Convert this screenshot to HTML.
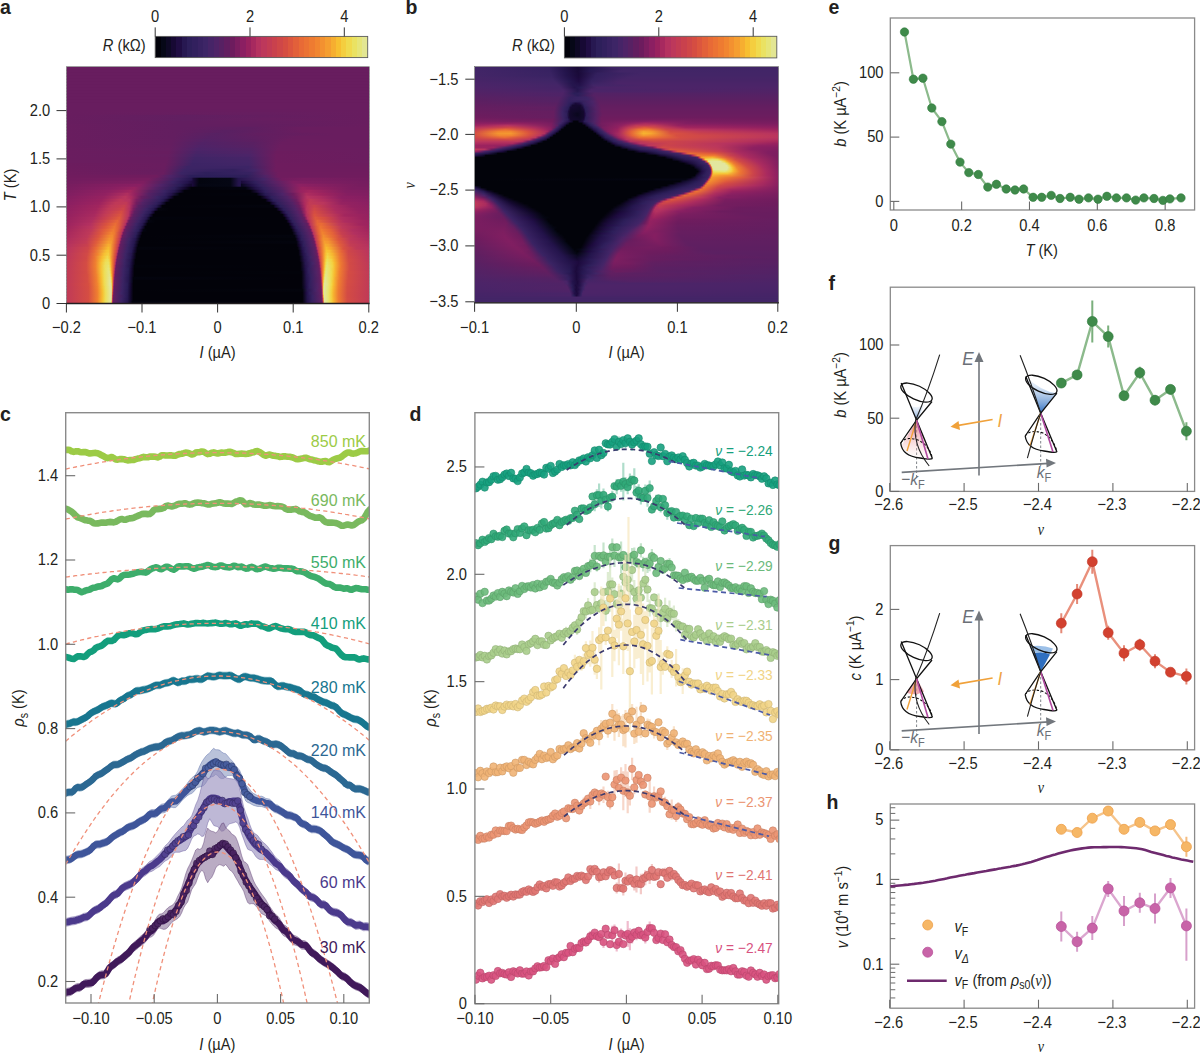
<!DOCTYPE html>
<html><head><meta charset="utf-8"><title>figure</title>
<style>html,body{margin:0;padding:0;background:#fff;}body{width:1200px;height:1054px;overflow:hidden;font-family:"Liberation Sans", sans-serif;}svg{display:block;}</style>
</head><body>
<svg width="1200" height="1054" viewBox="0 0 1200 1054" font-family='"Liberation Sans", sans-serif' font-size="15" fill="#231f20"><defs><linearGradient id="cbar"><stop offset="0.0000" stop-color="#02020a"/><stop offset="0.0250" stop-color="#02020a"/><stop offset="0.0250" stop-color="#060817"/><stop offset="0.0500" stop-color="#060817"/><stop offset="0.0500" stop-color="#0e0925"/><stop offset="0.0750" stop-color="#0e0925"/><stop offset="0.0750" stop-color="#170934"/><stop offset="0.1000" stop-color="#170934"/><stop offset="0.1000" stop-color="#200d43"/><stop offset="0.1250" stop-color="#200d43"/><stop offset="0.1250" stop-color="#271851"/><stop offset="0.1500" stop-color="#271851"/><stop offset="0.1500" stop-color="#2d1f5a"/><stop offset="0.1750" stop-color="#2d1f5a"/><stop offset="0.1750" stop-color="#32205e"/><stop offset="0.2000" stop-color="#32205e"/><stop offset="0.2000" stop-color="#382262"/><stop offset="0.2250" stop-color="#382262"/><stop offset="0.2250" stop-color="#3d2566"/><stop offset="0.2500" stop-color="#3d2566"/><stop offset="0.2500" stop-color="#462467"/><stop offset="0.2750" stop-color="#462467"/><stop offset="0.2750" stop-color="#4f2367"/><stop offset="0.3000" stop-color="#4f2367"/><stop offset="0.3000" stop-color="#572163"/><stop offset="0.3250" stop-color="#572163"/><stop offset="0.3250" stop-color="#621e60"/><stop offset="0.3500" stop-color="#621e60"/><stop offset="0.3500" stop-color="#6d1c5e"/><stop offset="0.3750" stop-color="#6d1c5e"/><stop offset="0.3750" stop-color="#7c1e60"/><stop offset="0.4000" stop-color="#7c1e60"/><stop offset="0.4000" stop-color="#8b1f62"/><stop offset="0.4250" stop-color="#8b1f62"/><stop offset="0.4250" stop-color="#99225f"/><stop offset="0.4500" stop-color="#99225f"/><stop offset="0.4500" stop-color="#a7295f"/><stop offset="0.4750" stop-color="#a7295f"/><stop offset="0.4750" stop-color="#b53260"/><stop offset="0.5000" stop-color="#b53260"/><stop offset="0.5000" stop-color="#bd385b"/><stop offset="0.5250" stop-color="#bd385b"/><stop offset="0.5250" stop-color="#c33c54"/><stop offset="0.5500" stop-color="#c33c54"/><stop offset="0.5500" stop-color="#c9414d"/><stop offset="0.5750" stop-color="#c9414d"/><stop offset="0.5750" stop-color="#cf4748"/><stop offset="0.6000" stop-color="#cf4748"/><stop offset="0.6000" stop-color="#d54d42"/><stop offset="0.6250" stop-color="#d54d42"/><stop offset="0.6250" stop-color="#dc563e"/><stop offset="0.6500" stop-color="#dc563e"/><stop offset="0.6500" stop-color="#e2603a"/><stop offset="0.6750" stop-color="#e2603a"/><stop offset="0.6750" stop-color="#e86a36"/><stop offset="0.7000" stop-color="#e86a36"/><stop offset="0.7000" stop-color="#eb7234"/><stop offset="0.7250" stop-color="#eb7234"/><stop offset="0.7250" stop-color="#ee7b31"/><stop offset="0.7500" stop-color="#ee7b31"/><stop offset="0.7500" stop-color="#f18530"/><stop offset="0.7750" stop-color="#f18530"/><stop offset="0.7750" stop-color="#f39130"/><stop offset="0.8000" stop-color="#f39130"/><stop offset="0.8000" stop-color="#f59e30"/><stop offset="0.8250" stop-color="#f59e30"/><stop offset="0.8250" stop-color="#f6ae30"/><stop offset="0.8500" stop-color="#f6ae30"/><stop offset="0.8500" stop-color="#f7bf31"/><stop offset="0.8750" stop-color="#f7bf31"/><stop offset="0.8750" stop-color="#f4ce3f"/><stop offset="0.9000" stop-color="#f4ce3f"/><stop offset="0.9000" stop-color="#f0da4e"/><stop offset="0.9250" stop-color="#f0da4e"/><stop offset="0.9250" stop-color="#eae262"/><stop offset="0.9500" stop-color="#eae262"/><stop offset="0.9500" stop-color="#e6e579"/><stop offset="0.9750" stop-color="#e6e579"/><stop offset="0.9750" stop-color="#e3e693"/><stop offset="1.0000" stop-color="#e3e693"/></linearGradient>
<linearGradient id="ga13"><stop offset="0" stop-color="#681d5f"/><stop offset="0.6898" stop-color="#681d5f"/><stop offset="1" stop-color="#681d5f"/></linearGradient>
<linearGradient id="ga14"><stop offset="0" stop-color="#681d5f"/><stop offset="0.6601" stop-color="#671d5f"/><stop offset="1" stop-color="#681d5f"/></linearGradient>
<linearGradient id="ga15"><stop offset="0" stop-color="#681d5f"/><stop offset="0.6469" stop-color="#661e60"/><stop offset="1" stop-color="#681d5f"/></linearGradient>
<linearGradient id="ga16"><stop offset="0" stop-color="#681d5f"/><stop offset="0.4026" stop-color="#611f61"/><stop offset="1" stop-color="#681d5f"/></linearGradient>
<linearGradient id="ga17"><stop offset="0" stop-color="#681d5f"/><stop offset="0.3894" stop-color="#611f61"/><stop offset="0.6535" stop-color="#661e60"/><stop offset="1" stop-color="#681d5f"/></linearGradient>
<linearGradient id="ga18"><stop offset="0" stop-color="#681d5f"/><stop offset="0.3795" stop-color="#621e60"/><stop offset="0.6403" stop-color="#641e60"/><stop offset="1" stop-color="#681d5f"/></linearGradient>
<linearGradient id="ga19"><stop offset="0" stop-color="#691d5f"/><stop offset="0.3729" stop-color="#621e60"/><stop offset="0.6271" stop-color="#621e60"/><stop offset="1" stop-color="#691d5f"/></linearGradient>
<linearGradient id="ga20"><stop offset="0" stop-color="#691d5f"/><stop offset="0.3663" stop-color="#621e60"/><stop offset="0.5974" stop-color="#5d1f61"/><stop offset="0.7657" stop-color="#691d5f"/><stop offset="1" stop-color="#691d5f"/></linearGradient>
<linearGradient id="ga21"><stop offset="0" stop-color="#691d5f"/><stop offset="0.3597" stop-color="#631e60"/><stop offset="0.5281" stop-color="#592062"/><stop offset="0.7789" stop-color="#691d5f"/><stop offset="1" stop-color="#691d5f"/></linearGradient>
<linearGradient id="ga22"><stop offset="0" stop-color="#691d5f"/><stop offset="0.3564" stop-color="#631e60"/><stop offset="0.495" stop-color="#572163"/><stop offset="0.637" stop-color="#621e60"/><stop offset="0.8878" stop-color="#691d5f"/><stop offset="1" stop-color="#691d5f"/></linearGradient>
<linearGradient id="ga23"><stop offset="0" stop-color="#691d5f"/><stop offset="0.3531" stop-color="#631e60"/><stop offset="0.4719" stop-color="#562164"/><stop offset="0.6271" stop-color="#5f1f61"/><stop offset="0.7558" stop-color="#691d5f"/><stop offset="1" stop-color="#691d5f"/></linearGradient>
<linearGradient id="ga24"><stop offset="0" stop-color="#691d5f"/><stop offset="0.3498" stop-color="#641e60"/><stop offset="0.4587" stop-color="#542265"/><stop offset="0.6238" stop-color="#5d1f61"/><stop offset="0.7327" stop-color="#6a1d5f"/><stop offset="1" stop-color="#691d5f"/></linearGradient>
<linearGradient id="ga25"><stop offset="0" stop-color="#691d5f"/><stop offset="0.3465" stop-color="#641e60"/><stop offset="0.4488" stop-color="#512266"/><stop offset="0.6172" stop-color="#592062"/><stop offset="0.7129" stop-color="#6a1d5f"/><stop offset="1" stop-color="#691d5f"/></linearGradient>
<linearGradient id="ga26"><stop offset="0" stop-color="#691d5f"/><stop offset="0.3432" stop-color="#651e60"/><stop offset="0.4422" stop-color="#4f2367"/><stop offset="0.6139" stop-color="#572163"/><stop offset="0.7063" stop-color="#6b1d5f"/><stop offset="1" stop-color="#691d5f"/></linearGradient>
<linearGradient id="ga27"><stop offset="0" stop-color="#6a1d5f"/><stop offset="0.3399" stop-color="#661e60"/><stop offset="0.4356" stop-color="#4c2468"/><stop offset="0.6106" stop-color="#532265"/><stop offset="0.6997" stop-color="#6b1d5f"/><stop offset="1" stop-color="#6a1d5f"/></linearGradient>
<linearGradient id="ga28"><stop offset="0" stop-color="#6a1d5f"/><stop offset="0.3366" stop-color="#671d5f"/><stop offset="0.4323" stop-color="#482467"/><stop offset="0.6073" stop-color="#502366"/><stop offset="0.6964" stop-color="#6c1c5e"/><stop offset="1" stop-color="#6a1d5f"/></linearGradient>
<linearGradient id="ga29"><stop offset="0" stop-color="#6a1d5f"/><stop offset="0.3366" stop-color="#661e60"/><stop offset="0.429" stop-color="#442567"/><stop offset="0.604" stop-color="#4c2468"/><stop offset="0.6931" stop-color="#6d1c5e"/><stop offset="1" stop-color="#6a1d5f"/></linearGradient>
<linearGradient id="ga30"><stop offset="0" stop-color="#6a1d5f"/><stop offset="0.3333" stop-color="#671d5f"/><stop offset="0.4257" stop-color="#402566"/><stop offset="0.6007" stop-color="#462467"/><stop offset="0.6931" stop-color="#6d1c5e"/><stop offset="1" stop-color="#6a1d5f"/></linearGradient>
<linearGradient id="ga31"><stop offset="0" stop-color="#6b1d5f"/><stop offset="0.33" stop-color="#681d5f"/><stop offset="0.4191" stop-color="#3e2566"/><stop offset="0.604" stop-color="#442567"/><stop offset="0.6898" stop-color="#6d1c5e"/><stop offset="1" stop-color="#6b1d5f"/></linearGradient>
<linearGradient id="ga32"><stop offset="0" stop-color="#6c1c5e"/><stop offset="0.3267" stop-color="#691d5f"/><stop offset="0.4158" stop-color="#3c2465"/><stop offset="0.604" stop-color="#422567"/><stop offset="0.6931" stop-color="#6e1c5e"/><stop offset="1" stop-color="#6c1c5e"/></linearGradient>
<linearGradient id="ga33"><stop offset="0" stop-color="#6d1c5e"/><stop offset="0.3234" stop-color="#691d5f"/><stop offset="0.3993" stop-color="#3c2464"/><stop offset="0.6007" stop-color="#3c2465"/><stop offset="0.6931" stop-color="#6e1c5e"/><stop offset="1" stop-color="#6d1c5e"/></linearGradient>
<linearGradient id="ga34"><stop offset="0" stop-color="#6e1c5e"/><stop offset="0.3234" stop-color="#681d5f"/><stop offset="0.3894" stop-color="#3b2464"/><stop offset="0.5512" stop-color="#33205e"/><stop offset="0.6205" stop-color="#422567"/><stop offset="0.6898" stop-color="#6e1c5e"/><stop offset="1" stop-color="#6e1c5e"/></linearGradient>
<linearGradient id="ga35"><stop offset="0" stop-color="#6f1c5e"/><stop offset="0.3201" stop-color="#691d5f"/><stop offset="0.3795" stop-color="#3b2464"/><stop offset="0.462" stop-color="#2e1f5b"/><stop offset="0.6073" stop-color="#372261"/><stop offset="0.6568" stop-color="#582163"/><stop offset="0.6997" stop-color="#6f1c5e"/><stop offset="1" stop-color="#6f1c5e"/></linearGradient>
<linearGradient id="ga36"><stop offset="0" stop-color="#701c5e"/><stop offset="0.297" stop-color="#701c5e"/><stop offset="0.3432" stop-color="#4f2367"/><stop offset="0.4125" stop-color="#2b1e59"/><stop offset="0.5941" stop-color="#2e1f5a"/><stop offset="0.6568" stop-color="#502366"/><stop offset="0.6997" stop-color="#6f1c5e"/><stop offset="1" stop-color="#701c5e"/></linearGradient>
<linearGradient id="ga37"><stop offset="0" stop-color="#721c5f"/><stop offset="0.2706" stop-color="#771d5f"/><stop offset="0.3201" stop-color="#5a2062"/><stop offset="0.3663" stop-color="#392362"/><stop offset="0.4125" stop-color="#25164f"/><stop offset="0.4191" stop-color="#170934"/><stop offset="0.4389" stop-color="#03050f"/><stop offset="0.5413" stop-color="#050714"/><stop offset="0.5677" stop-color="#24144b"/><stop offset="0.6502" stop-color="#432567"/><stop offset="0.7129" stop-color="#721c5f"/><stop offset="0.7855" stop-color="#7a1d60"/><stop offset="1" stop-color="#721c5f"/></linearGradient>
<linearGradient id="ga38"><stop offset="0" stop-color="#741d5f"/><stop offset="0.2541" stop-color="#7e1e60"/><stop offset="0.3531" stop-color="#3a2363"/><stop offset="0.3993" stop-color="#24144d"/><stop offset="0.4191" stop-color="#170934"/><stop offset="0.4389" stop-color="#03050f"/><stop offset="0.5413" stop-color="#050714"/><stop offset="0.5677" stop-color="#24144b"/><stop offset="0.5743" stop-color="#25164f"/><stop offset="0.5776" stop-color="#1a0a3a"/><stop offset="0.6238" stop-color="#301f5c"/><stop offset="0.6799" stop-color="#532265"/><stop offset="0.7492" stop-color="#801e61"/><stop offset="1" stop-color="#741d5f"/></linearGradient>
<linearGradient id="ga39"><stop offset="0" stop-color="#771d5f"/><stop offset="0.1716" stop-color="#851e61"/><stop offset="0.2409" stop-color="#891f62"/><stop offset="0.3135" stop-color="#4f2367"/><stop offset="0.3762" stop-color="#291d56"/><stop offset="0.4059" stop-color="#170934"/><stop offset="0.4125" stop-color="#11092a"/><stop offset="0.4158" stop-color="#1b0a3c"/><stop offset="0.4356" stop-color="#040612"/><stop offset="0.5413" stop-color="#050714"/><stop offset="0.5677" stop-color="#24144b"/><stop offset="0.5743" stop-color="#25164f"/><stop offset="0.5776" stop-color="#0a081f"/><stop offset="0.6106" stop-color="#221149"/><stop offset="0.637" stop-color="#31205d"/><stop offset="0.6931" stop-color="#552164"/><stop offset="0.769" stop-color="#8d2062"/><stop offset="0.967" stop-color="#771d5f"/><stop offset="1" stop-color="#771d5f"/></linearGradient>
<linearGradient id="ga40"><stop offset="0" stop-color="#7a1d60"/><stop offset="0.1485" stop-color="#881f62"/><stop offset="0.2244" stop-color="#962260"/><stop offset="0.297" stop-color="#532265"/><stop offset="0.3564" stop-color="#2e1f5a"/><stop offset="0.3894" stop-color="#160932"/><stop offset="0.4125" stop-color="#020209"/><stop offset="0.5908" stop-color="#03040f"/><stop offset="0.6238" stop-color="#221148"/><stop offset="0.6502" stop-color="#32205d"/><stop offset="0.7063" stop-color="#552164"/><stop offset="0.7789" stop-color="#98225f"/><stop offset="0.9439" stop-color="#7b1d60"/><stop offset="1" stop-color="#7a1d60"/></linearGradient>
<linearGradient id="ga41"><stop offset="0" stop-color="#7d1e60"/><stop offset="0.1386" stop-color="#8e2061"/><stop offset="0.2112" stop-color="#a3265e"/><stop offset="0.2739" stop-color="#5b2062"/><stop offset="0.3234" stop-color="#3a2363"/><stop offset="0.3564" stop-color="#26174f"/><stop offset="0.3762" stop-color="#13092e"/><stop offset="0.3894" stop-color="#020209"/><stop offset="0.6073" stop-color="#020209"/><stop offset="0.637" stop-color="#221048"/><stop offset="0.6568" stop-color="#301f5c"/><stop offset="0.7129" stop-color="#522265"/><stop offset="0.7723" stop-color="#982260"/><stop offset="0.802" stop-color="#a4265e"/><stop offset="0.9208" stop-color="#811e61"/><stop offset="1" stop-color="#7d1e60"/></linearGradient>
<linearGradient id="ga42"><stop offset="0" stop-color="#801e61"/><stop offset="0.1287" stop-color="#912161"/><stop offset="0.2013" stop-color="#b02f5f"/><stop offset="0.2277" stop-color="#912161"/><stop offset="0.2706" stop-color="#562164"/><stop offset="0.3234" stop-color="#34205f"/><stop offset="0.3465" stop-color="#24134b"/><stop offset="0.3696" stop-color="#050715"/><stop offset="0.3729" stop-color="#020209"/><stop offset="0.6271" stop-color="#02030b"/><stop offset="0.637" stop-color="#13092e"/><stop offset="0.6568" stop-color="#281a54"/><stop offset="0.7129" stop-color="#4c2468"/><stop offset="0.7492" stop-color="#6e1c5e"/><stop offset="0.7921" stop-color="#ae2d5f"/><stop offset="0.8416" stop-color="#a0245e"/><stop offset="0.9274" stop-color="#841e61"/><stop offset="1" stop-color="#801e61"/></linearGradient>
<linearGradient id="ga43"><stop offset="0" stop-color="#841e61"/><stop offset="0.1221" stop-color="#962260"/><stop offset="0.1947" stop-color="#ba365d"/><stop offset="0.2145" stop-color="#a92a5f"/><stop offset="0.2475" stop-color="#681d5f"/><stop offset="0.3003" stop-color="#3b2464"/><stop offset="0.33" stop-color="#281a54"/><stop offset="0.3432" stop-color="#190a38"/><stop offset="0.3564" stop-color="#020209"/><stop offset="0.6403" stop-color="#020209"/><stop offset="0.6601" stop-color="#200d43"/><stop offset="0.6766" stop-color="#2e1f5b"/><stop offset="0.7294" stop-color="#512366"/><stop offset="0.7591" stop-color="#761d5f"/><stop offset="0.7954" stop-color="#b83460"/><stop offset="0.835" stop-color="#af2e5f"/><stop offset="0.9076" stop-color="#8c1f62"/><stop offset="1" stop-color="#841e61"/></linearGradient>
<linearGradient id="ga44"><stop offset="0" stop-color="#871f62"/><stop offset="0.1155" stop-color="#99225f"/><stop offset="0.1782" stop-color="#be3859"/><stop offset="0.2079" stop-color="#b63360"/><stop offset="0.231" stop-color="#7d1e60"/><stop offset="0.2574" stop-color="#542265"/><stop offset="0.3069" stop-color="#31205d"/><stop offset="0.3201" stop-color="#261851"/><stop offset="0.3333" stop-color="#14092f"/><stop offset="0.3432" stop-color="#020209"/><stop offset="0.6568" stop-color="#020209"/><stop offset="0.6667" stop-color="#170935"/><stop offset="0.6832" stop-color="#2b1e59"/><stop offset="0.736" stop-color="#502366"/><stop offset="0.7591" stop-color="#6b1d5f"/><stop offset="0.7855" stop-color="#ac2c5f"/><stop offset="0.8053" stop-color="#bf3a58"/><stop offset="0.8515" stop-color="#af2e5f"/><stop offset="0.9142" stop-color="#8f2061"/><stop offset="1" stop-color="#871f62"/></linearGradient>
<linearGradient id="ga45"><stop offset="0" stop-color="#8a1f62"/><stop offset="0.1089" stop-color="#9c235f"/><stop offset="0.1617" stop-color="#bf3958"/><stop offset="0.198" stop-color="#c13a56"/><stop offset="0.2112" stop-color="#af2e5f"/><stop offset="0.231" stop-color="#731c5f"/><stop offset="0.2508" stop-color="#532265"/><stop offset="0.297" stop-color="#311f5c"/><stop offset="0.3102" stop-color="#25164e"/><stop offset="0.3234" stop-color="#0e0926"/><stop offset="0.33" stop-color="#020209"/><stop offset="0.67" stop-color="#020209"/><stop offset="0.6799" stop-color="#190a38"/><stop offset="0.6964" stop-color="#2d1f5a"/><stop offset="0.7459" stop-color="#522265"/><stop offset="0.7657" stop-color="#6e1c5e"/><stop offset="0.7855" stop-color="#aa2a5f"/><stop offset="0.802" stop-color="#c23b55"/><stop offset="0.8482" stop-color="#ba365d"/><stop offset="0.9076" stop-color="#952260"/><stop offset="1" stop-color="#8a1f62"/></linearGradient>
<linearGradient id="ga46"><stop offset="0" stop-color="#8d2061"/><stop offset="0.1056" stop-color="#a1255e"/><stop offset="0.1485" stop-color="#bf3958"/><stop offset="0.1914" stop-color="#c8404e"/><stop offset="0.2079" stop-color="#b73360"/><stop offset="0.2211" stop-color="#861f61"/><stop offset="0.2376" stop-color="#592062"/><stop offset="0.2772" stop-color="#372261"/><stop offset="0.297" stop-color="#281a53"/><stop offset="0.3102" stop-color="#12092c"/><stop offset="0.3168" stop-color="#020209"/><stop offset="0.6832" stop-color="#03040d"/><stop offset="0.6898" stop-color="#160933"/><stop offset="0.7063" stop-color="#2c1f5a"/><stop offset="0.7525" stop-color="#522265"/><stop offset="0.769" stop-color="#6a1d5f"/><stop offset="0.7855" stop-color="#a5275e"/><stop offset="0.7954" stop-color="#bd385a"/><stop offset="0.8185" stop-color="#ca424c"/><stop offset="0.8779" stop-color="#ac2c5f"/><stop offset="0.9406" stop-color="#932160"/><stop offset="1" stop-color="#8d2061"/></linearGradient>
<linearGradient id="ga47"><stop offset="0" stop-color="#902061"/><stop offset="0.09901" stop-color="#a3265e"/><stop offset="0.1386" stop-color="#bf3958"/><stop offset="0.1881" stop-color="#cd4549"/><stop offset="0.2079" stop-color="#b43160"/><stop offset="0.2211" stop-color="#7a1d60"/><stop offset="0.231" stop-color="#5c2062"/><stop offset="0.264" stop-color="#3b2464"/><stop offset="0.2871" stop-color="#271952"/><stop offset="0.297" stop-color="#170934"/><stop offset="0.3036" stop-color="#04050f"/><stop offset="0.3399" stop-color="#020209"/><stop offset="0.6931" stop-color="#020209"/><stop offset="0.703" stop-color="#1b0a3a"/><stop offset="0.7162" stop-color="#2c1e59"/><stop offset="0.7558" stop-color="#502366"/><stop offset="0.7723" stop-color="#671d5f"/><stop offset="0.7855" stop-color="#9e235e"/><stop offset="0.7921" stop-color="#b9345f"/><stop offset="0.8185" stop-color="#d04847"/><stop offset="0.8878" stop-color="#ab2b5f"/><stop offset="0.9571" stop-color="#942160"/><stop offset="1" stop-color="#902061"/></linearGradient>
<linearGradient id="ga48"><stop offset="0" stop-color="#922161"/><stop offset="0.09571" stop-color="#a6285f"/><stop offset="0.132" stop-color="#c03a57"/><stop offset="0.1815" stop-color="#d54d43"/><stop offset="0.2046" stop-color="#ba355e"/><stop offset="0.2145" stop-color="#8b1f62"/><stop offset="0.2244" stop-color="#5f1f61"/><stop offset="0.2574" stop-color="#3a2363"/><stop offset="0.2772" stop-color="#281a54"/><stop offset="0.2871" stop-color="#170934"/><stop offset="0.2937" stop-color="#020209"/><stop offset="0.703" stop-color="#020209"/><stop offset="0.7162" stop-color="#210e45"/><stop offset="0.7261" stop-color="#2d1f5a"/><stop offset="0.7624" stop-color="#522266"/><stop offset="0.7756" stop-color="#641e60"/><stop offset="0.7888" stop-color="#a5285e"/><stop offset="0.7954" stop-color="#bc375c"/><stop offset="0.8185" stop-color="#d54d42"/><stop offset="0.8944" stop-color="#ac2c5f"/><stop offset="0.967" stop-color="#952260"/><stop offset="1" stop-color="#922161"/></linearGradient>
<linearGradient id="ga49"><stop offset="0" stop-color="#942160"/><stop offset="0.09241" stop-color="#a92a5f"/><stop offset="0.1254" stop-color="#c13b56"/><stop offset="0.1782" stop-color="#da543f"/><stop offset="0.2046" stop-color="#b83460"/><stop offset="0.2145" stop-color="#791d60"/><stop offset="0.2211" stop-color="#5e1f61"/><stop offset="0.2508" stop-color="#3b2464"/><stop offset="0.2706" stop-color="#261850"/><stop offset="0.2805" stop-color="#11092a"/><stop offset="0.2871" stop-color="#020209"/><stop offset="0.7129" stop-color="#020209"/><stop offset="0.7228" stop-color="#1e0a40"/><stop offset="0.7327" stop-color="#2d1f5a"/><stop offset="0.7657" stop-color="#502366"/><stop offset="0.7789" stop-color="#611f61"/><stop offset="0.7855" stop-color="#841e61"/><stop offset="0.7921" stop-color="#b02f5f"/><stop offset="0.8185" stop-color="#da523f"/><stop offset="0.8746" stop-color="#c03a57"/><stop offset="0.9175" stop-color="#a3265e"/><stop offset="1" stop-color="#942160"/></linearGradient>
<linearGradient id="ga50"><stop offset="0" stop-color="#972260"/><stop offset="0.08911" stop-color="#ad2d5f"/><stop offset="0.1254" stop-color="#c63e50"/><stop offset="0.1749" stop-color="#df5c3b"/><stop offset="0.2013" stop-color="#b9355f"/><stop offset="0.2079" stop-color="#8b1f62"/><stop offset="0.2112" stop-color="#6f1c5e"/><stop offset="0.2178" stop-color="#5c2062"/><stop offset="0.2442" stop-color="#3c2464"/><stop offset="0.264" stop-color="#261750"/><stop offset="0.2739" stop-color="#0f0927"/><stop offset="0.2772" stop-color="#02030c"/><stop offset="0.7195" stop-color="#020209"/><stop offset="0.7294" stop-color="#1d0a3f"/><stop offset="0.7393" stop-color="#2d1f5a"/><stop offset="0.7723" stop-color="#522266"/><stop offset="0.7855" stop-color="#661e60"/><stop offset="0.7921" stop-color="#99225f"/><stop offset="0.7954" stop-color="#b33160"/><stop offset="0.8218" stop-color="#de5a3c"/><stop offset="0.8515" stop-color="#d54d42"/><stop offset="0.9043" stop-color="#b12f5f"/><stop offset="0.9769" stop-color="#99225f"/><stop offset="1" stop-color="#972260"/></linearGradient>
<linearGradient id="ga51"><stop offset="0" stop-color="#99235f"/><stop offset="0.08251" stop-color="#af2e5f"/><stop offset="0.1254" stop-color="#cd454a"/><stop offset="0.1683" stop-color="#e66638"/><stop offset="0.1914" stop-color="#c43d53"/><stop offset="0.198" stop-color="#b83460"/><stop offset="0.2046" stop-color="#771d5f"/><stop offset="0.2079" stop-color="#621e60"/><stop offset="0.2376" stop-color="#3c2464"/><stop offset="0.2574" stop-color="#261750"/><stop offset="0.2673" stop-color="#0f0927"/><stop offset="0.2706" stop-color="#040510"/><stop offset="0.2937" stop-color="#020209"/><stop offset="0.7261" stop-color="#020209"/><stop offset="0.736" stop-color="#1d0a3f"/><stop offset="0.7459" stop-color="#2d1f5a"/><stop offset="0.7756" stop-color="#4f2367"/><stop offset="0.7921" stop-color="#691d5f"/><stop offset="0.7987" stop-color="#ac2c5f"/><stop offset="0.8053" stop-color="#c13a56"/><stop offset="0.8284" stop-color="#e56538"/><stop offset="0.8812" stop-color="#c63f50"/><stop offset="0.9175" stop-color="#ae2d5f"/><stop offset="1" stop-color="#99225f"/></linearGradient>
<linearGradient id="ga52"><stop offset="0" stop-color="#9c235f"/><stop offset="0.07921" stop-color="#b43160"/><stop offset="0.132" stop-color="#d9523f"/><stop offset="0.1617" stop-color="#ea6e35"/><stop offset="0.1749" stop-color="#de5a3c"/><stop offset="0.1947" stop-color="#b43260"/><stop offset="0.198" stop-color="#8c1f62"/><stop offset="0.2013" stop-color="#671d5f"/><stop offset="0.231" stop-color="#3c2465"/><stop offset="0.2508" stop-color="#271851"/><stop offset="0.2607" stop-color="#11092a"/><stop offset="0.2673" stop-color="#020209"/><stop offset="0.7327" stop-color="#020209"/><stop offset="0.7426" stop-color="#1e0a40"/><stop offset="0.7525" stop-color="#2d1f5a"/><stop offset="0.7822" stop-color="#502366"/><stop offset="0.7954" stop-color="#621e60"/><stop offset="0.7987" stop-color="#761d5f"/><stop offset="0.802" stop-color="#a1255e"/><stop offset="0.8053" stop-color="#bb365d"/><stop offset="0.8284" stop-color="#e66737"/><stop offset="0.8416" stop-color="#e96c35"/><stop offset="0.901" stop-color="#be3959"/><stop offset="0.967" stop-color="#a1255e"/><stop offset="1" stop-color="#9c235f"/></linearGradient>
<linearGradient id="ga53"><stop offset="0" stop-color="#9f245e"/><stop offset="0.08251" stop-color="#bb365d"/><stop offset="0.1254" stop-color="#db543e"/><stop offset="0.1584" stop-color="#ec7633"/><stop offset="0.1716" stop-color="#e15f3a"/><stop offset="0.1881" stop-color="#be3859"/><stop offset="0.1914" stop-color="#ab2c5f"/><stop offset="0.1947" stop-color="#7c1e60"/><stop offset="0.198" stop-color="#631e60"/><stop offset="0.2277" stop-color="#3a2363"/><stop offset="0.2442" stop-color="#281b54"/><stop offset="0.2541" stop-color="#14092f"/><stop offset="0.2607" stop-color="#020209"/><stop offset="0.736" stop-color="#020209"/><stop offset="0.7393" stop-color="#040511"/><stop offset="0.7492" stop-color="#200d43"/><stop offset="0.7591" stop-color="#2e1f5b"/><stop offset="0.7888" stop-color="#522265"/><stop offset="0.802" stop-color="#691d5f"/><stop offset="0.8053" stop-color="#942160"/><stop offset="0.8086" stop-color="#ba365d"/><stop offset="0.8251" stop-color="#dd593d"/><stop offset="0.8383" stop-color="#ec7533"/><stop offset="0.868" stop-color="#df5c3c"/><stop offset="0.9109" stop-color="#bd385a"/><stop offset="0.9934" stop-color="#a0245e"/><stop offset="1" stop-color="#9f245e"/></linearGradient>
<linearGradient id="ga54"><stop offset="0" stop-color="#a2265e"/><stop offset="0.08251" stop-color="#be3959"/><stop offset="0.1221" stop-color="#df5b3c"/><stop offset="0.1551" stop-color="#ef7d31"/><stop offset="0.1683" stop-color="#e46438"/><stop offset="0.1815" stop-color="#c53e51"/><stop offset="0.1848" stop-color="#bf3959"/><stop offset="0.1881" stop-color="#a3265e"/><stop offset="0.1914" stop-color="#711c5e"/><stop offset="0.198" stop-color="#5c2062"/><stop offset="0.2244" stop-color="#392362"/><stop offset="0.2376" stop-color="#2a1e58"/><stop offset="0.2475" stop-color="#170935"/><stop offset="0.2541" stop-color="#040510"/><stop offset="0.2673" stop-color="#020209"/><stop offset="0.7426" stop-color="#020209"/><stop offset="0.7558" stop-color="#221148"/><stop offset="0.7657" stop-color="#301f5c"/><stop offset="0.7921" stop-color="#502366"/><stop offset="0.8053" stop-color="#641e60"/><stop offset="0.8086" stop-color="#8b1f62"/><stop offset="0.8119" stop-color="#b9355f"/><stop offset="0.8284" stop-color="#e05e3b"/><stop offset="0.8416" stop-color="#ef7d31"/><stop offset="0.8713" stop-color="#e46339"/><stop offset="0.9043" stop-color="#c53e51"/><stop offset="0.9439" stop-color="#b02f5f"/><stop offset="1" stop-color="#a2255e"/></linearGradient>
<linearGradient id="ga55"><stop offset="0" stop-color="#a6285e"/><stop offset="0.07591" stop-color="#be3959"/><stop offset="0.1122" stop-color="#db553e"/><stop offset="0.1485" stop-color="#f18430"/><stop offset="0.1584" stop-color="#ee7c31"/><stop offset="0.1749" stop-color="#cf4748"/><stop offset="0.1815" stop-color="#c03a57"/><stop offset="0.1848" stop-color="#9f245e"/><stop offset="0.1881" stop-color="#6d1c5e"/><stop offset="0.2013" stop-color="#512266"/><stop offset="0.231" stop-color="#2c1e59"/><stop offset="0.2442" stop-color="#14092f"/><stop offset="0.2508" stop-color="#020209"/><stop offset="0.7459" stop-color="#020209"/><stop offset="0.7624" stop-color="#25164e"/><stop offset="0.7756" stop-color="#362160"/><stop offset="0.7987" stop-color="#542265"/><stop offset="0.8086" stop-color="#631e60"/><stop offset="0.8119" stop-color="#851f61"/><stop offset="0.8152" stop-color="#b9345f"/><stop offset="0.8317" stop-color="#e46339"/><stop offset="0.8449" stop-color="#f18430"/><stop offset="0.8779" stop-color="#e46339"/><stop offset="0.9076" stop-color="#c73f4f"/><stop offset="0.9505" stop-color="#b23060"/><stop offset="1" stop-color="#a5285e"/></linearGradient>
<linearGradient id="ga56"><stop offset="0" stop-color="#a92a5f"/><stop offset="0.06931" stop-color="#be3959"/><stop offset="0.1056" stop-color="#da543f"/><stop offset="0.1419" stop-color="#f28a30"/><stop offset="0.1518" stop-color="#f28c30"/><stop offset="0.165" stop-color="#e36239"/><stop offset="0.1782" stop-color="#c23b55"/><stop offset="0.1815" stop-color="#a2255e"/><stop offset="0.1848" stop-color="#6d1c5e"/><stop offset="0.198" stop-color="#512366"/><stop offset="0.2277" stop-color="#2b1e59"/><stop offset="0.2409" stop-color="#11092a"/><stop offset="0.2475" stop-color="#020209"/><stop offset="0.7525" stop-color="#03040d"/><stop offset="0.7657" stop-color="#23134b"/><stop offset="0.7789" stop-color="#35215f"/><stop offset="0.802" stop-color="#532265"/><stop offset="0.8119" stop-color="#631e60"/><stop offset="0.8152" stop-color="#871f62"/><stop offset="0.8185" stop-color="#ba365d"/><stop offset="0.8317" stop-color="#df5b3c"/><stop offset="0.8482" stop-color="#f28e30"/><stop offset="0.8845" stop-color="#e36239"/><stop offset="0.9142" stop-color="#c73f4f"/><stop offset="0.9637" stop-color="#b2305f"/><stop offset="1" stop-color="#a92a5f"/></linearGradient>
<linearGradient id="ga57"><stop offset="0" stop-color="#ad2d5f"/><stop offset="0.06601" stop-color="#c03a57"/><stop offset="0.1023" stop-color="#dc573d"/><stop offset="0.1419" stop-color="#f39630"/><stop offset="0.1518" stop-color="#f28f30"/><stop offset="0.165" stop-color="#df5b3c"/><stop offset="0.1749" stop-color="#c53d52"/><stop offset="0.1782" stop-color="#ac2c5f"/><stop offset="0.1815" stop-color="#731c5f"/><stop offset="0.1848" stop-color="#601f61"/><stop offset="0.2079" stop-color="#3d2565"/><stop offset="0.2277" stop-color="#25164f"/><stop offset="0.2442" stop-color="#020209"/><stop offset="0.7558" stop-color="#02030a"/><stop offset="0.7657" stop-color="#1d0a3e"/><stop offset="0.7756" stop-color="#2d1f5a"/><stop offset="0.802" stop-color="#4e2367"/><stop offset="0.8152" stop-color="#641e60"/><stop offset="0.8185" stop-color="#8f2061"/><stop offset="0.8218" stop-color="#bf3959"/><stop offset="0.835" stop-color="#e46339"/><stop offset="0.8482" stop-color="#f39330"/><stop offset="0.8614" stop-color="#f39030"/><stop offset="0.8977" stop-color="#db543e"/><stop offset="0.9373" stop-color="#be385a"/><stop offset="1" stop-color="#ac2c5f"/></linearGradient>
<linearGradient id="ga58"><stop offset="0" stop-color="#b02f5f"/><stop offset="0.06601" stop-color="#c33c54"/><stop offset="0.09901" stop-color="#df5b3c"/><stop offset="0.1386" stop-color="#f59e30"/><stop offset="0.1485" stop-color="#f49a30"/><stop offset="0.1617" stop-color="#e46438"/><stop offset="0.1716" stop-color="#c8404e"/><stop offset="0.1749" stop-color="#ba355e"/><stop offset="0.1782" stop-color="#7f1e60"/><stop offset="0.1815" stop-color="#611f61"/><stop offset="0.2046" stop-color="#3d2565"/><stop offset="0.2244" stop-color="#26174f"/><stop offset="0.2409" stop-color="#020209"/><stop offset="0.7591" stop-color="#03040d"/><stop offset="0.7723" stop-color="#23124a"/><stop offset="0.7855" stop-color="#34215f"/><stop offset="0.8086" stop-color="#542265"/><stop offset="0.8185" stop-color="#681d5f"/><stop offset="0.8218" stop-color="#9d235f"/><stop offset="0.8251" stop-color="#c43d53"/><stop offset="0.835" stop-color="#df5c3c"/><stop offset="0.8515" stop-color="#f59e30"/><stop offset="0.8647" stop-color="#f49830"/><stop offset="0.901" stop-color="#dd583d"/><stop offset="0.9373" stop-color="#c13a56"/><stop offset="1" stop-color="#b02f5f"/></linearGradient>
<linearGradient id="ga59"><stop offset="0" stop-color="#b43260"/><stop offset="0.06931" stop-color="#c8404e"/><stop offset="0.09571" stop-color="#e05e3b"/><stop offset="0.1386" stop-color="#f6ae30"/><stop offset="0.1452" stop-color="#f6a830"/><stop offset="0.1617" stop-color="#e05c3b"/><stop offset="0.1716" stop-color="#c13b56"/><stop offset="0.1749" stop-color="#902061"/><stop offset="0.1782" stop-color="#631e60"/><stop offset="0.2046" stop-color="#3a2363"/><stop offset="0.2211" stop-color="#261851"/><stop offset="0.231" stop-color="#12092c"/><stop offset="0.2376" stop-color="#020209"/><stop offset="0.7591" stop-color="#020209"/><stop offset="0.7723" stop-color="#1e0a40"/><stop offset="0.7822" stop-color="#2d1f5a"/><stop offset="0.8086" stop-color="#502366"/><stop offset="0.8185" stop-color="#601f61"/><stop offset="0.8218" stop-color="#721c5f"/><stop offset="0.8251" stop-color="#af2e5f"/><stop offset="0.8284" stop-color="#c8404e"/><stop offset="0.8383" stop-color="#e56538"/><stop offset="0.8548" stop-color="#f6ac30"/><stop offset="0.8647" stop-color="#f5a630"/><stop offset="0.9043" stop-color="#df5b3c"/><stop offset="0.9373" stop-color="#c43d53"/><stop offset="1" stop-color="#b43160"/></linearGradient>
<linearGradient id="ga60"><stop offset="0" stop-color="#b83460"/><stop offset="0.07261" stop-color="#ce4649"/><stop offset="0.09901" stop-color="#e96d35"/><stop offset="0.1386" stop-color="#f7bd30"/><stop offset="0.1452" stop-color="#f6ab30"/><stop offset="0.1584" stop-color="#e66637"/><stop offset="0.1683" stop-color="#c8404e"/><stop offset="0.1716" stop-color="#a1255e"/><stop offset="0.1749" stop-color="#681d5f"/><stop offset="0.2013" stop-color="#3b2464"/><stop offset="0.2178" stop-color="#281a53"/><stop offset="0.2277" stop-color="#14092f"/><stop offset="0.2343" stop-color="#03040d"/><stop offset="0.7624" stop-color="#020209"/><stop offset="0.7789" stop-color="#25154e"/><stop offset="0.7921" stop-color="#362160"/><stop offset="0.8152" stop-color="#562164"/><stop offset="0.8218" stop-color="#611f61"/><stop offset="0.8251" stop-color="#821e61"/><stop offset="0.8284" stop-color="#bd385b"/><stop offset="0.8383" stop-color="#e05d3b"/><stop offset="0.8515" stop-color="#f5a130"/><stop offset="0.8581" stop-color="#f7bc30"/><stop offset="0.8746" stop-color="#f5a230"/><stop offset="0.9142" stop-color="#d95140"/><stop offset="0.9571" stop-color="#bf3958"/><stop offset="1" stop-color="#b83460"/></linearGradient>
<linearGradient id="ga61"><stop offset="0" stop-color="#ba355e"/><stop offset="0.06931" stop-color="#cf4748"/><stop offset="0.09241" stop-color="#e76837"/><stop offset="0.132" stop-color="#f6c234"/><stop offset="0.1386" stop-color="#f5c738"/><stop offset="0.1452" stop-color="#f6ad30"/><stop offset="0.1584" stop-color="#e2603a"/><stop offset="0.165" stop-color="#cd454a"/><stop offset="0.1683" stop-color="#b83460"/><stop offset="0.1716" stop-color="#751d5f"/><stop offset="0.1749" stop-color="#601f61"/><stop offset="0.198" stop-color="#3c2465"/><stop offset="0.2145" stop-color="#291c56"/><stop offset="0.2244" stop-color="#160933"/><stop offset="0.2343" stop-color="#020209"/><stop offset="0.7657" stop-color="#020209"/><stop offset="0.7789" stop-color="#210f46"/><stop offset="0.7888" stop-color="#2f1f5c"/><stop offset="0.8152" stop-color="#522265"/><stop offset="0.8251" stop-color="#641e60"/><stop offset="0.8284" stop-color="#962260"/><stop offset="0.8317" stop-color="#c63e50"/><stop offset="0.8449" stop-color="#ee7932"/><stop offset="0.8581" stop-color="#f6c435"/><stop offset="0.868" stop-color="#f7c032"/><stop offset="0.9076" stop-color="#e56438"/><stop offset="0.9307" stop-color="#ce4649"/><stop offset="1" stop-color="#ba355e"/></linearGradient>
<linearGradient id="ga62"><stop offset="0" stop-color="#bb375c"/><stop offset="0.06931" stop-color="#d24a46"/><stop offset="0.1023" stop-color="#f08130"/><stop offset="0.1254" stop-color="#f6c234"/><stop offset="0.1386" stop-color="#f4cf40"/><stop offset="0.1452" stop-color="#f6af30"/><stop offset="0.1584" stop-color="#de5a3c"/><stop offset="0.165" stop-color="#c43d52"/><stop offset="0.1683" stop-color="#8e2061"/><stop offset="0.1716" stop-color="#621e60"/><stop offset="0.1947" stop-color="#3d2565"/><stop offset="0.2145" stop-color="#26174f"/><stop offset="0.231" stop-color="#020209"/><stop offset="0.7657" stop-color="#020209"/><stop offset="0.7822" stop-color="#23124a"/><stop offset="0.7954" stop-color="#34215f"/><stop offset="0.8185" stop-color="#542264"/><stop offset="0.8284" stop-color="#6e1c5e"/><stop offset="0.8317" stop-color="#b02f5f"/><stop offset="0.835" stop-color="#ce4649"/><stop offset="0.8449" stop-color="#ec7633"/><stop offset="0.8548" stop-color="#f7bb30"/><stop offset="0.8614" stop-color="#f3d242"/><stop offset="0.8779" stop-color="#f6b630"/><stop offset="0.9043" stop-color="#ea7134"/><stop offset="0.9307" stop-color="#d04847"/><stop offset="1" stop-color="#bb365c"/></linearGradient>
<linearGradient id="ga63"><stop offset="0" stop-color="#bd375b"/><stop offset="0.06601" stop-color="#d14946"/><stop offset="0.09241" stop-color="#eb7234"/><stop offset="0.1188" stop-color="#f7bd30"/><stop offset="0.1353" stop-color="#f0da4d"/><stop offset="0.1419" stop-color="#f5cb3c"/><stop offset="0.1485" stop-color="#f39530"/><stop offset="0.1584" stop-color="#db543e"/><stop offset="0.1617" stop-color="#cf4748"/><stop offset="0.165" stop-color="#ab2b5f"/><stop offset="0.1683" stop-color="#6a1d5f"/><stop offset="0.1947" stop-color="#3b2464"/><stop offset="0.2112" stop-color="#281b54"/><stop offset="0.2211" stop-color="#150931"/><stop offset="0.231" stop-color="#020209"/><stop offset="0.769" stop-color="#020209"/><stop offset="0.7855" stop-color="#25164f"/><stop offset="0.8053" stop-color="#3d2565"/><stop offset="0.8284" stop-color="#621e60"/><stop offset="0.8317" stop-color="#881f62"/><stop offset="0.835" stop-color="#c33c53"/><stop offset="0.8449" stop-color="#eb7334"/><stop offset="0.8548" stop-color="#f7c132"/><stop offset="0.8614" stop-color="#f1da4d"/><stop offset="0.8779" stop-color="#f6c133"/><stop offset="0.9043" stop-color="#ec7533"/><stop offset="0.9307" stop-color="#d24a45"/><stop offset="1" stop-color="#bc375b"/></linearGradient>
<linearGradient id="ga64"><stop offset="0" stop-color="#be385a"/><stop offset="0.06601" stop-color="#d24a45"/><stop offset="0.09571" stop-color="#ee7c31"/><stop offset="0.1155" stop-color="#f7bb30"/><stop offset="0.1287" stop-color="#f0da4e"/><stop offset="0.1353" stop-color="#ecdf5a"/><stop offset="0.1386" stop-color="#eedd56"/><stop offset="0.1419" stop-color="#f3d344"/><stop offset="0.1452" stop-color="#f7b930"/><stop offset="0.1518" stop-color="#ee7b31"/><stop offset="0.1584" stop-color="#d74f40"/><stop offset="0.1617" stop-color="#c43d53"/><stop offset="0.165" stop-color="#861f61"/><stop offset="0.1683" stop-color="#611f61"/><stop offset="0.1914" stop-color="#3d2565"/><stop offset="0.2112" stop-color="#25164f"/><stop offset="0.2277" stop-color="#020209"/><stop offset="0.769" stop-color="#020209"/><stop offset="0.7855" stop-color="#231249"/><stop offset="0.7987" stop-color="#34205f"/><stop offset="0.8218" stop-color="#542265"/><stop offset="0.8317" stop-color="#691d5f"/><stop offset="0.835" stop-color="#aa2b5f"/><stop offset="0.8383" stop-color="#d14946"/><stop offset="0.8482" stop-color="#f18830"/><stop offset="0.8548" stop-color="#f5c739"/><stop offset="0.8581" stop-color="#f0da4e"/><stop offset="0.8614" stop-color="#ecdf5a"/><stop offset="0.8746" stop-color="#f3d343"/><stop offset="0.8845" stop-color="#f6b530"/><stop offset="0.9043" stop-color="#ed7832"/><stop offset="0.9307" stop-color="#d44c44"/><stop offset="0.9967" stop-color="#be385a"/><stop offset="1" stop-color="#bd385a"/></linearGradient>
<linearGradient id="ga65"><stop offset="0" stop-color="#be3959"/><stop offset="0.06601" stop-color="#d44c44"/><stop offset="0.09571" stop-color="#ef7e31"/><stop offset="0.1155" stop-color="#f6c334"/><stop offset="0.1287" stop-color="#eddf5a"/><stop offset="0.1386" stop-color="#e9e364"/><stop offset="0.1419" stop-color="#f0db50"/><stop offset="0.1452" stop-color="#f6c233"/><stop offset="0.1518" stop-color="#ee7b31"/><stop offset="0.1584" stop-color="#d44c43"/><stop offset="0.1617" stop-color="#ae2d5f"/><stop offset="0.165" stop-color="#6a1d5f"/><stop offset="0.1914" stop-color="#3b2464"/><stop offset="0.2079" stop-color="#281b54"/><stop offset="0.2178" stop-color="#150932"/><stop offset="0.2277" stop-color="#020209"/><stop offset="0.7723" stop-color="#020209"/><stop offset="0.7888" stop-color="#26174f"/><stop offset="0.8119" stop-color="#422567"/><stop offset="0.8317" stop-color="#621e60"/><stop offset="0.835" stop-color="#891f62"/><stop offset="0.8383" stop-color="#c63f50"/><stop offset="0.8449" stop-color="#ea6f35"/><stop offset="0.8515" stop-color="#f6ae30"/><stop offset="0.8548" stop-color="#f3d142"/><stop offset="0.8581" stop-color="#ece05c"/><stop offset="0.8614" stop-color="#e8e468"/><stop offset="0.8779" stop-color="#f3d242"/><stop offset="0.8845" stop-color="#f7bd30"/><stop offset="0.9043" stop-color="#ee7b31"/><stop offset="0.934" stop-color="#d24a45"/><stop offset="1" stop-color="#be3959"/></linearGradient>
<linearGradient id="ga66"><stop offset="0" stop-color="#bf3958"/><stop offset="0.06601" stop-color="#d44c44"/><stop offset="0.09571" stop-color="#f07f30"/><stop offset="0.1122" stop-color="#f7b930"/><stop offset="0.1254" stop-color="#edde57"/><stop offset="0.1386" stop-color="#e7e474"/><stop offset="0.1419" stop-color="#ebe05e"/><stop offset="0.1452" stop-color="#f4cb3c"/><stop offset="0.1485" stop-color="#f59e30"/><stop offset="0.1551" stop-color="#e2603a"/><stop offset="0.1584" stop-color="#cb434b"/><stop offset="0.1617" stop-color="#902061"/><stop offset="0.165" stop-color="#621e60"/><stop offset="0.1914" stop-color="#3a2363"/><stop offset="0.2079" stop-color="#261851"/><stop offset="0.2178" stop-color="#12092d"/><stop offset="0.2244" stop-color="#02030b"/><stop offset="0.7723" stop-color="#020209"/><stop offset="0.7888" stop-color="#24134b"/><stop offset="0.8053" stop-color="#382262"/><stop offset="0.8284" stop-color="#592062"/><stop offset="0.835" stop-color="#6d1c5e"/><stop offset="0.8383" stop-color="#b73460"/><stop offset="0.8416" stop-color="#d9523f"/><stop offset="0.8482" stop-color="#f28b30"/><stop offset="0.8515" stop-color="#f6b630"/><stop offset="0.8548" stop-color="#f0da4d"/><stop offset="0.8581" stop-color="#e8e46b"/><stop offset="0.8614" stop-color="#e7e474"/><stop offset="0.8779" stop-color="#f2d646"/><stop offset="0.8878" stop-color="#f6b230"/><stop offset="0.9076" stop-color="#ec7433"/><stop offset="0.934" stop-color="#d34b45"/><stop offset="1" stop-color="#bf3958"/></linearGradient>
<linearGradient id="ga67"><stop offset="0" stop-color="#bf3a58"/><stop offset="0.06601" stop-color="#d44c44"/><stop offset="0.09571" stop-color="#ef7d31"/><stop offset="0.1155" stop-color="#f6c536"/><stop offset="0.1287" stop-color="#eae262"/><stop offset="0.1386" stop-color="#e6e57c"/><stop offset="0.1419" stop-color="#e8e46c"/><stop offset="0.1452" stop-color="#f3d546"/><stop offset="0.1485" stop-color="#f5a530"/><stop offset="0.1551" stop-color="#e05d3b"/><stop offset="0.1584" stop-color="#bf3958"/><stop offset="0.1617" stop-color="#761d5f"/><stop offset="0.165" stop-color="#601f61"/><stop offset="0.1881" stop-color="#3c2465"/><stop offset="0.2046" stop-color="#2a1e58"/><stop offset="0.2145" stop-color="#180a36"/><stop offset="0.2244" stop-color="#020209"/><stop offset="0.7723" stop-color="#020209"/><stop offset="0.7789" stop-color="#0b0821"/><stop offset="0.7888" stop-color="#221148"/><stop offset="0.7987" stop-color="#301f5c"/><stop offset="0.8251" stop-color="#532265"/><stop offset="0.835" stop-color="#631e60"/><stop offset="0.8383" stop-color="#9b235f"/><stop offset="0.8416" stop-color="#d34b44"/><stop offset="0.8449" stop-color="#e96d35"/><stop offset="0.8482" stop-color="#f28f30"/><stop offset="0.8515" stop-color="#f7c032"/><stop offset="0.8548" stop-color="#ecdf5b"/><stop offset="0.8581" stop-color="#e6e579"/><stop offset="0.868" stop-color="#e8e366"/><stop offset="0.8812" stop-color="#f5ca3c"/><stop offset="0.8878" stop-color="#f6b030"/><stop offset="0.9043" stop-color="#ee7a32"/><stop offset="0.934" stop-color="#d34b45"/><stop offset="1" stop-color="#bf3958"/></linearGradient>
<linearGradient id="ga68"><stop offset="0" stop-color="#c03a57"/><stop offset="0.06601" stop-color="#d34b44"/><stop offset="0.09571" stop-color="#ee7c31"/><stop offset="0.1155" stop-color="#f6c335"/><stop offset="0.1254" stop-color="#edde57"/><stop offset="0.1386" stop-color="#e5e580"/><stop offset="0.1419" stop-color="#e6e57e"/><stop offset="0.1452" stop-color="#eedd56"/><stop offset="0.1485" stop-color="#f6b130"/><stop offset="0.1518" stop-color="#ef7d31"/><stop offset="0.1551" stop-color="#de593c"/><stop offset="0.1584" stop-color="#ac2c5f"/><stop offset="0.1617" stop-color="#671d5f"/><stop offset="0.1881" stop-color="#3b2464"/><stop offset="0.2046" stop-color="#291c55"/><stop offset="0.2145" stop-color="#160933"/><stop offset="0.2244" stop-color="#020209"/><stop offset="0.7756" stop-color="#02030a"/><stop offset="0.7888" stop-color="#210f45"/><stop offset="0.7987" stop-color="#2f1f5b"/><stop offset="0.8251" stop-color="#512366"/><stop offset="0.835" stop-color="#611f61"/><stop offset="0.8383" stop-color="#841e61"/><stop offset="0.8416" stop-color="#c9414d"/><stop offset="0.8449" stop-color="#e96d35"/><stop offset="0.8482" stop-color="#f39430"/><stop offset="0.8515" stop-color="#f4cd3e"/><stop offset="0.8548" stop-color="#e8e46c"/><stop offset="0.8581" stop-color="#e5e583"/><stop offset="0.8746" stop-color="#efdb51"/><stop offset="0.8845" stop-color="#f7bd30"/><stop offset="0.901" stop-color="#f07f30"/><stop offset="0.9307" stop-color="#d54d43"/><stop offset="1" stop-color="#c03a58"/></linearGradient>
<linearGradient id="ga69"><stop offset="0" stop-color="#c03a57"/><stop offset="0.06931" stop-color="#d54d42"/><stop offset="0.09901" stop-color="#f08230"/><stop offset="0.1155" stop-color="#f7c132"/><stop offset="0.1254" stop-color="#eedd56"/><stop offset="0.1419" stop-color="#e4e58a"/><stop offset="0.1452" stop-color="#e8e46b"/><stop offset="0.1485" stop-color="#f7c032"/><stop offset="0.1518" stop-color="#f08030"/><stop offset="0.1551" stop-color="#d74f41"/><stop offset="0.1584" stop-color="#962260"/><stop offset="0.1617" stop-color="#621e60"/><stop offset="0.1881" stop-color="#3b2364"/><stop offset="0.2046" stop-color="#271a53"/><stop offset="0.2145" stop-color="#150930"/><stop offset="0.2244" stop-color="#020209"/><stop offset="0.7756" stop-color="#020209"/><stop offset="0.7921" stop-color="#25154e"/><stop offset="0.8053" stop-color="#352160"/><stop offset="0.8284" stop-color="#552264"/><stop offset="0.835" stop-color="#5f1f61"/><stop offset="0.8383" stop-color="#701c5e"/><stop offset="0.8416" stop-color="#be385a"/><stop offset="0.8449" stop-color="#e96d35"/><stop offset="0.8482" stop-color="#f49c30"/><stop offset="0.8515" stop-color="#f0da4e"/><stop offset="0.8548" stop-color="#e5e583"/><stop offset="0.8581" stop-color="#e5e587"/><stop offset="0.8746" stop-color="#f0db4f"/><stop offset="0.8845" stop-color="#f7ba30"/><stop offset="0.901" stop-color="#ef7e31"/><stop offset="0.9307" stop-color="#d44c43"/><stop offset="1" stop-color="#c03a57"/></linearGradient>
<linearGradient id="ga70"><stop offset="0" stop-color="#c03a57"/><stop offset="0.06931" stop-color="#d54d43"/><stop offset="0.09901" stop-color="#f07f30"/><stop offset="0.1155" stop-color="#f7be30"/><stop offset="0.1254" stop-color="#eedd54"/><stop offset="0.1419" stop-color="#e4e58f"/><stop offset="0.1452" stop-color="#e5e586"/><stop offset="0.1485" stop-color="#f3d142"/><stop offset="0.1518" stop-color="#f18630"/><stop offset="0.1551" stop-color="#cd454a"/><stop offset="0.1584" stop-color="#811e61"/><stop offset="0.1617" stop-color="#611f61"/><stop offset="0.1848" stop-color="#3d2565"/><stop offset="0.2046" stop-color="#261851"/><stop offset="0.2145" stop-color="#13092e"/><stop offset="0.2211" stop-color="#03040e"/><stop offset="0.7756" stop-color="#020209"/><stop offset="0.7921" stop-color="#24144c"/><stop offset="0.8086" stop-color="#382262"/><stop offset="0.8317" stop-color="#582063"/><stop offset="0.8383" stop-color="#661e60"/><stop offset="0.8416" stop-color="#ab2b5f"/><stop offset="0.8449" stop-color="#e86b36"/><stop offset="0.8482" stop-color="#f6aa30"/><stop offset="0.8515" stop-color="#e9e365"/><stop offset="0.8548" stop-color="#e4e592"/><stop offset="0.868" stop-color="#e8e468"/><stop offset="0.8779" stop-color="#f3d141"/><stop offset="0.8878" stop-color="#f5a730"/><stop offset="0.9043" stop-color="#ec7533"/><stop offset="0.9307" stop-color="#d44c44"/><stop offset="1" stop-color="#c03a57"/></linearGradient>
<linearGradient id="ga71"><stop offset="0" stop-color="#c03a57"/><stop offset="0.06931" stop-color="#d44c43"/><stop offset="0.09901" stop-color="#ef7d31"/><stop offset="0.1155" stop-color="#f7bb30"/><stop offset="0.1254" stop-color="#efdc53"/><stop offset="0.1419" stop-color="#e3e693"/><stop offset="0.1452" stop-color="#e3e699"/><stop offset="0.1485" stop-color="#edde59"/><stop offset="0.1518" stop-color="#f28d30"/><stop offset="0.1551" stop-color="#c13b55"/><stop offset="0.1584" stop-color="#701c5e"/><stop offset="0.165" stop-color="#5a2062"/><stop offset="0.1881" stop-color="#392362"/><stop offset="0.2046" stop-color="#26174f"/><stop offset="0.2178" stop-color="#09081d"/><stop offset="0.2211" stop-color="#020209"/><stop offset="0.7756" stop-color="#020209"/><stop offset="0.7921" stop-color="#23124a"/><stop offset="0.8053" stop-color="#34205f"/><stop offset="0.8317" stop-color="#572163"/><stop offset="0.8383" stop-color="#621e60"/><stop offset="0.8416" stop-color="#98225f"/><stop offset="0.8449" stop-color="#e26139"/><stop offset="0.8482" stop-color="#f7bc30"/><stop offset="0.8515" stop-color="#e5e585"/><stop offset="0.8548" stop-color="#e3e696"/><stop offset="0.8713" stop-color="#ecdf5a"/><stop offset="0.8812" stop-color="#f6c233"/><stop offset="0.8977" stop-color="#f08130"/><stop offset="0.9274" stop-color="#d64e42"/><stop offset="1" stop-color="#c03a57"/></linearGradient>
<linearGradient id="ga72"><stop offset="0" stop-color="#c13a56"/><stop offset="0.07261" stop-color="#d64e41"/><stop offset="0.1023" stop-color="#f18430"/><stop offset="0.1155" stop-color="#f7b830"/><stop offset="0.1254" stop-color="#efdb51"/><stop offset="0.1419" stop-color="#e3e696"/><stop offset="0.1452" stop-color="#e2e69e"/><stop offset="0.1485" stop-color="#e6e578"/><stop offset="0.1518" stop-color="#f39130"/><stop offset="0.1551" stop-color="#b33160"/><stop offset="0.1584" stop-color="#661e60"/><stop offset="0.1848" stop-color="#3c2464"/><stop offset="0.2013" stop-color="#2a1d57"/><stop offset="0.2112" stop-color="#180a37"/><stop offset="0.2211" stop-color="#020209"/><stop offset="0.7756" stop-color="#020209"/><stop offset="0.7921" stop-color="#221148"/><stop offset="0.802" stop-color="#301f5c"/><stop offset="0.8284" stop-color="#512266"/><stop offset="0.8383" stop-color="#611f61"/><stop offset="0.8416" stop-color="#861f61"/><stop offset="0.8449" stop-color="#d9523f"/><stop offset="0.8482" stop-color="#f4cf40"/><stop offset="0.8515" stop-color="#e2e69e"/><stop offset="0.8614" stop-color="#e5e586"/><stop offset="0.8746" stop-color="#f2d94a"/><stop offset="0.8812" stop-color="#f7c031"/><stop offset="0.8977" stop-color="#f07f30"/><stop offset="0.9274" stop-color="#d54d43"/><stop offset="1" stop-color="#c03a57"/></linearGradient>
<linearGradient id="ga73"><stop offset="0" stop-color="#c03a57"/><stop offset="0.07261" stop-color="#d54d42"/><stop offset="0.1023" stop-color="#f08130"/><stop offset="0.1188" stop-color="#f6c233"/><stop offset="0.1287" stop-color="#ecdf5b"/><stop offset="0.1452" stop-color="#e2e69c"/><stop offset="0.1485" stop-color="#e3e692"/><stop offset="0.1518" stop-color="#f18830"/><stop offset="0.1551" stop-color="#a2255e"/><stop offset="0.1584" stop-color="#631e60"/><stop offset="0.1848" stop-color="#3b2464"/><stop offset="0.2013" stop-color="#291c56"/><stop offset="0.2112" stop-color="#170935"/><stop offset="0.2211" stop-color="#020209"/><stop offset="0.7756" stop-color="#020209"/><stop offset="0.7822" stop-color="#0b0820"/><stop offset="0.7921" stop-color="#210f47"/><stop offset="0.802" stop-color="#2f1f5b"/><stop offset="0.8284" stop-color="#502366"/><stop offset="0.8383" stop-color="#601f61"/><stop offset="0.8416" stop-color="#741d5f"/><stop offset="0.8449" stop-color="#cd454a"/><stop offset="0.8482" stop-color="#efdb51"/><stop offset="0.8515" stop-color="#e2e69f"/><stop offset="0.8647" stop-color="#e7e472"/><stop offset="0.8746" stop-color="#f3d545"/><stop offset="0.8812" stop-color="#f7ba30"/><stop offset="0.8977" stop-color="#ef7d31"/><stop offset="0.9274" stop-color="#d44c43"/><stop offset="1" stop-color="#c03a57"/></linearGradient>
<linearGradient id="ga74"><stop offset="0" stop-color="#c03a57"/><stop offset="0.07261" stop-color="#d54d43"/><stop offset="0.1023" stop-color="#f07f30"/><stop offset="0.1188" stop-color="#f7be30"/><stop offset="0.1287" stop-color="#edde58"/><stop offset="0.1452" stop-color="#e3e69a"/><stop offset="0.1485" stop-color="#e2e69f"/><stop offset="0.1518" stop-color="#ed7832"/><stop offset="0.1551" stop-color="#902061"/><stop offset="0.1584" stop-color="#611f61"/><stop offset="0.1848" stop-color="#3b2364"/><stop offset="0.2013" stop-color="#281b54"/><stop offset="0.2112" stop-color="#160933"/><stop offset="0.2211" stop-color="#020209"/><stop offset="0.7789" stop-color="#03040c"/><stop offset="0.7954" stop-color="#26174f"/><stop offset="0.8218" stop-color="#462467"/><stop offset="0.8416" stop-color="#691d5f"/><stop offset="0.8449" stop-color="#c03a57"/><stop offset="0.8482" stop-color="#ebe05d"/><stop offset="0.8515" stop-color="#e2e69e"/><stop offset="0.8647" stop-color="#e7e46e"/><stop offset="0.8746" stop-color="#f3d242"/><stop offset="0.8812" stop-color="#f7b730"/><stop offset="0.8977" stop-color="#ee7b31"/><stop offset="0.9274" stop-color="#d44c44"/><stop offset="1" stop-color="#c03a57"/></linearGradient>
<linearGradient id="ga75"><stop offset="0" stop-color="#c03a57"/><stop offset="0.07261" stop-color="#d54d43"/><stop offset="0.1023" stop-color="#ef7e31"/><stop offset="0.1188" stop-color="#f7bc30"/><stop offset="0.1287" stop-color="#eedd56"/><stop offset="0.1452" stop-color="#e3e699"/><stop offset="0.1485" stop-color="#e2e6a0"/><stop offset="0.1518" stop-color="#e36239"/><stop offset="0.1551" stop-color="#7e1e60"/><stop offset="0.1584" stop-color="#601f61"/><stop offset="0.1815" stop-color="#3d2566"/><stop offset="0.2013" stop-color="#281a53"/><stop offset="0.2112" stop-color="#150932"/><stop offset="0.2211" stop-color="#020209"/><stop offset="0.7789" stop-color="#020209"/><stop offset="0.7921" stop-color="#200d44"/><stop offset="0.802" stop-color="#2e1f5b"/><stop offset="0.8317" stop-color="#532265"/><stop offset="0.8416" stop-color="#631e60"/><stop offset="0.8449" stop-color="#b53260"/><stop offset="0.8482" stop-color="#f0da4e"/><stop offset="0.8515" stop-color="#e2e69d"/><stop offset="0.8647" stop-color="#e8e46b"/><stop offset="0.8746" stop-color="#f3d041"/><stop offset="0.8812" stop-color="#f6b430"/><stop offset="0.8977" stop-color="#ee7a32"/><stop offset="0.9274" stop-color="#d34b44"/><stop offset="1" stop-color="#c03a57"/></linearGradient>
<linearGradient id="ga76"><stop offset="0" stop-color="#c03a57"/><stop offset="0.07261" stop-color="#d54d43"/><stop offset="0.1023" stop-color="#ef7e31"/><stop offset="0.1188" stop-color="#f7bc30"/><stop offset="0.1287" stop-color="#eedd56"/><stop offset="0.1452" stop-color="#e3e699"/><stop offset="0.1485" stop-color="#e2e69e"/><stop offset="0.1518" stop-color="#d04847"/><stop offset="0.1551" stop-color="#6d1c5e"/><stop offset="0.165" stop-color="#552264"/><stop offset="0.1914" stop-color="#33205e"/><stop offset="0.2013" stop-color="#271952"/><stop offset="0.2112" stop-color="#140930"/><stop offset="0.2211" stop-color="#020209"/><stop offset="0.7789" stop-color="#020209"/><stop offset="0.7954" stop-color="#24154d"/><stop offset="0.8119" stop-color="#382262"/><stop offset="0.8383" stop-color="#5c2062"/><stop offset="0.8416" stop-color="#621e60"/><stop offset="0.8449" stop-color="#a0245e"/><stop offset="0.8482" stop-color="#f7b830"/><stop offset="0.8515" stop-color="#e2e69d"/><stop offset="0.8647" stop-color="#e8e46b"/><stop offset="0.8746" stop-color="#f3d041"/><stop offset="0.8812" stop-color="#f6b430"/><stop offset="0.8977" stop-color="#ee7a32"/><stop offset="0.9274" stop-color="#d34b44"/><stop offset="1" stop-color="#c03a57"/></linearGradient>
<linearGradient id="ga77"><stop offset="0" stop-color="#c03a57"/><stop offset="0.07261" stop-color="#d54d43"/><stop offset="0.1023" stop-color="#f07f30"/><stop offset="0.1188" stop-color="#f7be30"/><stop offset="0.1287" stop-color="#edde58"/><stop offset="0.1452" stop-color="#e3e69a"/><stop offset="0.1485" stop-color="#e5e585"/><stop offset="0.1518" stop-color="#bf3958"/><stop offset="0.1551" stop-color="#651e60"/><stop offset="0.1815" stop-color="#3c2465"/><stop offset="0.2013" stop-color="#261850"/><stop offset="0.2112" stop-color="#14092f"/><stop offset="0.2211" stop-color="#020209"/><stop offset="0.7789" stop-color="#020209"/><stop offset="0.7954" stop-color="#24144b"/><stop offset="0.8119" stop-color="#372261"/><stop offset="0.835" stop-color="#562164"/><stop offset="0.8416" stop-color="#611f61"/><stop offset="0.8449" stop-color="#8b1f62"/><stop offset="0.8482" stop-color="#f08230"/><stop offset="0.8515" stop-color="#e2e69e"/><stop offset="0.8647" stop-color="#e7e46e"/><stop offset="0.8746" stop-color="#f3d242"/><stop offset="0.8812" stop-color="#f7b730"/><stop offset="0.8977" stop-color="#ee7b31"/><stop offset="0.9274" stop-color="#d44c44"/><stop offset="1" stop-color="#c03a57"/></linearGradient>
<linearGradient id="ga78"><stop offset="0" stop-color="#c03a57"/><stop offset="0.07261" stop-color="#d54d42"/><stop offset="0.1023" stop-color="#f08030"/><stop offset="0.1188" stop-color="#f6c133"/><stop offset="0.1287" stop-color="#ecdf5a"/><stop offset="0.1452" stop-color="#e2e69b"/><stop offset="0.1485" stop-color="#efdb51"/><stop offset="0.1518" stop-color="#b02f5f"/><stop offset="0.1551" stop-color="#631e60"/><stop offset="0.1815" stop-color="#3c2464"/><stop offset="0.2013" stop-color="#26174f"/><stop offset="0.2178" stop-color="#03040f"/><stop offset="0.7789" stop-color="#020209"/><stop offset="0.7954" stop-color="#23134a"/><stop offset="0.8086" stop-color="#34205e"/><stop offset="0.835" stop-color="#552164"/><stop offset="0.8416" stop-color="#601f61"/><stop offset="0.8449" stop-color="#771d5f"/><stop offset="0.8482" stop-color="#e05d3b"/><stop offset="0.8515" stop-color="#e2e69f"/><stop offset="0.8647" stop-color="#e7e471"/><stop offset="0.8746" stop-color="#f3d445"/><stop offset="0.8812" stop-color="#f7ba30"/><stop offset="0.8977" stop-color="#ef7d31"/><stop offset="0.9274" stop-color="#d44c43"/><stop offset="1" stop-color="#c03a57"/></linearGradient>
<clipPath id="gaclip"><rect x="66.40" y="66.70" width="302.90" height="236.80"/></clipPath>
<linearGradient id="gb0"><stop offset="0" stop-color="#412566"/><stop offset="0.2434" stop-color="#372261"/><stop offset="0.2928" stop-color="#25154d"/><stop offset="0.3388" stop-color="#180936"/><stop offset="0.3783" stop-color="#25154e"/><stop offset="0.4539" stop-color="#3d2465"/><stop offset="1" stop-color="#412566"/></linearGradient>
<linearGradient id="gb1"><stop offset="0" stop-color="#422567"/><stop offset="0.2467" stop-color="#372261"/><stop offset="0.2961" stop-color="#24144b"/><stop offset="0.3421" stop-color="#190a37"/><stop offset="0.3816" stop-color="#271952"/><stop offset="0.4901" stop-color="#412566"/><stop offset="1" stop-color="#422567"/></linearGradient>
<linearGradient id="gb2"><stop offset="0" stop-color="#422567"/><stop offset="0.2467" stop-color="#382262"/><stop offset="0.2961" stop-color="#25154d"/><stop offset="0.3388" stop-color="#190a38"/><stop offset="0.3783" stop-color="#271851"/><stop offset="0.477" stop-color="#412566"/><stop offset="1" stop-color="#422567"/></linearGradient>
<linearGradient id="gb3"><stop offset="0" stop-color="#432567"/><stop offset="0.25" stop-color="#392362"/><stop offset="0.2993" stop-color="#24154d"/><stop offset="0.3421" stop-color="#1a0a39"/><stop offset="0.4046" stop-color="#33205e"/><stop offset="0.5493" stop-color="#432567"/><stop offset="1" stop-color="#432567"/></linearGradient>
<linearGradient id="gb4"><stop offset="0" stop-color="#432567"/><stop offset="0.2533" stop-color="#392363"/><stop offset="0.3026" stop-color="#24144c"/><stop offset="0.3421" stop-color="#1a0a3a"/><stop offset="0.398" stop-color="#33205e"/><stop offset="0.5263" stop-color="#432567"/><stop offset="1" stop-color="#432567"/></linearGradient>
<linearGradient id="gb5"><stop offset="0" stop-color="#452567"/><stop offset="0.2533" stop-color="#3c2464"/><stop offset="0.3059" stop-color="#25154d"/><stop offset="0.3421" stop-color="#1c0a3c"/><stop offset="0.3947" stop-color="#34205f"/><stop offset="0.5099" stop-color="#452567"/><stop offset="1" stop-color="#452567"/></linearGradient>
<linearGradient id="gb6"><stop offset="0" stop-color="#462467"/><stop offset="0.2566" stop-color="#3e2566"/><stop offset="0.3092" stop-color="#25164f"/><stop offset="0.3421" stop-color="#1e0a40"/><stop offset="0.3882" stop-color="#34215f"/><stop offset="0.4868" stop-color="#462467"/><stop offset="1" stop-color="#462467"/></linearGradient>
<linearGradient id="gb7"><stop offset="0" stop-color="#482467"/><stop offset="0.2632" stop-color="#402566"/><stop offset="0.3125" stop-color="#261850"/><stop offset="0.3421" stop-color="#1f0c42"/><stop offset="0.3849" stop-color="#362160"/><stop offset="0.4737" stop-color="#482467"/><stop offset="1" stop-color="#482467"/></linearGradient>
<linearGradient id="gb8"><stop offset="0" stop-color="#4a2468"/><stop offset="0.2697" stop-color="#422567"/><stop offset="0.3191" stop-color="#25154d"/><stop offset="0.3454" stop-color="#221048"/><stop offset="0.3882" stop-color="#3b2464"/><stop offset="0.477" stop-color="#4a2468"/><stop offset="1" stop-color="#4a2468"/></linearGradient>
<linearGradient id="gb9"><stop offset="0" stop-color="#4b2468"/><stop offset="0.2763" stop-color="#442567"/><stop offset="0.3224" stop-color="#25164e"/><stop offset="0.3454" stop-color="#24134b"/><stop offset="0.3914" stop-color="#422567"/><stop offset="0.5724" stop-color="#4b2468"/><stop offset="1" stop-color="#4b2468"/></linearGradient>
<linearGradient id="gb10"><stop offset="0" stop-color="#4d2468"/><stop offset="0.2829" stop-color="#452467"/><stop offset="0.3289" stop-color="#24134b"/><stop offset="0.3487" stop-color="#281b54"/><stop offset="0.4013" stop-color="#4b2468"/><stop offset="1" stop-color="#4d2468"/></linearGradient>
<linearGradient id="gb11"><stop offset="0" stop-color="#4f2367"/><stop offset="0.2895" stop-color="#472467"/><stop offset="0.3388" stop-color="#24154d"/><stop offset="0.3849" stop-color="#492468"/><stop offset="1" stop-color="#4f2367"/></linearGradient>
<linearGradient id="gb12"><stop offset="0" stop-color="#512366"/><stop offset="0.2928" stop-color="#4a2468"/><stop offset="0.3388" stop-color="#261850"/><stop offset="0.3783" stop-color="#4b2468"/><stop offset="1" stop-color="#512366"/></linearGradient>
<linearGradient id="gb13"><stop offset="0" stop-color="#532265"/><stop offset="0.2895" stop-color="#4e2367"/><stop offset="0.3289" stop-color="#2a1e58"/><stop offset="0.3487" stop-color="#301f5c"/><stop offset="0.3947" stop-color="#532265"/><stop offset="1" stop-color="#532265"/></linearGradient>
<linearGradient id="gb14"><stop offset="0" stop-color="#562164"/><stop offset="0.2862" stop-color="#4e2367"/><stop offset="0.3388" stop-color="#2b1e59"/><stop offset="0.3914" stop-color="#552164"/><stop offset="1" stop-color="#562164"/></linearGradient>
<linearGradient id="gb15"><stop offset="0" stop-color="#582163"/><stop offset="0.2796" stop-color="#532265"/><stop offset="0.3158" stop-color="#352160"/><stop offset="0.3684" stop-color="#3b2464"/><stop offset="0.4013" stop-color="#582163"/><stop offset="1" stop-color="#582163"/></linearGradient>
<linearGradient id="gb16"><stop offset="0" stop-color="#5a2062"/><stop offset="0.2763" stop-color="#542264"/><stop offset="0.3125" stop-color="#352160"/><stop offset="0.375" stop-color="#3d2565"/><stop offset="0.4046" stop-color="#5a2062"/><stop offset="1" stop-color="#5a2062"/></linearGradient>
<linearGradient id="gb17"><stop offset="0" stop-color="#5d1f61"/><stop offset="0.273" stop-color="#562164"/><stop offset="0.3092" stop-color="#352160"/><stop offset="0.3454" stop-color="#2e1f5a"/><stop offset="0.3882" stop-color="#4a2468"/><stop offset="0.4079" stop-color="#5d1f61"/><stop offset="1" stop-color="#5d1f61"/></linearGradient>
<linearGradient id="gb18"><stop offset="0" stop-color="#5f1f61"/><stop offset="0.2697" stop-color="#592062"/><stop offset="0.3059" stop-color="#352160"/><stop offset="0.3191" stop-color="#291c56"/><stop offset="0.3322" stop-color="#190a38"/><stop offset="0.3454" stop-color="#200d44"/><stop offset="0.3586" stop-color="#34215f"/><stop offset="0.3882" stop-color="#482467"/><stop offset="0.4112" stop-color="#5f1f61"/><stop offset="1" stop-color="#5f1f61"/></linearGradient>
<linearGradient id="gb19"><stop offset="0" stop-color="#621e60"/><stop offset="0.2664" stop-color="#5c2062"/><stop offset="0.3026" stop-color="#352160"/><stop offset="0.3125" stop-color="#2a1e58"/><stop offset="0.3224" stop-color="#14092f"/><stop offset="0.3487" stop-color="#150931"/><stop offset="0.3618" stop-color="#32205e"/><stop offset="0.3947" stop-color="#4f2367"/><stop offset="0.4145" stop-color="#621e60"/><stop offset="1" stop-color="#621e60"/></linearGradient>
<linearGradient id="gb20"><stop offset="0" stop-color="#641e60"/><stop offset="0.2632" stop-color="#611f61"/><stop offset="0.2928" stop-color="#392362"/><stop offset="0.3092" stop-color="#2a1e57"/><stop offset="0.3158" stop-color="#170934"/><stop offset="0.3454" stop-color="#11092a"/><stop offset="0.3553" stop-color="#190a37"/><stop offset="0.3618" stop-color="#2b1e59"/><stop offset="0.398" stop-color="#532265"/><stop offset="0.4178" stop-color="#641e60"/><stop offset="1" stop-color="#641e60"/></linearGradient>
<linearGradient id="gb21"><stop offset="0" stop-color="#661e60"/><stop offset="0.2632" stop-color="#601f61"/><stop offset="0.2928" stop-color="#382262"/><stop offset="0.3059" stop-color="#2c1e59"/><stop offset="0.3158" stop-color="#13092d"/><stop offset="0.3487" stop-color="#100929"/><stop offset="0.3586" stop-color="#1a0a39"/><stop offset="0.3651" stop-color="#2d1f5a"/><stop offset="0.4013" stop-color="#562164"/><stop offset="0.4178" stop-color="#661e60"/><stop offset="1" stop-color="#661e60"/></linearGradient>
<linearGradient id="gb22"><stop offset="0" stop-color="#681d5f"/><stop offset="0.2599" stop-color="#651e60"/><stop offset="0.2895" stop-color="#3b2464"/><stop offset="0.3059" stop-color="#281a53"/><stop offset="0.3092" stop-color="#1d0a3e"/><stop offset="0.3158" stop-color="#12092b"/><stop offset="0.3454" stop-color="#0e0925"/><stop offset="0.3586" stop-color="#13092e"/><stop offset="0.3618" stop-color="#1f0c43"/><stop offset="0.3651" stop-color="#2a1e57"/><stop offset="0.398" stop-color="#512366"/><stop offset="0.4178" stop-color="#681d5f"/><stop offset="1" stop-color="#681d5f"/></linearGradient>
<linearGradient id="gb23"><stop offset="0" stop-color="#6a1d5f"/><stop offset="0.2599" stop-color="#651e60"/><stop offset="0.2895" stop-color="#3b2464"/><stop offset="0.3026" stop-color="#2f1f5b"/><stop offset="0.3125" stop-color="#13092d"/><stop offset="0.3388" stop-color="#0a081e"/><stop offset="0.3586" stop-color="#13092e"/><stop offset="0.3618" stop-color="#1c0a3d"/><stop offset="0.3684" stop-color="#311f5c"/><stop offset="0.4013" stop-color="#562164"/><stop offset="0.4211" stop-color="#691d5f"/><stop offset="1" stop-color="#691d5f"/></linearGradient>
<linearGradient id="gb24"><stop offset="0" stop-color="#6c1c5e"/><stop offset="0.2599" stop-color="#661e60"/><stop offset="0.2895" stop-color="#3b2464"/><stop offset="0.3026" stop-color="#2f1f5b"/><stop offset="0.3125" stop-color="#13092d"/><stop offset="0.3388" stop-color="#0a081e"/><stop offset="0.3586" stop-color="#13092e"/><stop offset="0.3618" stop-color="#1c0a3d"/><stop offset="0.3684" stop-color="#311f5c"/><stop offset="0.4013" stop-color="#562164"/><stop offset="0.4211" stop-color="#6b1d5f"/><stop offset="1" stop-color="#6b1d5f"/></linearGradient>
<linearGradient id="gb25"><stop offset="0" stop-color="#6f1c5e"/><stop offset="0.2599" stop-color="#661e60"/><stop offset="0.2928" stop-color="#392362"/><stop offset="0.3059" stop-color="#281a53"/><stop offset="0.3092" stop-color="#1d0a3e"/><stop offset="0.3158" stop-color="#12092b"/><stop offset="0.3454" stop-color="#0e0925"/><stop offset="0.3586" stop-color="#13092e"/><stop offset="0.3618" stop-color="#1f0c43"/><stop offset="0.3651" stop-color="#2a1e57"/><stop offset="0.398" stop-color="#522265"/><stop offset="0.4178" stop-color="#6d1c5e"/><stop offset="1" stop-color="#6d1c5e"/></linearGradient>
<linearGradient id="gb26"><stop offset="0" stop-color="#751d5f"/><stop offset="0.2566" stop-color="#6d1c5e"/><stop offset="0.2928" stop-color="#3a2363"/><stop offset="0.3059" stop-color="#2c1e59"/><stop offset="0.3158" stop-color="#13092d"/><stop offset="0.3487" stop-color="#100929"/><stop offset="0.3586" stop-color="#1a0a39"/><stop offset="0.3651" stop-color="#2d1f5a"/><stop offset="0.398" stop-color="#532265"/><stop offset="0.4178" stop-color="#6f1c5e"/><stop offset="0.625" stop-color="#751d5f"/><stop offset="1" stop-color="#701c5e"/></linearGradient>
<linearGradient id="gb27"><stop offset="0" stop-color="#7e1e60"/><stop offset="0.2171" stop-color="#771d5f"/><stop offset="0.2566" stop-color="#6f1c5e"/><stop offset="0.2895" stop-color="#3e2566"/><stop offset="0.3092" stop-color="#23124a"/><stop offset="0.3224" stop-color="#0c0822"/><stop offset="0.3257" stop-color="#02030a"/><stop offset="0.3388" stop-color="#02030a"/><stop offset="0.3454" stop-color="#11092a"/><stop offset="0.3553" stop-color="#190a37"/><stop offset="0.3618" stop-color="#2a1e58"/><stop offset="0.3947" stop-color="#502366"/><stop offset="0.4178" stop-color="#711c5e"/><stop offset="0.5855" stop-color="#8a1f62"/><stop offset="0.7336" stop-color="#781d5f"/><stop offset="1" stop-color="#751d5f"/></linearGradient>
<linearGradient id="gb28"><stop offset="0" stop-color="#8c1f62"/><stop offset="0.1382" stop-color="#932160"/><stop offset="0.2533" stop-color="#791d60"/><stop offset="0.2829" stop-color="#402566"/><stop offset="0.2993" stop-color="#23124a"/><stop offset="0.3092" stop-color="#0e0925"/><stop offset="0.3125" stop-color="#02030a"/><stop offset="0.352" stop-color="#02030a"/><stop offset="0.3586" stop-color="#160933"/><stop offset="0.375" stop-color="#2d1f5a"/><stop offset="0.3882" stop-color="#402566"/><stop offset="0.4013" stop-color="#5b2062"/><stop offset="0.4178" stop-color="#741d5f"/><stop offset="0.4934" stop-color="#891f62"/><stop offset="0.5625" stop-color="#aa2b5f"/><stop offset="0.6974" stop-color="#821e61"/><stop offset="1" stop-color="#7b1d60"/></linearGradient>
<linearGradient id="gb29"><stop offset="0" stop-color="#9d235f"/><stop offset="0.1086" stop-color="#b83460"/><stop offset="0.2533" stop-color="#7c1e60"/><stop offset="0.273" stop-color="#562164"/><stop offset="0.2796" stop-color="#35215f"/><stop offset="0.2928" stop-color="#211047"/><stop offset="0.2993" stop-color="#100929"/><stop offset="0.3026" stop-color="#02030a"/><stop offset="0.3618" stop-color="#02030a"/><stop offset="0.3684" stop-color="#180935"/><stop offset="0.3816" stop-color="#2b1e59"/><stop offset="0.398" stop-color="#452567"/><stop offset="0.4112" stop-color="#6e1c5e"/><stop offset="0.4836" stop-color="#912161"/><stop offset="0.5329" stop-color="#bf3958"/><stop offset="0.5888" stop-color="#c13b56"/><stop offset="0.6711" stop-color="#942160"/><stop offset="1" stop-color="#841e61"/></linearGradient>
<linearGradient id="gb30"><stop offset="0" stop-color="#b53260"/><stop offset="0.1151" stop-color="#ce4649"/><stop offset="0.1974" stop-color="#ab2c5f"/><stop offset="0.25" stop-color="#871f62"/><stop offset="0.2632" stop-color="#6a1d5f"/><stop offset="0.2697" stop-color="#422567"/><stop offset="0.2829" stop-color="#26174f"/><stop offset="0.2928" stop-color="#0b0821"/><stop offset="0.2961" stop-color="#02030a"/><stop offset="0.3717" stop-color="#02030a"/><stop offset="0.375" stop-color="#11092a"/><stop offset="0.3914" stop-color="#2c1e59"/><stop offset="0.4046" stop-color="#3c2465"/><stop offset="0.4211" stop-color="#781d5f"/><stop offset="0.4704" stop-color="#902061"/><stop offset="0.5066" stop-color="#c03a57"/><stop offset="0.5592" stop-color="#df5b3c"/><stop offset="0.6283" stop-color="#c03a57"/><stop offset="0.6941" stop-color="#a2255e"/><stop offset="1" stop-color="#8f2061"/></linearGradient>
<linearGradient id="gb31"><stop offset="0" stop-color="#c33c54"/><stop offset="0.102" stop-color="#e96b36"/><stop offset="0.1842" stop-color="#c53e51"/><stop offset="0.2237" stop-color="#a92a5f"/><stop offset="0.25" stop-color="#8b1f62"/><stop offset="0.2533" stop-color="#821e61"/><stop offset="0.2632" stop-color="#402566"/><stop offset="0.2763" stop-color="#24154d"/><stop offset="0.2829" stop-color="#14092f"/><stop offset="0.2862" stop-color="#02030a"/><stop offset="0.3783" stop-color="#02030a"/><stop offset="0.3914" stop-color="#221047"/><stop offset="0.4046" stop-color="#301f5c"/><stop offset="0.4145" stop-color="#412566"/><stop offset="0.4276" stop-color="#791d60"/><stop offset="0.4704" stop-color="#99225f"/><stop offset="0.4934" stop-color="#bf3959"/><stop offset="0.5395" stop-color="#ec7533"/><stop offset="0.5724" stop-color="#ef7f30"/><stop offset="0.6316" stop-color="#cd4549"/><stop offset="0.7072" stop-color="#b73460"/><stop offset="1" stop-color="#9c235f"/></linearGradient>
<linearGradient id="gb32"><stop offset="0" stop-color="#ce4649"/><stop offset="0.07895" stop-color="#f18530"/><stop offset="0.1184" stop-color="#f18830"/><stop offset="0.1743" stop-color="#d9513f"/><stop offset="0.2336" stop-color="#ac2c5f"/><stop offset="0.2401" stop-color="#a2265e"/><stop offset="0.25" stop-color="#5f1f61"/><stop offset="0.2566" stop-color="#392362"/><stop offset="0.2697" stop-color="#221149"/><stop offset="0.2763" stop-color="#0f0927"/><stop offset="0.2796" stop-color="#02030a"/><stop offset="0.3882" stop-color="#02030a"/><stop offset="0.3947" stop-color="#170934"/><stop offset="0.4079" stop-color="#2b1e59"/><stop offset="0.4211" stop-color="#3b2464"/><stop offset="0.4375" stop-color="#801e61"/><stop offset="0.4704" stop-color="#9f245e"/><stop offset="0.4901" stop-color="#c13b56"/><stop offset="0.5164" stop-color="#e56538"/><stop offset="0.5559" stop-color="#f5a730"/><stop offset="0.5855" stop-color="#f39430"/><stop offset="0.6447" stop-color="#d24a45"/><stop offset="0.7467" stop-color="#c13b56"/><stop offset="1" stop-color="#aa2b5f"/></linearGradient>
<linearGradient id="gb33"><stop offset="0" stop-color="#d44c44"/><stop offset="0.07895" stop-color="#f39530"/><stop offset="0.1184" stop-color="#f49830"/><stop offset="0.1776" stop-color="#db553e"/><stop offset="0.2303" stop-color="#b2305f"/><stop offset="0.2401" stop-color="#651e60"/><stop offset="0.2467" stop-color="#3b2464"/><stop offset="0.2599" stop-color="#23134b"/><stop offset="0.2664" stop-color="#13092d"/><stop offset="0.2697" stop-color="#02030a"/><stop offset="0.398" stop-color="#02030a"/><stop offset="0.4013" stop-color="#11092b"/><stop offset="0.4145" stop-color="#291d57"/><stop offset="0.4309" stop-color="#402566"/><stop offset="0.4474" stop-color="#841e61"/><stop offset="0.477" stop-color="#ad2d5f"/><stop offset="0.5132" stop-color="#e36239"/><stop offset="0.5559" stop-color="#f6b430"/><stop offset="0.5789" stop-color="#f6a830"/><stop offset="0.6447" stop-color="#da533f"/><stop offset="0.7401" stop-color="#ca424c"/><stop offset="1" stop-color="#b63360"/></linearGradient>
<linearGradient id="gb34"><stop offset="0" stop-color="#d34b44"/><stop offset="0.08224" stop-color="#f18830"/><stop offset="0.1217" stop-color="#f18530"/><stop offset="0.1809" stop-color="#d54d43"/><stop offset="0.2171" stop-color="#b9345f"/><stop offset="0.227" stop-color="#801e61"/><stop offset="0.2368" stop-color="#3c2464"/><stop offset="0.25" stop-color="#24144c"/><stop offset="0.2566" stop-color="#13092e"/><stop offset="0.2599" stop-color="#02030a"/><stop offset="0.4046" stop-color="#02030a"/><stop offset="0.4145" stop-color="#1d0a3f"/><stop offset="0.4276" stop-color="#2e1f5b"/><stop offset="0.4408" stop-color="#412566"/><stop offset="0.4605" stop-color="#8d2062"/><stop offset="0.4901" stop-color="#bf3958"/><stop offset="0.5197" stop-color="#e66737"/><stop offset="0.5559" stop-color="#f49c30"/><stop offset="0.5921" stop-color="#f18830"/><stop offset="0.6645" stop-color="#d64e41"/><stop offset="1" stop-color="#ba355e"/></linearGradient>
<linearGradient id="gb35"><stop offset="0" stop-color="#cd4549"/><stop offset="0.09868" stop-color="#e96e35"/><stop offset="0.1711" stop-color="#d04847"/><stop offset="0.2007" stop-color="#ba365e"/><stop offset="0.2105" stop-color="#7f1e60"/><stop offset="0.2204" stop-color="#472467"/><stop offset="0.2401" stop-color="#24144c"/><stop offset="0.2467" stop-color="#14092f"/><stop offset="0.25" stop-color="#02030a"/><stop offset="0.4145" stop-color="#02030a"/><stop offset="0.4178" stop-color="#100929"/><stop offset="0.4309" stop-color="#291c56"/><stop offset="0.4507" stop-color="#3b2464"/><stop offset="0.4737" stop-color="#98225f"/><stop offset="0.4967" stop-color="#bf3958"/><stop offset="0.5428" stop-color="#eb7134"/><stop offset="0.5822" stop-color="#ec7533"/><stop offset="0.6776" stop-color="#d54d43"/><stop offset="1" stop-color="#b9355f"/></linearGradient>
<linearGradient id="gb36"><stop offset="0" stop-color="#c53e52"/><stop offset="0.1184" stop-color="#d24a45"/><stop offset="0.1809" stop-color="#b83460"/><stop offset="0.1941" stop-color="#771d5f"/><stop offset="0.2072" stop-color="#3a2363"/><stop offset="0.227" stop-color="#24144c"/><stop offset="0.2368" stop-color="#14092f"/><stop offset="0.2401" stop-color="#02030a"/><stop offset="0.4211" stop-color="#02030a"/><stop offset="0.4309" stop-color="#1a0a3a"/><stop offset="0.4474" stop-color="#2c1f5a"/><stop offset="0.4638" stop-color="#3e2566"/><stop offset="0.4836" stop-color="#8d2061"/><stop offset="0.5" stop-color="#b83460"/><stop offset="0.5559" stop-color="#dc573d"/><stop offset="0.9046" stop-color="#ba365d"/><stop offset="1" stop-color="#b23060"/></linearGradient>
<linearGradient id="gb37"><stop offset="0" stop-color="#bb375c"/><stop offset="0.1414" stop-color="#bc375c"/><stop offset="0.1579" stop-color="#ae2d5f"/><stop offset="0.1743" stop-color="#661e60"/><stop offset="0.1875" stop-color="#3b2464"/><stop offset="0.2105" stop-color="#23124a"/><stop offset="0.2237" stop-color="#08081b"/><stop offset="0.227" stop-color="#02030a"/><stop offset="0.4342" stop-color="#02030a"/><stop offset="0.4375" stop-color="#0e0926"/><stop offset="0.4572" stop-color="#2b1e59"/><stop offset="0.4836" stop-color="#442567"/><stop offset="0.5" stop-color="#811e61"/><stop offset="0.5132" stop-color="#b33160"/><stop offset="0.5888" stop-color="#ce4649"/><stop offset="0.8191" stop-color="#c03a57"/><stop offset="1" stop-color="#a6285e"/></linearGradient>
<linearGradient id="gb38"><stop offset="0" stop-color="#ad2c5f"/><stop offset="0.125" stop-color="#aa2a5f"/><stop offset="0.1447" stop-color="#7d1e60"/><stop offset="0.1645" stop-color="#3b2464"/><stop offset="0.1908" stop-color="#24144c"/><stop offset="0.2039" stop-color="#100929"/><stop offset="0.2105" stop-color="#02030a"/><stop offset="0.4441" stop-color="#02030a"/><stop offset="0.4572" stop-color="#1e0a40"/><stop offset="0.4737" stop-color="#2c1e59"/><stop offset="0.5033" stop-color="#402566"/><stop offset="0.5296" stop-color="#972260"/><stop offset="0.5461" stop-color="#b83460"/><stop offset="0.6447" stop-color="#cb434b"/><stop offset="0.8388" stop-color="#b53260"/><stop offset="0.9868" stop-color="#99225f"/><stop offset="1" stop-color="#99225f"/></linearGradient>
<linearGradient id="gb39"><stop offset="0" stop-color="#9e235e"/><stop offset="0.09868" stop-color="#952260"/><stop offset="0.1414" stop-color="#3a2363"/><stop offset="0.1678" stop-color="#24154d"/><stop offset="0.1842" stop-color="#0e0925"/><stop offset="0.1875" stop-color="#02030a"/><stop offset="0.4572" stop-color="#02030a"/><stop offset="0.4638" stop-color="#12092d"/><stop offset="0.4967" stop-color="#2c1e59"/><stop offset="0.5296" stop-color="#422567"/><stop offset="0.5559" stop-color="#8d2061"/><stop offset="0.5724" stop-color="#bb365d"/><stop offset="0.625" stop-color="#cb434b"/><stop offset="0.8026" stop-color="#ba365d"/><stop offset="0.9342" stop-color="#922161"/><stop offset="1" stop-color="#8e2061"/></linearGradient>
<linearGradient id="gb40"><stop offset="0" stop-color="#9e245e"/><stop offset="0.0625" stop-color="#9a235f"/><stop offset="0.09868" stop-color="#4d2467"/><stop offset="0.125" stop-color="#2e1f5b"/><stop offset="0.1513" stop-color="#1e0b41"/><stop offset="0.1678" stop-color="#02030a"/><stop offset="0.477" stop-color="#02030a"/><stop offset="0.4868" stop-color="#14092f"/><stop offset="0.5197" stop-color="#2c1e59"/><stop offset="0.5658" stop-color="#442567"/><stop offset="0.5855" stop-color="#711c5e"/><stop offset="0.5954" stop-color="#a2255e"/><stop offset="0.602" stop-color="#bf3958"/><stop offset="0.6184" stop-color="#d14946"/><stop offset="0.7961" stop-color="#bd385a"/><stop offset="0.9178" stop-color="#8d2061"/><stop offset="1" stop-color="#851e61"/></linearGradient>
<linearGradient id="gb41"><stop offset="0" stop-color="#bf3a58"/><stop offset="0.03289" stop-color="#b63360"/><stop offset="0.05592" stop-color="#6d1c5e"/><stop offset="0.07566" stop-color="#3d2566"/><stop offset="0.1151" stop-color="#231249"/><stop offset="0.1382" stop-color="#08081b"/><stop offset="0.1414" stop-color="#02030a"/><stop offset="0.5" stop-color="#02030a"/><stop offset="0.5066" stop-color="#11092a"/><stop offset="0.5461" stop-color="#2b1e58"/><stop offset="0.5987" stop-color="#3d2565"/><stop offset="0.6118" stop-color="#651e60"/><stop offset="0.6217" stop-color="#a6285e"/><stop offset="0.6283" stop-color="#c23b55"/><stop offset="0.6447" stop-color="#da543f"/><stop offset="0.8059" stop-color="#bf3958"/><stop offset="0.9112" stop-color="#8d2061"/><stop offset="1" stop-color="#801e61"/></linearGradient>
<linearGradient id="gb42"><stop offset="0" stop-color="#9f245e"/><stop offset="0.01316" stop-color="#8a1f62"/><stop offset="0.03289" stop-color="#492468"/><stop offset="0.05921" stop-color="#2e1f5a"/><stop offset="0.09211" stop-color="#1c0a3c"/><stop offset="0.1053" stop-color="#0a081e"/><stop offset="0.1086" stop-color="#02030a"/><stop offset="0.523" stop-color="#02030a"/><stop offset="0.5428" stop-color="#190a37"/><stop offset="0.602" stop-color="#2f1f5b"/><stop offset="0.6349" stop-color="#442567"/><stop offset="0.6447" stop-color="#661e60"/><stop offset="0.6546" stop-color="#ad2d5f"/><stop offset="0.6678" stop-color="#d85140"/><stop offset="0.6809" stop-color="#df5c3b"/><stop offset="0.8059" stop-color="#c73f4f"/><stop offset="0.8618" stop-color="#a92a5f"/><stop offset="0.9638" stop-color="#811e61"/><stop offset="1" stop-color="#7d1e60"/></linearGradient>
<linearGradient id="gb43"><stop offset="0" stop-color="#35215f"/><stop offset="0.04276" stop-color="#24144c"/><stop offset="0.07237" stop-color="#07081a"/><stop offset="0.07566" stop-color="#02030a"/><stop offset="0.5592" stop-color="#02030a"/><stop offset="0.5757" stop-color="#13092d"/><stop offset="0.6118" stop-color="#281a53"/><stop offset="0.6678" stop-color="#412566"/><stop offset="0.6776" stop-color="#611f61"/><stop offset="0.6875" stop-color="#ab2b5f"/><stop offset="0.7007" stop-color="#df5c3b"/><stop offset="0.7105" stop-color="#e96d35"/><stop offset="0.7895" stop-color="#de593c"/><stop offset="0.8717" stop-color="#ac2c5f"/><stop offset="0.9671" stop-color="#811e61"/><stop offset="1" stop-color="#7c1e60"/></linearGradient>
<linearGradient id="gb44"><stop offset="0" stop-color="#221149"/><stop offset="0.02632" stop-color="#13092e"/><stop offset="0.03289" stop-color="#0a081f"/><stop offset="0.03618" stop-color="#02030a"/><stop offset="0.5954" stop-color="#02030a"/><stop offset="0.6118" stop-color="#160932"/><stop offset="0.6612" stop-color="#2e1f5a"/><stop offset="0.7007" stop-color="#402566"/><stop offset="0.7105" stop-color="#691d5f"/><stop offset="0.7171" stop-color="#a6285f"/><stop offset="0.727" stop-color="#dc563e"/><stop offset="0.7336" stop-color="#ef7e31"/><stop offset="0.7895" stop-color="#ee7932"/><stop offset="0.8421" stop-color="#c8404e"/><stop offset="0.8882" stop-color="#ab2b5f"/><stop offset="0.9803" stop-color="#7f1e60"/><stop offset="1" stop-color="#7c1e60"/></linearGradient>
<linearGradient id="gb45"><stop offset="0" stop-color="#02030a"/><stop offset="0.625" stop-color="#02030a"/><stop offset="0.6349" stop-color="#100929"/><stop offset="0.6809" stop-color="#2b1e59"/><stop offset="0.727" stop-color="#3a2363"/><stop offset="0.7303" stop-color="#452567"/><stop offset="0.7336" stop-color="#5d1f61"/><stop offset="0.7368" stop-color="#99225f"/><stop offset="0.7401" stop-color="#cc444a"/><stop offset="0.7434" stop-color="#eb7134"/><stop offset="0.7467" stop-color="#f49930"/><stop offset="0.7533" stop-color="#f6a830"/><stop offset="0.7829" stop-color="#f6b630"/><stop offset="0.8289" stop-color="#e2603a"/><stop offset="0.8618" stop-color="#c53e51"/><stop offset="0.9046" stop-color="#a92a5f"/><stop offset="0.9934" stop-color="#7e1e60"/><stop offset="1" stop-color="#7d1e60"/></linearGradient>
<linearGradient id="gb46"><stop offset="0" stop-color="#02030a"/><stop offset="0.648" stop-color="#02030a"/><stop offset="0.6546" stop-color="#0d0924"/><stop offset="0.6941" stop-color="#271952"/><stop offset="0.7401" stop-color="#392362"/><stop offset="0.7434" stop-color="#492468"/><stop offset="0.7467" stop-color="#731d5f"/><stop offset="0.75" stop-color="#be385a"/><stop offset="0.7533" stop-color="#e56538"/><stop offset="0.7566" stop-color="#f5a230"/><stop offset="0.7599" stop-color="#f1d94a"/><stop offset="0.7829" stop-color="#e7e46f"/><stop offset="0.7993" stop-color="#ecdf5a"/><stop offset="0.8125" stop-color="#f7be30"/><stop offset="0.8322" stop-color="#ed7732"/><stop offset="0.8586" stop-color="#d24a45"/><stop offset="0.9145" stop-color="#ad2c5f"/><stop offset="0.9967" stop-color="#7f1e60"/><stop offset="1" stop-color="#7e1e60"/></linearGradient>
<linearGradient id="gb47"><stop offset="0" stop-color="#02030a"/><stop offset="0.6678" stop-color="#02030a"/><stop offset="0.6875" stop-color="#170935"/><stop offset="0.7401" stop-color="#32205d"/><stop offset="0.7533" stop-color="#3f2566"/><stop offset="0.7566" stop-color="#5f1f61"/><stop offset="0.7599" stop-color="#ad2d5f"/><stop offset="0.7632" stop-color="#e15e3b"/><stop offset="0.7664" stop-color="#f7ba30"/><stop offset="0.7697" stop-color="#e3e698"/><stop offset="0.8059" stop-color="#e2e6a0"/><stop offset="0.8092" stop-color="#e3e69b"/><stop offset="0.8224" stop-color="#f2d646"/><stop offset="0.8289" stop-color="#f6b430"/><stop offset="0.8421" stop-color="#ef7d31"/><stop offset="0.8717" stop-color="#d14946"/><stop offset="0.9276" stop-color="#ab2c5f"/><stop offset="1" stop-color="#801e61"/></linearGradient>
<linearGradient id="gb48"><stop offset="0" stop-color="#02030a"/><stop offset="0.6875" stop-color="#02030a"/><stop offset="0.7072" stop-color="#170934"/><stop offset="0.7434" stop-color="#2f1f5b"/><stop offset="0.7632" stop-color="#3f2566"/><stop offset="0.7664" stop-color="#721c5f"/><stop offset="0.7697" stop-color="#d24a45"/><stop offset="0.773" stop-color="#f7bf31"/><stop offset="0.7763" stop-color="#e2e6a0"/><stop offset="0.8224" stop-color="#e2e69c"/><stop offset="0.8322" stop-color="#f1d94a"/><stop offset="0.8388" stop-color="#f6b530"/><stop offset="0.852" stop-color="#ef7c31"/><stop offset="0.8816" stop-color="#d34b44"/><stop offset="0.9375" stop-color="#ab2b5f"/><stop offset="1" stop-color="#811e61"/></linearGradient>
<linearGradient id="gb49"><stop offset="0" stop-color="#02030a"/><stop offset="0.7072" stop-color="#02030a"/><stop offset="0.7336" stop-color="#231249"/><stop offset="0.7599" stop-color="#33205e"/><stop offset="0.7664" stop-color="#372261"/><stop offset="0.7697" stop-color="#462467"/><stop offset="0.773" stop-color="#a4275e"/><stop offset="0.7763" stop-color="#f08030"/><stop offset="0.7796" stop-color="#e2e6a0"/><stop offset="0.8289" stop-color="#e2e6a0"/><stop offset="0.8388" stop-color="#f0db4f"/><stop offset="0.8454" stop-color="#f7b930"/><stop offset="0.8586" stop-color="#f07f30"/><stop offset="0.8914" stop-color="#d34b44"/><stop offset="0.9441" stop-color="#ac2c5f"/><stop offset="1" stop-color="#831e61"/></linearGradient>
<linearGradient id="gb50"><stop offset="0" stop-color="#02030a"/><stop offset="0.7204" stop-color="#02030a"/><stop offset="0.727" stop-color="#11092a"/><stop offset="0.7566" stop-color="#2d1f5a"/><stop offset="0.7697" stop-color="#362160"/><stop offset="0.773" stop-color="#442567"/><stop offset="0.7763" stop-color="#a6285f"/><stop offset="0.7796" stop-color="#f18830"/><stop offset="0.7829" stop-color="#e2e6a0"/><stop offset="0.8322" stop-color="#e2e6a0"/><stop offset="0.8421" stop-color="#eedd56"/><stop offset="0.8487" stop-color="#f6c233"/><stop offset="0.8618" stop-color="#f18730"/><stop offset="0.898" stop-color="#d44c44"/><stop offset="0.9507" stop-color="#ab2b5f"/><stop offset="1" stop-color="#851e61"/></linearGradient>
<linearGradient id="gb51"><stop offset="0" stop-color="#02030a"/><stop offset="0.727" stop-color="#02030a"/><stop offset="0.75" stop-color="#25154d"/><stop offset="0.773" stop-color="#382262"/><stop offset="0.7763" stop-color="#621e60"/><stop offset="0.7796" stop-color="#d34b44"/><stop offset="0.7829" stop-color="#f4d041"/><stop offset="0.7862" stop-color="#e2e69e"/><stop offset="0.8289" stop-color="#e2e6a0"/><stop offset="0.8454" stop-color="#f2d747"/><stop offset="0.852" stop-color="#f7bb30"/><stop offset="0.8684" stop-color="#f07f30"/><stop offset="0.9079" stop-color="#d04847"/><stop offset="0.9539" stop-color="#ac2c5f"/><stop offset="1" stop-color="#871f62"/></linearGradient>
<linearGradient id="gb52"><stop offset="0" stop-color="#02030a"/><stop offset="0.7336" stop-color="#02030a"/><stop offset="0.7467" stop-color="#1f0c43"/><stop offset="0.7632" stop-color="#301f5c"/><stop offset="0.773" stop-color="#372261"/><stop offset="0.7763" stop-color="#572163"/><stop offset="0.7796" stop-color="#c63f50"/><stop offset="0.7829" stop-color="#f5a430"/><stop offset="0.7862" stop-color="#ebe15f"/><stop offset="0.8224" stop-color="#e6e578"/><stop offset="0.8421" stop-color="#f3d545"/><stop offset="0.852" stop-color="#f6b330"/><stop offset="0.875" stop-color="#ec7533"/><stop offset="0.9145" stop-color="#cd454a"/><stop offset="0.9572" stop-color="#ab2c5f"/><stop offset="1" stop-color="#891f62"/></linearGradient>
<linearGradient id="gb53"><stop offset="0" stop-color="#02030a"/><stop offset="0.727" stop-color="#02030a"/><stop offset="0.7434" stop-color="#200d43"/><stop offset="0.7599" stop-color="#2f1f5b"/><stop offset="0.773" stop-color="#3a2363"/><stop offset="0.7763" stop-color="#671d5f"/><stop offset="0.7796" stop-color="#cf4748"/><stop offset="0.7829" stop-color="#f5a330"/><stop offset="0.7862" stop-color="#f5ca3b"/><stop offset="0.8322" stop-color="#f5c638"/><stop offset="0.8717" stop-color="#ed7732"/><stop offset="0.9178" stop-color="#cb434b"/><stop offset="0.9605" stop-color="#aa2a5f"/><stop offset="1" stop-color="#8b1f62"/></linearGradient>
<linearGradient id="gb54"><stop offset="0" stop-color="#02030a"/><stop offset="0.7237" stop-color="#02030a"/><stop offset="0.7303" stop-color="#14092f"/><stop offset="0.7533" stop-color="#2d1f5a"/><stop offset="0.7697" stop-color="#372261"/><stop offset="0.773" stop-color="#4c2468"/><stop offset="0.7763" stop-color="#a6285e"/><stop offset="0.7796" stop-color="#e96c35"/><stop offset="0.7829" stop-color="#f6b130"/><stop offset="0.8092" stop-color="#f59e30"/><stop offset="0.8454" stop-color="#f29030"/><stop offset="0.9112" stop-color="#ce4649"/><stop offset="0.9605" stop-color="#aa2b5f"/><stop offset="1" stop-color="#8c1f62"/></linearGradient>
<linearGradient id="gb55"><stop offset="0" stop-color="#02030a"/><stop offset="0.7105" stop-color="#02030a"/><stop offset="0.7368" stop-color="#24144c"/><stop offset="0.7664" stop-color="#382261"/><stop offset="0.7697" stop-color="#4c2468"/><stop offset="0.773" stop-color="#9a235f"/><stop offset="0.7763" stop-color="#de5a3c"/><stop offset="0.7796" stop-color="#f49930"/><stop offset="0.8717" stop-color="#e36239"/><stop offset="0.9408" stop-color="#bb365d"/><stop offset="1" stop-color="#8c1f62"/></linearGradient>
<linearGradient id="gb56"><stop offset="0" stop-color="#02030a"/><stop offset="0.6941" stop-color="#040511"/><stop offset="0.7138" stop-color="#190a37"/><stop offset="0.75" stop-color="#31205d"/><stop offset="0.7632" stop-color="#3e2566"/><stop offset="0.7664" stop-color="#641e60"/><stop offset="0.7697" stop-color="#bc375c"/><stop offset="0.773" stop-color="#e86936"/><stop offset="0.7763" stop-color="#f39530"/><stop offset="0.8125" stop-color="#eb7333"/><stop offset="0.9211" stop-color="#c13b56"/><stop offset="1" stop-color="#8c1f62"/></linearGradient>
<linearGradient id="gb57"><stop offset="0" stop-color="#02030a"/><stop offset="0.6743" stop-color="#02030a"/><stop offset="0.6842" stop-color="#0f0928"/><stop offset="0.727" stop-color="#281b54"/><stop offset="0.7566" stop-color="#392363"/><stop offset="0.7599" stop-color="#512366"/><stop offset="0.7632" stop-color="#99225f"/><stop offset="0.7664" stop-color="#d54d42"/><stop offset="0.7697" stop-color="#f07f30"/><stop offset="0.773" stop-color="#f28b30"/><stop offset="0.8289" stop-color="#de593c"/><stop offset="0.9507" stop-color="#ab2b5f"/><stop offset="1" stop-color="#8b1f62"/></linearGradient>
<linearGradient id="gb58"><stop offset="0" stop-color="#02030a"/><stop offset="0.6513" stop-color="#02030a"/><stop offset="0.6711" stop-color="#150931"/><stop offset="0.7237" stop-color="#2d1f5a"/><stop offset="0.75" stop-color="#372261"/><stop offset="0.7533" stop-color="#442567"/><stop offset="0.7566" stop-color="#731d5f"/><stop offset="0.7599" stop-color="#c43d53"/><stop offset="0.7632" stop-color="#e96d35"/><stop offset="0.7664" stop-color="#f18630"/><stop offset="0.8224" stop-color="#d54d43"/><stop offset="0.9441" stop-color="#a92a5f"/><stop offset="1" stop-color="#891f62"/></linearGradient>
<linearGradient id="gb59"><stop offset="0" stop-color="#07081a"/><stop offset="0.003289" stop-color="#02030a"/><stop offset="0.6316" stop-color="#02030a"/><stop offset="0.6447" stop-color="#11092b"/><stop offset="0.7072" stop-color="#2d1f5a"/><stop offset="0.7434" stop-color="#382261"/><stop offset="0.7467" stop-color="#412566"/><stop offset="0.75" stop-color="#611f61"/><stop offset="0.7533" stop-color="#b02f5f"/><stop offset="0.7566" stop-color="#dc563e"/><stop offset="0.7599" stop-color="#ef7d31"/><stop offset="0.8092" stop-color="#d04847"/><stop offset="0.9211" stop-color="#ad2d5f"/><stop offset="1" stop-color="#871f62"/></linearGradient>
<linearGradient id="gb60"><stop offset="0" stop-color="#210f46"/><stop offset="0.01974" stop-color="#07081a"/><stop offset="0.02303" stop-color="#02030a"/><stop offset="0.6086" stop-color="#02030a"/><stop offset="0.6217" stop-color="#100929"/><stop offset="0.6842" stop-color="#2c1e59"/><stop offset="0.7336" stop-color="#3c2464"/><stop offset="0.7401" stop-color="#592062"/><stop offset="0.7434" stop-color="#861f61"/><stop offset="0.7467" stop-color="#be3959"/><stop offset="0.75" stop-color="#dc563e"/><stop offset="0.7533" stop-color="#ed7733"/><stop offset="0.7993" stop-color="#cb434b"/><stop offset="0.8651" stop-color="#b12f5f"/><stop offset="1" stop-color="#841e61"/></linearGradient>
<linearGradient id="gb61"><stop offset="0" stop-color="#35215f"/><stop offset="0.01645" stop-color="#24144c"/><stop offset="0.04276" stop-color="#02030a"/><stop offset="0.5855" stop-color="#02030a"/><stop offset="0.5987" stop-color="#100929"/><stop offset="0.6645" stop-color="#2c1f5a"/><stop offset="0.7171" stop-color="#402566"/><stop offset="0.7237" stop-color="#5e1f61"/><stop offset="0.7303" stop-color="#a5275e"/><stop offset="0.7368" stop-color="#d24a46"/><stop offset="0.7434" stop-color="#eb7234"/><stop offset="0.7599" stop-color="#e36139"/><stop offset="0.7961" stop-color="#c33c54"/><stop offset="0.8421" stop-color="#a8295f"/><stop offset="1" stop-color="#811e61"/></linearGradient>
<linearGradient id="gb62"><stop offset="0" stop-color="#4a2468"/><stop offset="0.02961" stop-color="#271a53"/><stop offset="0.04276" stop-color="#170935"/><stop offset="0.06579" stop-color="#02030a"/><stop offset="0.5658" stop-color="#02030a"/><stop offset="0.5822" stop-color="#140930"/><stop offset="0.6447" stop-color="#2d1f5a"/><stop offset="0.6974" stop-color="#3d2465"/><stop offset="0.7039" stop-color="#552164"/><stop offset="0.7072" stop-color="#6c1c5e"/><stop offset="0.7105" stop-color="#922161"/><stop offset="0.7138" stop-color="#b83460"/><stop offset="0.7237" stop-color="#e56538"/><stop offset="0.7303" stop-color="#eb7234"/><stop offset="0.7895" stop-color="#bd385a"/><stop offset="0.8487" stop-color="#972260"/><stop offset="1" stop-color="#7e1e60"/></linearGradient>
<linearGradient id="gb63"><stop offset="0" stop-color="#5e1f61"/><stop offset="0.02961" stop-color="#392362"/><stop offset="0.0625" stop-color="#13092e"/><stop offset="0.08224" stop-color="#02030a"/><stop offset="0.5461" stop-color="#02030a"/><stop offset="0.5658" stop-color="#160933"/><stop offset="0.6184" stop-color="#2c1e59"/><stop offset="0.6776" stop-color="#3c2465"/><stop offset="0.6875" stop-color="#611f61"/><stop offset="0.6941" stop-color="#a4275e"/><stop offset="0.7007" stop-color="#d04847"/><stop offset="0.7072" stop-color="#e86936"/><stop offset="0.7237" stop-color="#e46339"/><stop offset="0.7928" stop-color="#ad2d5f"/><stop offset="0.8454" stop-color="#8d2062"/><stop offset="1" stop-color="#7a1d60"/></linearGradient>
<linearGradient id="gb64"><stop offset="0" stop-color="#741d5f"/><stop offset="0.03289" stop-color="#4a2468"/><stop offset="0.05921" stop-color="#231249"/><stop offset="0.09868" stop-color="#02030a"/><stop offset="0.5296" stop-color="#02030a"/><stop offset="0.5461" stop-color="#150931"/><stop offset="0.5987" stop-color="#2d1f5a"/><stop offset="0.6579" stop-color="#3f2566"/><stop offset="0.6678" stop-color="#681d5f"/><stop offset="0.6743" stop-color="#a7295f"/><stop offset="0.6809" stop-color="#cd454a"/><stop offset="0.6908" stop-color="#e76936"/><stop offset="0.7796" stop-color="#ac2c5f"/><stop offset="0.8322" stop-color="#861f61"/><stop offset="1" stop-color="#771d5f"/></linearGradient>
<linearGradient id="gb65"><stop offset="0" stop-color="#932160"/><stop offset="0.02961" stop-color="#691d5f"/><stop offset="0.04934" stop-color="#3c2465"/><stop offset="0.08553" stop-color="#160932"/><stop offset="0.1151" stop-color="#02030a"/><stop offset="0.5132" stop-color="#02030a"/><stop offset="0.5395" stop-color="#1b0a3b"/><stop offset="0.5822" stop-color="#2d1f5a"/><stop offset="0.6349" stop-color="#3d2465"/><stop offset="0.6447" stop-color="#5a2062"/><stop offset="0.6513" stop-color="#902061"/><stop offset="0.6579" stop-color="#c23b55"/><stop offset="0.6678" stop-color="#e05d3b"/><stop offset="0.75" stop-color="#bb365c"/><stop offset="0.8059" stop-color="#891f62"/><stop offset="0.9046" stop-color="#7a1d60"/><stop offset="1" stop-color="#741d5f"/></linearGradient>
<linearGradient id="gb66"><stop offset="0" stop-color="#aa2b5f"/><stop offset="0.02632" stop-color="#932160"/><stop offset="0.05921" stop-color="#3b2464"/><stop offset="0.09868" stop-color="#150931"/><stop offset="0.1316" stop-color="#02030a"/><stop offset="0.5" stop-color="#02030a"/><stop offset="0.5099" stop-color="#0d0924"/><stop offset="0.5461" stop-color="#25154d"/><stop offset="0.6151" stop-color="#402566"/><stop offset="0.625" stop-color="#671d5f"/><stop offset="0.6316" stop-color="#9e245e"/><stop offset="0.6349" stop-color="#b9355f"/><stop offset="0.648" stop-color="#dc563e"/><stop offset="0.75" stop-color="#ab2b5f"/><stop offset="0.8257" stop-color="#7a1d60"/><stop offset="1" stop-color="#711c5e"/></linearGradient>
<linearGradient id="gb67"><stop offset="0" stop-color="#ba355e"/><stop offset="0.02961" stop-color="#a82a5f"/><stop offset="0.05592" stop-color="#5c2062"/><stop offset="0.06908" stop-color="#372261"/><stop offset="0.1118" stop-color="#140930"/><stop offset="0.1513" stop-color="#02030a"/><stop offset="0.4868" stop-color="#02030a"/><stop offset="0.5164" stop-color="#1a0a39"/><stop offset="0.5625" stop-color="#2f1f5b"/><stop offset="0.5987" stop-color="#3e2566"/><stop offset="0.6086" stop-color="#671d5f"/><stop offset="0.6151" stop-color="#a2265e"/><stop offset="0.6217" stop-color="#c73f4f"/><stop offset="0.6316" stop-color="#d54d42"/><stop offset="0.727" stop-color="#ac2c5f"/><stop offset="0.8224" stop-color="#771d5f"/><stop offset="1" stop-color="#6f1c5e"/></linearGradient>
<linearGradient id="gb68"><stop offset="0" stop-color="#be3959"/><stop offset="0.03618" stop-color="#ab2c5f"/><stop offset="0.05263" stop-color="#811e61"/><stop offset="0.07566" stop-color="#372261"/><stop offset="0.1217" stop-color="#160932"/><stop offset="0.1645" stop-color="#02030a"/><stop offset="0.477" stop-color="#02030a"/><stop offset="0.5" stop-color="#140930"/><stop offset="0.5526" stop-color="#2e1f5b"/><stop offset="0.5888" stop-color="#3d2565"/><stop offset="0.5954" stop-color="#562164"/><stop offset="0.602" stop-color="#912161"/><stop offset="0.6086" stop-color="#c03a57"/><stop offset="0.6184" stop-color="#ce4649"/><stop offset="0.7072" stop-color="#aa2b5f"/><stop offset="0.8191" stop-color="#741d5f"/><stop offset="1" stop-color="#6d1c5e"/></linearGradient>
<linearGradient id="gb69"><stop offset="0" stop-color="#bd385a"/><stop offset="0.03618" stop-color="#aa2b5f"/><stop offset="0.05592" stop-color="#881f62"/><stop offset="0.08224" stop-color="#382261"/><stop offset="0.1349" stop-color="#150931"/><stop offset="0.1809" stop-color="#02030a"/><stop offset="0.4638" stop-color="#02030a"/><stop offset="0.523" stop-color="#25154e"/><stop offset="0.5822" stop-color="#3e2566"/><stop offset="0.5888" stop-color="#572163"/><stop offset="0.5954" stop-color="#922160"/><stop offset="0.5987" stop-color="#b23060"/><stop offset="0.6053" stop-color="#c73f4f"/><stop offset="0.6842" stop-color="#a8295f"/><stop offset="0.8026" stop-color="#741d5f"/><stop offset="1" stop-color="#6c1c5e"/></linearGradient>
<linearGradient id="gb70"><stop offset="0" stop-color="#b63360"/><stop offset="0.05592" stop-color="#8e2061"/><stop offset="0.08882" stop-color="#382261"/><stop offset="0.148" stop-color="#150931"/><stop offset="0.1908" stop-color="#02030a"/><stop offset="0.4539" stop-color="#02030a"/><stop offset="0.4803" stop-color="#11092b"/><stop offset="0.5197" stop-color="#261750"/><stop offset="0.5757" stop-color="#3d2565"/><stop offset="0.5855" stop-color="#641e60"/><stop offset="0.5921" stop-color="#a0245e"/><stop offset="0.5954" stop-color="#b9355f"/><stop offset="0.6086" stop-color="#c03a57"/><stop offset="0.7204" stop-color="#871f62"/><stop offset="0.8684" stop-color="#6c1c5e"/><stop offset="1" stop-color="#6b1d5f"/></linearGradient>
<linearGradient id="gb71"><stop offset="0" stop-color="#a4275e"/><stop offset="0.06579" stop-color="#7c1d60"/><stop offset="0.09539" stop-color="#382261"/><stop offset="0.1612" stop-color="#150931"/><stop offset="0.2039" stop-color="#02030a"/><stop offset="0.4474" stop-color="#02030a"/><stop offset="0.4638" stop-color="#0e0925"/><stop offset="0.5099" stop-color="#24144c"/><stop offset="0.5724" stop-color="#402566"/><stop offset="0.5822" stop-color="#691d5f"/><stop offset="0.5921" stop-color="#b63360"/><stop offset="0.6118" stop-color="#b73360"/><stop offset="0.6974" stop-color="#871f62"/><stop offset="0.8618" stop-color="#6b1d5f"/><stop offset="1" stop-color="#6a1d5f"/></linearGradient>
<linearGradient id="gb72"><stop offset="0" stop-color="#942160"/><stop offset="0.07237" stop-color="#741d5f"/><stop offset="0.09868" stop-color="#3c2465"/><stop offset="0.1743" stop-color="#13092e"/><stop offset="0.2138" stop-color="#02030a"/><stop offset="0.4375" stop-color="#02030a"/><stop offset="0.4803" stop-color="#1a0a39"/><stop offset="0.5362" stop-color="#2f1f5c"/><stop offset="0.5691" stop-color="#422567"/><stop offset="0.5789" stop-color="#691d5f"/><stop offset="0.5888" stop-color="#ad2d5f"/><stop offset="0.5987" stop-color="#b53260"/><stop offset="0.6678" stop-color="#8a1f62"/><stop offset="0.8125" stop-color="#6c1c5e"/><stop offset="1" stop-color="#691d5f"/></linearGradient>
<linearGradient id="gb73"><stop offset="0" stop-color="#881f62"/><stop offset="0.08224" stop-color="#6b1d5f"/><stop offset="0.1053" stop-color="#3c2464"/><stop offset="0.1875" stop-color="#12092c"/><stop offset="0.2237" stop-color="#02030a"/><stop offset="0.4309" stop-color="#02030a"/><stop offset="0.477" stop-color="#1d0a3f"/><stop offset="0.5362" stop-color="#31205d"/><stop offset="0.5658" stop-color="#432567"/><stop offset="0.5757" stop-color="#681d5f"/><stop offset="0.5855" stop-color="#a3265e"/><stop offset="0.5954" stop-color="#ad2c5f"/><stop offset="0.6776" stop-color="#7e1e60"/><stop offset="0.8816" stop-color="#691d5f"/><stop offset="1" stop-color="#681d5f"/></linearGradient>
<linearGradient id="gb74"><stop offset="0" stop-color="#801e61"/><stop offset="0.08882" stop-color="#691d5f"/><stop offset="0.1118" stop-color="#3b2464"/><stop offset="0.1875" stop-color="#170934"/><stop offset="0.2204" stop-color="#050613"/><stop offset="0.2336" stop-color="#02030a"/><stop offset="0.4243" stop-color="#02030a"/><stop offset="0.4704" stop-color="#1e0b41"/><stop offset="0.5329" stop-color="#32205d"/><stop offset="0.5625" stop-color="#442567"/><stop offset="0.5724" stop-color="#671d5f"/><stop offset="0.5822" stop-color="#9b235f"/><stop offset="0.5921" stop-color="#a6285e"/><stop offset="0.6711" stop-color="#7a1d60"/><stop offset="0.9145" stop-color="#681d5f"/><stop offset="1" stop-color="#681d5f"/></linearGradient>
<linearGradient id="gb75"><stop offset="0" stop-color="#7d1e60"/><stop offset="0.09539" stop-color="#681d5f"/><stop offset="0.1184" stop-color="#3b2464"/><stop offset="0.1743" stop-color="#210f46"/><stop offset="0.227" stop-color="#040612"/><stop offset="0.25" stop-color="#02030a"/><stop offset="0.4178" stop-color="#02030a"/><stop offset="0.4572" stop-color="#1b0a3b"/><stop offset="0.5164" stop-color="#2f1f5b"/><stop offset="0.5559" stop-color="#402566"/><stop offset="0.5691" stop-color="#661e60"/><stop offset="0.5789" stop-color="#942160"/><stop offset="0.5888" stop-color="#a0245e"/><stop offset="0.6645" stop-color="#771d5f"/><stop offset="0.9836" stop-color="#671d5f"/><stop offset="1" stop-color="#671d5f"/></linearGradient>
<linearGradient id="gb76"><stop offset="0" stop-color="#7c1d60"/><stop offset="0.09868" stop-color="#6c1c5e"/><stop offset="0.125" stop-color="#3b2464"/><stop offset="0.1974" stop-color="#1c0a3c"/><stop offset="0.2401" stop-color="#02030a"/><stop offset="0.4112" stop-color="#02030a"/><stop offset="0.4375" stop-color="#140930"/><stop offset="0.4967" stop-color="#2c1e59"/><stop offset="0.5526" stop-color="#432567"/><stop offset="0.5658" stop-color="#661e60"/><stop offset="0.5789" stop-color="#962260"/><stop offset="0.5987" stop-color="#912161"/><stop offset="0.6743" stop-color="#711c5e"/><stop offset="1" stop-color="#661e60"/></linearGradient>
<linearGradient id="gb77"><stop offset="0" stop-color="#7b1d60"/><stop offset="0.102" stop-color="#6f1c5e"/><stop offset="0.1316" stop-color="#3b2464"/><stop offset="0.1908" stop-color="#221048"/><stop offset="0.2368" stop-color="#060716"/><stop offset="0.2434" stop-color="#02030a"/><stop offset="0.4046" stop-color="#02030a"/><stop offset="0.4408" stop-color="#1a0a39"/><stop offset="0.4934" stop-color="#2e1f5b"/><stop offset="0.5461" stop-color="#422567"/><stop offset="0.5625" stop-color="#681d5f"/><stop offset="0.5757" stop-color="#922160"/><stop offset="0.5954" stop-color="#8f2061"/><stop offset="0.6678" stop-color="#6f1c5e"/><stop offset="1" stop-color="#661e60"/></linearGradient>
<linearGradient id="gb78"><stop offset="0" stop-color="#7b1d60"/><stop offset="0.1053" stop-color="#721c5f"/><stop offset="0.1382" stop-color="#3b2464"/><stop offset="0.1974" stop-color="#221047"/><stop offset="0.2434" stop-color="#050715"/><stop offset="0.25" stop-color="#02030a"/><stop offset="0.4013" stop-color="#02030a"/><stop offset="0.4276" stop-color="#170934"/><stop offset="0.4868" stop-color="#2e1f5b"/><stop offset="0.5395" stop-color="#432567"/><stop offset="0.5592" stop-color="#6b1d5f"/><stop offset="0.5757" stop-color="#942160"/><stop offset="0.6678" stop-color="#6c1c5e"/><stop offset="1" stop-color="#651e60"/></linearGradient>
<linearGradient id="gb79"><stop offset="0" stop-color="#7a1d60"/><stop offset="0.102" stop-color="#741d5f"/><stop offset="0.125" stop-color="#5f1f61"/><stop offset="0.148" stop-color="#372261"/><stop offset="0.2007" stop-color="#23124a"/><stop offset="0.25" stop-color="#050714"/><stop offset="0.2599" stop-color="#02030a"/><stop offset="0.3947" stop-color="#02030a"/><stop offset="0.4375" stop-color="#1f0c43"/><stop offset="0.4868" stop-color="#301f5c"/><stop offset="0.5329" stop-color="#452467"/><stop offset="0.5724" stop-color="#922161"/><stop offset="0.6678" stop-color="#6b1d5f"/><stop offset="1" stop-color="#651e60"/></linearGradient>
<linearGradient id="gb80"><stop offset="0" stop-color="#791d60"/><stop offset="0.09868" stop-color="#781d5f"/><stop offset="0.1283" stop-color="#651e60"/><stop offset="0.1513" stop-color="#3a2363"/><stop offset="0.2072" stop-color="#231249"/><stop offset="0.2566" stop-color="#040613"/><stop offset="0.273" stop-color="#02030a"/><stop offset="0.3914" stop-color="#02030a"/><stop offset="0.4145" stop-color="#150930"/><stop offset="0.4671" stop-color="#2d1f5a"/><stop offset="0.523" stop-color="#462467"/><stop offset="0.5691" stop-color="#912161"/><stop offset="0.6678" stop-color="#691d5f"/><stop offset="1" stop-color="#641e60"/></linearGradient>
<linearGradient id="gb81"><stop offset="0" stop-color="#781d5f"/><stop offset="0.09539" stop-color="#7b1d60"/><stop offset="0.1316" stop-color="#6a1d5f"/><stop offset="0.1579" stop-color="#392363"/><stop offset="0.2138" stop-color="#221149"/><stop offset="0.2599" stop-color="#060717"/><stop offset="0.2664" stop-color="#02030a"/><stop offset="0.3849" stop-color="#02030a"/><stop offset="0.4276" stop-color="#200d43"/><stop offset="0.4671" stop-color="#2f1f5b"/><stop offset="0.5132" stop-color="#462467"/><stop offset="0.5658" stop-color="#8e2061"/><stop offset="0.6711" stop-color="#681d5f"/><stop offset="1" stop-color="#631e60"/></linearGradient>
<linearGradient id="gb82"><stop offset="0" stop-color="#761d5f"/><stop offset="0.09539" stop-color="#7d1e60"/><stop offset="0.1382" stop-color="#691d5f"/><stop offset="0.1645" stop-color="#392362"/><stop offset="0.2204" stop-color="#221148"/><stop offset="0.2664" stop-color="#050715"/><stop offset="0.273" stop-color="#02030a"/><stop offset="0.3816" stop-color="#02030a"/><stop offset="0.4013" stop-color="#12092d"/><stop offset="0.4539" stop-color="#2d1f5a"/><stop offset="0.5033" stop-color="#432567"/><stop offset="0.5592" stop-color="#891f62"/><stop offset="0.6086" stop-color="#7d1e60"/><stop offset="0.6809" stop-color="#661e60"/><stop offset="1" stop-color="#631e60"/></linearGradient>
<linearGradient id="gb83"><stop offset="0" stop-color="#731d5f"/><stop offset="0.09539" stop-color="#7f1e60"/><stop offset="0.1414" stop-color="#6d1c5e"/><stop offset="0.1678" stop-color="#3a2363"/><stop offset="0.2237" stop-color="#23134a"/><stop offset="0.273" stop-color="#050714"/><stop offset="0.2829" stop-color="#02030a"/><stop offset="0.375" stop-color="#02030a"/><stop offset="0.4178" stop-color="#200d44"/><stop offset="0.4572" stop-color="#301f5c"/><stop offset="0.5" stop-color="#482467"/><stop offset="0.5526" stop-color="#831e61"/><stop offset="0.5987" stop-color="#831e61"/><stop offset="0.6711" stop-color="#661e60"/><stop offset="1" stop-color="#621e60"/></linearGradient>
<linearGradient id="gb84"><stop offset="0" stop-color="#711c5e"/><stop offset="0.09868" stop-color="#801e61"/><stop offset="0.148" stop-color="#6c1c5e"/><stop offset="0.1743" stop-color="#382262"/><stop offset="0.2303" stop-color="#23124a"/><stop offset="0.2796" stop-color="#050613"/><stop offset="0.2928" stop-color="#02030a"/><stop offset="0.3717" stop-color="#02030a"/><stop offset="0.3882" stop-color="#100929"/><stop offset="0.4276" stop-color="#271851"/><stop offset="0.4901" stop-color="#442567"/><stop offset="0.5395" stop-color="#781d5f"/><stop offset="0.5921" stop-color="#851e61"/><stop offset="0.6743" stop-color="#641e60"/><stop offset="1" stop-color="#611f61"/></linearGradient>
<linearGradient id="gb85"><stop offset="0" stop-color="#6e1c5e"/><stop offset="0.102" stop-color="#811e61"/><stop offset="0.1513" stop-color="#6e1c5e"/><stop offset="0.1776" stop-color="#392363"/><stop offset="0.2368" stop-color="#221149"/><stop offset="0.2961" stop-color="#02030a"/><stop offset="0.3651" stop-color="#02030a"/><stop offset="0.4112" stop-color="#211047"/><stop offset="0.4539" stop-color="#32205d"/><stop offset="0.4901" stop-color="#4d2468"/><stop offset="0.5362" stop-color="#731d5f"/><stop offset="0.5921" stop-color="#841e61"/><stop offset="0.6809" stop-color="#631e60"/><stop offset="1" stop-color="#611f61"/></linearGradient>
<linearGradient id="gb86"><stop offset="0" stop-color="#6c1c5e"/><stop offset="0.1086" stop-color="#811e61"/><stop offset="0.1546" stop-color="#711c5e"/><stop offset="0.1809" stop-color="#3b2364"/><stop offset="0.2401" stop-color="#24134b"/><stop offset="0.3026" stop-color="#02030a"/><stop offset="0.3618" stop-color="#02030a"/><stop offset="0.4079" stop-color="#221149"/><stop offset="0.4539" stop-color="#34205e"/><stop offset="0.4836" stop-color="#4d2467"/><stop offset="0.523" stop-color="#6c1c5e"/><stop offset="0.5954" stop-color="#821e61"/><stop offset="0.6875" stop-color="#621e60"/><stop offset="1" stop-color="#601f61"/></linearGradient>
<linearGradient id="gb87"><stop offset="0" stop-color="#6a1d5f"/><stop offset="0.1151" stop-color="#811e61"/><stop offset="0.1579" stop-color="#731c5f"/><stop offset="0.1875" stop-color="#392362"/><stop offset="0.2434" stop-color="#25154d"/><stop offset="0.2961" stop-color="#050716"/><stop offset="0.3026" stop-color="#02030a"/><stop offset="0.3586" stop-color="#02030a"/><stop offset="0.4013" stop-color="#211047"/><stop offset="0.4441" stop-color="#32205d"/><stop offset="0.477" stop-color="#4b2468"/><stop offset="0.5099" stop-color="#691d5f"/><stop offset="0.602" stop-color="#7f1e60"/><stop offset="0.6908" stop-color="#611f61"/><stop offset="1" stop-color="#5f1f61"/></linearGradient>
<linearGradient id="gb88"><stop offset="0" stop-color="#681d5f"/><stop offset="0.1217" stop-color="#801e61"/><stop offset="0.1612" stop-color="#741d5f"/><stop offset="0.1908" stop-color="#3a2363"/><stop offset="0.2533" stop-color="#23124a"/><stop offset="0.3026" stop-color="#050716"/><stop offset="0.3092" stop-color="#02030a"/><stop offset="0.3553" stop-color="#02030a"/><stop offset="0.3947" stop-color="#200d44"/><stop offset="0.4309" stop-color="#2f1f5c"/><stop offset="0.4671" stop-color="#442567"/><stop offset="0.5" stop-color="#6a1d5f"/><stop offset="0.6086" stop-color="#7c1d60"/><stop offset="0.7007" stop-color="#601f61"/><stop offset="1" stop-color="#5f1f61"/></linearGradient>
<linearGradient id="gb89"><stop offset="0" stop-color="#661e60"/><stop offset="0.1283" stop-color="#801e61"/><stop offset="0.1678" stop-color="#701c5e"/><stop offset="0.1974" stop-color="#392363"/><stop offset="0.2599" stop-color="#23124a"/><stop offset="0.3092" stop-color="#050716"/><stop offset="0.3158" stop-color="#02030a"/><stop offset="0.352" stop-color="#02030a"/><stop offset="0.3849" stop-color="#1c0a3d"/><stop offset="0.4243" stop-color="#2f1f5b"/><stop offset="0.4638" stop-color="#472467"/><stop offset="0.4967" stop-color="#6b1d5f"/><stop offset="0.6151" stop-color="#781d5f"/><stop offset="0.7072" stop-color="#5f1f61"/><stop offset="1" stop-color="#5e1f61"/></linearGradient>
<linearGradient id="gb90"><stop offset="0" stop-color="#641e60"/><stop offset="0.1382" stop-color="#7f1e60"/><stop offset="0.1711" stop-color="#721c5f"/><stop offset="0.2039" stop-color="#392362"/><stop offset="0.2632" stop-color="#24144c"/><stop offset="0.3158" stop-color="#050716"/><stop offset="0.3224" stop-color="#02030a"/><stop offset="0.3487" stop-color="#02030a"/><stop offset="0.375" stop-color="#180a36"/><stop offset="0.4178" stop-color="#2e1f5b"/><stop offset="0.4572" stop-color="#452467"/><stop offset="0.4901" stop-color="#6e1c5e"/><stop offset="0.5757" stop-color="#751d5f"/><stop offset="0.6316" stop-color="#701c5e"/><stop offset="0.7368" stop-color="#5e1f61"/><stop offset="1" stop-color="#5d1f61"/></linearGradient>
<linearGradient id="gb91"><stop offset="0" stop-color="#621e60"/><stop offset="0.1447" stop-color="#7e1e60"/><stop offset="0.1743" stop-color="#731d5f"/><stop offset="0.2072" stop-color="#3b2364"/><stop offset="0.2697" stop-color="#24144c"/><stop offset="0.3224" stop-color="#050715"/><stop offset="0.3289" stop-color="#02030a"/><stop offset="0.3454" stop-color="#040613"/><stop offset="0.3914" stop-color="#24144c"/><stop offset="0.4507" stop-color="#432567"/><stop offset="0.4836" stop-color="#711c5e"/><stop offset="0.5757" stop-color="#721c5f"/><stop offset="0.6316" stop-color="#6f1c5e"/><stop offset="0.7434" stop-color="#5d1f61"/><stop offset="1" stop-color="#5d1f61"/></linearGradient>
<linearGradient id="gb92"><stop offset="0" stop-color="#601f61"/><stop offset="0.1546" stop-color="#7c1e60"/><stop offset="0.1809" stop-color="#6f1c5e"/><stop offset="0.2138" stop-color="#3a2363"/><stop offset="0.2763" stop-color="#24144c"/><stop offset="0.3289" stop-color="#050613"/><stop offset="0.3388" stop-color="#02030a"/><stop offset="0.375" stop-color="#1d0a3f"/><stop offset="0.4145" stop-color="#2f1f5c"/><stop offset="0.4474" stop-color="#452567"/><stop offset="0.4803" stop-color="#761d5f"/><stop offset="0.5757" stop-color="#6e1c5e"/><stop offset="0.6382" stop-color="#6c1c5e"/><stop offset="0.7599" stop-color="#5c2062"/><stop offset="1" stop-color="#5c2062"/></linearGradient>
<linearGradient id="gb93"><stop offset="0" stop-color="#5f1f61"/><stop offset="0.1612" stop-color="#7b1d60"/><stop offset="0.1875" stop-color="#6b1d5f"/><stop offset="0.2204" stop-color="#3a2363"/><stop offset="0.2829" stop-color="#24144c"/><stop offset="0.3355" stop-color="#040612"/><stop offset="0.3849" stop-color="#25154d"/><stop offset="0.4408" stop-color="#402566"/><stop offset="0.4737" stop-color="#791d60"/><stop offset="0.5789" stop-color="#6c1c5e"/><stop offset="0.648" stop-color="#681d5f"/><stop offset="0.7928" stop-color="#5b2062"/><stop offset="1" stop-color="#5b2062"/></linearGradient>
<linearGradient id="gb94"><stop offset="0" stop-color="#5d1f61"/><stop offset="0.1711" stop-color="#791d60"/><stop offset="0.1941" stop-color="#681d5f"/><stop offset="0.227" stop-color="#392363"/><stop offset="0.2895" stop-color="#24144c"/><stop offset="0.3388" stop-color="#0b0820"/><stop offset="0.3816" stop-color="#25164e"/><stop offset="0.4375" stop-color="#412566"/><stop offset="0.4704" stop-color="#7c1d60"/><stop offset="0.5789" stop-color="#6a1d5f"/><stop offset="0.6612" stop-color="#641e60"/><stop offset="0.9408" stop-color="#5a2062"/><stop offset="1" stop-color="#5a2062"/></linearGradient>
<linearGradient id="gb95"><stop offset="0" stop-color="#5c2062"/><stop offset="0.1809" stop-color="#771d5f"/><stop offset="0.2072" stop-color="#5c2062"/><stop offset="0.2401" stop-color="#362160"/><stop offset="0.2928" stop-color="#25154e"/><stop offset="0.3355" stop-color="#100929"/><stop offset="0.375" stop-color="#24144c"/><stop offset="0.4342" stop-color="#412566"/><stop offset="0.4671" stop-color="#7d1e60"/><stop offset="0.5822" stop-color="#681d5f"/><stop offset="0.6678" stop-color="#621e60"/><stop offset="1" stop-color="#5a2062"/></linearGradient>
<linearGradient id="gb96"><stop offset="0" stop-color="#5b2062"/><stop offset="0.1908" stop-color="#741d5f"/><stop offset="0.2401" stop-color="#392362"/><stop offset="0.2993" stop-color="#24154d"/><stop offset="0.3388" stop-color="#160933"/><stop offset="0.3783" stop-color="#281a54"/><stop offset="0.4309" stop-color="#422567"/><stop offset="0.4638" stop-color="#7e1e60"/><stop offset="0.5197" stop-color="#711c5e"/><stop offset="0.5921" stop-color="#671d5f"/><stop offset="0.8849" stop-color="#592062"/><stop offset="1" stop-color="#592062"/></linearGradient>
<linearGradient id="gb97"><stop offset="0" stop-color="#5a2062"/><stop offset="0.1974" stop-color="#721c5f"/><stop offset="0.2467" stop-color="#392362"/><stop offset="0.3059" stop-color="#24144c"/><stop offset="0.3421" stop-color="#1c0a3d"/><stop offset="0.398" stop-color="#31205d"/><stop offset="0.4276" stop-color="#432567"/><stop offset="0.4605" stop-color="#7c1e60"/><stop offset="0.5132" stop-color="#741d5f"/><stop offset="0.5855" stop-color="#631e60"/><stop offset="0.6842" stop-color="#5d1f61"/><stop offset="1" stop-color="#592063"/></linearGradient>
<linearGradient id="gb98"><stop offset="0" stop-color="#582063"/><stop offset="0.2072" stop-color="#6e1c5e"/><stop offset="0.25" stop-color="#3b2464"/><stop offset="0.3125" stop-color="#24144c"/><stop offset="0.3421" stop-color="#1d0a3e"/><stop offset="0.3914" stop-color="#301f5c"/><stop offset="0.4243" stop-color="#442567"/><stop offset="0.4572" stop-color="#791d60"/><stop offset="0.5066" stop-color="#761d5f"/><stop offset="0.5822" stop-color="#601f61"/><stop offset="0.6875" stop-color="#5c2062"/><stop offset="1" stop-color="#582163"/></linearGradient>
<linearGradient id="gb99"><stop offset="0" stop-color="#572163"/><stop offset="0.2138" stop-color="#6c1c5e"/><stop offset="0.2599" stop-color="#392362"/><stop offset="0.3125" stop-color="#26174f"/><stop offset="0.3388" stop-color="#1c0a3c"/><stop offset="0.375" stop-color="#2c1f5a"/><stop offset="0.4211" stop-color="#452567"/><stop offset="0.4572" stop-color="#751d5f"/><stop offset="0.5099" stop-color="#701c5e"/><stop offset="0.5921" stop-color="#5e1f61"/><stop offset="1" stop-color="#562164"/></linearGradient>
<linearGradient id="gb100"><stop offset="0" stop-color="#562164"/><stop offset="0.2237" stop-color="#671d5f"/><stop offset="0.2664" stop-color="#382262"/><stop offset="0.3125" stop-color="#271851"/><stop offset="0.3355" stop-color="#1b0a3c"/><stop offset="0.3586" stop-color="#271952"/><stop offset="0.4178" stop-color="#462467"/><stop offset="0.4539" stop-color="#701c5e"/><stop offset="0.5099" stop-color="#6d1c5e"/><stop offset="0.5954" stop-color="#5b2062"/><stop offset="1" stop-color="#552164"/></linearGradient>
<linearGradient id="gb101"><stop offset="0" stop-color="#542264"/><stop offset="0.2303" stop-color="#651e60"/><stop offset="0.2697" stop-color="#392362"/><stop offset="0.3125" stop-color="#281a53"/><stop offset="0.3355" stop-color="#1b0a3c"/><stop offset="0.3717" stop-color="#301f5c"/><stop offset="0.4145" stop-color="#472467"/><stop offset="0.4507" stop-color="#6a1d5f"/><stop offset="0.5164" stop-color="#671d5f"/><stop offset="0.6053" stop-color="#5a2062"/><stop offset="1" stop-color="#542265"/></linearGradient>
<linearGradient id="gb102"><stop offset="0" stop-color="#532265"/><stop offset="0.2368" stop-color="#621e60"/><stop offset="0.2763" stop-color="#392362"/><stop offset="0.3125" stop-color="#291c56"/><stop offset="0.3322" stop-color="#1c0a3c"/><stop offset="0.3553" stop-color="#261750"/><stop offset="0.3816" stop-color="#34215f"/><stop offset="0.4211" stop-color="#532265"/><stop offset="0.4671" stop-color="#6a1d5f"/><stop offset="0.6118" stop-color="#582163"/><stop offset="1" stop-color="#532265"/></linearGradient>
<linearGradient id="gb103"><stop offset="0" stop-color="#522265"/><stop offset="0.2434" stop-color="#5f1f61"/><stop offset="0.2862" stop-color="#382261"/><stop offset="0.3158" stop-color="#261851"/><stop offset="0.3355" stop-color="#1b0a3c"/><stop offset="0.3553" stop-color="#271952"/><stop offset="0.398" stop-color="#3f2566"/><stop offset="0.4474" stop-color="#611f61"/><stop offset="0.5296" stop-color="#5b2062"/><stop offset="1" stop-color="#522265"/></linearGradient>
<linearGradient id="gb104"><stop offset="0" stop-color="#512366"/><stop offset="0.25" stop-color="#5c2062"/><stop offset="0.3026" stop-color="#362160"/><stop offset="0.3355" stop-color="#1b0a3c"/><stop offset="0.3717" stop-color="#372261"/><stop offset="0.4507" stop-color="#5e1f61"/><stop offset="0.8947" stop-color="#512366"/><stop offset="1" stop-color="#512366"/></linearGradient>
<linearGradient id="gb105"><stop offset="0" stop-color="#502366"/><stop offset="0.2599" stop-color="#572163"/><stop offset="0.3092" stop-color="#32205d"/><stop offset="0.3355" stop-color="#1b0a3c"/><stop offset="0.352" stop-color="#26174f"/><stop offset="0.3783" stop-color="#3d2566"/><stop offset="0.4474" stop-color="#592062"/><stop offset="1" stop-color="#502366"/></linearGradient>
<linearGradient id="gb106"><stop offset="0" stop-color="#4e2367"/><stop offset="0.2697" stop-color="#542264"/><stop offset="0.3092" stop-color="#34205f"/><stop offset="0.3355" stop-color="#1b0a3c"/><stop offset="0.3717" stop-color="#412566"/><stop offset="0.4572" stop-color="#572163"/><stop offset="1" stop-color="#4e2367"/></linearGradient>
<linearGradient id="gb107"><stop offset="0" stop-color="#4d2467"/><stop offset="0.2796" stop-color="#532265"/><stop offset="0.3026" stop-color="#482467"/><stop offset="0.3224" stop-color="#23134b"/><stop offset="0.3388" stop-color="#1c0a3d"/><stop offset="0.3684" stop-color="#462467"/><stop offset="0.5132" stop-color="#532265"/><stop offset="1" stop-color="#4d2467"/></linearGradient>
<linearGradient id="gb108"><stop offset="0" stop-color="#4c2468"/><stop offset="0.2928" stop-color="#502366"/><stop offset="0.3059" stop-color="#442567"/><stop offset="0.3224" stop-color="#24154d"/><stop offset="0.3388" stop-color="#1c0a3d"/><stop offset="0.3618" stop-color="#3c2464"/><stop offset="0.375" stop-color="#4b2468"/><stop offset="1" stop-color="#4c2468"/></linearGradient>
<linearGradient id="gb109"><stop offset="0" stop-color="#4b2468"/><stop offset="0.3026" stop-color="#502366"/><stop offset="0.3191" stop-color="#2b1e59"/><stop offset="0.3322" stop-color="#1c0a3d"/><stop offset="0.3454" stop-color="#221148"/><stop offset="0.3618" stop-color="#422567"/><stop offset="0.3717" stop-color="#4d2468"/><stop offset="1" stop-color="#4b2468"/></linearGradient>
<linearGradient id="gb110"><stop offset="0" stop-color="#4a2468"/><stop offset="0.3059" stop-color="#512366"/><stop offset="0.3224" stop-color="#281a53"/><stop offset="0.3355" stop-color="#1c0a3c"/><stop offset="0.3586" stop-color="#3d2566"/><stop offset="0.3651" stop-color="#4d2468"/><stop offset="1" stop-color="#4a2468"/></linearGradient>
<linearGradient id="gb111"><stop offset="0" stop-color="#492468"/><stop offset="0.3092" stop-color="#502366"/><stop offset="0.3224" stop-color="#2a1e58"/><stop offset="0.3322" stop-color="#1c0a3d"/><stop offset="0.3421" stop-color="#200d44"/><stop offset="0.3553" stop-color="#3a2363"/><stop offset="0.3651" stop-color="#4c2468"/><stop offset="1" stop-color="#492468"/></linearGradient>
<linearGradient id="gb112"><stop offset="0" stop-color="#482467"/><stop offset="0.3125" stop-color="#4e2367"/><stop offset="0.3257" stop-color="#25164f"/><stop offset="0.3355" stop-color="#1c0a3c"/><stop offset="0.352" stop-color="#362160"/><stop offset="0.3586" stop-color="#4c2468"/><stop offset="1" stop-color="#482467"/></linearGradient>
<linearGradient id="gb113"><stop offset="0" stop-color="#462467"/><stop offset="0.3158" stop-color="#492468"/><stop offset="0.3289" stop-color="#210f46"/><stop offset="0.3388" stop-color="#1e0a3f"/><stop offset="0.352" stop-color="#3b2464"/><stop offset="0.3553" stop-color="#4b2468"/><stop offset="1" stop-color="#462467"/></linearGradient>
<linearGradient id="gb114"><stop offset="0" stop-color="#452467"/><stop offset="0.3158" stop-color="#4a2468"/><stop offset="0.3257" stop-color="#2b1e58"/><stop offset="0.3355" stop-color="#1c0a3c"/><stop offset="0.3487" stop-color="#362160"/><stop offset="0.3553" stop-color="#492468"/><stop offset="1" stop-color="#452467"/></linearGradient>
<clipPath id="gbclip"><rect x="474.60" y="66.50" width="304.00" height="236.30"/></clipPath>
<clipPath id="clipc"><rect x="65.7" y="412.7" width="303.6" height="590.3"/></clipPath>
<clipPath id="clipd"><rect x="474.9" y="412.7" width="303.8" height="591.0"/></clipPath></defs><text transform="translate(0.00 13.60)" font-weight="bold" font-size="19.5">a</text>
<rect x="155.20" y="36.40" width="212.50" height="21.20" fill="url(#cbar)" stroke="#5a5a5a" stroke-width="0.9"/>
<line x1="155.20" y1="27.40" x2="155.20" y2="36.40" stroke="#333" stroke-width="1"/>
<text transform="translate(155.20 22.20) scale(0.885 1)" text-anchor="middle" font-size="16.6">0</text>
<line x1="250.00" y1="27.40" x2="250.00" y2="36.40" stroke="#333" stroke-width="1"/>
<text transform="translate(250.00 22.20) scale(0.885 1)" text-anchor="middle" font-size="16.6">2</text>
<line x1="344.30" y1="27.40" x2="344.30" y2="36.40" stroke="#333" stroke-width="1"/>
<text transform="translate(344.30 22.20) scale(0.885 1)" text-anchor="middle" font-size="16.6">4</text>
<text transform="translate(145.60 51.20) scale(0.885 1)" text-anchor="end" font-size="16.6"><tspan font-style="italic">R</tspan> (kΩ)</text>
<g><g clip-path="url(#gaclip)"><rect x="66.40" y="66.70" width="302.90" height="4.00" fill="#681d5f"/>
<rect x="66.40" y="69.70" width="302.90" height="4.00" fill="#681d5f"/>
<rect x="66.40" y="72.70" width="302.90" height="4.00" fill="#681d5f"/>
<rect x="66.40" y="75.70" width="302.90" height="4.00" fill="#681d5f"/>
<rect x="66.40" y="78.70" width="302.90" height="4.00" fill="#681d5f"/>
<rect x="66.40" y="81.70" width="302.90" height="4.00" fill="#681d5f"/>
<rect x="66.40" y="84.70" width="302.90" height="4.00" fill="#681d5f"/>
<rect x="66.40" y="87.70" width="302.90" height="4.00" fill="#681d5f"/>
<rect x="66.40" y="90.70" width="302.90" height="4.00" fill="#681d5f"/>
<rect x="66.40" y="93.70" width="302.90" height="4.00" fill="#681d5f"/>
<rect x="66.40" y="96.70" width="302.90" height="4.00" fill="#681d5f"/>
<rect x="66.40" y="99.70" width="302.90" height="4.00" fill="#681d5f"/>
<rect x="66.40" y="102.70" width="302.90" height="4.00" fill="#681d5f"/>
<rect x="66.40" y="105.70" width="302.90" height="4.00" fill="url(#ga13)"/>
<rect x="66.40" y="108.70" width="302.90" height="4.00" fill="url(#ga14)"/>
<rect x="66.40" y="111.70" width="302.90" height="4.00" fill="url(#ga15)"/>
<rect x="66.40" y="114.70" width="302.90" height="4.00" fill="url(#ga16)"/>
<rect x="66.40" y="117.70" width="302.90" height="4.00" fill="url(#ga17)"/>
<rect x="66.40" y="120.70" width="302.90" height="4.00" fill="url(#ga18)"/>
<rect x="66.40" y="123.70" width="302.90" height="4.00" fill="url(#ga19)"/>
<rect x="66.40" y="126.70" width="302.90" height="4.00" fill="url(#ga20)"/>
<rect x="66.40" y="129.70" width="302.90" height="4.00" fill="url(#ga21)"/>
<rect x="66.40" y="132.70" width="302.90" height="4.00" fill="url(#ga22)"/>
<rect x="66.40" y="135.70" width="302.90" height="4.00" fill="url(#ga23)"/>
<rect x="66.40" y="138.70" width="302.90" height="4.00" fill="url(#ga24)"/>
<rect x="66.40" y="141.70" width="302.90" height="4.00" fill="url(#ga25)"/>
<rect x="66.40" y="144.70" width="302.90" height="4.00" fill="url(#ga26)"/>
<rect x="66.40" y="147.70" width="302.90" height="4.00" fill="url(#ga27)"/>
<rect x="66.40" y="150.70" width="302.90" height="4.00" fill="url(#ga28)"/>
<rect x="66.40" y="153.70" width="302.90" height="4.00" fill="url(#ga29)"/>
<rect x="66.40" y="156.70" width="302.90" height="4.00" fill="url(#ga30)"/>
<rect x="66.40" y="159.70" width="302.90" height="4.00" fill="url(#ga31)"/>
<rect x="66.40" y="162.70" width="302.90" height="4.00" fill="url(#ga32)"/>
<rect x="66.40" y="165.70" width="302.90" height="4.00" fill="url(#ga33)"/>
<rect x="66.40" y="168.70" width="302.90" height="4.00" fill="url(#ga34)"/>
<rect x="66.40" y="171.70" width="302.90" height="4.00" fill="url(#ga35)"/>
<rect x="66.40" y="174.70" width="302.90" height="4.00" fill="url(#ga36)"/>
<rect x="66.40" y="177.70" width="302.90" height="4.00" fill="url(#ga37)"/>
<rect x="66.40" y="180.70" width="302.90" height="4.00" fill="url(#ga38)"/>
<rect x="66.40" y="183.70" width="302.90" height="4.00" fill="url(#ga39)"/>
<rect x="66.40" y="186.70" width="302.90" height="4.00" fill="url(#ga40)"/>
<rect x="66.40" y="189.70" width="302.90" height="4.00" fill="url(#ga41)"/>
<rect x="66.40" y="192.70" width="302.90" height="4.00" fill="url(#ga42)"/>
<rect x="66.40" y="195.70" width="302.90" height="4.00" fill="url(#ga43)"/>
<rect x="66.40" y="198.70" width="302.90" height="4.00" fill="url(#ga44)"/>
<rect x="66.40" y="201.70" width="302.90" height="4.00" fill="url(#ga45)"/>
<rect x="66.40" y="204.70" width="302.90" height="4.00" fill="url(#ga46)"/>
<rect x="66.40" y="207.70" width="302.90" height="4.00" fill="url(#ga47)"/>
<rect x="66.40" y="210.70" width="302.90" height="4.00" fill="url(#ga48)"/>
<rect x="66.40" y="213.70" width="302.90" height="4.00" fill="url(#ga49)"/>
<rect x="66.40" y="216.70" width="302.90" height="4.00" fill="url(#ga50)"/>
<rect x="66.40" y="219.70" width="302.90" height="4.00" fill="url(#ga51)"/>
<rect x="66.40" y="222.70" width="302.90" height="4.00" fill="url(#ga52)"/>
<rect x="66.40" y="225.70" width="302.90" height="4.00" fill="url(#ga53)"/>
<rect x="66.40" y="228.70" width="302.90" height="4.00" fill="url(#ga54)"/>
<rect x="66.40" y="231.70" width="302.90" height="4.00" fill="url(#ga55)"/>
<rect x="66.40" y="234.70" width="302.90" height="4.00" fill="url(#ga56)"/>
<rect x="66.40" y="237.70" width="302.90" height="4.00" fill="url(#ga57)"/>
<rect x="66.40" y="240.70" width="302.90" height="4.00" fill="url(#ga58)"/>
<rect x="66.40" y="243.70" width="302.90" height="4.00" fill="url(#ga59)"/>
<rect x="66.40" y="246.70" width="302.90" height="4.00" fill="url(#ga60)"/>
<rect x="66.40" y="249.70" width="302.90" height="4.00" fill="url(#ga61)"/>
<rect x="66.40" y="252.70" width="302.90" height="4.00" fill="url(#ga62)"/>
<rect x="66.40" y="255.70" width="302.90" height="4.00" fill="url(#ga63)"/>
<rect x="66.40" y="258.70" width="302.90" height="4.00" fill="url(#ga64)"/>
<rect x="66.40" y="261.70" width="302.90" height="4.00" fill="url(#ga65)"/>
<rect x="66.40" y="264.70" width="302.90" height="4.00" fill="url(#ga66)"/>
<rect x="66.40" y="267.70" width="302.90" height="4.00" fill="url(#ga67)"/>
<rect x="66.40" y="270.70" width="302.90" height="4.00" fill="url(#ga68)"/>
<rect x="66.40" y="273.70" width="302.90" height="4.00" fill="url(#ga69)"/>
<rect x="66.40" y="276.70" width="302.90" height="4.00" fill="url(#ga70)"/>
<rect x="66.40" y="279.70" width="302.90" height="4.00" fill="url(#ga71)"/>
<rect x="66.40" y="282.70" width="302.90" height="4.00" fill="url(#ga72)"/>
<rect x="66.40" y="285.70" width="302.90" height="4.00" fill="url(#ga73)"/>
<rect x="66.40" y="288.70" width="302.90" height="4.00" fill="url(#ga74)"/>
<rect x="66.40" y="291.70" width="302.90" height="4.00" fill="url(#ga75)"/>
<rect x="66.40" y="294.70" width="302.90" height="4.00" fill="url(#ga76)"/>
<rect x="66.40" y="297.70" width="302.90" height="4.00" fill="url(#ga77)"/>
<rect x="66.40" y="300.70" width="302.90" height="3.80" fill="url(#ga78)"/></g></g>
<rect x="66.4" y="66.7" width="302.9" height="236.8" fill="none" stroke="#6a6a6a" stroke-width="0.6"/>
<line x1="56.50" y1="110.60" x2="66.40" y2="110.60" stroke="#333" stroke-width="1"/>
<text transform="translate(50.20 115.90) scale(0.885 1)" text-anchor="end" font-size="16.6">2.0</text>
<line x1="56.50" y1="158.90" x2="66.40" y2="158.90" stroke="#333" stroke-width="1"/>
<text transform="translate(50.20 164.20) scale(0.885 1)" text-anchor="end" font-size="16.6">1.5</text>
<line x1="56.50" y1="206.90" x2="66.40" y2="206.90" stroke="#333" stroke-width="1"/>
<text transform="translate(50.20 212.20) scale(0.885 1)" text-anchor="end" font-size="16.6">1.0</text>
<line x1="56.50" y1="255.20" x2="66.40" y2="255.20" stroke="#333" stroke-width="1"/>
<text transform="translate(50.20 260.50) scale(0.885 1)" text-anchor="end" font-size="16.6">0.5</text>
<line x1="56.50" y1="303.50" x2="66.40" y2="303.50" stroke="#333" stroke-width="1"/>
<text transform="translate(50.20 308.80) scale(0.885 1)" text-anchor="end" font-size="16.6">0</text>
<line x1="66.00" y1="303.50" x2="369.60" y2="303.50" stroke="#231f20" stroke-width="1.3"/>
<line x1="66.40" y1="303.50" x2="66.40" y2="312.50" stroke="#333" stroke-width="1"/>
<text transform="translate(66.40 332.60) scale(0.885 1)" text-anchor="middle" font-size="16.6">−0.2</text>
<line x1="142.00" y1="303.50" x2="142.00" y2="312.50" stroke="#333" stroke-width="1"/>
<text transform="translate(142.00 332.60) scale(0.885 1)" text-anchor="middle" font-size="16.6">−0.1</text>
<line x1="217.60" y1="303.50" x2="217.60" y2="312.50" stroke="#333" stroke-width="1"/>
<text transform="translate(217.60 332.60) scale(0.885 1)" text-anchor="middle" font-size="16.6">0</text>
<line x1="293.20" y1="303.50" x2="293.20" y2="312.50" stroke="#333" stroke-width="1"/>
<text transform="translate(293.20 332.60) scale(0.885 1)" text-anchor="middle" font-size="16.6">0.1</text>
<line x1="368.80" y1="303.50" x2="368.80" y2="312.50" stroke="#333" stroke-width="1"/>
<text transform="translate(368.80 332.60) scale(0.885 1)" text-anchor="middle" font-size="16.6">0.2</text>
<text transform="translate(217.60 358.00) scale(0.885 1)" text-anchor="middle" font-size="16.6"><tspan font-style="italic">I</tspan> (µA)</text>
<text transform="translate(15.60 185.00) rotate(-90) scale(0.885 1)" text-anchor="middle" font-size="16.6"><tspan font-style="italic">T</tspan> (K)</text>
<text transform="translate(405.50 13.60)" font-weight="bold" font-size="19.5">b</text>
<rect x="564.40" y="36.30" width="212.40" height="21.60" fill="url(#cbar)" stroke="#5a5a5a" stroke-width="0.9"/>
<line x1="564.40" y1="27.30" x2="564.40" y2="36.30" stroke="#333" stroke-width="1"/>
<text transform="translate(564.40 22.20) scale(0.885 1)" text-anchor="middle" font-size="16.6">0</text>
<line x1="658.80" y1="27.30" x2="658.80" y2="36.30" stroke="#333" stroke-width="1"/>
<text transform="translate(658.80 22.20) scale(0.885 1)" text-anchor="middle" font-size="16.6">2</text>
<line x1="753.20" y1="27.30" x2="753.20" y2="36.30" stroke="#333" stroke-width="1"/>
<text transform="translate(753.20 22.20) scale(0.885 1)" text-anchor="middle" font-size="16.6">4</text>
<text transform="translate(554.80 51.20) scale(0.885 1)" text-anchor="end" font-size="16.6"><tspan font-style="italic">R</tspan> (kΩ)</text>
<g><g clip-path="url(#gbclip)"><rect x="474.60" y="66.50" width="304.00" height="3.00" fill="url(#gb0)"/>
<rect x="474.60" y="68.50" width="304.00" height="3.00" fill="url(#gb1)"/>
<rect x="474.60" y="70.50" width="304.00" height="3.00" fill="url(#gb2)"/>
<rect x="474.60" y="72.50" width="304.00" height="3.00" fill="url(#gb3)"/>
<rect x="474.60" y="74.50" width="304.00" height="3.00" fill="url(#gb4)"/>
<rect x="474.60" y="76.50" width="304.00" height="3.00" fill="url(#gb5)"/>
<rect x="474.60" y="78.50" width="304.00" height="3.00" fill="url(#gb6)"/>
<rect x="474.60" y="80.50" width="304.00" height="3.00" fill="url(#gb7)"/>
<rect x="474.60" y="82.50" width="304.00" height="3.00" fill="url(#gb8)"/>
<rect x="474.60" y="84.50" width="304.00" height="3.00" fill="url(#gb9)"/>
<rect x="474.60" y="86.50" width="304.00" height="3.00" fill="url(#gb10)"/>
<rect x="474.60" y="88.50" width="304.00" height="3.00" fill="url(#gb11)"/>
<rect x="474.60" y="90.50" width="304.00" height="3.00" fill="url(#gb12)"/>
<rect x="474.60" y="92.50" width="304.00" height="3.00" fill="url(#gb13)"/>
<rect x="474.60" y="94.50" width="304.00" height="3.00" fill="url(#gb14)"/>
<rect x="474.60" y="96.50" width="304.00" height="3.00" fill="url(#gb15)"/>
<rect x="474.60" y="98.50" width="304.00" height="3.00" fill="url(#gb16)"/>
<rect x="474.60" y="100.50" width="304.00" height="3.00" fill="url(#gb17)"/>
<rect x="474.60" y="102.50" width="304.00" height="3.00" fill="url(#gb18)"/>
<rect x="474.60" y="104.50" width="304.00" height="3.00" fill="url(#gb19)"/>
<rect x="474.60" y="106.50" width="304.00" height="3.00" fill="url(#gb20)"/>
<rect x="474.60" y="108.50" width="304.00" height="3.00" fill="url(#gb21)"/>
<rect x="474.60" y="110.50" width="304.00" height="3.00" fill="url(#gb22)"/>
<rect x="474.60" y="112.50" width="304.00" height="3.00" fill="url(#gb23)"/>
<rect x="474.60" y="114.50" width="304.00" height="3.00" fill="url(#gb24)"/>
<rect x="474.60" y="116.50" width="304.00" height="3.00" fill="url(#gb25)"/>
<rect x="474.60" y="118.50" width="304.00" height="3.00" fill="url(#gb26)"/>
<rect x="474.60" y="120.50" width="304.00" height="3.00" fill="url(#gb27)"/>
<rect x="474.60" y="122.50" width="304.00" height="3.00" fill="url(#gb28)"/>
<rect x="474.60" y="124.50" width="304.00" height="3.00" fill="url(#gb29)"/>
<rect x="474.60" y="126.50" width="304.00" height="3.00" fill="url(#gb30)"/>
<rect x="474.60" y="128.50" width="304.00" height="3.00" fill="url(#gb31)"/>
<rect x="474.60" y="130.50" width="304.00" height="3.00" fill="url(#gb32)"/>
<rect x="474.60" y="132.50" width="304.00" height="3.00" fill="url(#gb33)"/>
<rect x="474.60" y="134.50" width="304.00" height="3.00" fill="url(#gb34)"/>
<rect x="474.60" y="136.50" width="304.00" height="3.00" fill="url(#gb35)"/>
<rect x="474.60" y="138.50" width="304.00" height="3.00" fill="url(#gb36)"/>
<rect x="474.60" y="140.50" width="304.00" height="3.00" fill="url(#gb37)"/>
<rect x="474.60" y="142.50" width="304.00" height="3.00" fill="url(#gb38)"/>
<rect x="474.60" y="144.50" width="304.00" height="3.00" fill="url(#gb39)"/>
<rect x="474.60" y="146.50" width="304.00" height="3.00" fill="url(#gb40)"/>
<rect x="474.60" y="148.50" width="304.00" height="3.00" fill="url(#gb41)"/>
<rect x="474.60" y="150.50" width="304.00" height="3.00" fill="url(#gb42)"/>
<rect x="474.60" y="152.50" width="304.00" height="3.00" fill="url(#gb43)"/>
<rect x="474.60" y="154.50" width="304.00" height="3.00" fill="url(#gb44)"/>
<rect x="474.60" y="156.50" width="304.00" height="3.00" fill="url(#gb45)"/>
<rect x="474.60" y="158.50" width="304.00" height="3.00" fill="url(#gb46)"/>
<rect x="474.60" y="160.50" width="304.00" height="3.00" fill="url(#gb47)"/>
<rect x="474.60" y="162.50" width="304.00" height="3.00" fill="url(#gb48)"/>
<rect x="474.60" y="164.50" width="304.00" height="3.00" fill="url(#gb49)"/>
<rect x="474.60" y="166.50" width="304.00" height="3.00" fill="url(#gb50)"/>
<rect x="474.60" y="168.50" width="304.00" height="3.00" fill="url(#gb51)"/>
<rect x="474.60" y="170.50" width="304.00" height="3.00" fill="url(#gb52)"/>
<rect x="474.60" y="172.50" width="304.00" height="3.00" fill="url(#gb53)"/>
<rect x="474.60" y="174.50" width="304.00" height="3.00" fill="url(#gb54)"/>
<rect x="474.60" y="176.50" width="304.00" height="3.00" fill="url(#gb55)"/>
<rect x="474.60" y="178.50" width="304.00" height="3.00" fill="url(#gb56)"/>
<rect x="474.60" y="180.50" width="304.00" height="3.00" fill="url(#gb57)"/>
<rect x="474.60" y="182.50" width="304.00" height="3.00" fill="url(#gb58)"/>
<rect x="474.60" y="184.50" width="304.00" height="3.00" fill="url(#gb59)"/>
<rect x="474.60" y="186.50" width="304.00" height="3.00" fill="url(#gb60)"/>
<rect x="474.60" y="188.50" width="304.00" height="3.00" fill="url(#gb61)"/>
<rect x="474.60" y="190.50" width="304.00" height="3.00" fill="url(#gb62)"/>
<rect x="474.60" y="192.50" width="304.00" height="3.00" fill="url(#gb63)"/>
<rect x="474.60" y="194.50" width="304.00" height="3.00" fill="url(#gb64)"/>
<rect x="474.60" y="196.50" width="304.00" height="3.00" fill="url(#gb65)"/>
<rect x="474.60" y="198.50" width="304.00" height="3.00" fill="url(#gb66)"/>
<rect x="474.60" y="200.50" width="304.00" height="3.00" fill="url(#gb67)"/>
<rect x="474.60" y="202.50" width="304.00" height="3.00" fill="url(#gb68)"/>
<rect x="474.60" y="204.50" width="304.00" height="3.00" fill="url(#gb69)"/>
<rect x="474.60" y="206.50" width="304.00" height="3.00" fill="url(#gb70)"/>
<rect x="474.60" y="208.50" width="304.00" height="3.00" fill="url(#gb71)"/>
<rect x="474.60" y="210.50" width="304.00" height="3.00" fill="url(#gb72)"/>
<rect x="474.60" y="212.50" width="304.00" height="3.00" fill="url(#gb73)"/>
<rect x="474.60" y="214.50" width="304.00" height="3.00" fill="url(#gb74)"/>
<rect x="474.60" y="216.50" width="304.00" height="3.00" fill="url(#gb75)"/>
<rect x="474.60" y="218.50" width="304.00" height="3.00" fill="url(#gb76)"/>
<rect x="474.60" y="220.50" width="304.00" height="3.00" fill="url(#gb77)"/>
<rect x="474.60" y="222.50" width="304.00" height="3.00" fill="url(#gb78)"/>
<rect x="474.60" y="224.50" width="304.00" height="3.00" fill="url(#gb79)"/>
<rect x="474.60" y="226.50" width="304.00" height="3.00" fill="url(#gb80)"/>
<rect x="474.60" y="228.50" width="304.00" height="3.00" fill="url(#gb81)"/>
<rect x="474.60" y="230.50" width="304.00" height="3.00" fill="url(#gb82)"/>
<rect x="474.60" y="232.50" width="304.00" height="3.00" fill="url(#gb83)"/>
<rect x="474.60" y="234.50" width="304.00" height="3.00" fill="url(#gb84)"/>
<rect x="474.60" y="236.50" width="304.00" height="3.00" fill="url(#gb85)"/>
<rect x="474.60" y="238.50" width="304.00" height="3.00" fill="url(#gb86)"/>
<rect x="474.60" y="240.50" width="304.00" height="3.00" fill="url(#gb87)"/>
<rect x="474.60" y="242.50" width="304.00" height="3.00" fill="url(#gb88)"/>
<rect x="474.60" y="244.50" width="304.00" height="3.00" fill="url(#gb89)"/>
<rect x="474.60" y="246.50" width="304.00" height="3.00" fill="url(#gb90)"/>
<rect x="474.60" y="248.50" width="304.00" height="3.00" fill="url(#gb91)"/>
<rect x="474.60" y="250.50" width="304.00" height="3.00" fill="url(#gb92)"/>
<rect x="474.60" y="252.50" width="304.00" height="3.00" fill="url(#gb93)"/>
<rect x="474.60" y="254.50" width="304.00" height="3.00" fill="url(#gb94)"/>
<rect x="474.60" y="256.50" width="304.00" height="3.00" fill="url(#gb95)"/>
<rect x="474.60" y="258.50" width="304.00" height="3.00" fill="url(#gb96)"/>
<rect x="474.60" y="260.50" width="304.00" height="3.00" fill="url(#gb97)"/>
<rect x="474.60" y="262.50" width="304.00" height="3.00" fill="url(#gb98)"/>
<rect x="474.60" y="264.50" width="304.00" height="3.00" fill="url(#gb99)"/>
<rect x="474.60" y="266.50" width="304.00" height="3.00" fill="url(#gb100)"/>
<rect x="474.60" y="268.50" width="304.00" height="3.00" fill="url(#gb101)"/>
<rect x="474.60" y="270.50" width="304.00" height="3.00" fill="url(#gb102)"/>
<rect x="474.60" y="272.50" width="304.00" height="3.00" fill="url(#gb103)"/>
<rect x="474.60" y="274.50" width="304.00" height="3.00" fill="url(#gb104)"/>
<rect x="474.60" y="276.50" width="304.00" height="3.00" fill="url(#gb105)"/>
<rect x="474.60" y="278.50" width="304.00" height="3.00" fill="url(#gb106)"/>
<rect x="474.60" y="280.50" width="304.00" height="3.00" fill="url(#gb107)"/>
<rect x="474.60" y="282.50" width="304.00" height="3.00" fill="url(#gb108)"/>
<rect x="474.60" y="284.50" width="304.00" height="3.00" fill="url(#gb109)"/>
<rect x="474.60" y="286.50" width="304.00" height="3.00" fill="url(#gb110)"/>
<rect x="474.60" y="288.50" width="304.00" height="3.00" fill="url(#gb111)"/>
<rect x="474.60" y="290.50" width="304.00" height="3.00" fill="url(#gb112)"/>
<rect x="474.60" y="292.50" width="304.00" height="3.00" fill="url(#gb113)"/>
<rect x="474.60" y="294.50" width="304.00" height="3.00" fill="url(#gb114)"/>
<rect x="474.60" y="296.50" width="304.00" height="3.00" fill="#442567"/>
<rect x="474.60" y="298.50" width="304.00" height="3.00" fill="#432567"/>
<rect x="474.60" y="300.50" width="304.00" height="3.00" fill="#422567"/>
<rect x="474.60" y="302.50" width="304.00" height="1.30" fill="#412566"/></g></g>
<rect x="474.6" y="66.5" width="304.0" height="236.3" fill="none" stroke="#6a6a6a" stroke-width="0.6"/>
<line x1="465.30" y1="79.20" x2="474.60" y2="79.20" stroke="#333" stroke-width="1"/>
<text transform="translate(458.40 84.50) scale(0.885 1)" text-anchor="end" font-size="16.6">−1.5</text>
<line x1="465.30" y1="134.40" x2="474.60" y2="134.40" stroke="#333" stroke-width="1"/>
<text transform="translate(458.40 139.70) scale(0.885 1)" text-anchor="end" font-size="16.6">−2.0</text>
<line x1="465.30" y1="190.10" x2="474.60" y2="190.10" stroke="#333" stroke-width="1"/>
<text transform="translate(458.40 195.40) scale(0.885 1)" text-anchor="end" font-size="16.6">−2.5</text>
<line x1="465.30" y1="245.90" x2="474.60" y2="245.90" stroke="#333" stroke-width="1"/>
<text transform="translate(458.40 251.20) scale(0.885 1)" text-anchor="end" font-size="16.6">−3.0</text>
<line x1="465.30" y1="301.80" x2="474.60" y2="301.80" stroke="#333" stroke-width="1"/>
<text transform="translate(458.40 307.10) scale(0.885 1)" text-anchor="end" font-size="16.6">−3.5</text>
<line x1="474.20" y1="302.80" x2="778.90" y2="302.80" stroke="#231f20" stroke-width="1.3"/>
<line x1="474.60" y1="302.80" x2="474.60" y2="311.80" stroke="#333" stroke-width="1"/>
<text transform="translate(474.60 332.60) scale(0.885 1)" text-anchor="middle" font-size="16.6">−0.1</text>
<line x1="576.30" y1="302.80" x2="576.30" y2="311.80" stroke="#333" stroke-width="1"/>
<text transform="translate(576.30 332.60) scale(0.885 1)" text-anchor="middle" font-size="16.6">0</text>
<line x1="677.40" y1="302.80" x2="677.40" y2="311.80" stroke="#333" stroke-width="1"/>
<text transform="translate(677.40 332.60) scale(0.885 1)" text-anchor="middle" font-size="16.6">0.1</text>
<line x1="777.80" y1="302.80" x2="777.80" y2="311.80" stroke="#333" stroke-width="1"/>
<text transform="translate(777.80 332.60) scale(0.885 1)" text-anchor="middle" font-size="16.6">0.2</text>
<text transform="translate(626.50 358.00) scale(0.885 1)" text-anchor="middle" font-size="16.6"><tspan font-style="italic">I</tspan> (µA)</text>
<text transform="translate(415.00 185.40) rotate(-90) scale(0.885 1)" text-anchor="middle" font-style="italic" font-size="16" font-family='"Liberation Serif", serif'>ν</text>
<g clip-path="url(#clipc)">
<polyline points="63.7,450.4 65.7,449.9 67.7,449.7 69.7,450.1 71.7,451.3 73.7,451.9 75.7,451.4 77.7,451.2 79.7,451.9 81.7,452.3 83.7,452.1 85.7,452.1 87.7,452.9 89.7,453.5 91.7,453.2 93.7,453.0 95.7,452.9 97.7,453.3 99.7,454.1 101.7,455.3 103.7,456.3 105.7,457.6 107.7,458.2 109.7,457.6 111.7,457.0 113.7,458.1 115.7,459.4 117.7,459.6 119.7,459.1 121.7,459.0 123.7,459.2 125.7,459.9 127.7,460.4 129.7,460.1 131.7,460.0 133.7,459.9 135.7,459.1 137.7,458.6 139.7,458.3 141.7,457.5 143.7,456.9 145.7,457.3 147.7,457.3 149.7,456.6 151.7,456.6 153.7,456.6 155.7,456.8 157.7,457.4 159.7,456.7 161.7,455.3 163.7,455.2 165.7,455.5 167.7,455.5 169.7,455.4 171.7,455.4 173.7,455.8 175.7,455.6 177.7,454.6 179.7,454.0 181.7,453.7 183.7,453.2 185.7,452.6 187.7,452.7 189.7,453.6 191.7,454.5 193.7,454.0 195.7,452.6 197.7,452.2 199.7,452.1 201.7,451.5 203.7,451.8 205.7,453.1 207.7,454.1 209.7,453.8 211.7,452.8 213.7,452.4 215.7,453.0 217.7,453.5 219.7,453.0 221.7,452.6 223.7,452.7 225.7,452.6 227.7,452.1 229.7,451.7 231.7,452.2 233.7,453.0 235.7,453.9 237.7,454.0 239.7,453.7 241.7,453.6 243.7,453.7 245.7,454.0 247.7,453.8 249.7,453.3 251.7,452.6 253.7,452.2 255.7,451.3 257.7,451.1 259.7,452.1 261.7,453.4 263.7,455.0 265.7,455.8 267.7,454.9 269.7,454.5 271.7,455.3 273.7,455.8 275.7,455.9 277.7,456.2 279.7,456.9 281.7,456.8 283.7,456.3 285.7,456.4 287.7,456.7 289.7,456.8 291.7,457.2 293.7,457.9 295.7,458.9 297.7,459.2 299.7,458.9 301.7,458.6 303.7,458.1 305.7,457.7 307.7,458.4 309.7,459.2 311.7,459.5 313.7,460.2 315.7,460.5 317.7,461.2 319.7,461.6 321.7,461.8 323.7,461.3 325.7,461.0 327.7,461.9 329.7,462.1 331.7,460.8 333.7,459.5 335.7,458.7 337.7,458.2 339.7,457.8 341.7,456.6 343.7,455.0 345.7,453.5 347.7,452.5 349.7,452.5 351.7,453.4 353.7,453.6 355.7,453.3 357.7,452.4 359.7,451.5 361.7,451.1 363.7,451.1 365.7,451.2 367.7,451.1 369.7,450.5 371.7,450.2" fill="none" stroke="#9ccb46" stroke-width="6.6" stroke-linejoin="round" stroke-linecap="round"/>
<polyline points="63.7,508.5 65.7,508.7 67.7,509.3 69.7,510.5 71.7,511.8 73.7,513.5 75.7,515.7 77.7,517.3 79.7,518.0 81.7,518.7 83.7,519.6 85.7,520.3 87.7,520.6 89.7,520.8 91.7,521.8 93.7,523.2 95.7,523.5 97.7,523.4 99.7,523.0 101.7,522.6 103.7,522.6 105.7,522.7 107.7,522.3 109.7,521.9 111.7,522.1 113.7,522.4 115.7,521.9 117.7,520.7 119.7,519.4 121.7,519.0 123.7,519.6 125.7,519.7 127.7,518.9 129.7,518.4 131.7,518.2 133.7,517.7 135.7,516.8 137.7,515.9 139.7,515.1 141.7,514.1 143.7,513.9 145.7,513.9 147.7,514.1 149.7,514.0 151.7,512.6 153.7,510.2 155.7,509.1 157.7,509.1 159.7,508.9 161.7,508.7 163.7,508.0 165.7,506.2 167.7,505.5 169.7,506.1 171.7,506.4 173.7,506.0 175.7,505.3 177.7,504.3 179.7,503.8 181.7,503.7 183.7,503.4 185.7,503.4 187.7,504.2 189.7,504.6 191.7,504.2 193.7,503.3 195.7,502.7 197.7,502.5 199.7,502.8 201.7,503.1 203.7,503.3 205.7,503.8 207.7,504.5 209.7,504.5 211.7,503.7 213.7,503.5 215.7,503.3 217.7,502.7 219.7,502.2 221.7,502.7 223.7,503.5 225.7,503.6 227.7,503.5 229.7,503.7 231.7,503.9 233.7,503.0 235.7,501.7 237.7,501.1 239.7,500.4 241.7,500.5 243.7,502.4 245.7,504.2 247.7,503.9 249.7,503.0 251.7,503.4 253.7,504.5 255.7,504.8 257.7,504.6 259.7,504.6 261.7,505.1 263.7,505.7 265.7,505.8 267.7,505.4 269.7,505.1 271.7,505.5 273.7,506.0 275.7,506.2 277.7,506.0 279.7,506.2 281.7,506.5 283.7,507.3 285.7,509.0 287.7,509.7 289.7,509.5 291.7,509.6 293.7,509.2 295.7,508.9 297.7,510.1 299.7,511.4 301.7,511.9 303.7,512.1 305.7,513.0 307.7,514.5 309.7,515.8 311.7,516.4 313.7,517.1 315.7,517.8 317.7,517.6 319.7,517.4 321.7,518.4 323.7,520.6 325.7,522.1 327.7,522.6 329.7,522.6 331.7,522.6 333.7,522.8 335.7,523.0 337.7,523.6 339.7,524.7 341.7,525.8 343.7,525.7 345.7,525.0 347.7,524.5 349.7,524.9 351.7,525.5 353.7,525.0 355.7,523.6 357.7,522.0 359.7,521.0 361.7,520.3 363.7,518.7 365.7,515.5 367.7,511.9 369.7,509.6 371.7,509.3" fill="none" stroke="#79b95e" stroke-width="6.6" stroke-linejoin="round" stroke-linecap="round"/>
<polyline points="63.7,588.5 65.7,589.1 67.7,589.8 69.7,589.4 71.7,589.2 73.7,589.6 75.7,589.7 77.7,590.0 79.7,591.3 81.7,592.2 83.7,591.5 85.7,590.5 87.7,590.1 89.7,589.6 91.7,588.4 93.7,587.7 95.7,587.4 97.7,586.6 99.7,586.4 101.7,586.0 103.7,584.9 105.7,584.2 107.7,583.4 109.7,581.4 111.7,579.2 113.7,578.3 115.7,578.8 117.7,579.4 119.7,578.3 121.7,576.2 123.7,575.0 125.7,574.8 127.7,574.8 129.7,574.5 131.7,574.1 133.7,573.5 135.7,572.7 137.7,572.3 139.7,572.0 141.7,571.9 143.7,572.3 145.7,572.6 147.7,571.5 149.7,569.8 151.7,568.6 153.7,568.0 155.7,567.3 157.7,567.7 159.7,569.0 161.7,569.2 163.7,568.0 165.7,566.8 167.7,566.8 169.7,567.7 171.7,569.0 173.7,569.7 175.7,568.4 177.7,566.7 179.7,566.2 181.7,566.5 183.7,566.5 185.7,566.2 187.7,566.3 189.7,566.8 191.7,568.0 193.7,568.7 195.7,568.2 197.7,567.4 199.7,567.1 201.7,566.7 203.7,566.2 205.7,565.6 207.7,565.0 209.7,565.4 211.7,566.5 213.7,567.0 215.7,567.1 217.7,566.7 219.7,565.5 221.7,565.5 223.7,566.5 225.7,567.0 227.7,567.2 229.7,567.4 231.7,566.8 233.7,565.8 235.7,566.1 237.7,567.1 239.7,566.9 241.7,566.6 243.7,567.7 245.7,568.6 247.7,568.5 249.7,567.4 251.7,566.8 253.7,567.5 255.7,568.9 257.7,569.1 259.7,568.7 261.7,567.8 263.7,567.0 265.7,566.5 267.7,567.3 269.7,568.0 271.7,568.2 273.7,568.7 275.7,568.5 277.7,567.8 279.7,567.7 281.7,568.1 283.7,568.4 285.7,568.4 287.7,568.4 289.7,568.6 291.7,568.6 293.7,569.2 295.7,570.6 297.7,571.3 299.7,571.2 301.7,571.5 303.7,572.1 305.7,573.0 307.7,574.3 309.7,575.4 311.7,576.3 313.7,576.7 315.7,577.4 317.7,578.2 319.7,579.3 321.7,580.9 323.7,582.3 325.7,583.4 327.7,583.8 329.7,584.1 331.7,585.2 333.7,586.7 335.7,587.6 337.7,587.6 339.7,587.6 341.7,588.0 343.7,588.7 345.7,588.4 347.7,588.3 349.7,589.4 351.7,589.8 353.7,588.8 355.7,588.1 357.7,588.3 359.7,588.8 361.7,589.2 363.7,589.2 365.7,589.3 367.7,589.7 369.7,589.7 371.7,589.5" fill="none" stroke="#3dad6b" stroke-width="6.6" stroke-linejoin="round" stroke-linecap="round"/>
<polyline points="63.7,657.2 65.7,656.9 67.7,657.4 69.7,658.0 71.7,658.8 73.7,659.0 75.7,657.6 77.7,656.4 79.7,656.2 81.7,656.6 83.7,657.0 85.7,656.2 87.7,653.9 89.7,652.1 91.7,651.5 93.7,650.2 95.7,648.0 97.7,647.0 99.7,646.4 101.7,645.6 103.7,644.1 105.7,642.3 107.7,640.9 109.7,640.7 111.7,641.0 113.7,640.1 115.7,638.0 117.7,636.0 119.7,634.9 121.7,635.0 123.7,635.2 125.7,634.8 127.7,633.9 129.7,633.2 131.7,633.1 133.7,633.7 135.7,634.3 137.7,634.0 139.7,632.4 141.7,631.0 143.7,630.4 145.7,629.9 147.7,629.5 149.7,629.3 151.7,629.1 153.7,629.3 155.7,629.1 157.7,628.6 159.7,627.8 161.7,626.9 163.7,626.4 165.7,626.4 167.7,626.4 169.7,626.3 171.7,625.7 173.7,625.0 175.7,624.6 177.7,624.2 179.7,624.0 181.7,623.7 183.7,623.4 185.7,624.0 187.7,624.5 189.7,624.3 191.7,623.8 193.7,623.4 195.7,623.1 197.7,623.1 199.7,623.2 201.7,623.1 203.7,622.9 205.7,623.3 207.7,623.5 209.7,623.3 211.7,623.1 213.7,622.9 215.7,622.6 217.7,623.1 219.7,623.7 221.7,623.8 223.7,623.5 225.7,623.1 227.7,623.4 229.7,624.1 231.7,624.2 233.7,623.7 235.7,623.4 237.7,624.5 239.7,625.6 241.7,625.6 243.7,624.7 245.7,624.2 247.7,624.6 249.7,624.1 251.7,623.4 253.7,623.7 255.7,623.7 257.7,623.9 259.7,625.1 261.7,626.3 263.7,626.6 265.7,627.3 267.7,628.4 269.7,628.4 271.7,627.4 273.7,626.4 275.7,626.1 277.7,626.8 279.7,627.9 281.7,628.6 283.7,629.0 285.7,629.2 287.7,629.0 289.7,629.5 291.7,630.6 293.7,631.5 295.7,631.9 297.7,631.9 299.7,631.9 301.7,631.9 303.7,631.7 305.7,632.3 307.7,633.8 309.7,634.9 311.7,635.2 313.7,635.4 315.7,636.5 317.7,637.6 319.7,638.4 321.7,639.5 323.7,642.0 325.7,644.5 327.7,645.7 329.7,646.4 331.7,647.5 333.7,648.1 335.7,648.5 337.7,650.4 339.7,653.0 341.7,655.1 343.7,656.7 345.7,657.2 347.7,657.2 349.7,657.4 351.7,657.4 353.7,657.3 355.7,657.8 357.7,659.0 359.7,659.5 361.7,658.8 363.7,658.4 365.7,658.9 367.7,659.4 369.7,659.4 371.7,659.0" fill="none" stroke="#139e7c" stroke-width="6.6" stroke-linejoin="round" stroke-linecap="round"/>
<polygon points="63.7,722.0 65.7,720.9 67.7,720.2 69.7,719.9 71.7,719.0 73.7,718.3 75.7,718.5 77.7,718.1 79.7,717.0 81.7,715.9 83.7,715.0 85.7,713.9 87.7,712.5 89.7,710.5 91.7,709.0 93.7,708.0 95.7,707.1 97.7,706.3 99.7,705.1 101.7,703.6 103.7,702.7 105.7,702.1 107.7,701.3 109.7,700.1 111.7,699.6 113.7,700.0 115.7,700.2 117.7,699.0 119.7,697.1 121.7,696.0 123.7,695.2 125.7,693.6 127.7,692.1 129.7,691.5 131.7,690.7 133.7,689.0 135.7,687.5 137.7,687.1 139.7,687.1 141.7,686.6 143.7,686.1 145.7,685.8 147.7,685.3 149.7,684.4 151.7,683.6 153.7,682.5 155.7,681.7 157.7,681.6 159.7,681.7 161.7,680.9 163.7,679.9 165.7,679.4 167.7,679.2 169.7,678.6 171.7,677.3 173.7,676.9 175.7,677.9 177.7,679.0 179.7,678.5 181.7,677.5 183.7,677.5 185.7,677.4 187.7,676.3 189.7,675.7 191.7,675.9 193.7,675.7 195.7,675.2 197.7,675.1 199.7,675.7 201.7,675.7 203.7,674.7 205.7,673.3 207.7,672.3 209.7,672.6 211.7,673.0 213.7,673.2 215.7,672.9 217.7,672.1 219.7,671.6 221.7,671.9 223.7,672.1 225.7,672.1 227.7,672.0 229.7,671.8 231.7,672.1 233.7,673.5 235.7,674.6 237.7,675.5 239.7,675.6 241.7,674.3 243.7,673.1 245.7,673.0 247.7,673.5 249.7,674.2 251.7,674.4 253.7,674.4 255.7,674.9 257.7,675.4 259.7,676.1 261.7,676.7 263.7,677.0 265.7,677.2 267.7,677.3 269.7,677.2 271.7,677.7 273.7,679.5 275.7,681.7 277.7,682.8 279.7,682.7 281.7,682.2 283.7,682.3 285.7,683.0 287.7,683.4 289.7,683.6 291.7,684.2 293.7,684.9 295.7,685.5 297.7,686.1 299.7,686.8 301.7,688.6 303.7,690.4 305.7,690.8 307.7,691.2 309.7,692.2 311.7,692.8 313.7,693.1 315.7,694.2 317.7,695.7 319.7,696.7 321.7,697.7 323.7,698.6 325.7,699.0 327.7,699.7 329.7,700.9 331.7,701.9 333.7,702.2 335.7,703.3 337.7,705.4 339.7,707.7 341.7,709.6 343.7,710.6 345.7,711.2 347.7,712.4 349.7,713.5 351.7,714.5 353.7,715.4 355.7,715.7 357.7,716.0 359.7,717.1 361.7,718.3 363.7,719.9 365.7,721.7 367.7,723.2 369.7,723.8 371.7,722.8 371.7,730.0 369.7,731.0 367.7,730.4 365.7,728.9 363.7,727.1 361.7,725.5 359.7,724.3 357.7,723.2 355.7,722.9 353.7,722.6 351.7,721.7 349.7,720.7 347.7,719.6 345.7,718.4 343.7,717.8 341.7,716.8 339.7,714.9 337.7,712.6 335.7,710.5 333.7,709.4 331.7,709.1 329.7,708.1 327.7,706.9 325.7,706.2 323.7,705.8 321.7,704.9 319.7,703.9 317.7,702.9 315.7,701.4 313.7,700.3 311.7,700.0 309.7,699.4 307.7,698.4 305.7,698.0 303.7,697.6 301.7,695.8 299.7,694.0 297.7,693.3 295.7,692.7 293.7,692.1 291.7,691.4 289.7,690.8 287.7,690.6 285.7,690.2 283.7,689.5 281.7,689.4 279.7,689.9 277.7,690.0 275.7,688.9 273.7,686.7 271.7,684.9 269.7,684.4 267.7,684.5 265.7,684.4 263.7,684.2 261.7,683.9 259.7,683.3 257.7,682.6 255.7,682.1 253.7,681.6 251.7,681.6 249.7,681.4 247.7,680.7 245.7,680.2 243.7,680.3 241.7,681.5 239.7,682.8 237.7,682.7 235.7,681.8 233.7,680.7 231.7,679.3 229.7,679.0 227.7,679.2 225.7,679.3 223.7,679.3 221.7,679.1 219.7,678.8 217.7,679.3 215.7,680.1 213.7,680.4 211.7,680.2 209.7,679.8 207.7,679.5 205.7,680.5 203.7,681.9 201.7,682.9 199.7,682.9 197.7,682.3 195.7,682.4 193.7,682.9 191.7,683.1 189.7,682.9 187.7,683.5 185.7,684.6 183.7,684.7 181.7,684.7 179.7,685.7 177.7,686.2 175.7,685.1 173.7,684.1 171.7,684.5 169.7,685.8 167.7,686.4 165.7,686.6 163.7,687.1 161.7,688.1 159.7,688.9 157.7,688.8 155.7,688.9 153.7,689.7 151.7,690.8 149.7,691.6 147.7,692.5 145.7,693.0 143.7,693.3 141.7,693.8 139.7,694.3 137.7,694.3 135.7,694.7 133.7,696.2 131.7,697.9 129.7,698.7 127.7,699.3 125.7,700.8 123.7,702.4 121.7,703.2 119.7,704.3 117.7,706.2 115.7,707.4 113.7,707.2 111.7,706.8 109.7,707.3 107.7,708.5 105.7,709.3 103.7,709.9 101.7,710.8 99.7,712.3 97.7,713.5 95.7,714.3 93.7,715.2 91.7,716.2 89.7,717.7 87.7,719.7 85.7,721.1 83.7,722.2 81.7,723.1 79.7,724.2 77.7,725.3 75.7,725.7 73.7,725.5 71.7,726.2 69.7,727.1 67.7,727.4 65.7,728.1 63.7,729.2" fill="#74adbc" fill-opacity="0.6" stroke="#18768f" stroke-opacity="0.45" stroke-width="0.8"/>
<polyline points="63.7,725.6 65.7,724.5 67.7,723.8 69.7,723.5 71.7,722.6 73.7,721.9 75.7,722.1 77.7,721.7 79.7,720.6 81.7,719.5 83.7,718.6 85.7,717.5 87.7,716.1 89.7,714.1 91.7,712.6 93.7,711.6 95.7,710.7 97.7,709.9 99.7,708.7 101.7,707.2 103.7,706.3 105.7,705.7 107.7,704.9 109.7,703.7 111.7,703.2 113.7,703.6 115.7,703.8 117.7,702.6 119.7,700.7 121.7,699.6 123.7,698.8 125.7,697.2 127.7,695.7 129.7,695.1 131.7,694.3 133.7,692.6 135.7,691.1 137.7,690.7 139.7,690.7 141.7,690.2 143.7,689.7 145.7,689.4 147.7,688.9 149.7,688.0 151.7,687.2 153.7,686.1 155.7,685.3 157.7,685.2 159.7,685.3 161.7,684.5 163.7,683.5 165.7,683.0 167.7,682.8 169.7,682.2 171.7,680.9 173.7,680.5 175.7,681.5 177.7,682.6 179.7,682.1 181.7,681.1 183.7,681.1 185.7,681.0 187.7,679.9 189.7,679.3 191.7,679.5 193.7,679.3 195.7,678.8 197.7,678.7 199.7,679.3 201.7,679.3 203.7,678.3 205.7,676.9 207.7,675.9 209.7,676.2 211.7,676.6 213.7,676.8 215.7,676.5 217.7,675.7 219.7,675.2 221.7,675.5 223.7,675.7 225.7,675.7 227.7,675.6 229.7,675.4 231.7,675.7 233.7,677.1 235.7,678.2 237.7,679.1 239.7,679.2 241.7,677.9 243.7,676.7 245.7,676.6 247.7,677.1 249.7,677.8 251.7,678.0 253.7,678.0 255.7,678.5 257.7,679.0 259.7,679.7 261.7,680.3 263.7,680.6 265.7,680.8 267.7,680.9 269.7,680.8 271.7,681.3 273.7,683.1 275.7,685.3 277.7,686.4 279.7,686.3 281.7,685.8 283.7,685.9 285.7,686.6 287.7,687.0 289.7,687.2 291.7,687.8 293.7,688.5 295.7,689.1 297.7,689.7 299.7,690.4 301.7,692.2 303.7,694.0 305.7,694.4 307.7,694.8 309.7,695.8 311.7,696.4 313.7,696.7 315.7,697.8 317.7,699.3 319.7,700.3 321.7,701.3 323.7,702.2 325.7,702.6 327.7,703.3 329.7,704.5 331.7,705.5 333.7,705.8 335.7,706.9 337.7,709.0 339.7,711.3 341.7,713.2 343.7,714.2 345.7,714.8 347.7,716.0 349.7,717.1 351.7,718.1 353.7,719.0 355.7,719.3 357.7,719.6 359.7,720.7 361.7,721.9 363.7,723.5 365.7,725.3 367.7,726.8 369.7,727.4 371.7,726.4" fill="none" stroke="#18768f" stroke-width="6.6" stroke-linejoin="round" stroke-linecap="round"/>
<polygon points="63.7,790.3 65.7,789.5 67.7,788.8 69.7,788.6 71.7,788.7 73.7,787.2 75.7,784.7 77.7,783.7 79.7,784.0 81.7,783.7 83.7,782.5 85.7,781.0 87.7,779.7 89.7,778.4 91.7,776.8 93.7,774.8 95.7,772.6 97.7,771.5 99.7,770.6 101.7,769.8 103.7,768.3 105.7,766.7 107.7,765.5 109.7,763.9 111.7,762.2 113.7,761.1 115.7,761.0 117.7,760.9 119.7,760.1 121.7,759.0 123.7,757.9 125.7,756.6 127.7,755.5 129.7,754.8 131.7,753.9 133.7,752.3 135.7,751.0 137.7,750.0 139.7,749.1 141.7,748.2 143.7,747.8 145.7,746.9 147.7,745.8 149.7,744.8 151.7,744.3 153.7,743.7 155.7,743.3 157.7,743.3 159.7,742.8 161.7,742.0 163.7,740.5 165.7,738.7 167.7,737.8 169.7,737.4 171.7,736.8 173.7,735.8 175.7,734.4 177.7,733.2 179.7,732.5 181.7,732.0 183.7,732.1 185.7,731.8 187.7,731.4 189.7,731.1 191.7,730.4 193.7,729.0 195.7,727.9 197.7,727.3 199.7,727.0 201.7,727.7 203.7,728.4 205.7,728.0 207.7,727.3 209.7,726.7 211.7,726.7 213.7,726.8 215.7,727.1 217.7,727.8 219.7,728.3 221.7,727.8 223.7,727.1 225.7,727.0 227.7,727.7 229.7,728.4 231.7,729.1 233.7,729.7 235.7,729.8 237.7,729.3 239.7,730.0 241.7,731.1 243.7,731.4 245.7,731.4 247.7,731.7 249.7,732.4 251.7,734.3 253.7,736.1 255.7,736.1 257.7,735.1 259.7,735.2 261.7,736.4 263.7,737.5 265.7,737.8 267.7,738.7 269.7,740.2 271.7,741.0 273.7,740.8 275.7,740.5 277.7,740.8 279.7,741.6 281.7,742.8 283.7,744.5 285.7,746.1 287.7,747.9 289.7,749.5 291.7,749.9 293.7,750.0 295.7,751.3 297.7,752.2 299.7,752.3 301.7,752.7 303.7,753.6 305.7,754.9 307.7,755.9 309.7,756.1 311.7,757.0 313.7,758.7 315.7,760.4 317.7,761.7 319.7,762.8 321.7,763.9 323.7,764.5 325.7,764.7 327.7,765.8 329.7,767.4 331.7,768.9 333.7,770.1 335.7,771.1 337.7,772.8 339.7,774.8 341.7,776.4 343.7,778.1 345.7,780.5 347.7,781.5 349.7,781.4 351.7,782.8 353.7,784.8 355.7,785.4 357.7,785.2 359.7,785.3 361.7,785.8 363.7,786.6 365.7,787.5 367.7,788.5 369.7,788.5 371.7,788.0 371.7,795.2 369.7,795.7 367.7,795.7 365.7,794.7 363.7,793.8 361.7,793.0 359.7,792.5 357.7,792.4 355.7,792.6 353.7,792.0 351.7,790.0 349.7,788.6 347.7,788.7 345.7,787.7 343.7,785.3 341.7,783.6 339.7,782.0 337.7,780.0 335.7,778.3 333.7,777.3 331.7,776.1 329.7,774.6 327.7,773.0 325.7,771.9 323.7,771.7 321.7,771.1 319.7,770.0 317.7,768.9 315.7,767.6 313.7,765.9 311.7,764.2 309.7,763.3 307.7,763.1 305.7,762.1 303.7,760.8 301.7,759.9 299.7,759.5 297.7,759.4 295.7,758.5 293.7,757.2 291.7,757.1 289.7,756.7 287.7,755.1 285.7,753.3 283.7,751.7 281.7,750.0 279.7,748.8 277.7,748.0 275.7,747.7 273.7,748.0 271.7,748.2 269.7,747.4 267.7,745.9 265.7,745.0 263.7,744.7 261.7,743.6 259.7,742.4 257.7,742.3 255.7,743.3 253.7,743.3 251.7,741.5 249.7,739.6 247.7,738.9 245.7,738.6 243.7,738.6 241.7,738.3 239.7,737.2 237.7,736.5 235.7,737.0 233.7,736.9 231.7,736.3 229.7,735.6 227.7,734.9 225.7,734.2 223.7,734.3 221.7,735.0 219.7,735.5 217.7,735.0 215.7,734.3 213.7,734.0 211.7,733.9 209.7,733.9 207.7,734.5 205.7,735.2 203.7,735.6 201.7,734.9 199.7,734.2 197.7,734.5 195.7,735.1 193.7,736.2 191.7,737.6 189.7,738.3 187.7,738.6 185.7,739.0 183.7,739.3 181.7,739.2 179.7,739.7 177.7,740.4 175.7,741.6 173.7,743.0 171.7,744.0 169.7,744.6 167.7,745.0 165.7,745.9 163.7,747.7 161.7,749.2 159.7,750.0 157.7,750.5 155.7,750.5 153.7,750.9 151.7,751.5 149.7,752.0 147.7,753.0 145.7,754.1 143.7,755.0 141.7,755.4 139.7,756.3 137.7,757.2 135.7,758.2 133.7,759.5 131.7,761.1 129.7,762.0 127.7,762.7 125.7,763.8 123.7,765.1 121.7,766.2 119.7,767.3 117.7,768.1 115.7,768.2 113.7,768.3 111.7,769.4 109.7,771.1 107.7,772.7 105.7,773.9 103.7,775.5 101.7,777.0 99.7,777.8 97.7,778.7 95.7,779.8 93.7,782.0 91.7,784.0 89.7,785.6 87.7,786.9 85.7,788.2 83.7,789.7 81.7,790.9 79.7,791.2 77.7,790.9 75.7,791.9 73.7,794.4 71.7,795.9 69.7,795.8 67.7,796.0 65.7,796.7 63.7,797.5" fill="#80a4be" fill-opacity="0.6" stroke="#2b6892" stroke-opacity="0.45" stroke-width="0.8"/>
<polyline points="63.7,793.9 65.7,793.1 67.7,792.4 69.7,792.2 71.7,792.3 73.7,790.8 75.7,788.3 77.7,787.3 79.7,787.6 81.7,787.3 83.7,786.1 85.7,784.6 87.7,783.3 89.7,782.0 91.7,780.4 93.7,778.4 95.7,776.2 97.7,775.1 99.7,774.2 101.7,773.4 103.7,771.9 105.7,770.3 107.7,769.1 109.7,767.5 111.7,765.8 113.7,764.7 115.7,764.6 117.7,764.5 119.7,763.7 121.7,762.6 123.7,761.5 125.7,760.2 127.7,759.1 129.7,758.4 131.7,757.5 133.7,755.9 135.7,754.6 137.7,753.6 139.7,752.7 141.7,751.8 143.7,751.4 145.7,750.5 147.7,749.4 149.7,748.4 151.7,747.9 153.7,747.3 155.7,746.9 157.7,746.9 159.7,746.4 161.7,745.6 163.7,744.1 165.7,742.3 167.7,741.4 169.7,741.0 171.7,740.4 173.7,739.4 175.7,738.0 177.7,736.8 179.7,736.1 181.7,735.6 183.7,735.7 185.7,735.4 187.7,735.0 189.7,734.7 191.7,734.0 193.7,732.6 195.7,731.5 197.7,730.9 199.7,730.6 201.7,731.3 203.7,732.0 205.7,731.6 207.7,730.9 209.7,730.3 211.7,730.3 213.7,730.4 215.7,730.7 217.7,731.4 219.7,731.9 221.7,731.4 223.7,730.7 225.7,730.6 227.7,731.3 229.7,732.0 231.7,732.7 233.7,733.3 235.7,733.4 237.7,732.9 239.7,733.6 241.7,734.7 243.7,735.0 245.7,735.0 247.7,735.3 249.7,736.0 251.7,737.9 253.7,739.7 255.7,739.7 257.7,738.7 259.7,738.8 261.7,740.0 263.7,741.1 265.7,741.4 267.7,742.3 269.7,743.8 271.7,744.6 273.7,744.4 275.7,744.1 277.7,744.4 279.7,745.2 281.7,746.4 283.7,748.1 285.7,749.7 287.7,751.5 289.7,753.1 291.7,753.5 293.7,753.6 295.7,754.9 297.7,755.8 299.7,755.9 301.7,756.3 303.7,757.2 305.7,758.5 307.7,759.5 309.7,759.7 311.7,760.6 313.7,762.3 315.7,764.0 317.7,765.3 319.7,766.4 321.7,767.5 323.7,768.1 325.7,768.3 327.7,769.4 329.7,771.0 331.7,772.5 333.7,773.7 335.7,774.7 337.7,776.4 339.7,778.4 341.7,780.0 343.7,781.7 345.7,784.1 347.7,785.1 349.7,785.0 351.7,786.4 353.7,788.4 355.7,789.0 357.7,788.8 359.7,788.9 361.7,789.4 363.7,790.2 365.7,791.1 367.7,792.1 369.7,792.1 371.7,791.6" fill="none" stroke="#2b6892" stroke-width="6.6" stroke-linejoin="round" stroke-linecap="round"/>
<polygon points="63.7,856.2 65.7,856.1 67.7,855.9 69.7,855.6 71.7,854.7 73.7,853.1 75.7,851.5 77.7,850.7 79.7,850.4 81.7,850.1 83.7,849.5 85.7,848.5 87.7,847.7 89.7,846.6 91.7,844.5 93.7,842.2 95.7,840.8 97.7,840.5 99.7,840.5 101.7,839.7 103.7,839.1 105.7,838.5 107.7,837.5 109.7,835.9 111.7,833.9 113.7,832.4 115.7,831.2 117.7,829.9 119.7,828.7 121.7,828.0 123.7,826.9 125.7,825.1 127.7,823.8 129.7,822.9 131.7,822.3 133.7,821.6 135.7,820.4 137.7,818.9 139.7,817.5 141.7,816.7 143.7,815.7 145.7,814.4 147.7,812.4 149.7,810.3 151.7,809.5 153.7,809.6 155.7,809.2 157.7,807.5 159.7,805.4 161.7,804.1 163.7,803.8 165.7,802.9 167.7,800.5 169.7,797.9 171.7,796.0 173.7,795.5 175.7,795.2 177.7,793.8 179.7,791.8 181.7,789.7 183.7,787.6 185.7,785.6 187.7,782.7 189.7,780.0 191.7,777.9 193.7,776.3 195.7,774.4 197.7,771.0 199.7,766.1 201.7,762.1 203.7,759.0 205.7,756.3 207.7,754.3 209.7,752.9 211.7,750.1 213.7,748.3 215.7,749.7 217.7,749.7 219.7,750.1 221.7,752.1 223.7,753.2 225.7,753.7 227.7,755.9 229.7,758.4 231.7,760.4 233.7,762.7 235.7,765.6 237.7,767.9 239.7,770.5 241.7,775.2 243.7,781.1 245.7,784.9 247.7,786.7 249.7,789.3 251.7,792.1 253.7,793.6 255.7,794.5 257.7,795.8 259.7,796.3 261.7,796.2 263.7,797.1 265.7,798.4 267.7,798.7 269.7,799.2 271.7,801.1 273.7,803.3 275.7,804.5 277.7,805.1 279.7,806.5 281.7,807.6 283.7,809.0 285.7,810.5 287.7,811.3 289.7,811.5 291.7,812.0 293.7,813.0 295.7,813.7 297.7,815.1 299.7,817.9 301.7,819.7 303.7,820.4 305.7,821.0 307.7,822.7 309.7,824.5 311.7,825.2 313.7,825.2 315.7,825.4 317.7,826.0 319.7,826.7 321.7,828.1 323.7,830.1 325.7,831.7 327.7,833.3 329.7,835.5 331.7,837.7 333.7,839.0 335.7,839.8 337.7,840.7 339.7,841.6 341.7,842.9 343.7,844.2 345.7,845.0 347.7,845.8 349.7,847.1 351.7,848.9 353.7,850.4 355.7,850.9 357.7,851.2 359.7,851.5 361.7,852.0 363.7,853.5 365.7,855.9 367.7,857.3 369.7,856.8 371.7,856.0 371.7,863.6 369.7,864.4 367.7,864.9 365.7,863.5 363.7,861.1 361.7,859.6 359.7,859.1 357.7,858.8 355.7,858.5 353.7,858.0 351.7,856.5 349.7,854.7 347.7,853.4 345.7,852.6 343.7,851.8 341.7,850.5 339.7,849.2 337.7,848.3 335.7,847.4 333.7,846.6 331.7,845.3 329.7,843.1 327.7,840.9 325.7,839.3 323.7,837.7 321.7,835.7 319.7,834.3 317.7,833.6 315.7,833.0 313.7,832.8 311.7,832.9 309.7,832.1 307.7,830.4 305.7,828.6 303.7,828.0 301.7,827.3 299.7,825.5 297.7,822.8 295.7,821.3 293.7,820.7 291.7,819.8 289.7,819.3 287.7,819.1 285.7,818.4 283.7,816.9 281.7,815.6 279.7,814.7 277.7,813.4 275.7,812.8 273.7,811.9 271.7,810.0 269.7,808.2 267.7,807.9 265.7,807.9 263.7,807.3 261.7,806.6 259.7,806.5 257.7,806.5 255.7,806.0 253.7,805.4 251.7,804.4 249.7,803.2 247.7,802.5 245.7,800.9 243.7,795.8 241.7,790.1 239.7,786.2 237.7,783.2 235.7,779.9 233.7,776.6 231.7,775.4 229.7,775.6 227.7,775.6 225.7,776.9 223.7,778.4 221.7,778.6 219.7,778.0 217.7,775.6 215.7,774.3 213.7,776.2 211.7,776.9 209.7,777.2 207.7,779.9 205.7,783.2 203.7,785.5 201.7,786.5 199.7,787.0 197.7,787.5 195.7,789.3 193.7,791.8 191.7,793.5 189.7,794.3 187.7,795.4 185.7,797.2 183.7,798.8 181.7,800.9 179.7,803.4 177.7,805.7 175.7,807.5 173.7,807.7 171.7,807.2 169.7,808.1 167.7,810.1 165.7,812.0 163.7,812.8 161.7,813.0 159.7,814.2 157.7,816.0 155.7,817.4 153.7,817.7 151.7,817.6 149.7,818.3 147.7,820.4 145.7,822.3 143.7,823.5 141.7,824.4 139.7,825.2 137.7,826.6 135.7,828.1 133.7,829.3 131.7,830.0 129.7,830.5 127.7,831.4 125.7,832.7 123.7,834.5 121.7,835.6 119.7,836.4 117.7,837.6 115.7,838.8 113.7,840.0 111.7,841.5 109.7,843.5 107.7,845.2 105.7,846.1 103.7,846.7 101.7,847.3 99.7,848.1 97.7,848.1 95.7,848.4 93.7,849.8 91.7,852.1 89.7,854.2 87.7,855.3 85.7,856.1 83.7,857.1 81.7,857.7 79.7,858.0 77.7,858.3 75.7,859.1 73.7,860.7 71.7,862.3 69.7,863.2 67.7,863.5 65.7,863.7 63.7,863.8" fill="#8b99c2" fill-opacity="0.6" stroke="#3e559a" stroke-opacity="0.45" stroke-width="0.8"/>
<polyline points="63.7,860.0 65.7,859.9 67.7,859.7 69.7,859.4 71.7,858.5 73.7,856.9 75.7,855.3 77.7,854.5 79.7,854.2 81.7,853.9 83.7,853.3 85.7,852.3 87.7,851.5 89.7,850.4 91.7,848.3 93.7,846.0 95.7,844.6 97.7,844.3 99.7,844.3 101.7,843.5 103.7,842.9 105.7,842.3 107.7,841.3 109.7,839.7 111.7,837.7 113.7,836.2 115.7,835.0 117.7,833.8 119.7,832.5 121.7,831.8 123.7,830.7 125.7,828.9 127.7,827.6 129.7,826.7 131.7,826.1 133.7,825.5 135.7,824.3 137.7,822.8 139.7,821.4 141.7,820.5 143.7,819.6 145.7,818.4 147.7,816.4 149.7,814.3 151.7,813.6 153.7,813.7 155.7,813.3 157.7,811.7 159.7,809.8 161.7,808.5 163.7,808.3 165.7,807.5 167.7,805.3 169.7,803.0 171.7,801.6 173.7,801.6 175.7,801.3 177.7,799.7 179.7,797.6 181.7,795.3 183.7,793.2 185.7,791.4 187.7,789.1 189.7,787.2 191.7,785.7 193.7,784.0 195.7,781.9 197.7,779.3 199.7,776.6 201.7,774.3 203.7,772.3 205.7,769.7 207.7,767.1 209.7,765.1 211.7,763.5 213.7,762.3 215.7,762.0 217.7,762.7 219.7,764.0 221.7,765.4 223.7,765.8 225.7,765.3 227.7,765.8 229.7,767.0 231.7,767.9 233.7,769.6 235.7,772.7 237.7,775.6 239.7,778.4 241.7,782.7 243.7,788.5 245.7,792.9 247.7,794.6 249.7,796.2 251.7,798.3 253.7,799.5 255.7,800.3 257.7,801.1 259.7,801.4 261.7,801.4 263.7,802.2 265.7,803.2 267.7,803.3 269.7,803.7 271.7,805.6 273.7,807.6 275.7,808.7 277.7,809.2 279.7,810.6 281.7,811.6 283.7,812.9 285.7,814.4 287.7,815.2 289.7,815.4 291.7,815.9 293.7,816.9 295.7,817.5 297.7,818.9 299.7,821.7 301.7,823.5 303.7,824.2 305.7,824.8 307.7,826.5 309.7,828.3 311.7,829.0 313.7,829.0 315.7,829.2 317.7,829.8 319.7,830.5 321.7,831.9 323.7,833.9 325.7,835.5 327.7,837.1 329.7,839.3 331.7,841.5 333.7,842.8 335.7,843.6 337.7,844.5 339.7,845.4 341.7,846.7 343.7,848.0 345.7,848.8 347.7,849.6 349.7,850.9 351.7,852.7 353.7,854.2 355.7,854.7 357.7,855.0 359.7,855.3 361.7,855.8 363.7,857.3 365.7,859.7 367.7,861.1 369.7,860.6 371.7,859.8" fill="none" stroke="#3e559a" stroke-width="6.6" stroke-linejoin="round" stroke-linecap="round"/>
<g fill="#485e9f" fill-opacity="0.85" stroke="#2b3b6c" stroke-width="0.6"><circle cx="190.0" cy="786.7" r="3.3"/><circle cx="192.6" cy="785.4" r="3.3"/><circle cx="195.2" cy="782.3" r="3.3"/><circle cx="197.8" cy="778.0" r="3.3"/><circle cx="200.4" cy="776.7" r="3.3"/><circle cx="203.0" cy="773.7" r="3.3"/><circle cx="205.6" cy="768.3" r="3.3"/><circle cx="208.2" cy="767.8" r="3.3"/><circle cx="210.8" cy="765.3" r="3.3"/><circle cx="213.4" cy="763.7" r="3.3"/><circle cx="216.0" cy="761.8" r="3.3"/><circle cx="218.6" cy="763.7" r="3.3"/><circle cx="221.2" cy="764.5" r="3.3"/><circle cx="223.8" cy="765.2" r="3.3"/><circle cx="226.4" cy="764.3" r="3.3"/><circle cx="229.0" cy="767.5" r="3.3"/><circle cx="231.6" cy="766.1" r="3.3"/><circle cx="234.2" cy="769.6" r="3.3"/><circle cx="236.8" cy="775.8" r="3.3"/><circle cx="239.4" cy="778.0" r="3.3"/><circle cx="242.0" cy="783.8" r="3.3"/><circle cx="244.6" cy="792.4" r="3.3"/><circle cx="247.2" cy="794.7" r="3.3"/><circle cx="249.8" cy="796.7" r="3.3"/></g>
<polygon points="63.7,918.7 65.7,918.3 67.7,918.0 69.7,917.5 71.7,917.0 73.7,916.8 75.7,916.4 77.7,915.7 79.7,915.2 81.7,914.4 83.7,913.3 85.7,913.0 87.7,912.5 89.7,910.8 91.7,908.7 93.7,907.0 95.7,905.9 97.7,905.1 99.7,904.0 101.7,902.1 103.7,900.7 105.7,899.5 107.7,897.5 109.7,895.1 111.7,892.8 113.7,891.0 115.7,890.4 117.7,889.5 119.7,887.2 121.7,884.7 123.7,883.0 125.7,882.0 127.7,881.1 129.7,880.2 131.7,879.1 133.7,877.4 135.7,875.6 137.7,873.5 139.7,871.0 141.7,868.5 143.7,866.9 145.7,865.4 147.7,863.3 149.7,861.4 151.7,860.5 153.7,859.0 155.7,856.9 157.7,854.9 159.7,852.9 161.7,850.7 163.7,847.8 165.7,845.3 167.7,843.4 169.7,841.1 171.7,838.3 173.7,835.8 175.7,833.4 177.7,831.3 179.7,829.2 181.7,827.1 183.7,825.7 185.7,822.8 187.7,820.0 189.7,818.5 191.7,815.8 193.7,810.5 195.7,804.7 197.7,800.4 199.7,794.0 201.7,785.8 203.7,778.6 205.7,776.0 207.7,778.7 209.7,778.5 211.7,773.5 213.7,770.4 215.7,769.9 217.7,770.7 219.7,770.9 221.7,772.7 223.7,775.6 225.7,777.5 227.7,778.2 229.7,778.6 231.7,778.8 233.7,779.2 235.7,779.8 237.7,780.7 239.7,788.0 241.7,798.2 243.7,806.9 245.7,812.9 247.7,817.9 249.7,824.2 251.7,829.5 253.7,832.7 255.7,834.1 257.7,835.5 259.7,838.3 261.7,840.9 263.7,842.8 265.7,844.4 267.7,846.6 269.7,849.3 271.7,851.8 273.7,854.8 275.7,857.4 277.7,859.1 279.7,860.6 281.7,863.5 283.7,866.4 285.7,868.2 287.7,869.6 289.7,871.4 291.7,874.2 293.7,876.7 295.7,878.6 297.7,880.2 299.7,882.6 301.7,884.9 303.7,886.6 305.7,887.9 307.7,890.1 309.7,892.4 311.7,893.1 313.7,893.7 315.7,895.0 317.7,896.9 319.7,899.4 321.7,900.8 323.7,900.6 325.7,901.4 327.7,903.9 329.7,906.2 331.7,907.5 333.7,908.2 335.7,908.5 337.7,909.1 339.7,910.1 341.7,911.8 343.7,914.3 345.7,916.4 347.7,918.0 349.7,918.3 351.7,918.7 353.7,920.2 355.7,921.4 357.7,921.2 359.7,920.9 361.7,922.0 363.7,922.8 365.7,922.6 367.7,922.7 369.7,923.3 371.7,923.0 371.7,931.0 369.7,931.3 367.7,930.7 365.7,930.6 363.7,930.8 361.7,930.0 359.7,928.9 357.7,929.2 355.7,929.4 353.7,928.2 351.7,926.7 349.7,926.3 347.7,926.0 345.7,924.4 343.7,922.3 341.7,919.8 339.7,918.1 337.7,917.1 335.7,916.5 333.7,916.2 331.7,915.5 329.7,914.2 327.7,911.9 325.7,909.4 323.7,908.6 321.7,908.8 319.7,907.5 317.7,905.0 315.7,903.0 313.7,901.8 311.7,901.2 309.7,900.5 307.7,898.3 305.7,896.2 303.7,895.0 301.7,893.3 299.7,891.1 297.7,888.8 295.7,887.4 293.7,885.6 291.7,883.2 289.7,880.7 287.7,879.2 285.7,878.0 283.7,876.4 281.7,873.8 279.7,871.4 277.7,870.4 275.7,869.5 273.7,867.6 271.7,865.5 269.7,864.2 267.7,862.5 265.7,860.6 263.7,859.6 261.7,859.5 259.7,859.4 257.7,858.5 255.7,856.4 253.7,853.3 251.7,850.7 249.7,850.2 247.7,849.2 245.7,844.9 243.7,839.4 241.7,834.1 239.7,827.5 237.7,823.1 235.7,821.9 233.7,822.7 231.7,823.3 229.7,823.8 227.7,825.6 225.7,828.6 223.7,830.8 221.7,831.3 219.7,829.4 217.7,826.6 215.7,826.2 213.7,825.4 211.7,822.0 209.7,818.8 207.7,823.1 205.7,831.3 203.7,836.1 201.7,836.5 199.7,834.4 197.7,833.9 195.7,835.3 193.7,836.2 191.7,839.1 189.7,844.1 187.7,848.2 185.7,850.4 183.7,850.8 181.7,851.4 179.7,852.2 177.7,852.3 175.7,852.2 173.7,853.3 171.7,855.8 169.7,858.0 167.7,859.7 165.7,860.7 163.7,862.2 161.7,864.6 159.7,866.5 157.7,867.6 155.7,868.8 153.7,870.3 151.7,871.4 149.7,872.0 147.7,873.6 145.7,875.3 143.7,876.5 141.7,877.8 139.7,880.0 137.7,882.3 135.7,884.3 133.7,886.0 131.7,887.6 129.7,888.6 127.7,889.4 125.7,890.2 123.7,891.2 121.7,892.8 119.7,895.3 117.7,897.6 115.7,898.4 113.7,899.1 111.7,900.8 109.7,903.2 107.7,905.5 105.7,907.5 103.7,908.8 101.7,910.1 99.7,912.0 97.7,913.2 95.7,913.9 93.7,915.0 91.7,916.7 89.7,918.8 87.7,920.5 85.7,921.0 83.7,921.3 81.7,922.4 79.7,923.2 77.7,923.7 75.7,924.4 73.7,924.8 71.7,925.0 69.7,925.5 67.7,926.0 65.7,926.3 63.7,926.7" fill="#9389ba" fill-opacity="0.6" stroke="#4b3a8c" stroke-opacity="0.45" stroke-width="0.8"/>
<polyline points="63.7,922.7 65.7,922.3 67.7,922.0 69.7,921.5 71.7,921.0 73.7,920.8 75.7,920.4 77.7,919.7 79.7,919.2 81.7,918.4 83.7,917.3 85.7,917.0 87.7,916.5 89.7,914.8 91.7,912.7 93.7,911.0 95.7,909.9 97.7,909.2 99.7,908.0 101.7,906.1 103.7,904.8 105.7,903.5 107.7,901.5 109.7,899.2 111.7,896.8 113.7,895.1 115.7,894.4 117.7,893.6 119.7,891.2 121.7,888.7 123.7,887.1 125.7,886.1 127.7,885.2 129.7,884.4 131.7,883.4 133.7,881.7 135.7,880.0 137.7,877.9 139.7,875.5 141.7,873.1 143.7,871.7 145.7,870.4 147.7,868.4 149.7,866.7 151.7,865.9 153.7,864.6 155.7,862.8 157.7,861.2 159.7,859.7 161.7,857.7 163.7,855.0 165.7,853.0 167.7,851.5 169.7,849.6 171.7,847.0 173.7,844.6 175.7,842.8 177.7,841.8 179.7,840.7 181.7,839.3 183.7,838.3 185.7,836.6 187.7,834.1 189.7,831.3 191.7,827.4 193.7,823.3 195.7,820.0 197.7,817.1 199.7,814.2 201.7,811.1 203.7,807.4 205.7,803.6 207.7,800.9 209.7,798.7 211.7,797.7 213.7,797.9 215.7,798.1 217.7,798.7 219.7,800.1 221.7,802.0 223.7,803.2 225.7,803.0 227.7,801.9 229.7,801.2 231.7,801.1 233.7,800.9 235.7,800.8 237.7,801.9 239.7,807.8 241.7,816.2 243.7,823.2 245.7,828.9 247.7,833.5 249.7,837.2 251.7,840.1 253.7,843.0 255.7,845.2 257.7,847.0 259.7,848.9 261.7,850.2 263.7,851.2 265.7,852.5 267.7,854.6 269.7,856.7 271.7,858.7 273.7,861.2 275.7,863.5 277.7,864.7 279.7,866.0 281.7,868.7 283.7,871.4 285.7,873.1 287.7,874.4 289.7,876.0 291.7,878.7 293.7,881.2 295.7,883.0 297.7,884.5 299.7,886.9 301.7,889.1 303.7,890.8 305.7,892.1 307.7,894.2 309.7,896.5 311.7,897.1 313.7,897.7 315.7,899.0 317.7,901.0 319.7,903.5 321.7,904.8 323.7,904.6 325.7,905.4 327.7,907.9 329.7,910.2 331.7,911.5 333.7,912.2 335.7,912.5 337.7,913.1 339.7,914.1 341.7,915.8 343.7,918.3 345.7,920.4 347.7,922.0 349.7,922.3 351.7,922.7 353.7,924.2 355.7,925.4 357.7,925.2 359.7,924.9 361.7,926.0 363.7,926.8 365.7,926.6 367.7,926.7 369.7,927.3 371.7,927.0" fill="none" stroke="#4b3a8c" stroke-width="6.6" stroke-linejoin="round" stroke-linecap="round"/>
<g fill="#544492" fill-opacity="0.85" stroke="#342962" stroke-width="0.6"><circle cx="165.0" cy="854.3" r="3.3"/><circle cx="167.6" cy="850.1" r="3.3"/><circle cx="170.2" cy="849.3" r="3.3"/><circle cx="172.8" cy="846.2" r="3.3"/><circle cx="175.4" cy="843.4" r="3.3"/><circle cx="178.0" cy="840.7" r="3.3"/><circle cx="180.6" cy="839.1" r="3.3"/><circle cx="183.2" cy="836.7" r="3.3"/><circle cx="185.8" cy="836.2" r="3.3"/><circle cx="188.4" cy="835.0" r="3.3"/><circle cx="191.0" cy="827.5" r="3.3"/><circle cx="193.6" cy="825.7" r="3.3"/><circle cx="196.2" cy="820.5" r="3.3"/><circle cx="198.8" cy="817.0" r="3.3"/><circle cx="201.4" cy="811.1" r="3.3"/><circle cx="204.0" cy="807.7" r="3.3"/><circle cx="206.6" cy="802.3" r="3.3"/><circle cx="209.2" cy="801.3" r="3.3"/><circle cx="211.8" cy="799.1" r="3.3"/><circle cx="214.4" cy="799.1" r="3.3"/><circle cx="217.0" cy="800.8" r="3.3"/><circle cx="219.6" cy="801.1" r="3.3"/><circle cx="222.2" cy="800.4" r="3.3"/><circle cx="224.8" cy="803.7" r="3.3"/><circle cx="227.4" cy="803.1" r="3.3"/><circle cx="230.0" cy="802.2" r="3.3"/><circle cx="232.6" cy="803.3" r="3.3"/><circle cx="235.2" cy="803.3" r="3.3"/><circle cx="237.8" cy="800.9" r="3.3"/><circle cx="240.4" cy="810.0" r="3.3"/><circle cx="243.0" cy="823.0" r="3.3"/><circle cx="245.6" cy="829.5" r="3.3"/><circle cx="248.2" cy="832.4" r="3.3"/><circle cx="250.8" cy="836.1" r="3.3"/><circle cx="253.4" cy="840.3" r="3.3"/><circle cx="256.0" cy="843.4" r="3.3"/><circle cx="258.6" cy="844.6" r="3.3"/><circle cx="261.2" cy="849.1" r="3.3"/></g>
<polygon points="63.7,988.5 65.7,988.6 67.7,988.1 69.7,987.8 71.7,986.9 73.7,985.4 75.7,984.1 77.7,983.6 79.7,983.5 81.7,982.2 83.7,980.2 85.7,979.5 87.7,979.4 89.7,979.2 91.7,978.8 93.7,977.2 95.7,974.7 97.7,972.7 99.7,971.3 101.7,970.8 103.7,970.8 105.7,970.0 107.7,966.8 109.7,963.5 111.7,961.9 113.7,960.6 115.7,958.7 117.7,957.0 119.7,956.0 121.7,954.7 123.7,952.8 125.7,951.0 127.7,949.4 129.7,947.2 131.7,944.6 133.7,942.3 135.7,940.8 137.7,939.2 139.7,936.9 141.7,935.3 143.7,933.7 145.7,931.2 147.7,928.6 149.7,926.4 151.7,924.9 153.7,922.7 155.7,919.1 157.7,915.7 159.7,914.1 161.7,913.8 163.7,912.5 165.7,910.1 167.7,908.0 169.7,906.5 171.7,905.5 173.7,904.1 175.7,900.9 177.7,896.2 179.7,892.5 181.7,887.8 183.7,881.1 185.7,874.0 187.7,868.5 189.7,864.7 191.7,860.3 193.7,855.2 195.7,850.0 197.7,848.6 199.7,849.4 201.7,848.3 203.7,842.9 205.7,833.7 207.7,828.1 209.7,830.3 211.7,831.2 213.7,831.7 215.7,832.8 217.7,831.2 219.7,827.5 221.7,823.6 223.7,822.9 225.7,827.5 227.7,829.5 229.7,831.1 231.7,834.0 233.7,835.0 235.7,837.0 237.7,841.7 239.7,848.1 241.7,855.7 243.7,861.5 245.7,862.4 247.7,864.6 249.7,869.9 251.7,875.7 253.7,881.1 255.7,885.0 257.7,888.0 259.7,891.2 261.7,894.1 263.7,896.7 265.7,899.5 267.7,903.0 269.7,906.4 271.7,909.2 273.7,912.3 275.7,914.5 277.7,916.0 279.7,918.6 281.7,922.3 283.7,924.8 285.7,925.8 287.7,927.8 289.7,930.8 291.7,933.4 293.7,935.2 295.7,935.9 297.7,936.9 299.7,938.5 301.7,940.4 303.7,940.6 305.7,941.0 307.7,943.3 309.7,946.2 311.7,948.5 313.7,949.5 315.7,950.9 317.7,953.1 319.7,955.1 321.7,956.4 323.7,957.8 325.7,959.0 327.7,960.0 329.7,961.3 331.7,962.7 333.7,964.3 335.7,966.2 337.7,967.8 339.7,970.1 341.7,971.9 343.7,972.6 345.7,973.5 347.7,975.3 349.7,977.5 351.7,979.4 353.7,980.8 355.7,981.9 357.7,982.6 359.7,983.4 361.7,984.6 363.7,986.5 365.7,988.1 367.7,989.6 369.7,990.7 371.7,989.7 371.7,997.7 369.7,998.7 367.7,997.6 365.7,996.1 363.7,994.5 361.7,992.6 359.7,991.4 357.7,990.6 355.7,989.9 353.7,988.8 351.7,987.4 349.7,985.5 347.7,983.3 345.7,981.5 343.7,980.6 341.7,979.9 339.7,978.1 337.7,975.8 335.7,974.2 333.7,972.4 331.7,970.8 329.7,969.4 327.7,968.1 325.7,967.1 323.7,965.9 321.7,964.5 319.7,963.2 317.7,961.3 315.7,959.1 313.7,957.8 311.7,956.8 309.7,954.6 307.7,951.7 305.7,949.6 303.7,949.3 301.7,949.2 299.7,947.5 297.7,946.0 295.7,945.3 293.7,944.7 291.7,943.1 289.7,941.0 287.7,938.5 285.7,936.8 283.7,935.9 281.7,933.6 279.7,930.6 277.7,929.0 275.7,927.9 273.7,926.1 271.7,923.7 269.7,921.3 267.7,918.1 265.7,915.7 263.7,914.7 261.7,913.7 259.7,911.2 257.7,908.1 255.7,905.8 253.7,903.9 251.7,903.6 249.7,904.0 247.7,902.6 245.7,897.6 243.7,891.3 241.7,887.7 239.7,884.7 237.7,881.0 235.7,877.7 233.7,873.9 231.7,871.3 229.7,869.9 227.7,866.9 225.7,864.5 223.7,866.3 221.7,865.3 219.7,864.6 217.7,865.5 215.7,868.0 213.7,873.5 211.7,877.5 209.7,879.5 207.7,882.7 205.7,879.0 203.7,872.0 201.7,870.3 199.7,873.1 197.7,877.9 195.7,883.5 193.7,886.5 191.7,889.7 189.7,896.0 187.7,902.0 185.7,904.6 183.7,907.8 181.7,912.8 179.7,916.5 177.7,918.5 175.7,919.8 173.7,921.0 171.7,922.6 169.7,924.9 167.7,927.5 165.7,929.0 163.7,929.4 161.7,928.8 159.7,928.0 157.7,928.9 155.7,932.0 153.7,935.1 151.7,936.7 149.7,937.5 147.7,939.3 145.7,941.7 143.7,943.9 141.7,945.3 139.7,946.6 137.7,948.6 135.7,950.0 133.7,951.3 131.7,953.4 129.7,955.9 127.7,958.0 125.7,959.5 123.7,961.2 121.7,963.1 119.7,964.3 117.7,965.2 115.7,966.9 113.7,968.8 111.7,970.0 109.7,971.6 107.7,974.9 105.7,978.0 103.7,978.9 101.7,978.9 99.7,979.3 97.7,980.7 95.7,982.7 93.7,985.2 91.7,986.8 89.7,987.2 87.7,987.4 85.7,987.5 83.7,988.3 81.7,990.2 79.7,991.5 77.7,991.6 75.7,992.1 73.7,993.4 71.7,994.9 69.7,995.8 67.7,996.1 65.7,996.6 63.7,996.5" fill="#8c759c" fill-opacity="0.6" stroke="#40195a" stroke-opacity="0.45" stroke-width="0.8"/>
<polyline points="63.7,992.5 65.7,992.6 67.7,992.1 69.7,991.8 71.7,990.9 73.7,989.4 75.7,988.1 77.7,987.6 79.7,987.5 81.7,986.2 83.7,984.2 85.7,983.5 87.7,983.4 89.7,983.2 91.7,982.8 93.7,981.2 95.7,978.7 97.7,976.7 99.7,975.3 101.7,974.9 103.7,974.8 105.7,974.0 107.7,970.9 109.7,967.5 111.7,965.9 113.7,964.7 115.7,962.8 117.7,961.1 119.7,960.1 121.7,958.9 123.7,957.0 125.7,955.2 127.7,953.7 129.7,951.6 131.7,949.0 133.7,946.8 135.7,945.4 137.7,943.9 139.7,941.8 141.7,940.3 143.7,938.8 145.7,936.5 147.7,934.0 149.7,932.0 151.7,930.8 153.7,928.9 155.7,925.5 157.7,922.3 159.7,921.0 161.7,921.3 163.7,920.9 165.7,919.5 167.7,917.8 169.7,915.7 171.7,914.0 173.7,912.5 175.7,910.3 177.7,907.3 179.7,904.5 181.7,900.3 183.7,894.5 185.7,889.3 187.7,885.2 189.7,880.3 191.7,875.0 193.7,870.9 195.7,866.7 197.7,863.3 199.7,861.3 201.7,859.3 203.7,857.4 205.7,856.3 207.7,855.4 209.7,854.9 211.7,854.3 213.7,852.6 215.7,850.4 217.7,848.3 219.7,846.0 221.7,844.4 223.7,844.6 225.7,846.0 227.7,848.2 229.7,850.5 231.7,852.7 233.7,854.4 235.7,857.3 237.7,861.3 239.7,866.4 241.7,871.7 243.7,876.4 245.7,880.0 247.7,883.6 249.7,886.9 251.7,889.7 253.7,892.5 255.7,895.4 257.7,898.1 259.7,901.2 261.7,903.9 263.7,905.7 265.7,907.6 267.7,910.5 269.7,913.9 271.7,916.4 273.7,919.2 275.7,921.2 277.7,922.5 279.7,924.6 281.7,927.9 283.7,930.3 285.7,931.3 287.7,933.1 289.7,935.9 291.7,938.2 293.7,939.9 295.7,940.6 297.7,941.5 299.7,943.0 301.7,944.8 303.7,945.0 305.7,945.3 307.7,947.5 309.7,950.4 311.7,952.7 313.7,953.7 315.7,955.0 317.7,957.2 319.7,959.2 321.7,960.4 323.7,961.9 325.7,963.1 327.7,964.1 329.7,965.4 331.7,966.8 333.7,968.4 335.7,970.2 337.7,971.8 339.7,974.1 341.7,975.9 343.7,976.6 345.7,977.5 347.7,979.3 349.7,981.5 351.7,983.4 353.7,984.8 355.7,985.9 357.7,986.6 359.7,987.4 361.7,988.6 363.7,990.5 365.7,992.1 367.7,993.6 369.7,994.7 371.7,993.7" fill="none" stroke="#40195a" stroke-width="6.6" stroke-linejoin="round" stroke-linecap="round"/>
<g fill="#4a2462" fill-opacity="0.85" stroke="#2d123f" stroke-width="0.6"><circle cx="150.0" cy="929.5" r="3.3"/><circle cx="152.6" cy="928.3" r="3.3"/><circle cx="155.2" cy="925.6" r="3.3"/><circle cx="157.8" cy="923.8" r="3.3"/><circle cx="160.4" cy="920.8" r="3.3"/><circle cx="163.0" cy="918.9" r="3.3"/><circle cx="165.6" cy="919.0" r="3.3"/><circle cx="168.2" cy="916.8" r="3.3"/><circle cx="170.8" cy="913.4" r="3.3"/><circle cx="173.4" cy="914.7" r="3.3"/><circle cx="176.0" cy="911.5" r="3.3"/><circle cx="178.6" cy="905.4" r="3.3"/><circle cx="181.2" cy="901.9" r="3.3"/><circle cx="183.8" cy="894.0" r="3.3"/><circle cx="186.4" cy="890.5" r="3.3"/><circle cx="189.0" cy="883.1" r="3.3"/><circle cx="191.6" cy="875.8" r="3.3"/><circle cx="194.2" cy="869.6" r="3.3"/><circle cx="196.8" cy="863.2" r="3.3"/><circle cx="199.4" cy="860.5" r="3.3"/><circle cx="202.0" cy="858.7" r="3.3"/><circle cx="204.6" cy="857.5" r="3.3"/><circle cx="207.2" cy="855.9" r="3.3"/><circle cx="209.8" cy="851.0" r="3.3"/><circle cx="212.4" cy="854.4" r="3.3"/><circle cx="215.0" cy="848.7" r="3.3"/><circle cx="217.6" cy="847.4" r="3.3"/><circle cx="220.2" cy="845.3" r="3.3"/><circle cx="222.8" cy="843.4" r="3.3"/><circle cx="225.4" cy="844.0" r="3.3"/><circle cx="228.0" cy="846.8" r="3.3"/><circle cx="230.6" cy="850.1" r="3.3"/><circle cx="233.2" cy="853.0" r="3.3"/><circle cx="235.8" cy="857.8" r="3.3"/><circle cx="238.4" cy="863.0" r="3.3"/><circle cx="241.0" cy="871.1" r="3.3"/><circle cx="243.6" cy="875.2" r="3.3"/><circle cx="246.2" cy="882.2" r="3.3"/><circle cx="248.8" cy="885.8" r="3.3"/><circle cx="251.4" cy="890.5" r="3.3"/><circle cx="254.0" cy="894.1" r="3.3"/><circle cx="256.6" cy="898.5" r="3.3"/><circle cx="259.2" cy="902.4" r="3.3"/><circle cx="261.8" cy="904.8" r="3.3"/><circle cx="264.4" cy="906.7" r="3.3"/><circle cx="267.0" cy="909.5" r="3.3"/><circle cx="269.6" cy="915.7" r="3.3"/><circle cx="272.2" cy="916.2" r="3.3"/><circle cx="274.8" cy="919.1" r="3.3"/></g>
<polyline points="65.7,469.1 67.7,468.6 69.7,468.2 71.7,467.8 73.7,467.4 75.7,467.0 77.7,466.6 79.7,466.2 81.7,465.8 83.7,465.4 85.7,465.1 87.7,464.7 89.7,464.3 91.7,464.0 93.7,463.6 95.7,463.3 97.7,462.9 99.7,462.6 101.7,462.2 103.7,461.9 105.7,461.6 107.7,461.3 109.7,461.0 111.7,460.7 113.7,460.4 115.7,460.1 117.7,459.8 119.7,459.5 121.7,459.2 123.7,459.0 125.7,458.7 127.7,458.5 129.7,458.2 131.7,458.0 133.7,457.7 135.7,457.5 137.7,457.3 139.7,457.0 141.7,456.8 143.7,456.6 145.7,456.4 147.7,456.2 149.7,456.0 151.7,455.8 153.7,455.6 155.7,455.4 157.7,455.3 159.7,455.1 161.7,454.9 163.7,454.8 165.7,454.6 167.7,454.5 169.7,454.3 171.7,454.2 173.7,454.1 175.7,454.0 177.7,453.8 179.7,453.7 181.7,453.6 183.7,453.5 185.7,453.4 187.7,453.3 189.7,453.3 191.7,453.2 193.7,453.1 195.7,453.1 197.7,453.0 199.7,452.9 201.7,452.9 203.7,452.8 205.7,452.8 207.7,452.8 209.7,452.7 211.7,452.7 213.7,452.7 215.7,452.7 217.7,452.7 219.7,452.7 221.7,452.7 223.7,452.7 225.7,452.7 227.7,452.8 229.7,452.8 231.7,452.8 233.7,452.9 235.7,452.9 237.7,453.0 239.7,453.0 241.7,453.1 243.7,453.2 245.7,453.2 247.7,453.3 249.7,453.4 251.7,453.5 253.7,453.6 255.7,453.7 257.7,453.8 259.7,453.9 261.7,454.0 263.7,454.2 265.7,454.3 267.7,454.4 269.7,454.6 271.7,454.7 273.7,454.9 275.7,455.1 277.7,455.2 279.7,455.4 281.7,455.6 283.7,455.7 285.7,455.9 287.7,456.1 289.7,456.3 291.7,456.5 293.7,456.7 295.7,457.0 297.7,457.2 299.7,457.4 301.7,457.6 303.7,457.9 305.7,458.1 307.7,458.4 309.7,458.6 311.7,458.9 313.7,459.2 315.7,459.4 317.7,459.7 319.7,460.0 321.7,460.3 323.7,460.6 325.7,460.9 327.7,461.2 329.7,461.5 331.7,461.8 333.7,462.2 335.7,462.5 337.7,462.8 339.7,463.2 341.7,463.5 343.7,463.9 345.7,464.2 347.7,464.6 349.7,464.9 351.7,465.3 353.7,465.7 355.7,466.1 357.7,466.5 359.7,466.9 361.7,467.3 363.7,467.7 365.7,468.1 367.7,468.5 369.7,468.9" fill="none" stroke="#f0907a" stroke-width="1.3" stroke-dasharray="4.2 3.2"/>
<polyline points="65.7,519.1 67.7,518.7 69.7,518.3 71.7,517.9 73.7,517.5 75.7,517.1 77.7,516.7 79.7,516.3 81.7,515.9 83.7,515.6 85.7,515.2 87.7,514.8 89.7,514.5 91.7,514.1 93.7,513.8 95.7,513.5 97.7,513.1 99.7,512.8 101.7,512.5 103.7,512.2 105.7,511.9 107.7,511.6 109.7,511.3 111.7,511.0 113.7,510.7 115.7,510.4 117.7,510.1 119.7,509.9 121.7,509.6 123.7,509.3 125.7,509.1 127.7,508.8 129.7,508.6 131.7,508.4 133.7,508.1 135.7,507.9 137.7,507.7 139.7,507.5 141.7,507.3 143.7,507.1 145.7,506.9 147.7,506.7 149.7,506.5 151.7,506.3 153.7,506.1 155.7,505.9 157.7,505.8 159.7,505.6 161.7,505.5 163.7,505.3 165.7,505.2 167.7,505.0 169.7,504.9 171.7,504.8 173.7,504.6 175.7,504.5 177.7,504.4 179.7,504.3 181.7,504.2 183.7,504.1 185.7,504.0 187.7,503.9 189.7,503.8 191.7,503.8 193.7,503.7 195.7,503.6 197.7,503.6 199.7,503.5 201.7,503.5 203.7,503.4 205.7,503.4 207.7,503.4 209.7,503.3 211.7,503.3 213.7,503.3 215.7,503.3 217.7,503.3 219.7,503.3 221.7,503.3 223.7,503.3 225.7,503.3 227.7,503.4 229.7,503.4 231.7,503.4 233.7,503.5 235.7,503.5 237.7,503.6 239.7,503.6 241.7,503.7 243.7,503.7 245.7,503.8 247.7,503.9 249.7,504.0 251.7,504.1 253.7,504.2 255.7,504.3 257.7,504.4 259.7,504.5 261.7,504.6 263.7,504.7 265.7,504.8 267.7,505.0 269.7,505.1 271.7,505.3 273.7,505.4 275.7,505.6 277.7,505.7 279.7,505.9 281.7,506.1 283.7,506.2 285.7,506.4 287.7,506.6 289.7,506.8 291.7,507.0 293.7,507.2 295.7,507.4 297.7,507.6 299.7,507.8 301.7,508.1 303.7,508.3 305.7,508.5 307.7,508.8 309.7,509.0 311.7,509.3 313.7,509.5 315.7,509.8 317.7,510.1 319.7,510.3 321.7,510.6 323.7,510.9 325.7,511.2 327.7,511.5 329.7,511.8 331.7,512.1 333.7,512.4 335.7,512.7 337.7,513.0 339.7,513.4 341.7,513.7 343.7,514.0 345.7,514.4 347.7,514.7 349.7,515.1 351.7,515.5 353.7,515.8 355.7,516.2 357.7,516.6 359.7,517.0 361.7,517.3 363.7,517.7 365.7,518.1 367.7,518.5 369.7,518.9" fill="none" stroke="#f0907a" stroke-width="1.3" stroke-dasharray="4.2 3.2"/>
<polyline points="65.7,577.0 67.7,576.8 69.7,576.5 71.7,576.2 73.7,576.0 75.7,575.7 77.7,575.5 79.7,575.2 81.7,575.0 83.7,574.7 85.7,574.5 87.7,574.3 89.7,574.0 91.7,573.8 93.7,573.6 95.7,573.4 97.7,573.2 99.7,572.9 101.7,572.7 103.7,572.5 105.7,572.3 107.7,572.1 109.7,571.9 111.7,571.7 113.7,571.6 115.7,571.4 117.7,571.2 119.7,571.0 121.7,570.8 123.7,570.7 125.7,570.5 127.7,570.3 129.7,570.2 131.7,570.0 133.7,569.9 135.7,569.7 137.7,569.6 139.7,569.4 141.7,569.3 143.7,569.2 145.7,569.0 147.7,568.9 149.7,568.8 151.7,568.7 153.7,568.5 155.7,568.4 157.7,568.3 159.7,568.2 161.7,568.1 163.7,568.0 165.7,567.9 167.7,567.8 169.7,567.7 171.7,567.7 173.7,567.6 175.7,567.5 177.7,567.4 179.7,567.4 181.7,567.3 183.7,567.2 185.7,567.2 187.7,567.1 189.7,567.1 191.7,567.0 193.7,567.0 195.7,566.9 197.7,566.9 199.7,566.8 201.7,566.8 203.7,566.8 205.7,566.8 207.7,566.7 209.7,566.7 211.7,566.7 213.7,566.7 215.7,566.7 217.7,566.7 219.7,566.7 221.7,566.7 223.7,566.7 225.7,566.7 227.7,566.7 229.7,566.8 231.7,566.8 233.7,566.8 235.7,566.8 237.7,566.9 239.7,566.9 241.7,567.0 243.7,567.0 245.7,567.0 247.7,567.1 249.7,567.1 251.7,567.2 253.7,567.3 255.7,567.3 257.7,567.4 259.7,567.5 261.7,567.6 263.7,567.6 265.7,567.7 267.7,567.8 269.7,567.9 271.7,568.0 273.7,568.1 275.7,568.2 277.7,568.3 279.7,568.4 281.7,568.5 283.7,568.6 285.7,568.7 287.7,568.9 289.7,569.0 291.7,569.1 293.7,569.3 295.7,569.4 297.7,569.5 299.7,569.7 301.7,569.8 303.7,570.0 305.7,570.1 307.7,570.3 309.7,570.5 311.7,570.6 313.7,570.8 315.7,571.0 317.7,571.1 319.7,571.3 321.7,571.5 323.7,571.7 325.7,571.9 327.7,572.1 329.7,572.3 331.7,572.5 333.7,572.7 335.7,572.9 337.7,573.1 339.7,573.3 341.7,573.5 343.7,573.7 345.7,574.0 347.7,574.2 349.7,574.4 351.7,574.7 353.7,574.9 355.7,575.2 357.7,575.4 359.7,575.7 361.7,575.9 363.7,576.2 365.7,576.4 367.7,576.7 369.7,577.0" fill="none" stroke="#f0907a" stroke-width="1.3" stroke-dasharray="4.2 3.2"/>
<polyline points="65.7,644.1 67.7,643.5 69.7,643.0 71.7,642.5 73.7,642.0 75.7,641.4 77.7,640.9 79.7,640.4 81.7,639.9 83.7,639.5 85.7,639.0 87.7,638.5 89.7,638.0 91.7,637.6 93.7,637.1 95.7,636.7 97.7,636.3 99.7,635.8 101.7,635.4 103.7,635.0 105.7,634.6 107.7,634.2 109.7,633.8 111.7,633.4 113.7,633.0 115.7,632.7 117.7,632.3 119.7,632.0 121.7,631.6 123.7,631.3 125.7,630.9 127.7,630.6 129.7,630.3 131.7,630.0 133.7,629.7 135.7,629.4 137.7,629.1 139.7,628.8 141.7,628.5 143.7,628.2 145.7,628.0 147.7,627.7 149.7,627.5 151.7,627.2 153.7,627.0 155.7,626.8 157.7,626.6 159.7,626.3 161.7,626.1 163.7,625.9 165.7,625.8 167.7,625.6 169.7,625.4 171.7,625.2 173.7,625.1 175.7,624.9 177.7,624.8 179.7,624.6 181.7,624.5 183.7,624.4 185.7,624.2 187.7,624.1 189.7,624.0 191.7,623.9 193.7,623.8 195.7,623.7 197.7,623.7 199.7,623.6 201.7,623.5 203.7,623.5 205.7,623.4 207.7,623.4 209.7,623.4 211.7,623.3 213.7,623.3 215.7,623.3 217.7,623.3 219.7,623.3 221.7,623.3 223.7,623.3 225.7,623.4 227.7,623.4 229.7,623.4 231.7,623.5 233.7,623.5 235.7,623.6 237.7,623.6 239.7,623.7 241.7,623.8 243.7,623.9 245.7,624.0 247.7,624.1 249.7,624.2 251.7,624.3 253.7,624.4 255.7,624.6 257.7,624.7 259.7,624.9 261.7,625.0 263.7,625.2 265.7,625.3 267.7,625.5 269.7,625.7 271.7,625.9 273.7,626.1 275.7,626.3 277.7,626.5 279.7,626.7 281.7,626.9 283.7,627.2 285.7,627.4 287.7,627.7 289.7,627.9 291.7,628.2 293.7,628.4 295.7,628.7 297.7,629.0 299.7,629.3 301.7,629.6 303.7,629.9 305.7,630.2 307.7,630.5 309.7,630.8 311.7,631.2 313.7,631.5 315.7,631.9 317.7,632.2 319.7,632.6 321.7,632.9 323.7,633.3 325.7,633.7 327.7,634.1 329.7,634.5 331.7,634.9 333.7,635.3 335.7,635.7 337.7,636.1 339.7,636.6 341.7,637.0 343.7,637.5 345.7,637.9 347.7,638.4 349.7,638.8 351.7,639.3 353.7,639.8 355.7,640.3 357.7,640.8 359.7,641.3 361.7,641.8 363.7,642.3 365.7,642.8 367.7,643.4 369.7,643.9" fill="none" stroke="#f0907a" stroke-width="1.3" stroke-dasharray="4.2 3.2"/>
<polyline points="65.7,741.2 67.7,739.5 69.7,737.8 71.7,736.1 73.7,734.5 75.7,732.9 77.7,731.3 79.7,729.7 81.7,728.2 83.7,726.7 85.7,725.2 87.7,723.7 89.7,722.3 91.7,720.8 93.7,719.4 95.7,718.0 97.7,716.7 99.7,715.3 101.7,714.0 103.7,712.7 105.7,711.4 107.7,710.2 109.7,709.0 111.7,707.8 113.7,706.6 115.7,705.4 117.7,704.3 119.7,703.2 121.7,702.1 123.7,701.0 125.7,699.9 127.7,698.9 129.7,697.9 131.7,696.9 133.7,696.0 135.7,695.0 137.7,694.1 139.7,693.2 141.7,692.4 143.7,691.5 145.7,690.7 147.7,689.9 149.7,689.1 151.7,688.4 153.7,687.6 155.7,686.9 157.7,686.2 159.7,685.6 161.7,684.9 163.7,684.3 165.7,683.7 167.7,683.1 169.7,682.6 171.7,682.0 173.7,681.5 175.7,681.0 177.7,680.6 179.7,680.1 181.7,679.7 183.7,679.3 185.7,678.9 187.7,678.6 189.7,678.3 191.7,677.9 193.7,677.7 195.7,677.4 197.7,677.2 199.7,676.9 201.7,676.7 203.7,676.6 205.7,676.4 207.7,676.3 209.7,676.2 211.7,676.1 213.7,676.1 215.7,676.0 217.7,676.0 219.7,676.0 221.7,676.0 223.7,676.1 225.7,676.2 227.7,676.3 229.7,676.4 231.7,676.5 233.7,676.7 235.7,676.9 237.7,677.1 239.7,677.3 241.7,677.6 243.7,677.9 245.7,678.2 247.7,678.5 249.7,678.8 251.7,679.2 253.7,679.6 255.7,680.0 257.7,680.4 259.7,680.9 261.7,681.4 263.7,681.9 265.7,682.4 267.7,682.9 269.7,683.5 271.7,684.1 273.7,684.7 275.7,685.4 277.7,686.0 279.7,686.7 281.7,687.4 283.7,688.1 285.7,688.9 287.7,689.7 289.7,690.4 291.7,691.3 293.7,692.1 295.7,693.0 297.7,693.8 299.7,694.8 301.7,695.7 303.7,696.6 305.7,697.6 307.7,698.6 309.7,699.6 311.7,700.7 313.7,701.7 315.7,702.8 317.7,703.9 319.7,705.1 321.7,706.2 323.7,707.4 325.7,708.6 327.7,709.8 329.7,711.1 331.7,712.3 333.7,713.6 335.7,714.9 337.7,716.3 339.7,717.6 341.7,719.0 343.7,720.4 345.7,721.8 347.7,723.3 349.7,724.7 351.7,726.2 353.7,727.7 355.7,729.3 357.7,730.8 359.7,732.4 361.7,734.0 363.7,735.7 365.7,737.3 367.7,739.0 369.7,740.7" fill="none" stroke="#f0907a" stroke-width="1.3" stroke-dasharray="4.2 3.2"/>
<polyline points="65.7,864.4 67.7,860.9 69.7,857.5 71.7,854.1 73.7,850.8 75.7,847.5 77.7,844.3 79.7,841.1 81.7,838.0 83.7,834.8 85.7,831.8 87.7,828.8 89.7,825.8 91.7,822.9 93.7,820.0 95.7,817.2 97.7,814.4 99.7,811.7 101.7,809.0 103.7,806.4 105.7,803.8 107.7,801.2 109.7,798.7 111.7,796.2 113.7,793.8 115.7,791.5 117.7,789.1 119.7,786.9 121.7,784.6 123.7,782.5 125.7,780.3 127.7,778.2 129.7,776.2 131.7,774.2 133.7,772.2 135.7,770.3 137.7,768.4 139.7,766.6 141.7,764.9 143.7,763.1 145.7,761.5 147.7,759.8 149.7,758.2 151.7,756.7 153.7,755.2 155.7,753.7 157.7,752.3 159.7,751.0 161.7,749.7 163.7,748.4 165.7,747.2 167.7,746.0 169.7,744.9 171.7,743.8 173.7,742.7 175.7,741.8 177.7,740.8 179.7,739.9 181.7,739.1 183.7,738.2 185.7,737.5 187.7,736.8 189.7,736.1 191.7,735.5 193.7,734.9 195.7,734.3 197.7,733.9 199.7,733.4 201.7,733.0 203.7,732.7 205.7,732.4 207.7,732.1 209.7,731.9 211.7,731.7 213.7,731.6 215.7,731.5 217.7,731.5 219.7,731.5 221.7,731.6 223.7,731.7 225.7,731.8 227.7,732.0 229.7,732.3 231.7,732.6 233.7,732.9 235.7,733.3 237.7,733.7 239.7,734.2 241.7,734.7 243.7,735.3 245.7,735.9 247.7,736.6 249.7,737.3 251.7,738.0 253.7,738.8 255.7,739.6 257.7,740.5 259.7,741.5 261.7,742.4 263.7,743.5 265.7,744.5 267.7,745.7 269.7,746.8 271.7,748.0 273.7,749.3 275.7,750.6 277.7,751.9 279.7,753.3 281.7,754.8 283.7,756.2 285.7,757.8 287.7,759.3 289.7,761.0 291.7,762.6 293.7,764.3 295.7,766.1 297.7,767.9 299.7,769.7 301.7,771.6 303.7,773.6 305.7,775.6 307.7,777.6 309.7,779.7 311.7,781.8 313.7,784.0 315.7,786.2 317.7,788.5 319.7,790.8 321.7,793.1 323.7,795.5 325.7,798.0 327.7,800.5 329.7,803.0 331.7,805.6 333.7,808.2 335.7,810.9 337.7,813.6 339.7,816.4 341.7,819.2 343.7,822.0 345.7,824.9 347.7,827.9 349.7,830.9 351.7,833.9 353.7,837.0 355.7,840.1 357.7,843.3 359.7,846.6 361.7,849.8 363.7,853.1 365.7,856.5 367.7,859.9 369.7,863.4" fill="none" stroke="#f0907a" stroke-width="1.3" stroke-dasharray="4.2 3.2"/>
<polyline points="97.7,1006.2 99.7,998.4 101.7,990.7 103.7,983.1 105.7,975.7 107.7,968.4 109.7,961.2 111.7,954.2 113.7,947.3 115.7,940.5 117.7,933.9 119.7,927.4 121.7,921.0 123.7,914.7 125.7,908.6 127.7,902.6 129.7,896.8 131.7,891.1 133.7,885.5 135.7,880.0 137.7,874.7 139.7,869.5 141.7,864.4 143.7,859.5 145.7,854.7 147.7,850.0 149.7,845.5 151.7,841.0 153.7,836.8 155.7,832.6 157.7,828.6 159.7,824.7 161.7,821.0 163.7,817.3 165.7,813.8 167.7,810.5 169.7,807.2 171.7,804.1 173.7,801.2 175.7,798.3 177.7,795.6 179.7,793.0 181.7,790.6 183.7,788.3 185.7,786.1 187.7,784.0 189.7,782.1 191.7,780.3 193.7,778.7 195.7,777.2 197.7,775.8 199.7,774.5 201.7,773.4 203.7,772.4 205.7,771.5 207.7,770.7 209.7,770.1 211.7,769.7 213.7,769.3 215.7,769.1 217.7,769.0 219.7,769.0 221.7,769.2 223.7,769.5 225.7,770.0 227.7,770.5 229.7,771.2 231.7,772.1 233.7,773.0 235.7,774.1 237.7,775.4 239.7,776.7 241.7,778.2 243.7,779.8 245.7,781.6 247.7,783.5 249.7,785.5 251.7,787.6 253.7,789.9 255.7,792.3 257.7,794.8 259.7,797.5 261.7,800.3 263.7,803.2 265.7,806.3 267.7,809.5 269.7,812.8 271.7,816.3 273.7,819.8 275.7,823.6 277.7,827.4 279.7,831.4 281.7,835.5 283.7,839.7 285.7,844.1 287.7,848.6 289.7,853.3 291.7,858.0 293.7,862.9 295.7,868.0 297.7,873.1 299.7,878.4 301.7,883.8 303.7,889.4 305.7,895.1 307.7,900.9 309.7,906.8 311.7,912.9 313.7,919.1 315.7,925.4 317.7,931.9 319.7,938.5 321.7,945.3 323.7,952.1 325.7,959.1 327.7,966.2 329.7,973.5 331.7,980.9 333.7,988.4 335.7,996.1 337.7,1003.8" fill="none" stroke="#f0907a" stroke-width="1.3" stroke-dasharray="4.2 3.2"/>
<polyline points="129.7,999.5 131.7,990.7 133.7,982.2 135.7,973.8 137.7,965.7 139.7,957.7 141.7,949.9 143.7,942.4 145.7,935.0 147.7,927.9 149.7,920.9 151.7,914.2 153.7,907.7 155.7,901.3 157.7,895.2 159.7,889.2 161.7,883.5 163.7,877.9 165.7,872.6 167.7,867.4 169.7,862.5 171.7,857.7 173.7,853.2 175.7,848.9 177.7,844.7 179.7,840.8 181.7,837.0 183.7,833.5 185.7,830.2 187.7,827.0 189.7,824.1 191.7,821.3 193.7,818.8 195.7,816.5 197.7,814.3 199.7,812.4 201.7,810.7 203.7,809.1 205.7,807.8 207.7,806.7 209.7,805.7 211.7,805.0 213.7,804.5 215.7,804.1 217.7,804.0 219.7,804.1 221.7,804.3 223.7,804.8 225.7,805.5 227.7,806.4 229.7,807.4 231.7,808.7 233.7,810.2 235.7,811.9 237.7,813.7 239.7,815.8 241.7,818.1 243.7,820.6 245.7,823.2 247.7,826.1 249.7,829.2 251.7,832.5 253.7,836.0 255.7,839.6 257.7,843.5 259.7,847.6 261.7,851.9 263.7,856.4 265.7,861.0 267.7,865.9 269.7,871.0 271.7,876.3 273.7,881.8 275.7,887.5 277.7,893.4 279.7,899.4 281.7,905.7 283.7,912.2 285.7,918.9 287.7,925.8 289.7,932.9 291.7,940.2 293.7,947.7 295.7,955.4 297.7,963.2 299.7,971.3 301.7,979.6 303.7,988.1 305.7,996.8 307.7,1005.7" fill="none" stroke="#f0907a" stroke-width="1.3" stroke-dasharray="4.2 3.2"/>
<polyline points="151.7,1006.3 153.7,997.1 155.7,988.2 157.7,979.6 159.7,971.3 161.7,963.3 163.7,955.5 165.7,948.0 167.7,940.8 169.7,933.9 171.7,927.2 173.7,920.9 175.7,914.8 177.7,909.0 179.7,903.5 181.7,898.3 183.7,893.3 185.7,888.6 187.7,884.2 189.7,880.1 191.7,876.3 193.7,872.7 195.7,869.5 197.7,866.5 199.7,863.8 201.7,861.3 203.7,859.2 205.7,857.3 207.7,855.7 209.7,854.4 211.7,853.4 213.7,852.6 215.7,852.2 217.7,852.0 219.7,852.1 221.7,852.5 223.7,853.1 225.7,854.1 227.7,855.3 229.7,856.8 231.7,858.6 233.7,860.7 235.7,863.0 237.7,865.6 239.7,868.5 241.7,871.7 243.7,875.2 245.7,878.9 247.7,883.0 249.7,887.3 251.7,891.9 253.7,896.7 255.7,901.9 257.7,907.3 259.7,913.0 261.7,919.0 263.7,925.3 265.7,931.9 267.7,938.7 269.7,945.8 271.7,953.2 273.7,960.9 275.7,968.9 277.7,977.1 279.7,985.6 281.7,994.4 283.7,1003.5" fill="none" stroke="#f0907a" stroke-width="1.3" stroke-dasharray="4.2 3.2"/>
</g>
<text transform="translate(366.00 447.10)" text-anchor="end" fill="#9ccb46" font-size="16">850 mK</text>
<text transform="translate(366.00 505.70)" text-anchor="end" fill="#79b95e" font-size="16">690 mK</text>
<text transform="translate(366.00 567.70)" text-anchor="end" fill="#3dad6b" font-size="16">550 mK</text>
<text transform="translate(366.00 628.70)" text-anchor="end" fill="#139e7c" font-size="16">410 mK</text>
<text transform="translate(366.00 693.10)" text-anchor="end" fill="#18768f" font-size="16">280 mK</text>
<text transform="translate(366.00 756.40)" text-anchor="end" fill="#2b6892" font-size="16">220 mK</text>
<text transform="translate(366.00 818.40)" text-anchor="end" fill="#3e559a" font-size="16">140 mK</text>
<text transform="translate(366.00 888.40)" text-anchor="end" fill="#4b3a8c" font-size="16">60 mK</text>
<text transform="translate(366.00 953.40)" text-anchor="end" fill="#40195a" font-size="16">30 mK</text>
<rect x="65.7" y="412.7" width="303.6" height="590.3" fill="none" stroke="#8a8a8a" stroke-width="1.4"/>
<line x1="65.70" y1="981.50" x2="75.20" y2="981.50" stroke="#6b6b6b" stroke-width="1.1"/>
<text transform="translate(58.20 986.80) scale(0.885 1)" text-anchor="end" font-size="16.6">0.2</text>
<line x1="65.70" y1="897.20" x2="75.20" y2="897.20" stroke="#6b6b6b" stroke-width="1.1"/>
<text transform="translate(58.20 902.50) scale(0.885 1)" text-anchor="end" font-size="16.6">0.4</text>
<line x1="65.70" y1="812.90" x2="75.20" y2="812.90" stroke="#6b6b6b" stroke-width="1.1"/>
<text transform="translate(58.20 818.20) scale(0.885 1)" text-anchor="end" font-size="16.6">0.6</text>
<line x1="65.70" y1="728.60" x2="75.20" y2="728.60" stroke="#6b6b6b" stroke-width="1.1"/>
<text transform="translate(58.20 733.90) scale(0.885 1)" text-anchor="end" font-size="16.6">0.8</text>
<line x1="65.70" y1="644.30" x2="75.20" y2="644.30" stroke="#6b6b6b" stroke-width="1.1"/>
<text transform="translate(58.20 649.60) scale(0.885 1)" text-anchor="end" font-size="16.6">1.0</text>
<line x1="65.70" y1="560.00" x2="75.20" y2="560.00" stroke="#6b6b6b" stroke-width="1.1"/>
<text transform="translate(58.20 565.30) scale(0.885 1)" text-anchor="end" font-size="16.6">1.2</text>
<line x1="65.70" y1="475.70" x2="75.20" y2="475.70" stroke="#6b6b6b" stroke-width="1.1"/>
<text transform="translate(58.20 481.00) scale(0.885 1)" text-anchor="end" font-size="16.6">1.4</text>
<line x1="91.00" y1="1003.00" x2="91.00" y2="994.00" stroke="#6b6b6b" stroke-width="1.1"/>
<text transform="translate(91.00 1024.40) scale(0.885 1)" text-anchor="middle" font-size="16.6">−0.10</text>
<line x1="154.20" y1="1003.00" x2="154.20" y2="994.00" stroke="#6b6b6b" stroke-width="1.1"/>
<text transform="translate(154.20 1024.40) scale(0.885 1)" text-anchor="middle" font-size="16.6">−0.05</text>
<line x1="217.40" y1="1003.00" x2="217.40" y2="994.00" stroke="#6b6b6b" stroke-width="1.1"/>
<text transform="translate(217.40 1024.40) scale(0.885 1)" text-anchor="middle" font-size="16.6">0</text>
<line x1="280.60" y1="1003.00" x2="280.60" y2="994.00" stroke="#6b6b6b" stroke-width="1.1"/>
<text transform="translate(280.60 1024.40) scale(0.885 1)" text-anchor="middle" font-size="16.6">0.05</text>
<line x1="343.80" y1="1003.00" x2="343.80" y2="994.00" stroke="#6b6b6b" stroke-width="1.1"/>
<text transform="translate(343.80 1024.40) scale(0.885 1)" text-anchor="middle" font-size="16.6">0.10</text>
<text transform="translate(217.40 1049.70) scale(0.885 1)" text-anchor="middle" font-size="16.6"><tspan font-style="italic">I</tspan> (µA)</text>
<text transform="translate(24.00 708.00) rotate(-90) scale(0.885 1)" text-anchor="middle" font-size="16.6"><tspan font-style="italic">ρ</tspan><tspan font-size="12" dy="3.5">s</tspan><tspan dy="-3.5"> (K)</tspan></text>
<text transform="translate(0.00 420.50)" font-weight="bold" font-size="19.5">c</text>
<g clip-path="url(#clipd)">
<path d="M618.9 436.5V447.1M625.5 437.7V448.5M632.1 438.3V450.8" stroke="#7fcbb8" stroke-width="2.2" stroke-opacity="0.7" fill="none"/>
<g fill="#16a07e" fill-opacity="0.9" stroke="#13886b" stroke-opacity="0.7" stroke-width="0.8"><circle cx="475.9" cy="488.4" r="3.7"/><circle cx="478.1" cy="486.7" r="3.7"/><circle cx="480.3" cy="484.7" r="3.7"/><circle cx="482.5" cy="481.7" r="3.7"/><circle cx="484.7" cy="487.6" r="3.7"/><circle cx="486.9" cy="482.4" r="3.7"/><circle cx="489.1" cy="482.2" r="3.7"/><circle cx="491.3" cy="479.8" r="3.7"/><circle cx="493.5" cy="476.2" r="3.7"/><circle cx="495.7" cy="475.9" r="3.7"/><circle cx="497.9" cy="479.7" r="3.7"/><circle cx="500.1" cy="479.3" r="3.7"/><circle cx="502.3" cy="477.3" r="3.7"/><circle cx="504.5" cy="474.6" r="3.7"/><circle cx="506.7" cy="473.5" r="3.7"/><circle cx="508.9" cy="476.0" r="3.7"/><circle cx="511.1" cy="472.8" r="3.7"/><circle cx="513.3" cy="478.4" r="3.7"/><circle cx="515.5" cy="478.8" r="3.7"/><circle cx="517.7" cy="481.1" r="3.7"/><circle cx="519.9" cy="477.5" r="3.7"/><circle cx="522.1" cy="473.5" r="3.7"/><circle cx="524.3" cy="472.5" r="3.7"/><circle cx="526.5" cy="468.9" r="3.7"/><circle cx="528.7" cy="472.6" r="3.7"/><circle cx="530.9" cy="473.2" r="3.7"/><circle cx="533.1" cy="475.7" r="3.7"/><circle cx="535.3" cy="474.4" r="3.7"/><circle cx="537.5" cy="473.9" r="3.7"/><circle cx="539.7" cy="472.5" r="3.7"/><circle cx="541.9" cy="473.1" r="3.7"/><circle cx="544.1" cy="474.6" r="3.7"/><circle cx="546.3" cy="467.8" r="3.7"/><circle cx="548.5" cy="468.8" r="3.7"/><circle cx="550.7" cy="465.9" r="3.7"/><circle cx="552.9" cy="473.0" r="3.7"/><circle cx="555.1" cy="471.6" r="3.7"/><circle cx="557.3" cy="469.6" r="3.7"/><circle cx="559.5" cy="464.0" r="3.7"/><circle cx="561.7" cy="467.0" r="3.7"/><circle cx="563.9" cy="465.3" r="3.7"/><circle cx="566.1" cy="465.5" r="3.7"/><circle cx="568.3" cy="464.1" r="3.7"/><circle cx="570.5" cy="465.4" r="3.7"/><circle cx="572.7" cy="462.2" r="3.7"/><circle cx="574.9" cy="465.1" r="3.7"/><circle cx="577.1" cy="462.6" r="3.7"/><circle cx="579.3" cy="460.4" r="3.7"/><circle cx="581.5" cy="460.2" r="3.7"/><circle cx="583.7" cy="458.4" r="3.7"/><circle cx="585.9" cy="461.5" r="3.7"/><circle cx="588.1" cy="457.3" r="3.7"/><circle cx="590.3" cy="458.3" r="3.7"/><circle cx="592.5" cy="455.2" r="3.7"/><circle cx="594.7" cy="450.4" r="3.7"/><circle cx="596.9" cy="457.9" r="3.7"/><circle cx="599.1" cy="449.8" r="3.7"/><circle cx="601.3" cy="455.2" r="3.7"/><circle cx="603.5" cy="453.0" r="3.7"/><circle cx="605.7" cy="443.3" r="3.7"/><circle cx="607.9" cy="444.4" r="3.7"/><circle cx="610.1" cy="444.6" r="3.7"/><circle cx="612.3" cy="441.9" r="3.7"/><circle cx="614.5" cy="439.1" r="3.7"/><circle cx="616.7" cy="446.6" r="3.7"/><circle cx="618.9" cy="441.8" r="3.7"/><circle cx="621.1" cy="444.1" r="3.7"/><circle cx="623.3" cy="440.1" r="3.7"/><circle cx="625.5" cy="443.1" r="3.7"/><circle cx="627.7" cy="438.3" r="3.7"/><circle cx="629.9" cy="441.7" r="3.7"/><circle cx="632.1" cy="444.6" r="3.7"/><circle cx="634.3" cy="442.4" r="3.7"/><circle cx="636.5" cy="440.6" r="3.7"/><circle cx="638.7" cy="438.3" r="3.7"/><circle cx="640.9" cy="444.3" r="3.7"/><circle cx="643.1" cy="446.7" r="3.7"/><circle cx="645.3" cy="446.5" r="3.7"/><circle cx="647.5" cy="446.7" r="3.7"/><circle cx="649.7" cy="453.7" r="3.7"/><circle cx="651.9" cy="461.1" r="3.7"/><circle cx="654.1" cy="452.2" r="3.7"/><circle cx="656.3" cy="455.3" r="3.7"/><circle cx="658.5" cy="456.0" r="3.7"/><circle cx="660.7" cy="447.5" r="3.7"/><circle cx="662.9" cy="456.2" r="3.7"/><circle cx="665.1" cy="453.9" r="3.7"/><circle cx="667.3" cy="461.3" r="3.7"/><circle cx="669.5" cy="456.5" r="3.7"/><circle cx="671.7" cy="455.4" r="3.7"/><circle cx="673.9" cy="457.6" r="3.7"/><circle cx="676.1" cy="459.2" r="3.7"/><circle cx="678.3" cy="457.5" r="3.7"/><circle cx="680.5" cy="459.4" r="3.7"/><circle cx="682.7" cy="456.2" r="3.7"/><circle cx="684.9" cy="459.8" r="3.7"/><circle cx="687.1" cy="463.0" r="3.7"/><circle cx="689.3" cy="466.5" r="3.7"/><circle cx="691.5" cy="463.5" r="3.7"/><circle cx="693.7" cy="462.8" r="3.7"/><circle cx="695.9" cy="465.6" r="3.7"/><circle cx="698.1" cy="465.6" r="3.7"/><circle cx="700.3" cy="467.6" r="3.7"/><circle cx="702.5" cy="466.6" r="3.7"/><circle cx="704.7" cy="463.9" r="3.7"/><circle cx="706.9" cy="465.3" r="3.7"/><circle cx="709.1" cy="465.5" r="3.7"/><circle cx="711.3" cy="466.2" r="3.7"/><circle cx="713.5" cy="466.4" r="3.7"/><circle cx="715.7" cy="464.3" r="3.7"/><circle cx="717.9" cy="461.5" r="3.7"/><circle cx="720.1" cy="465.5" r="3.7"/><circle cx="722.3" cy="462.5" r="3.7"/><circle cx="724.5" cy="468.2" r="3.7"/><circle cx="726.7" cy="468.6" r="3.7"/><circle cx="728.9" cy="464.8" r="3.7"/><circle cx="731.1" cy="471.3" r="3.7"/><circle cx="733.3" cy="472.2" r="3.7"/><circle cx="735.5" cy="470.9" r="3.7"/><circle cx="737.7" cy="475.4" r="3.7"/><circle cx="739.9" cy="476.5" r="3.7"/><circle cx="742.1" cy="469.4" r="3.7"/><circle cx="744.3" cy="475.6" r="3.7"/><circle cx="746.5" cy="474.8" r="3.7"/><circle cx="748.7" cy="475.4" r="3.7"/><circle cx="750.9" cy="477.4" r="3.7"/><circle cx="753.1" cy="474.0" r="3.7"/><circle cx="755.3" cy="475.1" r="3.7"/><circle cx="757.5" cy="475.3" r="3.7"/><circle cx="759.7" cy="476.3" r="3.7"/><circle cx="761.9" cy="478.8" r="3.7"/><circle cx="764.1" cy="476.3" r="3.7"/><circle cx="766.3" cy="478.3" r="3.7"/><circle cx="768.5" cy="483.4" r="3.7"/><circle cx="770.7" cy="482.8" r="3.7"/><circle cx="772.9" cy="485.0" r="3.7"/><circle cx="775.1" cy="480.5" r="3.7"/><circle cx="777.3" cy="484.4" r="3.7"/><circle cx="779.5" cy="485.3" r="3.7"/></g>
<path d="M594.7 497.4V511.3M596.9 489.2V501.1M599.1 483.5V507.0M601.3 492.7V508.5M603.5 488.6V501.4M607.9 501.5V511.5M612.3 490.8V502.5M616.7 479.0V494.3M621.1 479.8V491.8M623.3 462.7V500.5M625.5 476.9V491.3M627.7 479.6V494.3M629.9 473.6V490.3M634.3 468.2V492.7M636.5 486.1V499.0M638.7 484.3V497.1M640.9 490.2V504.4M645.3 484.6V497.0M647.5 489.3V506.7M649.7 480.6V495.7M656.3 494.7V507.4M660.7 501.8V512.6M667.3 506.2V519.8" stroke="#8dcfb5" stroke-width="2.2" stroke-opacity="0.7" fill="none"/>
<g fill="#30a878" fill-opacity="0.9" stroke="#298f66" stroke-opacity="0.7" stroke-width="0.8"><circle cx="475.9" cy="543.1" r="3.7"/><circle cx="478.1" cy="545.2" r="3.7"/><circle cx="480.3" cy="543.3" r="3.7"/><circle cx="482.5" cy="539.7" r="3.7"/><circle cx="484.7" cy="541.9" r="3.7"/><circle cx="486.9" cy="540.3" r="3.7"/><circle cx="489.1" cy="538.1" r="3.7"/><circle cx="491.3" cy="539.2" r="3.7"/><circle cx="493.5" cy="533.7" r="3.7"/><circle cx="495.7" cy="536.3" r="3.7"/><circle cx="497.9" cy="536.7" r="3.7"/><circle cx="500.1" cy="535.7" r="3.7"/><circle cx="502.3" cy="537.1" r="3.7"/><circle cx="504.5" cy="530.8" r="3.7"/><circle cx="506.7" cy="529.5" r="3.7"/><circle cx="508.9" cy="533.5" r="3.7"/><circle cx="511.1" cy="533.6" r="3.7"/><circle cx="513.3" cy="537.3" r="3.7"/><circle cx="515.5" cy="533.2" r="3.7"/><circle cx="517.7" cy="529.1" r="3.7"/><circle cx="519.9" cy="532.9" r="3.7"/><circle cx="522.1" cy="528.4" r="3.7"/><circle cx="524.3" cy="526.4" r="3.7"/><circle cx="526.5" cy="535.2" r="3.7"/><circle cx="528.7" cy="530.1" r="3.7"/><circle cx="530.9" cy="530.6" r="3.7"/><circle cx="533.1" cy="529.7" r="3.7"/><circle cx="535.3" cy="532.3" r="3.7"/><circle cx="537.5" cy="527.9" r="3.7"/><circle cx="539.7" cy="529.8" r="3.7"/><circle cx="541.9" cy="523.5" r="3.7"/><circle cx="544.1" cy="522.0" r="3.7"/><circle cx="546.3" cy="528.6" r="3.7"/><circle cx="548.5" cy="528.2" r="3.7"/><circle cx="550.7" cy="525.1" r="3.7"/><circle cx="552.9" cy="523.7" r="3.7"/><circle cx="555.1" cy="522.9" r="3.7"/><circle cx="557.3" cy="519.9" r="3.7"/><circle cx="559.5" cy="525.2" r="3.7"/><circle cx="561.7" cy="522.1" r="3.7"/><circle cx="563.9" cy="520.9" r="3.7"/><circle cx="566.1" cy="519.7" r="3.7"/><circle cx="568.3" cy="520.8" r="3.7"/><circle cx="570.5" cy="518.2" r="3.7"/><circle cx="572.7" cy="517.9" r="3.7"/><circle cx="574.9" cy="510.7" r="3.7"/><circle cx="577.1" cy="514.7" r="3.7"/><circle cx="579.3" cy="519.1" r="3.7"/><circle cx="581.5" cy="508.5" r="3.7"/><circle cx="583.7" cy="508.4" r="3.7"/><circle cx="585.9" cy="510.9" r="3.7"/><circle cx="588.1" cy="509.9" r="3.7"/><circle cx="590.3" cy="507.4" r="3.7"/><circle cx="592.5" cy="496.5" r="3.7"/><circle cx="594.7" cy="504.3" r="3.7"/><circle cx="596.9" cy="495.2" r="3.7"/><circle cx="599.1" cy="495.2" r="3.7"/><circle cx="601.3" cy="500.6" r="3.7"/><circle cx="603.5" cy="495.0" r="3.7"/><circle cx="605.7" cy="499.7" r="3.7"/><circle cx="607.9" cy="506.5" r="3.7"/><circle cx="610.1" cy="497.7" r="3.7"/><circle cx="612.3" cy="496.7" r="3.7"/><circle cx="614.5" cy="486.1" r="3.7"/><circle cx="616.7" cy="486.6" r="3.7"/><circle cx="618.9" cy="483.1" r="3.7"/><circle cx="621.1" cy="485.8" r="3.7"/><circle cx="623.3" cy="481.6" r="3.7"/><circle cx="625.5" cy="484.1" r="3.7"/><circle cx="627.7" cy="487.0" r="3.7"/><circle cx="629.9" cy="482.0" r="3.7"/><circle cx="632.1" cy="479.6" r="3.7"/><circle cx="634.3" cy="480.5" r="3.7"/><circle cx="636.5" cy="492.6" r="3.7"/><circle cx="638.7" cy="490.7" r="3.7"/><circle cx="640.9" cy="497.3" r="3.7"/><circle cx="643.1" cy="498.0" r="3.7"/><circle cx="645.3" cy="490.8" r="3.7"/><circle cx="647.5" cy="498.0" r="3.7"/><circle cx="649.7" cy="488.1" r="3.7"/><circle cx="651.9" cy="509.6" r="3.7"/><circle cx="654.1" cy="506.2" r="3.7"/><circle cx="656.3" cy="501.0" r="3.7"/><circle cx="658.5" cy="498.4" r="3.7"/><circle cx="660.7" cy="507.2" r="3.7"/><circle cx="662.9" cy="498.9" r="3.7"/><circle cx="665.1" cy="505.2" r="3.7"/><circle cx="667.3" cy="513.0" r="3.7"/><circle cx="669.5" cy="511.7" r="3.7"/><circle cx="671.7" cy="511.1" r="3.7"/><circle cx="673.9" cy="517.6" r="3.7"/><circle cx="676.1" cy="511.9" r="3.7"/><circle cx="678.3" cy="517.4" r="3.7"/><circle cx="680.5" cy="515.9" r="3.7"/><circle cx="682.7" cy="515.6" r="3.7"/><circle cx="684.9" cy="520.2" r="3.7"/><circle cx="687.1" cy="516.4" r="3.7"/><circle cx="689.3" cy="525.2" r="3.7"/><circle cx="691.5" cy="518.6" r="3.7"/><circle cx="693.7" cy="526.1" r="3.7"/><circle cx="695.9" cy="518.0" r="3.7"/><circle cx="698.1" cy="523.0" r="3.7"/><circle cx="700.3" cy="518.6" r="3.7"/><circle cx="702.5" cy="518.7" r="3.7"/><circle cx="704.7" cy="523.0" r="3.7"/><circle cx="706.9" cy="524.8" r="3.7"/><circle cx="709.1" cy="520.2" r="3.7"/><circle cx="711.3" cy="526.9" r="3.7"/><circle cx="713.5" cy="522.2" r="3.7"/><circle cx="715.7" cy="525.0" r="3.7"/><circle cx="717.9" cy="526.0" r="3.7"/><circle cx="720.1" cy="527.0" r="3.7"/><circle cx="722.3" cy="521.4" r="3.7"/><circle cx="724.5" cy="530.5" r="3.7"/><circle cx="726.7" cy="528.3" r="3.7"/><circle cx="728.9" cy="526.3" r="3.7"/><circle cx="731.1" cy="525.3" r="3.7"/><circle cx="733.3" cy="524.1" r="3.7"/><circle cx="735.5" cy="525.5" r="3.7"/><circle cx="737.7" cy="530.8" r="3.7"/><circle cx="739.9" cy="529.2" r="3.7"/><circle cx="742.1" cy="527.8" r="3.7"/><circle cx="744.3" cy="530.0" r="3.7"/><circle cx="746.5" cy="535.9" r="3.7"/><circle cx="748.7" cy="531.8" r="3.7"/><circle cx="750.9" cy="531.9" r="3.7"/><circle cx="753.1" cy="537.5" r="3.7"/><circle cx="755.3" cy="536.0" r="3.7"/><circle cx="757.5" cy="535.8" r="3.7"/><circle cx="759.7" cy="535.1" r="3.7"/><circle cx="761.9" cy="533.6" r="3.7"/><circle cx="764.1" cy="535.6" r="3.7"/><circle cx="766.3" cy="538.5" r="3.7"/><circle cx="768.5" cy="540.3" r="3.7"/><circle cx="770.7" cy="543.0" r="3.7"/><circle cx="772.9" cy="544.8" r="3.7"/><circle cx="775.1" cy="545.4" r="3.7"/><circle cx="777.3" cy="546.8" r="3.7"/><circle cx="779.5" cy="544.2" r="3.7"/></g>
<path d="M590.3 558.8V572.2M594.7 545.1V566.7M596.9 561.6V571.6M603.5 542.6V568.2M610.1 546.0V567.5M612.3 538.5V555.7M614.5 544.0V567.0M618.9 551.4V563.1M621.1 541.6V573.2M627.7 552.4V564.0M632.1 548.0V564.6M634.3 547.6V561.9M636.5 556.4V567.8M638.7 558.3V568.5M640.9 543.3V557.4M643.1 556.8V571.5M647.5 557.1V573.0M649.7 555.7V571.2M651.9 548.9V563.4M669.5 557.9V570.0" stroke="#aed9b6" stroke-width="2.2" stroke-opacity="0.7" fill="none"/>
<g fill="#6cba7b" fill-opacity="0.9" stroke="#5c9e69" stroke-opacity="0.7" stroke-width="0.8"><circle cx="475.9" cy="596.5" r="3.7"/><circle cx="478.1" cy="599.7" r="3.7"/><circle cx="480.3" cy="593.7" r="3.7"/><circle cx="482.5" cy="603.1" r="3.7"/><circle cx="484.7" cy="591.8" r="3.7"/><circle cx="486.9" cy="600.6" r="3.7"/><circle cx="489.1" cy="600.6" r="3.7"/><circle cx="491.3" cy="598.7" r="3.7"/><circle cx="493.5" cy="595.5" r="3.7"/><circle cx="495.7" cy="596.6" r="3.7"/><circle cx="497.9" cy="593.1" r="3.7"/><circle cx="500.1" cy="597.0" r="3.7"/><circle cx="502.3" cy="591.8" r="3.7"/><circle cx="504.5" cy="593.5" r="3.7"/><circle cx="506.7" cy="596.2" r="3.7"/><circle cx="508.9" cy="590.4" r="3.7"/><circle cx="511.1" cy="591.7" r="3.7"/><circle cx="513.3" cy="592.5" r="3.7"/><circle cx="515.5" cy="588.2" r="3.7"/><circle cx="517.7" cy="593.9" r="3.7"/><circle cx="519.9" cy="591.2" r="3.7"/><circle cx="522.1" cy="585.9" r="3.7"/><circle cx="524.3" cy="589.0" r="3.7"/><circle cx="526.5" cy="586.6" r="3.7"/><circle cx="528.7" cy="586.2" r="3.7"/><circle cx="530.9" cy="587.5" r="3.7"/><circle cx="533.1" cy="584.9" r="3.7"/><circle cx="535.3" cy="588.5" r="3.7"/><circle cx="537.5" cy="583.7" r="3.7"/><circle cx="539.7" cy="587.4" r="3.7"/><circle cx="541.9" cy="584.2" r="3.7"/><circle cx="544.1" cy="585.9" r="3.7"/><circle cx="546.3" cy="581.7" r="3.7"/><circle cx="548.5" cy="581.2" r="3.7"/><circle cx="550.7" cy="578.9" r="3.7"/><circle cx="552.9" cy="582.7" r="3.7"/><circle cx="555.1" cy="583.0" r="3.7"/><circle cx="557.3" cy="585.5" r="3.7"/><circle cx="559.5" cy="582.7" r="3.7"/><circle cx="561.7" cy="579.2" r="3.7"/><circle cx="563.9" cy="577.2" r="3.7"/><circle cx="566.1" cy="578.1" r="3.7"/><circle cx="568.3" cy="576.1" r="3.7"/><circle cx="570.5" cy="579.7" r="3.7"/><circle cx="572.7" cy="577.3" r="3.7"/><circle cx="574.9" cy="571.0" r="3.7"/><circle cx="577.1" cy="570.5" r="3.7"/><circle cx="579.3" cy="576.1" r="3.7"/><circle cx="581.5" cy="571.7" r="3.7"/><circle cx="583.7" cy="568.8" r="3.7"/><circle cx="585.9" cy="572.9" r="3.7"/><circle cx="588.1" cy="566.1" r="3.7"/><circle cx="590.3" cy="565.5" r="3.7"/><circle cx="592.5" cy="563.5" r="3.7"/><circle cx="594.7" cy="555.9" r="3.7"/><circle cx="596.9" cy="566.6" r="3.7"/><circle cx="599.1" cy="556.0" r="3.7"/><circle cx="601.3" cy="557.5" r="3.7"/><circle cx="603.5" cy="555.4" r="3.7"/><circle cx="605.7" cy="561.7" r="3.7"/><circle cx="607.9" cy="556.8" r="3.7"/><circle cx="610.1" cy="556.8" r="3.7"/><circle cx="612.3" cy="547.1" r="3.7"/><circle cx="614.5" cy="555.5" r="3.7"/><circle cx="616.7" cy="547.3" r="3.7"/><circle cx="618.9" cy="557.2" r="3.7"/><circle cx="621.1" cy="557.4" r="3.7"/><circle cx="623.3" cy="555.0" r="3.7"/><circle cx="625.5" cy="567.2" r="3.7"/><circle cx="627.7" cy="558.2" r="3.7"/><circle cx="629.9" cy="558.7" r="3.7"/><circle cx="632.1" cy="556.3" r="3.7"/><circle cx="634.3" cy="554.8" r="3.7"/><circle cx="636.5" cy="562.1" r="3.7"/><circle cx="638.7" cy="563.4" r="3.7"/><circle cx="640.9" cy="550.3" r="3.7"/><circle cx="643.1" cy="564.2" r="3.7"/><circle cx="645.3" cy="561.9" r="3.7"/><circle cx="647.5" cy="565.1" r="3.7"/><circle cx="649.7" cy="563.5" r="3.7"/><circle cx="651.9" cy="556.1" r="3.7"/><circle cx="654.1" cy="557.9" r="3.7"/><circle cx="656.3" cy="573.1" r="3.7"/><circle cx="658.5" cy="567.0" r="3.7"/><circle cx="660.7" cy="561.0" r="3.7"/><circle cx="662.9" cy="569.7" r="3.7"/><circle cx="665.1" cy="568.0" r="3.7"/><circle cx="667.3" cy="563.7" r="3.7"/><circle cx="669.5" cy="563.9" r="3.7"/><circle cx="671.7" cy="567.6" r="3.7"/><circle cx="673.9" cy="575.4" r="3.7"/><circle cx="676.1" cy="575.4" r="3.7"/><circle cx="678.3" cy="575.8" r="3.7"/><circle cx="680.5" cy="578.4" r="3.7"/><circle cx="682.7" cy="580.0" r="3.7"/><circle cx="684.9" cy="572.6" r="3.7"/><circle cx="687.1" cy="578.5" r="3.7"/><circle cx="689.3" cy="577.5" r="3.7"/><circle cx="691.5" cy="576.8" r="3.7"/><circle cx="693.7" cy="579.1" r="3.7"/><circle cx="695.9" cy="580.7" r="3.7"/><circle cx="698.1" cy="580.7" r="3.7"/><circle cx="700.3" cy="577.9" r="3.7"/><circle cx="702.5" cy="580.9" r="3.7"/><circle cx="704.7" cy="587.7" r="3.7"/><circle cx="706.9" cy="580.1" r="3.7"/><circle cx="709.1" cy="578.8" r="3.7"/><circle cx="711.3" cy="584.1" r="3.7"/><circle cx="713.5" cy="585.2" r="3.7"/><circle cx="715.7" cy="585.1" r="3.7"/><circle cx="717.9" cy="581.4" r="3.7"/><circle cx="720.1" cy="587.1" r="3.7"/><circle cx="722.3" cy="582.9" r="3.7"/><circle cx="724.5" cy="582.4" r="3.7"/><circle cx="726.7" cy="584.0" r="3.7"/><circle cx="728.9" cy="585.6" r="3.7"/><circle cx="731.1" cy="588.1" r="3.7"/><circle cx="733.3" cy="588.3" r="3.7"/><circle cx="735.5" cy="587.2" r="3.7"/><circle cx="737.7" cy="590.1" r="3.7"/><circle cx="739.9" cy="588.5" r="3.7"/><circle cx="742.1" cy="591.2" r="3.7"/><circle cx="744.3" cy="586.1" r="3.7"/><circle cx="746.5" cy="586.3" r="3.7"/><circle cx="748.7" cy="592.9" r="3.7"/><circle cx="750.9" cy="588.3" r="3.7"/><circle cx="753.1" cy="591.7" r="3.7"/><circle cx="755.3" cy="593.0" r="3.7"/><circle cx="757.5" cy="592.9" r="3.7"/><circle cx="759.7" cy="593.8" r="3.7"/><circle cx="761.9" cy="599.2" r="3.7"/><circle cx="764.1" cy="591.1" r="3.7"/><circle cx="766.3" cy="599.8" r="3.7"/><circle cx="768.5" cy="604.1" r="3.7"/><circle cx="770.7" cy="599.7" r="3.7"/><circle cx="772.9" cy="600.6" r="3.7"/><circle cx="775.1" cy="603.6" r="3.7"/><circle cx="777.3" cy="607.5" r="3.7"/><circle cx="779.5" cy="600.3" r="3.7"/></g>
<path d="M566.1 626.7V636.7M577.1 624.2V634.9M585.9 604.3V618.8M588.1 598.1V612.7M594.7 582.3V601.9M601.3 597.6V608.9M605.7 600.0V621.3M607.9 572.1V610.2M610.1 557.2V611.7M612.3 577.6V591.2M614.5 587.1V601.3M616.7 598.8V609.0M618.9 585.9V624.4M621.1 585.5V601.7M625.5 577.3V587.7M629.9 571.7V604.5M632.1 558.4V581.7M634.3 580.1V604.2M636.5 589.2V608.0M640.9 581.4V613.7M645.3 565.5V593.9M647.5 577.1V601.9M649.7 599.6V616.6M658.5 593.5V612.4M660.7 601.4V634.8M665.1 597.8V619.7M667.3 610.1V627.1M669.5 600.4V623.4M671.7 607.4V620.0M673.9 605.4V622.0M676.1 616.8V631.6M678.3 619.1V630.5M684.9 629.4V640.0" stroke="#d0e4bf" stroke-width="2.2" stroke-opacity="0.7" fill="none"/>
<g fill="#a9cd8b" fill-opacity="0.9" stroke="#90ae76" stroke-opacity="0.7" stroke-width="0.8"><circle cx="475.9" cy="657.5" r="3.7"/><circle cx="478.1" cy="656.9" r="3.7"/><circle cx="480.3" cy="655.0" r="3.7"/><circle cx="482.5" cy="657.4" r="3.7"/><circle cx="484.7" cy="655.8" r="3.7"/><circle cx="486.9" cy="659.5" r="3.7"/><circle cx="489.1" cy="656.1" r="3.7"/><circle cx="491.3" cy="655.4" r="3.7"/><circle cx="493.5" cy="652.8" r="3.7"/><circle cx="495.7" cy="649.1" r="3.7"/><circle cx="497.9" cy="652.0" r="3.7"/><circle cx="500.1" cy="649.5" r="3.7"/><circle cx="502.3" cy="653.6" r="3.7"/><circle cx="504.5" cy="650.5" r="3.7"/><circle cx="506.7" cy="654.4" r="3.7"/><circle cx="508.9" cy="651.4" r="3.7"/><circle cx="511.1" cy="651.2" r="3.7"/><circle cx="513.3" cy="649.1" r="3.7"/><circle cx="515.5" cy="648.5" r="3.7"/><circle cx="517.7" cy="649.1" r="3.7"/><circle cx="519.9" cy="649.3" r="3.7"/><circle cx="522.1" cy="644.5" r="3.7"/><circle cx="524.3" cy="647.0" r="3.7"/><circle cx="526.5" cy="650.9" r="3.7"/><circle cx="528.7" cy="644.3" r="3.7"/><circle cx="530.9" cy="643.3" r="3.7"/><circle cx="533.1" cy="641.4" r="3.7"/><circle cx="535.3" cy="638.8" r="3.7"/><circle cx="537.5" cy="645.1" r="3.7"/><circle cx="539.7" cy="641.4" r="3.7"/><circle cx="541.9" cy="641.3" r="3.7"/><circle cx="544.1" cy="644.8" r="3.7"/><circle cx="546.3" cy="645.0" r="3.7"/><circle cx="548.5" cy="635.8" r="3.7"/><circle cx="550.7" cy="640.4" r="3.7"/><circle cx="552.9" cy="638.4" r="3.7"/><circle cx="555.1" cy="636.9" r="3.7"/><circle cx="557.3" cy="636.2" r="3.7"/><circle cx="559.5" cy="633.7" r="3.7"/><circle cx="561.7" cy="637.7" r="3.7"/><circle cx="563.9" cy="633.7" r="3.7"/><circle cx="566.1" cy="631.7" r="3.7"/><circle cx="568.3" cy="633.6" r="3.7"/><circle cx="570.5" cy="631.0" r="3.7"/><circle cx="572.7" cy="627.7" r="3.7"/><circle cx="574.9" cy="625.3" r="3.7"/><circle cx="577.1" cy="629.5" r="3.7"/><circle cx="579.3" cy="622.1" r="3.7"/><circle cx="581.5" cy="617.2" r="3.7"/><circle cx="583.7" cy="611.1" r="3.7"/><circle cx="585.9" cy="611.5" r="3.7"/><circle cx="588.1" cy="605.4" r="3.7"/><circle cx="590.3" cy="610.5" r="3.7"/><circle cx="592.5" cy="609.8" r="3.7"/><circle cx="594.7" cy="592.1" r="3.7"/><circle cx="596.9" cy="605.0" r="3.7"/><circle cx="599.1" cy="608.5" r="3.7"/><circle cx="601.3" cy="603.2" r="3.7"/><circle cx="603.5" cy="592.1" r="3.7"/><circle cx="605.7" cy="610.7" r="3.7"/><circle cx="607.9" cy="591.2" r="3.7"/><circle cx="610.1" cy="584.5" r="3.7"/><circle cx="612.3" cy="584.4" r="3.7"/><circle cx="614.5" cy="594.2" r="3.7"/><circle cx="616.7" cy="603.9" r="3.7"/><circle cx="618.9" cy="605.1" r="3.7"/><circle cx="621.1" cy="593.6" r="3.7"/><circle cx="623.3" cy="576.8" r="3.7"/><circle cx="625.5" cy="582.5" r="3.7"/><circle cx="627.7" cy="579.6" r="3.7"/><circle cx="629.9" cy="588.1" r="3.7"/><circle cx="632.1" cy="570.0" r="3.7"/><circle cx="634.3" cy="592.1" r="3.7"/><circle cx="636.5" cy="598.6" r="3.7"/><circle cx="638.7" cy="590.3" r="3.7"/><circle cx="640.9" cy="597.6" r="3.7"/><circle cx="643.1" cy="583.6" r="3.7"/><circle cx="645.3" cy="579.7" r="3.7"/><circle cx="647.5" cy="589.5" r="3.7"/><circle cx="649.7" cy="608.1" r="3.7"/><circle cx="651.9" cy="608.4" r="3.7"/><circle cx="654.1" cy="597.4" r="3.7"/><circle cx="656.3" cy="613.0" r="3.7"/><circle cx="658.5" cy="602.9" r="3.7"/><circle cx="660.7" cy="618.1" r="3.7"/><circle cx="662.9" cy="612.6" r="3.7"/><circle cx="665.1" cy="608.7" r="3.7"/><circle cx="667.3" cy="618.6" r="3.7"/><circle cx="669.5" cy="611.9" r="3.7"/><circle cx="671.7" cy="613.7" r="3.7"/><circle cx="673.9" cy="613.7" r="3.7"/><circle cx="676.1" cy="624.2" r="3.7"/><circle cx="678.3" cy="624.8" r="3.7"/><circle cx="680.5" cy="626.4" r="3.7"/><circle cx="682.7" cy="626.5" r="3.7"/><circle cx="684.9" cy="634.7" r="3.7"/><circle cx="687.1" cy="628.8" r="3.7"/><circle cx="689.3" cy="628.9" r="3.7"/><circle cx="691.5" cy="636.3" r="3.7"/><circle cx="693.7" cy="637.5" r="3.7"/><circle cx="695.9" cy="634.8" r="3.7"/><circle cx="698.1" cy="629.2" r="3.7"/><circle cx="700.3" cy="633.3" r="3.7"/><circle cx="702.5" cy="637.4" r="3.7"/><circle cx="704.7" cy="636.2" r="3.7"/><circle cx="706.9" cy="641.0" r="3.7"/><circle cx="709.1" cy="633.4" r="3.7"/><circle cx="711.3" cy="639.4" r="3.7"/><circle cx="713.5" cy="636.3" r="3.7"/><circle cx="715.7" cy="641.9" r="3.7"/><circle cx="717.9" cy="638.5" r="3.7"/><circle cx="720.1" cy="641.8" r="3.7"/><circle cx="722.3" cy="637.8" r="3.7"/><circle cx="724.5" cy="636.2" r="3.7"/><circle cx="726.7" cy="637.4" r="3.7"/><circle cx="728.9" cy="639.2" r="3.7"/><circle cx="731.1" cy="638.6" r="3.7"/><circle cx="733.3" cy="644.9" r="3.7"/><circle cx="735.5" cy="645.8" r="3.7"/><circle cx="737.7" cy="643.6" r="3.7"/><circle cx="739.9" cy="640.9" r="3.7"/><circle cx="742.1" cy="643.9" r="3.7"/><circle cx="744.3" cy="643.1" r="3.7"/><circle cx="746.5" cy="649.3" r="3.7"/><circle cx="748.7" cy="647.1" r="3.7"/><circle cx="750.9" cy="648.2" r="3.7"/><circle cx="753.1" cy="646.6" r="3.7"/><circle cx="755.3" cy="643.2" r="3.7"/><circle cx="757.5" cy="647.1" r="3.7"/><circle cx="759.7" cy="647.0" r="3.7"/><circle cx="761.9" cy="651.6" r="3.7"/><circle cx="764.1" cy="651.7" r="3.7"/><circle cx="766.3" cy="650.1" r="3.7"/><circle cx="768.5" cy="652.0" r="3.7"/><circle cx="770.7" cy="657.9" r="3.7"/><circle cx="772.9" cy="652.2" r="3.7"/><circle cx="775.1" cy="653.2" r="3.7"/><circle cx="777.3" cy="655.8" r="3.7"/><circle cx="779.5" cy="654.9" r="3.7"/></g>
<path d="M574.9 654.8V670.7M577.1 660.6V673.1M581.5 659.8V670.8M583.7 653.8V668.9M585.9 641.3V654.9M588.1 645.6V664.3M590.3 640.5V666.7M592.5 631.1V664.3M594.7 644.8V674.7M596.9 658.8V678.9M599.1 627.3V652.7M601.3 586.5V689.4M603.5 589.2V626.0M605.7 629.6V645.1M610.1 589.8V607.1M612.3 604.5V677.0M614.5 629.7V661.3M616.7 599.2V638.2M618.9 583.8V665.3M621.1 592.0V630.8M623.3 618.6V674.0M625.5 554.7V642.0M627.7 596.0V650.9M629.9 609.6V732.8M634.3 614.7V668.3M636.5 600.9V659.1M638.7 563.7V658.3M640.9 595.7V674.0M643.1 603.5V685.1M645.3 611.3V628.7M647.5 610.3V681.5M649.7 652.4V672.6M651.9 627.5V694.6M654.1 612.3V635.0M656.3 617.8V653.8M658.5 595.4V666.2M660.7 639.9V694.1M662.9 652.3V674.7M667.3 646.2V661.4M671.7 659.9V678.0M676.1 649.0V686.5M682.7 668.2V694.1M628.5 517V650M624 560V640" stroke="#f7e7bd" stroke-width="2.2" stroke-opacity="0.7" fill="none"/>
<g fill="#f1d487" fill-opacity="0.9" stroke="#cdb473" stroke-opacity="0.7" stroke-width="0.8"><circle cx="475.9" cy="712.0" r="3.7"/><circle cx="478.1" cy="708.4" r="3.7"/><circle cx="480.3" cy="712.0" r="3.7"/><circle cx="482.5" cy="711.1" r="3.7"/><circle cx="484.7" cy="710.5" r="3.7"/><circle cx="486.9" cy="708.8" r="3.7"/><circle cx="489.1" cy="708.8" r="3.7"/><circle cx="491.3" cy="707.7" r="3.7"/><circle cx="493.5" cy="709.5" r="3.7"/><circle cx="495.7" cy="705.5" r="3.7"/><circle cx="497.9" cy="706.4" r="3.7"/><circle cx="500.1" cy="706.2" r="3.7"/><circle cx="502.3" cy="710.0" r="3.7"/><circle cx="504.5" cy="706.6" r="3.7"/><circle cx="506.7" cy="704.6" r="3.7"/><circle cx="508.9" cy="705.9" r="3.7"/><circle cx="511.1" cy="704.9" r="3.7"/><circle cx="513.3" cy="706.4" r="3.7"/><circle cx="515.5" cy="704.0" r="3.7"/><circle cx="517.7" cy="707.3" r="3.7"/><circle cx="519.9" cy="705.3" r="3.7"/><circle cx="522.1" cy="700.5" r="3.7"/><circle cx="524.3" cy="698.6" r="3.7"/><circle cx="526.5" cy="701.8" r="3.7"/><circle cx="528.7" cy="699.9" r="3.7"/><circle cx="530.9" cy="697.3" r="3.7"/><circle cx="533.1" cy="692.1" r="3.7"/><circle cx="535.3" cy="690.0" r="3.7"/><circle cx="537.5" cy="695.6" r="3.7"/><circle cx="539.7" cy="695.7" r="3.7"/><circle cx="541.9" cy="694.5" r="3.7"/><circle cx="544.1" cy="686.5" r="3.7"/><circle cx="546.3" cy="692.6" r="3.7"/><circle cx="548.5" cy="685.9" r="3.7"/><circle cx="550.7" cy="687.5" r="3.7"/><circle cx="552.9" cy="686.1" r="3.7"/><circle cx="555.1" cy="680.1" r="3.7"/><circle cx="557.3" cy="679.1" r="3.7"/><circle cx="559.5" cy="671.4" r="3.7"/><circle cx="561.7" cy="673.9" r="3.7"/><circle cx="563.9" cy="668.1" r="3.7"/><circle cx="566.1" cy="676.0" r="3.7"/><circle cx="568.3" cy="672.5" r="3.7"/><circle cx="570.5" cy="675.1" r="3.7"/><circle cx="572.7" cy="670.4" r="3.7"/><circle cx="574.9" cy="662.7" r="3.7"/><circle cx="577.1" cy="666.8" r="3.7"/><circle cx="579.3" cy="659.9" r="3.7"/><circle cx="581.5" cy="665.3" r="3.7"/><circle cx="583.7" cy="661.3" r="3.7"/><circle cx="585.9" cy="648.1" r="3.7"/><circle cx="588.1" cy="654.9" r="3.7"/><circle cx="590.3" cy="653.6" r="3.7"/><circle cx="592.5" cy="647.7" r="3.7"/><circle cx="594.7" cy="659.7" r="3.7"/><circle cx="596.9" cy="668.8" r="3.7"/><circle cx="599.1" cy="640.0" r="3.7"/><circle cx="601.3" cy="638.0" r="3.7"/><circle cx="603.5" cy="607.6" r="3.7"/><circle cx="605.7" cy="637.4" r="3.7"/><circle cx="607.9" cy="630.6" r="3.7"/><circle cx="610.1" cy="598.5" r="3.7"/><circle cx="612.3" cy="640.8" r="3.7"/><circle cx="614.5" cy="645.5" r="3.7"/><circle cx="616.7" cy="618.7" r="3.7"/><circle cx="618.9" cy="624.6" r="3.7"/><circle cx="621.1" cy="611.4" r="3.7"/><circle cx="623.3" cy="646.3" r="3.7"/><circle cx="625.5" cy="598.3" r="3.7"/><circle cx="627.7" cy="623.4" r="3.7"/><circle cx="629.9" cy="671.2" r="3.7"/><circle cx="632.1" cy="632.0" r="3.7"/><circle cx="634.3" cy="641.5" r="3.7"/><circle cx="636.5" cy="630.0" r="3.7"/><circle cx="638.7" cy="611.0" r="3.7"/><circle cx="640.9" cy="634.8" r="3.7"/><circle cx="643.1" cy="644.3" r="3.7"/><circle cx="645.3" cy="620.0" r="3.7"/><circle cx="647.5" cy="645.9" r="3.7"/><circle cx="649.7" cy="662.5" r="3.7"/><circle cx="651.9" cy="661.0" r="3.7"/><circle cx="654.1" cy="623.6" r="3.7"/><circle cx="656.3" cy="635.8" r="3.7"/><circle cx="658.5" cy="630.8" r="3.7"/><circle cx="660.7" cy="667.0" r="3.7"/><circle cx="662.9" cy="663.5" r="3.7"/><circle cx="665.1" cy="666.8" r="3.7"/><circle cx="667.3" cy="653.8" r="3.7"/><circle cx="669.5" cy="654.8" r="3.7"/><circle cx="671.7" cy="668.9" r="3.7"/><circle cx="673.9" cy="671.9" r="3.7"/><circle cx="676.1" cy="667.7" r="3.7"/><circle cx="678.3" cy="677.1" r="3.7"/><circle cx="680.5" cy="682.2" r="3.7"/><circle cx="682.7" cy="681.1" r="3.7"/><circle cx="684.9" cy="675.5" r="3.7"/><circle cx="687.1" cy="671.6" r="3.7"/><circle cx="689.3" cy="681.8" r="3.7"/><circle cx="691.5" cy="684.6" r="3.7"/><circle cx="693.7" cy="683.5" r="3.7"/><circle cx="695.9" cy="683.6" r="3.7"/><circle cx="698.1" cy="683.4" r="3.7"/><circle cx="700.3" cy="689.4" r="3.7"/><circle cx="702.5" cy="687.4" r="3.7"/><circle cx="704.7" cy="688.7" r="3.7"/><circle cx="706.9" cy="685.7" r="3.7"/><circle cx="709.1" cy="687.6" r="3.7"/><circle cx="711.3" cy="690.8" r="3.7"/><circle cx="713.5" cy="687.7" r="3.7"/><circle cx="715.7" cy="687.6" r="3.7"/><circle cx="717.9" cy="691.1" r="3.7"/><circle cx="720.1" cy="696.5" r="3.7"/><circle cx="722.3" cy="694.0" r="3.7"/><circle cx="724.5" cy="698.5" r="3.7"/><circle cx="726.7" cy="694.3" r="3.7"/><circle cx="728.9" cy="694.4" r="3.7"/><circle cx="731.1" cy="691.9" r="3.7"/><circle cx="733.3" cy="695.1" r="3.7"/><circle cx="735.5" cy="701.9" r="3.7"/><circle cx="737.7" cy="699.3" r="3.7"/><circle cx="739.9" cy="701.3" r="3.7"/><circle cx="742.1" cy="702.0" r="3.7"/><circle cx="744.3" cy="700.6" r="3.7"/><circle cx="746.5" cy="700.8" r="3.7"/><circle cx="748.7" cy="702.6" r="3.7"/><circle cx="750.9" cy="705.1" r="3.7"/><circle cx="753.1" cy="705.3" r="3.7"/><circle cx="755.3" cy="706.3" r="3.7"/><circle cx="757.5" cy="706.1" r="3.7"/><circle cx="759.7" cy="704.3" r="3.7"/><circle cx="761.9" cy="706.7" r="3.7"/><circle cx="764.1" cy="705.6" r="3.7"/><circle cx="766.3" cy="712.4" r="3.7"/><circle cx="768.5" cy="704.1" r="3.7"/><circle cx="770.7" cy="710.8" r="3.7"/><circle cx="772.9" cy="719.1" r="3.7"/><circle cx="775.1" cy="712.5" r="3.7"/><circle cx="777.3" cy="711.2" r="3.7"/><circle cx="779.5" cy="714.9" r="3.7"/></g>
<path d="M581.5 737.9V749.2M594.7 729.0V740.0M599.1 727.3V745.3M601.3 719.9V737.3M607.9 723.5V737.8M612.3 703.9V723.6M614.5 716.2V740.8M616.7 709.5V727.0M618.9 713.0V737.1M621.1 715.8V733.1M623.3 714.0V746.2M625.5 709.9V747.5M632.1 704.1V718.8M634.3 723.3V743.9M636.5 706.7V742.8M640.9 702.1V737.9M647.5 718.5V730.9M649.7 719.2V732.8M654.1 724.6V738.5M667.3 737.2V749.9M673.9 726.2V740.4" stroke="#f7d5b3" stroke-width="2.2" stroke-opacity="0.7" fill="none"/>
<g fill="#f0b274" fill-opacity="0.9" stroke="#cc9763" stroke-opacity="0.7" stroke-width="0.8"><circle cx="475.9" cy="773.1" r="3.7"/><circle cx="478.1" cy="777.3" r="3.7"/><circle cx="480.3" cy="770.8" r="3.7"/><circle cx="482.5" cy="773.2" r="3.7"/><circle cx="484.7" cy="776.8" r="3.7"/><circle cx="486.9" cy="771.4" r="3.7"/><circle cx="489.1" cy="773.1" r="3.7"/><circle cx="491.3" cy="771.3" r="3.7"/><circle cx="493.5" cy="766.5" r="3.7"/><circle cx="495.7" cy="772.3" r="3.7"/><circle cx="497.9" cy="772.1" r="3.7"/><circle cx="500.1" cy="767.7" r="3.7"/><circle cx="502.3" cy="771.4" r="3.7"/><circle cx="504.5" cy="767.4" r="3.7"/><circle cx="506.7" cy="766.4" r="3.7"/><circle cx="508.9" cy="768.3" r="3.7"/><circle cx="511.1" cy="766.1" r="3.7"/><circle cx="513.3" cy="772.7" r="3.7"/><circle cx="515.5" cy="762.7" r="3.7"/><circle cx="517.7" cy="767.9" r="3.7"/><circle cx="519.9" cy="767.9" r="3.7"/><circle cx="522.1" cy="759.9" r="3.7"/><circle cx="524.3" cy="759.9" r="3.7"/><circle cx="526.5" cy="765.0" r="3.7"/><circle cx="528.7" cy="761.7" r="3.7"/><circle cx="530.9" cy="763.2" r="3.7"/><circle cx="533.1" cy="764.4" r="3.7"/><circle cx="535.3" cy="759.9" r="3.7"/><circle cx="537.5" cy="757.5" r="3.7"/><circle cx="539.7" cy="753.9" r="3.7"/><circle cx="541.9" cy="759.2" r="3.7"/><circle cx="544.1" cy="755.6" r="3.7"/><circle cx="546.3" cy="758.0" r="3.7"/><circle cx="548.5" cy="757.0" r="3.7"/><circle cx="550.7" cy="752.0" r="3.7"/><circle cx="552.9" cy="759.3" r="3.7"/><circle cx="555.1" cy="756.8" r="3.7"/><circle cx="557.3" cy="755.4" r="3.7"/><circle cx="559.5" cy="749.0" r="3.7"/><circle cx="561.7" cy="750.2" r="3.7"/><circle cx="563.9" cy="748.9" r="3.7"/><circle cx="566.1" cy="748.4" r="3.7"/><circle cx="568.3" cy="745.3" r="3.7"/><circle cx="570.5" cy="749.1" r="3.7"/><circle cx="572.7" cy="747.5" r="3.7"/><circle cx="574.9" cy="747.1" r="3.7"/><circle cx="577.1" cy="743.1" r="3.7"/><circle cx="579.3" cy="748.5" r="3.7"/><circle cx="581.5" cy="743.6" r="3.7"/><circle cx="583.7" cy="733.2" r="3.7"/><circle cx="585.9" cy="738.1" r="3.7"/><circle cx="588.1" cy="739.4" r="3.7"/><circle cx="590.3" cy="742.8" r="3.7"/><circle cx="592.5" cy="735.7" r="3.7"/><circle cx="594.7" cy="734.5" r="3.7"/><circle cx="596.9" cy="730.8" r="3.7"/><circle cx="599.1" cy="736.3" r="3.7"/><circle cx="601.3" cy="728.6" r="3.7"/><circle cx="603.5" cy="726.1" r="3.7"/><circle cx="605.7" cy="723.7" r="3.7"/><circle cx="607.9" cy="730.6" r="3.7"/><circle cx="610.1" cy="722.6" r="3.7"/><circle cx="612.3" cy="713.8" r="3.7"/><circle cx="614.5" cy="728.5" r="3.7"/><circle cx="616.7" cy="718.3" r="3.7"/><circle cx="618.9" cy="725.0" r="3.7"/><circle cx="621.1" cy="724.5" r="3.7"/><circle cx="623.3" cy="730.1" r="3.7"/><circle cx="625.5" cy="728.7" r="3.7"/><circle cx="627.7" cy="716.5" r="3.7"/><circle cx="629.9" cy="719.6" r="3.7"/><circle cx="632.1" cy="711.4" r="3.7"/><circle cx="634.3" cy="733.6" r="3.7"/><circle cx="636.5" cy="724.7" r="3.7"/><circle cx="638.7" cy="731.8" r="3.7"/><circle cx="640.9" cy="720.0" r="3.7"/><circle cx="643.1" cy="708.6" r="3.7"/><circle cx="645.3" cy="733.4" r="3.7"/><circle cx="647.5" cy="724.7" r="3.7"/><circle cx="649.7" cy="726.0" r="3.7"/><circle cx="651.9" cy="726.8" r="3.7"/><circle cx="654.1" cy="731.6" r="3.7"/><circle cx="656.3" cy="732.2" r="3.7"/><circle cx="658.5" cy="722.3" r="3.7"/><circle cx="660.7" cy="737.4" r="3.7"/><circle cx="662.9" cy="730.7" r="3.7"/><circle cx="665.1" cy="732.5" r="3.7"/><circle cx="667.3" cy="743.6" r="3.7"/><circle cx="669.5" cy="741.3" r="3.7"/><circle cx="671.7" cy="737.6" r="3.7"/><circle cx="673.9" cy="733.3" r="3.7"/><circle cx="676.1" cy="742.4" r="3.7"/><circle cx="678.3" cy="745.0" r="3.7"/><circle cx="680.5" cy="744.1" r="3.7"/><circle cx="682.7" cy="741.5" r="3.7"/><circle cx="684.9" cy="744.1" r="3.7"/><circle cx="687.1" cy="743.8" r="3.7"/><circle cx="689.3" cy="749.3" r="3.7"/><circle cx="691.5" cy="752.0" r="3.7"/><circle cx="693.7" cy="753.4" r="3.7"/><circle cx="695.9" cy="749.3" r="3.7"/><circle cx="698.1" cy="752.8" r="3.7"/><circle cx="700.3" cy="754.4" r="3.7"/><circle cx="702.5" cy="752.3" r="3.7"/><circle cx="704.7" cy="753.9" r="3.7"/><circle cx="706.9" cy="760.4" r="3.7"/><circle cx="709.1" cy="756.0" r="3.7"/><circle cx="711.3" cy="758.3" r="3.7"/><circle cx="713.5" cy="755.5" r="3.7"/><circle cx="715.7" cy="757.3" r="3.7"/><circle cx="717.9" cy="753.4" r="3.7"/><circle cx="720.1" cy="758.2" r="3.7"/><circle cx="722.3" cy="761.8" r="3.7"/><circle cx="724.5" cy="764.6" r="3.7"/><circle cx="726.7" cy="762.9" r="3.7"/><circle cx="728.9" cy="762.2" r="3.7"/><circle cx="731.1" cy="761.2" r="3.7"/><circle cx="733.3" cy="760.2" r="3.7"/><circle cx="735.5" cy="762.0" r="3.7"/><circle cx="737.7" cy="764.6" r="3.7"/><circle cx="739.9" cy="761.8" r="3.7"/><circle cx="742.1" cy="766.8" r="3.7"/><circle cx="744.3" cy="762.8" r="3.7"/><circle cx="746.5" cy="761.6" r="3.7"/><circle cx="748.7" cy="764.2" r="3.7"/><circle cx="750.9" cy="763.3" r="3.7"/><circle cx="753.1" cy="764.8" r="3.7"/><circle cx="755.3" cy="771.8" r="3.7"/><circle cx="757.5" cy="769.2" r="3.7"/><circle cx="759.7" cy="771.0" r="3.7"/><circle cx="761.9" cy="774.0" r="3.7"/><circle cx="764.1" cy="774.9" r="3.7"/><circle cx="766.3" cy="771.2" r="3.7"/><circle cx="768.5" cy="776.4" r="3.7"/><circle cx="770.7" cy="774.7" r="3.7"/><circle cx="772.9" cy="774.4" r="3.7"/><circle cx="775.1" cy="776.1" r="3.7"/><circle cx="777.3" cy="772.0" r="3.7"/><circle cx="779.5" cy="773.8" r="3.7"/></g>
<path d="M583.7 797.6V809.2M590.3 793.8V809.1M599.1 790.2V805.3M603.5 786.6V803.0M607.9 790.7V803.3M610.1 797.8V809.4M614.5 770.4V798.9M616.7 770.0V789.9M621.1 767.2V788.0M623.3 771.2V810.2M625.5 764.1V797.1M627.7 771.5V813.2M629.9 786.0V805.4M632.1 757.7V779.9M634.3 780.6V794.3M640.9 773.5V789.5M649.7 780.2V812.7M654.1 786.6V806.0M665.1 796.7V808.9M671.7 799.5V819.7M676.1 810.2V822.1M678.3 801.9V812.3" stroke="#f4c4b1" stroke-width="2.2" stroke-opacity="0.7" fill="none"/>
<g fill="#eb9472" fill-opacity="0.9" stroke="#c87e61" stroke-opacity="0.7" stroke-width="0.8"><circle cx="475.9" cy="838.6" r="3.7"/><circle cx="478.1" cy="839.9" r="3.7"/><circle cx="480.3" cy="835.8" r="3.7"/><circle cx="482.5" cy="838.6" r="3.7"/><circle cx="484.7" cy="838.5" r="3.7"/><circle cx="486.9" cy="836.5" r="3.7"/><circle cx="489.1" cy="837.6" r="3.7"/><circle cx="491.3" cy="834.7" r="3.7"/><circle cx="493.5" cy="834.7" r="3.7"/><circle cx="495.7" cy="830.4" r="3.7"/><circle cx="497.9" cy="833.4" r="3.7"/><circle cx="500.1" cy="830.4" r="3.7"/><circle cx="502.3" cy="830.8" r="3.7"/><circle cx="504.5" cy="831.0" r="3.7"/><circle cx="506.7" cy="831.1" r="3.7"/><circle cx="508.9" cy="826.0" r="3.7"/><circle cx="511.1" cy="825.6" r="3.7"/><circle cx="513.3" cy="828.2" r="3.7"/><circle cx="515.5" cy="829.6" r="3.7"/><circle cx="517.7" cy="828.8" r="3.7"/><circle cx="519.9" cy="829.5" r="3.7"/><circle cx="522.1" cy="830.0" r="3.7"/><circle cx="524.3" cy="827.4" r="3.7"/><circle cx="526.5" cy="825.5" r="3.7"/><circle cx="528.7" cy="822.4" r="3.7"/><circle cx="530.9" cy="822.0" r="3.7"/><circle cx="533.1" cy="822.5" r="3.7"/><circle cx="535.3" cy="823.7" r="3.7"/><circle cx="537.5" cy="822.9" r="3.7"/><circle cx="539.7" cy="821.6" r="3.7"/><circle cx="541.9" cy="820.5" r="3.7"/><circle cx="544.1" cy="821.8" r="3.7"/><circle cx="546.3" cy="820.0" r="3.7"/><circle cx="548.5" cy="819.5" r="3.7"/><circle cx="550.7" cy="818.7" r="3.7"/><circle cx="552.9" cy="815.7" r="3.7"/><circle cx="555.1" cy="813.5" r="3.7"/><circle cx="557.3" cy="816.8" r="3.7"/><circle cx="559.5" cy="815.7" r="3.7"/><circle cx="561.7" cy="813.0" r="3.7"/><circle cx="563.9" cy="811.5" r="3.7"/><circle cx="566.1" cy="818.3" r="3.7"/><circle cx="568.3" cy="808.3" r="3.7"/><circle cx="570.5" cy="808.8" r="3.7"/><circle cx="572.7" cy="809.0" r="3.7"/><circle cx="574.9" cy="802.8" r="3.7"/><circle cx="577.1" cy="805.7" r="3.7"/><circle cx="579.3" cy="810.5" r="3.7"/><circle cx="581.5" cy="805.9" r="3.7"/><circle cx="583.7" cy="803.4" r="3.7"/><circle cx="585.9" cy="802.0" r="3.7"/><circle cx="588.1" cy="798.6" r="3.7"/><circle cx="590.3" cy="801.5" r="3.7"/><circle cx="592.5" cy="795.0" r="3.7"/><circle cx="594.7" cy="792.5" r="3.7"/><circle cx="596.9" cy="794.2" r="3.7"/><circle cx="599.1" cy="797.7" r="3.7"/><circle cx="601.3" cy="793.5" r="3.7"/><circle cx="603.5" cy="794.8" r="3.7"/><circle cx="605.7" cy="776.6" r="3.7"/><circle cx="607.9" cy="797.0" r="3.7"/><circle cx="610.1" cy="803.6" r="3.7"/><circle cx="612.3" cy="797.2" r="3.7"/><circle cx="614.5" cy="784.6" r="3.7"/><circle cx="616.7" cy="779.9" r="3.7"/><circle cx="618.9" cy="787.9" r="3.7"/><circle cx="621.1" cy="777.6" r="3.7"/><circle cx="623.3" cy="790.7" r="3.7"/><circle cx="625.5" cy="780.6" r="3.7"/><circle cx="627.7" cy="792.4" r="3.7"/><circle cx="629.9" cy="795.7" r="3.7"/><circle cx="632.1" cy="768.8" r="3.7"/><circle cx="634.3" cy="787.4" r="3.7"/><circle cx="636.5" cy="780.0" r="3.7"/><circle cx="638.7" cy="775.0" r="3.7"/><circle cx="640.9" cy="781.5" r="3.7"/><circle cx="643.1" cy="784.9" r="3.7"/><circle cx="645.3" cy="794.5" r="3.7"/><circle cx="647.5" cy="777.8" r="3.7"/><circle cx="649.7" cy="796.4" r="3.7"/><circle cx="651.9" cy="803.8" r="3.7"/><circle cx="654.1" cy="796.3" r="3.7"/><circle cx="656.3" cy="797.5" r="3.7"/><circle cx="658.5" cy="796.0" r="3.7"/><circle cx="660.7" cy="791.4" r="3.7"/><circle cx="662.9" cy="801.9" r="3.7"/><circle cx="665.1" cy="802.8" r="3.7"/><circle cx="667.3" cy="806.2" r="3.7"/><circle cx="669.5" cy="814.3" r="3.7"/><circle cx="671.7" cy="809.6" r="3.7"/><circle cx="673.9" cy="810.1" r="3.7"/><circle cx="676.1" cy="816.1" r="3.7"/><circle cx="678.3" cy="807.1" r="3.7"/><circle cx="680.5" cy="809.5" r="3.7"/><circle cx="682.7" cy="813.5" r="3.7"/><circle cx="684.9" cy="813.8" r="3.7"/><circle cx="687.1" cy="819.2" r="3.7"/><circle cx="689.3" cy="817.1" r="3.7"/><circle cx="691.5" cy="824.1" r="3.7"/><circle cx="693.7" cy="824.3" r="3.7"/><circle cx="695.9" cy="822.9" r="3.7"/><circle cx="698.1" cy="820.4" r="3.7"/><circle cx="700.3" cy="823.7" r="3.7"/><circle cx="702.5" cy="824.7" r="3.7"/><circle cx="704.7" cy="820.2" r="3.7"/><circle cx="706.9" cy="824.4" r="3.7"/><circle cx="709.1" cy="825.7" r="3.7"/><circle cx="711.3" cy="824.7" r="3.7"/><circle cx="713.5" cy="828.5" r="3.7"/><circle cx="715.7" cy="827.9" r="3.7"/><circle cx="717.9" cy="823.0" r="3.7"/><circle cx="720.1" cy="825.7" r="3.7"/><circle cx="722.3" cy="823.6" r="3.7"/><circle cx="724.5" cy="827.4" r="3.7"/><circle cx="726.7" cy="824.1" r="3.7"/><circle cx="728.9" cy="828.9" r="3.7"/><circle cx="731.1" cy="827.9" r="3.7"/><circle cx="733.3" cy="829.8" r="3.7"/><circle cx="735.5" cy="827.4" r="3.7"/><circle cx="737.7" cy="824.5" r="3.7"/><circle cx="739.9" cy="833.0" r="3.7"/><circle cx="742.1" cy="828.6" r="3.7"/><circle cx="744.3" cy="832.9" r="3.7"/><circle cx="746.5" cy="831.0" r="3.7"/><circle cx="748.7" cy="832.0" r="3.7"/><circle cx="750.9" cy="835.3" r="3.7"/><circle cx="753.1" cy="832.1" r="3.7"/><circle cx="755.3" cy="835.2" r="3.7"/><circle cx="757.5" cy="828.4" r="3.7"/><circle cx="759.7" cy="834.7" r="3.7"/><circle cx="761.9" cy="832.4" r="3.7"/><circle cx="764.1" cy="833.1" r="3.7"/><circle cx="766.3" cy="833.9" r="3.7"/><circle cx="768.5" cy="835.2" r="3.7"/><circle cx="770.7" cy="838.9" r="3.7"/><circle cx="772.9" cy="830.5" r="3.7"/><circle cx="775.1" cy="835.7" r="3.7"/><circle cx="777.3" cy="834.3" r="3.7"/><circle cx="779.5" cy="839.1" r="3.7"/></g>
<path d="M592.5 866.0V876.8M596.9 866.1V877.6M599.1 871.8V882.8M607.9 866.6V877.7M616.7 882.5V893.6M618.9 863.4V884.7M623.3 882.0V895.4M625.5 872.6V888.9M634.3 876.8V890.6M636.5 866.5V892.4M640.9 873.8V894.2M643.1 873.4V884.1M645.3 870.2V885.2M649.7 869.3V883.9M651.9 864.1V876.0M665.1 867.7V879.0M671.7 870.4V880.4" stroke="#eeb3b1" stroke-width="2.2" stroke-opacity="0.7" fill="none"/>
<g fill="#e07572" fill-opacity="0.9" stroke="#be6361" stroke-opacity="0.7" stroke-width="0.8"><circle cx="475.9" cy="903.6" r="3.7"/><circle cx="478.1" cy="905.6" r="3.7"/><circle cx="480.3" cy="901.3" r="3.7"/><circle cx="482.5" cy="902.1" r="3.7"/><circle cx="484.7" cy="900.2" r="3.7"/><circle cx="486.9" cy="899.3" r="3.7"/><circle cx="489.1" cy="903.0" r="3.7"/><circle cx="491.3" cy="899.5" r="3.7"/><circle cx="493.5" cy="901.1" r="3.7"/><circle cx="495.7" cy="896.7" r="3.7"/><circle cx="497.9" cy="899.0" r="3.7"/><circle cx="500.1" cy="894.1" r="3.7"/><circle cx="502.3" cy="896.4" r="3.7"/><circle cx="504.5" cy="895.8" r="3.7"/><circle cx="506.7" cy="897.8" r="3.7"/><circle cx="508.9" cy="896.2" r="3.7"/><circle cx="511.1" cy="894.7" r="3.7"/><circle cx="513.3" cy="896.6" r="3.7"/><circle cx="515.5" cy="894.4" r="3.7"/><circle cx="517.7" cy="894.7" r="3.7"/><circle cx="519.9" cy="894.6" r="3.7"/><circle cx="522.1" cy="892.0" r="3.7"/><circle cx="524.3" cy="890.9" r="3.7"/><circle cx="526.5" cy="891.8" r="3.7"/><circle cx="528.7" cy="889.4" r="3.7"/><circle cx="530.9" cy="890.8" r="3.7"/><circle cx="533.1" cy="891.9" r="3.7"/><circle cx="535.3" cy="890.7" r="3.7"/><circle cx="537.5" cy="887.2" r="3.7"/><circle cx="539.7" cy="884.4" r="3.7"/><circle cx="541.9" cy="886.8" r="3.7"/><circle cx="544.1" cy="886.0" r="3.7"/><circle cx="546.3" cy="888.4" r="3.7"/><circle cx="548.5" cy="884.2" r="3.7"/><circle cx="550.7" cy="884.0" r="3.7"/><circle cx="552.9" cy="885.8" r="3.7"/><circle cx="555.1" cy="882.2" r="3.7"/><circle cx="557.3" cy="882.4" r="3.7"/><circle cx="559.5" cy="886.6" r="3.7"/><circle cx="561.7" cy="885.5" r="3.7"/><circle cx="563.9" cy="882.8" r="3.7"/><circle cx="566.1" cy="881.3" r="3.7"/><circle cx="568.3" cy="877.4" r="3.7"/><circle cx="570.5" cy="881.0" r="3.7"/><circle cx="572.7" cy="878.9" r="3.7"/><circle cx="574.9" cy="878.7" r="3.7"/><circle cx="577.1" cy="875.9" r="3.7"/><circle cx="579.3" cy="876.7" r="3.7"/><circle cx="581.5" cy="875.6" r="3.7"/><circle cx="583.7" cy="876.7" r="3.7"/><circle cx="585.9" cy="880.1" r="3.7"/><circle cx="588.1" cy="876.4" r="3.7"/><circle cx="590.3" cy="869.1" r="3.7"/><circle cx="592.5" cy="871.4" r="3.7"/><circle cx="594.7" cy="868.9" r="3.7"/><circle cx="596.9" cy="871.8" r="3.7"/><circle cx="599.1" cy="877.3" r="3.7"/><circle cx="601.3" cy="876.7" r="3.7"/><circle cx="603.5" cy="872.3" r="3.7"/><circle cx="605.7" cy="876.3" r="3.7"/><circle cx="607.9" cy="872.2" r="3.7"/><circle cx="610.1" cy="870.1" r="3.7"/><circle cx="612.3" cy="871.5" r="3.7"/><circle cx="614.5" cy="875.5" r="3.7"/><circle cx="616.7" cy="888.0" r="3.7"/><circle cx="618.9" cy="874.0" r="3.7"/><circle cx="621.1" cy="887.9" r="3.7"/><circle cx="623.3" cy="888.7" r="3.7"/><circle cx="625.5" cy="880.7" r="3.7"/><circle cx="627.7" cy="881.5" r="3.7"/><circle cx="629.9" cy="878.1" r="3.7"/><circle cx="632.1" cy="880.8" r="3.7"/><circle cx="634.3" cy="883.7" r="3.7"/><circle cx="636.5" cy="879.5" r="3.7"/><circle cx="638.7" cy="883.8" r="3.7"/><circle cx="640.9" cy="884.0" r="3.7"/><circle cx="643.1" cy="878.8" r="3.7"/><circle cx="645.3" cy="877.7" r="3.7"/><circle cx="647.5" cy="875.0" r="3.7"/><circle cx="649.7" cy="876.6" r="3.7"/><circle cx="651.9" cy="870.0" r="3.7"/><circle cx="654.1" cy="876.9" r="3.7"/><circle cx="656.3" cy="876.2" r="3.7"/><circle cx="658.5" cy="872.1" r="3.7"/><circle cx="660.7" cy="884.2" r="3.7"/><circle cx="662.9" cy="872.5" r="3.7"/><circle cx="665.1" cy="873.3" r="3.7"/><circle cx="667.3" cy="877.8" r="3.7"/><circle cx="669.5" cy="870.8" r="3.7"/><circle cx="671.7" cy="875.4" r="3.7"/><circle cx="673.9" cy="873.9" r="3.7"/><circle cx="676.1" cy="876.6" r="3.7"/><circle cx="678.3" cy="880.0" r="3.7"/><circle cx="680.5" cy="882.2" r="3.7"/><circle cx="682.7" cy="885.2" r="3.7"/><circle cx="684.9" cy="885.0" r="3.7"/><circle cx="687.1" cy="886.7" r="3.7"/><circle cx="689.3" cy="885.7" r="3.7"/><circle cx="691.5" cy="883.6" r="3.7"/><circle cx="693.7" cy="888.4" r="3.7"/><circle cx="695.9" cy="885.0" r="3.7"/><circle cx="698.1" cy="885.4" r="3.7"/><circle cx="700.3" cy="891.4" r="3.7"/><circle cx="702.5" cy="890.1" r="3.7"/><circle cx="704.7" cy="889.4" r="3.7"/><circle cx="706.9" cy="891.3" r="3.7"/><circle cx="709.1" cy="892.2" r="3.7"/><circle cx="711.3" cy="887.3" r="3.7"/><circle cx="713.5" cy="891.0" r="3.7"/><circle cx="715.7" cy="889.0" r="3.7"/><circle cx="717.9" cy="892.7" r="3.7"/><circle cx="720.1" cy="891.4" r="3.7"/><circle cx="722.3" cy="896.8" r="3.7"/><circle cx="724.5" cy="895.4" r="3.7"/><circle cx="726.7" cy="892.8" r="3.7"/><circle cx="728.9" cy="895.2" r="3.7"/><circle cx="731.1" cy="893.0" r="3.7"/><circle cx="733.3" cy="896.5" r="3.7"/><circle cx="735.5" cy="898.3" r="3.7"/><circle cx="737.7" cy="898.2" r="3.7"/><circle cx="739.9" cy="893.5" r="3.7"/><circle cx="742.1" cy="897.9" r="3.7"/><circle cx="744.3" cy="900.5" r="3.7"/><circle cx="746.5" cy="900.6" r="3.7"/><circle cx="748.7" cy="903.2" r="3.7"/><circle cx="750.9" cy="897.9" r="3.7"/><circle cx="753.1" cy="902.8" r="3.7"/><circle cx="755.3" cy="900.6" r="3.7"/><circle cx="757.5" cy="903.2" r="3.7"/><circle cx="759.7" cy="904.4" r="3.7"/><circle cx="761.9" cy="905.7" r="3.7"/><circle cx="764.1" cy="903.3" r="3.7"/><circle cx="766.3" cy="905.7" r="3.7"/><circle cx="768.5" cy="903.1" r="3.7"/><circle cx="770.7" cy="903.2" r="3.7"/><circle cx="772.9" cy="908.6" r="3.7"/><circle cx="775.1" cy="907.8" r="3.7"/><circle cx="777.3" cy="904.8" r="3.7"/><circle cx="779.5" cy="906.8" r="3.7"/></g>
<path d="M590.3 931.1V941.4M603.5 936.3V947.9M612.3 925.7V944.8M614.5 924.4V936.2M616.7 938.8V951.4M621.1 928.4V939.4M627.7 921.1V946.8M629.9 928.3V950.3M632.1 930.0V943.4M636.5 929.4V940.3M645.3 931.7V943.4M647.5 924.0V939.8M649.7 921.5V934.6M654.1 926.2V939.4M658.5 932.9V943.2" stroke="#eaa0b9" stroke-width="2.2" stroke-opacity="0.7" fill="none"/>
<g fill="#d8527f" fill-opacity="0.9" stroke="#b8466c" stroke-opacity="0.7" stroke-width="0.8"><circle cx="475.9" cy="979.7" r="3.7"/><circle cx="478.1" cy="975.7" r="3.7"/><circle cx="480.3" cy="972.7" r="3.7"/><circle cx="482.5" cy="978.4" r="3.7"/><circle cx="484.7" cy="976.9" r="3.7"/><circle cx="486.9" cy="976.9" r="3.7"/><circle cx="489.1" cy="975.7" r="3.7"/><circle cx="491.3" cy="979.7" r="3.7"/><circle cx="493.5" cy="975.2" r="3.7"/><circle cx="495.7" cy="975.9" r="3.7"/><circle cx="497.9" cy="971.0" r="3.7"/><circle cx="500.1" cy="973.3" r="3.7"/><circle cx="502.3" cy="972.9" r="3.7"/><circle cx="504.5" cy="974.1" r="3.7"/><circle cx="506.7" cy="974.6" r="3.7"/><circle cx="508.9" cy="972.3" r="3.7"/><circle cx="511.1" cy="977.0" r="3.7"/><circle cx="513.3" cy="971.3" r="3.7"/><circle cx="515.5" cy="972.3" r="3.7"/><circle cx="517.7" cy="973.5" r="3.7"/><circle cx="519.9" cy="970.3" r="3.7"/><circle cx="522.1" cy="973.7" r="3.7"/><circle cx="524.3" cy="973.5" r="3.7"/><circle cx="526.5" cy="971.4" r="3.7"/><circle cx="528.7" cy="975.5" r="3.7"/><circle cx="530.9" cy="971.4" r="3.7"/><circle cx="533.1" cy="971.4" r="3.7"/><circle cx="535.3" cy="968.4" r="3.7"/><circle cx="537.5" cy="966.3" r="3.7"/><circle cx="539.7" cy="967.6" r="3.7"/><circle cx="541.9" cy="967.2" r="3.7"/><circle cx="544.1" cy="965.9" r="3.7"/><circle cx="546.3" cy="967.3" r="3.7"/><circle cx="548.5" cy="960.2" r="3.7"/><circle cx="550.7" cy="961.2" r="3.7"/><circle cx="552.9" cy="958.5" r="3.7"/><circle cx="555.1" cy="963.9" r="3.7"/><circle cx="557.3" cy="958.4" r="3.7"/><circle cx="559.5" cy="957.1" r="3.7"/><circle cx="561.7" cy="954.3" r="3.7"/><circle cx="563.9" cy="957.2" r="3.7"/><circle cx="566.1" cy="952.8" r="3.7"/><circle cx="568.3" cy="952.8" r="3.7"/><circle cx="570.5" cy="946.0" r="3.7"/><circle cx="572.7" cy="952.2" r="3.7"/><circle cx="574.9" cy="948.8" r="3.7"/><circle cx="577.1" cy="947.8" r="3.7"/><circle cx="579.3" cy="948.1" r="3.7"/><circle cx="581.5" cy="942.9" r="3.7"/><circle cx="583.7" cy="941.5" r="3.7"/><circle cx="585.9" cy="942.5" r="3.7"/><circle cx="588.1" cy="940.0" r="3.7"/><circle cx="590.3" cy="936.2" r="3.7"/><circle cx="592.5" cy="935.7" r="3.7"/><circle cx="594.7" cy="932.6" r="3.7"/><circle cx="596.9" cy="936.3" r="3.7"/><circle cx="599.1" cy="937.2" r="3.7"/><circle cx="601.3" cy="934.0" r="3.7"/><circle cx="603.5" cy="942.1" r="3.7"/><circle cx="605.7" cy="928.7" r="3.7"/><circle cx="607.9" cy="934.9" r="3.7"/><circle cx="610.1" cy="944.2" r="3.7"/><circle cx="612.3" cy="935.2" r="3.7"/><circle cx="614.5" cy="930.3" r="3.7"/><circle cx="616.7" cy="945.1" r="3.7"/><circle cx="618.9" cy="941.8" r="3.7"/><circle cx="621.1" cy="933.9" r="3.7"/><circle cx="623.3" cy="944.1" r="3.7"/><circle cx="625.5" cy="935.5" r="3.7"/><circle cx="627.7" cy="933.9" r="3.7"/><circle cx="629.9" cy="939.3" r="3.7"/><circle cx="632.1" cy="936.7" r="3.7"/><circle cx="634.3" cy="932.4" r="3.7"/><circle cx="636.5" cy="934.8" r="3.7"/><circle cx="638.7" cy="930.8" r="3.7"/><circle cx="640.9" cy="935.4" r="3.7"/><circle cx="643.1" cy="934.5" r="3.7"/><circle cx="645.3" cy="937.6" r="3.7"/><circle cx="647.5" cy="931.9" r="3.7"/><circle cx="649.7" cy="928.1" r="3.7"/><circle cx="651.9" cy="928.2" r="3.7"/><circle cx="654.1" cy="932.8" r="3.7"/><circle cx="656.3" cy="940.1" r="3.7"/><circle cx="658.5" cy="938.0" r="3.7"/><circle cx="660.7" cy="933.6" r="3.7"/><circle cx="662.9" cy="940.0" r="3.7"/><circle cx="665.1" cy="934.2" r="3.7"/><circle cx="667.3" cy="942.3" r="3.7"/><circle cx="669.5" cy="939.5" r="3.7"/><circle cx="671.7" cy="945.0" r="3.7"/><circle cx="673.9" cy="947.0" r="3.7"/><circle cx="676.1" cy="947.1" r="3.7"/><circle cx="678.3" cy="951.3" r="3.7"/><circle cx="680.5" cy="950.1" r="3.7"/><circle cx="682.7" cy="954.5" r="3.7"/><circle cx="684.9" cy="958.8" r="3.7"/><circle cx="687.1" cy="962.8" r="3.7"/><circle cx="689.3" cy="960.6" r="3.7"/><circle cx="691.5" cy="960.4" r="3.7"/><circle cx="693.7" cy="959.1" r="3.7"/><circle cx="695.9" cy="964.6" r="3.7"/><circle cx="698.1" cy="959.7" r="3.7"/><circle cx="700.3" cy="962.3" r="3.7"/><circle cx="702.5" cy="965.4" r="3.7"/><circle cx="704.7" cy="962.8" r="3.7"/><circle cx="706.9" cy="969.1" r="3.7"/><circle cx="709.1" cy="968.7" r="3.7"/><circle cx="711.3" cy="965.8" r="3.7"/><circle cx="713.5" cy="966.3" r="3.7"/><circle cx="715.7" cy="965.2" r="3.7"/><circle cx="717.9" cy="965.5" r="3.7"/><circle cx="720.1" cy="969.6" r="3.7"/><circle cx="722.3" cy="970.4" r="3.7"/><circle cx="724.5" cy="970.2" r="3.7"/><circle cx="726.7" cy="970.4" r="3.7"/><circle cx="728.9" cy="969.1" r="3.7"/><circle cx="731.1" cy="971.3" r="3.7"/><circle cx="733.3" cy="968.0" r="3.7"/><circle cx="735.5" cy="971.3" r="3.7"/><circle cx="737.7" cy="974.6" r="3.7"/><circle cx="739.9" cy="974.6" r="3.7"/><circle cx="742.1" cy="971.3" r="3.7"/><circle cx="744.3" cy="971.9" r="3.7"/><circle cx="746.5" cy="975.6" r="3.7"/><circle cx="748.7" cy="976.7" r="3.7"/><circle cx="750.9" cy="970.4" r="3.7"/><circle cx="753.1" cy="972.8" r="3.7"/><circle cx="755.3" cy="974.4" r="3.7"/><circle cx="757.5" cy="976.7" r="3.7"/><circle cx="759.7" cy="972.8" r="3.7"/><circle cx="761.9" cy="976.0" r="3.7"/><circle cx="764.1" cy="974.4" r="3.7"/><circle cx="766.3" cy="979.7" r="3.7"/><circle cx="768.5" cy="976.3" r="3.7"/><circle cx="770.7" cy="975.4" r="3.7"/><circle cx="772.9" cy="975.2" r="3.7"/><circle cx="775.1" cy="978.2" r="3.7"/><circle cx="777.3" cy="977.6" r="3.7"/><circle cx="779.5" cy="974.1" r="3.7"/></g>
<polyline points="566.7,470.0 568.7,468.6 570.7,467.3 572.7,466.1 574.7,464.8 576.7,463.7 578.7,462.5 580.7,461.5 582.7,460.4 584.7,459.4 586.7,458.5 588.7,457.6 590.7,456.8 592.7,455.9 594.7,455.2 596.7,454.5 598.7,453.8 600.7,453.2 602.7,452.6 604.7,452.1 606.7,451.6 608.7,451.2 610.7,450.8 612.7,450.4 614.7,450.1 616.7,449.9 618.7,449.7 620.7,449.5 622.7,449.4 624.7,449.3 626.7,449.3 628.7,449.3 630.7,449.4 632.7,449.5 634.7,449.7 636.7,449.9 638.7,450.1 640.7,450.4 642.7,450.7 644.7,451.1 646.7,451.5 648.7,452.0 650.7,452.5 652.7,453.1 654.7,453.7 656.7,454.3 658.7,455.0 660.7,455.8 662.7,456.6 664.7,457.4 666.7,458.3 668.7,459.2 670.7,460.1 672.7,461.1 674.7,462.2 676.7,463.3" fill="none" stroke="#3b3a6e" stroke-width="1.7" stroke-dasharray="5 3.5"/>
<line x1="668.7" y1="461.3" x2="760.0" y2="478.3" stroke="#4b5aa6" stroke-width="1.7" stroke-dasharray="5 3.5"/>
<polyline points="566.7,525.0 568.7,523.2 570.7,521.6 572.7,519.9 574.7,518.4 576.7,516.8 578.7,515.4 580.7,514.0 582.7,512.7 584.7,511.4 586.7,510.2 588.7,509.0 590.7,507.9 592.7,506.9 594.7,505.9 596.7,505.0 598.7,504.1 600.7,503.3 602.7,502.6 604.7,501.9 606.7,501.3 608.7,500.7 610.7,500.2 612.7,499.8 614.7,499.4 616.7,499.0 618.7,498.8 620.7,498.6 622.7,498.4 624.7,498.3 626.7,498.3 628.7,498.3 630.7,498.4 632.7,498.6 634.7,498.8 636.7,499.1 638.7,499.4 640.7,499.8 642.7,500.3 644.7,500.8 646.7,501.4 648.7,502.1 650.7,502.8 652.7,503.6 654.7,504.5 656.7,505.4 658.7,506.3 660.7,507.4 662.7,508.5 664.7,509.6 666.7,510.9 668.7,512.2 670.7,513.5 672.7,514.9 674.7,516.4 676.7,517.9 678.7,519.5 680.7,521.2 682.7,522.9 684.7,524.7" fill="none" stroke="#3b3a6e" stroke-width="1.7" stroke-dasharray="5 3.5"/>
<line x1="677.0" y1="523.0" x2="765.0" y2="536.7" stroke="#4b5aa6" stroke-width="1.7" stroke-dasharray="5 3.5"/>
<polyline points="563.3,585.0 565.3,583.6 567.3,582.3 569.3,581.0 571.3,579.7 573.3,578.5 575.3,577.4 577.3,576.2 579.3,575.2 581.3,574.1 583.3,573.1 585.3,572.2 587.3,571.3 589.3,570.5 591.3,569.7 593.3,568.9 595.3,568.2 597.3,567.5 599.3,566.9 601.3,566.3 603.3,565.7 605.3,565.2 607.3,564.8 609.3,564.4 611.3,564.0 613.3,563.7 615.3,563.4 617.3,563.2 619.3,563.0 621.3,562.9 623.3,562.8 625.3,562.7 627.3,562.7 629.3,562.8 631.3,562.9 633.3,563.0 635.3,563.3 637.3,563.6 639.3,563.9 641.3,564.3 643.3,564.8 645.3,565.3 647.3,565.9 649.3,566.6 651.3,567.3 653.3,568.1 655.3,568.9 657.3,569.8 659.3,570.8 661.3,571.8 663.3,572.9 665.3,574.0 667.3,575.2 669.3,576.5 671.3,577.8 673.3,579.2 675.3,580.6 677.3,582.1 679.3,583.7 681.3,585.3 683.3,587.0 685.3,588.7" fill="none" stroke="#3b3a6e" stroke-width="1.7" stroke-dasharray="5 3.5"/>
<line x1="678.7" y1="588.0" x2="766.7" y2="596.7" stroke="#4b5aa6" stroke-width="1.7" stroke-dasharray="5 3.5"/>
<polyline points="563.3,645.0 565.3,642.5 567.3,640.0 569.3,637.7 571.3,635.4 573.3,633.2 575.3,631.1 577.3,629.0 579.3,627.0 581.3,625.2 583.3,623.4 585.3,621.7 587.3,620.0 589.3,618.5 591.3,617.0 593.3,615.6 595.3,614.3 597.3,613.1 599.3,611.9 601.3,610.8 603.3,609.8 605.3,608.9 607.3,608.1 609.3,607.4 611.3,606.7 613.3,606.1 615.3,605.6 617.3,605.2 619.3,604.9 621.3,604.6 623.3,604.4 625.3,604.3 627.3,604.3 629.3,604.4 631.3,604.5 633.3,604.7 635.3,605.0 637.3,605.4 639.3,605.9 641.3,606.4 643.3,607.0 645.3,607.7 647.3,608.5 649.3,609.3 651.3,610.3 653.3,611.3 655.3,612.4 657.3,613.5 659.3,614.8 661.3,616.1 663.3,617.5 665.3,619.0 667.3,620.5 669.3,622.2 671.3,623.9 673.3,625.7 675.3,627.6 677.3,629.5 679.3,631.6 681.3,633.7 683.3,635.9 685.3,638.1 687.3,640.5" fill="none" stroke="#3b3a6e" stroke-width="1.7" stroke-dasharray="5 3.5"/>
<line x1="680.3" y1="639.7" x2="770.0" y2="655.0" stroke="#4b5aa6" stroke-width="1.7" stroke-dasharray="5 3.5"/>
<polyline points="563.3,688.3 565.3,685.6 567.3,683.0 569.3,680.5 571.3,678.1 573.3,675.7 575.3,673.5 577.3,671.3 579.3,669.2 581.3,667.2 583.3,665.3 585.3,663.5 587.3,661.7 589.3,660.1 591.3,658.5 593.3,657.0 595.3,655.6 597.3,654.3 599.3,653.1 601.3,651.9 603.3,650.9 605.3,649.9 607.3,649.1 609.3,648.3 611.3,647.6 613.3,646.9 615.3,646.4 617.3,646.0 619.3,645.6 621.3,645.3 623.3,645.1 625.3,645.0 627.3,645.0 629.3,645.1 631.3,645.2 633.3,645.5 635.3,645.8 637.3,646.2 639.3,646.7 641.3,647.3 643.3,647.9 645.3,648.7 647.3,649.5 649.3,650.4 651.3,651.4 653.3,652.5 655.3,653.7 657.3,655.0 659.3,656.3 661.3,657.7 663.3,659.3 665.3,660.9 667.3,662.5 669.3,664.3 671.3,666.2 673.3,668.1 675.3,670.1 677.3,672.2 679.3,674.4 681.3,676.7 683.3,679.1 685.3,681.5" fill="none" stroke="#3b3a6e" stroke-width="1.7" stroke-dasharray="5 3.5"/>
<line x1="678.7" y1="681.3" x2="770.0" y2="715.0" stroke="#4b5aa6" stroke-width="1.7" stroke-dasharray="5 3.5"/>
<polyline points="564.0,755.2 566.0,753.4 568.0,751.6 570.0,749.9 572.0,748.2 574.0,746.6 576.0,745.0 578.0,743.6 580.0,742.1 582.0,740.8 584.0,739.5 586.0,738.2 588.0,737.1 590.0,735.9 592.0,734.9 594.0,733.9 596.0,732.9 598.0,732.0 600.0,731.2 602.0,730.5 604.0,729.8 606.0,729.1 608.0,728.5 610.0,728.0 612.0,727.6 614.0,727.2 616.0,726.8 618.0,726.5 620.0,726.3 622.0,726.1 624.0,726.0 626.0,726.0 628.0,726.0 630.0,726.1 632.0,726.2 634.0,726.4 636.0,726.7 638.0,727.0 640.0,727.4 642.0,727.9 644.0,728.4 646.0,728.9 648.0,729.6 650.0,730.3 652.0,731.0 654.0,731.8 656.0,732.7 658.0,733.6 660.0,734.6 662.0,735.7 664.0,736.8 666.0,738.0 668.0,739.2 670.0,740.5 672.0,741.9 674.0,743.3 676.0,744.8 678.0,746.3 680.0,747.9 682.0,749.6 684.0,751.3 686.0,753.1" fill="none" stroke="#3b3a6e" stroke-width="1.7" stroke-dasharray="5 3.5"/>
<line x1="679.5" y1="752.5" x2="769.0" y2="775.0" stroke="#4b5aa6" stroke-width="1.7" stroke-dasharray="5 3.5"/>
<polyline points="564.0,816.6 566.0,815.0 568.0,813.4 570.0,811.9 572.0,810.4 574.0,809.0 576.0,807.6 578.0,806.3 580.0,805.0 582.0,803.8 584.0,802.7 586.0,801.6 588.0,800.5 590.0,799.5 592.0,798.6 594.0,797.7 596.0,796.8 598.0,796.1 600.0,795.3 602.0,794.7 604.0,794.0 606.0,793.5 608.0,793.0 610.0,792.5 612.0,792.1 614.0,791.7 616.0,791.4 618.0,791.2 620.0,791.0 622.0,790.8 624.0,790.7 626.0,790.7 628.0,790.7 630.0,790.8 632.0,790.9 634.0,791.1 636.0,791.4 638.0,791.7 640.0,792.0 642.0,792.5 644.0,793.0 646.0,793.5 648.0,794.1 650.0,794.8 652.0,795.5 654.0,796.3 656.0,797.1 658.0,798.0 660.0,798.9 662.0,799.9 664.0,801.0 666.0,802.1 668.0,803.3 670.0,804.6 672.0,805.9 674.0,807.2 676.0,808.6 678.0,810.1 680.0,811.7 682.0,813.2 684.0,814.9" fill="none" stroke="#3b3a6e" stroke-width="1.7" stroke-dasharray="5 3.5"/>
<line x1="676.0" y1="812.9" x2="769.0" y2="836.2" stroke="#4b5aa6" stroke-width="1.7" stroke-dasharray="5 3.5"/>
</g>
<text transform="translate(772.70 456.00) scale(0.93 1)" text-anchor="end" fill="#16a07e" font-size="14.8"><tspan font-style="italic">ν</tspan> = −2.24</text>
<text transform="translate(772.70 515.00) scale(0.93 1)" text-anchor="end" fill="#30a878" font-size="14.8"><tspan font-style="italic">ν</tspan> = −2.26</text>
<text transform="translate(772.70 571.00) scale(0.93 1)" text-anchor="end" fill="#6cba7b" font-size="14.8"><tspan font-style="italic">ν</tspan> = −2.29</text>
<text transform="translate(772.70 630.00) scale(0.93 1)" text-anchor="end" fill="#a9cd8b" font-size="14.8"><tspan font-style="italic">ν</tspan> = −2.31</text>
<text transform="translate(772.70 680.00) scale(0.93 1)" text-anchor="end" fill="#f1d487" font-size="14.8"><tspan font-style="italic">ν</tspan> = −2.33</text>
<text transform="translate(772.70 741.00) scale(0.93 1)" text-anchor="end" fill="#f0b274" font-size="14.8"><tspan font-style="italic">ν</tspan> = −2.35</text>
<text transform="translate(772.70 806.70) scale(0.93 1)" text-anchor="end" fill="#eb9472" font-size="14.8"><tspan font-style="italic">ν</tspan> = −2.37</text>
<text transform="translate(772.70 879.50) scale(0.93 1)" text-anchor="end" fill="#e07572" font-size="14.8"><tspan font-style="italic">ν</tspan> = −2.41</text>
<text transform="translate(772.70 953.00) scale(0.93 1)" text-anchor="end" fill="#d8527f" font-size="14.8"><tspan font-style="italic">ν</tspan> = −2.47</text>
<rect x="474.9" y="412.7" width="303.8" height="591.0" fill="none" stroke="#8a8a8a" stroke-width="1.4"/>
<line x1="474.90" y1="1003.70" x2="484.40" y2="1003.70" stroke="#6b6b6b" stroke-width="1.1"/>
<text transform="translate(467.00 1009.00) scale(0.885 1)" text-anchor="end" font-size="16.6">0</text>
<line x1="474.90" y1="896.35" x2="484.40" y2="896.35" stroke="#6b6b6b" stroke-width="1.1"/>
<text transform="translate(467.00 901.65) scale(0.885 1)" text-anchor="end" font-size="16.6">0.5</text>
<line x1="474.90" y1="789.00" x2="484.40" y2="789.00" stroke="#6b6b6b" stroke-width="1.1"/>
<text transform="translate(467.00 794.30) scale(0.885 1)" text-anchor="end" font-size="16.6">1.0</text>
<line x1="474.90" y1="681.65" x2="484.40" y2="681.65" stroke="#6b6b6b" stroke-width="1.1"/>
<text transform="translate(467.00 686.95) scale(0.885 1)" text-anchor="end" font-size="16.6">1.5</text>
<line x1="474.90" y1="574.30" x2="484.40" y2="574.30" stroke="#6b6b6b" stroke-width="1.1"/>
<text transform="translate(467.00 579.60) scale(0.885 1)" text-anchor="end" font-size="16.6">2.0</text>
<line x1="474.90" y1="466.95" x2="484.40" y2="466.95" stroke="#6b6b6b" stroke-width="1.1"/>
<text transform="translate(467.00 472.25) scale(0.885 1)" text-anchor="end" font-size="16.6">2.5</text>
<line x1="475.00" y1="1003.70" x2="475.00" y2="994.70" stroke="#6b6b6b" stroke-width="1.1"/>
<text transform="translate(475.00 1023.60) scale(0.885 1)" text-anchor="middle" font-size="16.6">−0.10</text>
<line x1="550.70" y1="1003.70" x2="550.70" y2="994.70" stroke="#6b6b6b" stroke-width="1.1"/>
<text transform="translate(550.70 1023.60) scale(0.885 1)" text-anchor="middle" font-size="16.6">−0.05</text>
<line x1="626.40" y1="1003.70" x2="626.40" y2="994.70" stroke="#6b6b6b" stroke-width="1.1"/>
<text transform="translate(626.40 1023.60) scale(0.885 1)" text-anchor="middle" font-size="16.6">0</text>
<line x1="702.10" y1="1003.70" x2="702.10" y2="994.70" stroke="#6b6b6b" stroke-width="1.1"/>
<text transform="translate(702.10 1023.60) scale(0.885 1)" text-anchor="middle" font-size="16.6">0.05</text>
<line x1="777.80" y1="1003.70" x2="777.80" y2="994.70" stroke="#6b6b6b" stroke-width="1.1"/>
<text transform="translate(777.80 1023.60) scale(0.885 1)" text-anchor="middle" font-size="16.6">0.10</text>
<text transform="translate(626.60 1049.70) scale(0.885 1)" text-anchor="middle" font-size="16.6"><tspan font-style="italic">I</tspan> (µA)</text>
<text transform="translate(436.00 708.00) rotate(-90) scale(0.885 1)" text-anchor="middle" font-size="16.6"><tspan font-style="italic">ρ</tspan><tspan font-size="12" dy="3.5">s</tspan><tspan dy="-3.5"> (K)</tspan></text>
<text transform="translate(409.50 420.70)" font-weight="bold" font-size="19.5">d</text>
<rect x="890.3" y="18.0" width="304.3" height="192.0" fill="none" stroke="#8a8a8a" stroke-width="1.3"/>
<line x1="890.30" y1="201.40" x2="899.30" y2="201.40" stroke="#6b6b6b" stroke-width="1.1"/>
<text transform="translate(883.50 206.70) scale(0.885 1)" text-anchor="end" font-size="16.6">0</text>
<line x1="890.30" y1="137.10" x2="899.30" y2="137.10" stroke="#6b6b6b" stroke-width="1.1"/>
<text transform="translate(883.50 142.40) scale(0.885 1)" text-anchor="end" font-size="16.6">50</text>
<line x1="890.30" y1="72.80" x2="899.30" y2="72.80" stroke="#6b6b6b" stroke-width="1.1"/>
<text transform="translate(883.50 78.10) scale(0.885 1)" text-anchor="end" font-size="16.6">100</text>
<line x1="893.80" y1="210.00" x2="893.80" y2="201.50" stroke="#6b6b6b" stroke-width="1.1"/>
<text transform="translate(893.80 230.80) scale(0.885 1)" text-anchor="middle" font-size="16.6">0</text>
<line x1="961.64" y1="210.00" x2="961.64" y2="201.50" stroke="#6b6b6b" stroke-width="1.1"/>
<text transform="translate(961.64 230.80) scale(0.885 1)" text-anchor="middle" font-size="16.6">0.2</text>
<line x1="1029.48" y1="210.00" x2="1029.48" y2="201.50" stroke="#6b6b6b" stroke-width="1.1"/>
<text transform="translate(1029.48 230.80) scale(0.885 1)" text-anchor="middle" font-size="16.6">0.4</text>
<line x1="1097.32" y1="210.00" x2="1097.32" y2="201.50" stroke="#6b6b6b" stroke-width="1.1"/>
<text transform="translate(1097.32 230.80) scale(0.885 1)" text-anchor="middle" font-size="16.6">0.6</text>
<line x1="1165.16" y1="210.00" x2="1165.16" y2="201.50" stroke="#6b6b6b" stroke-width="1.1"/>
<text transform="translate(1165.16 230.80) scale(0.885 1)" text-anchor="middle" font-size="16.6">0.8</text>
<text transform="translate(1041.70 255.50) scale(0.885 1)" text-anchor="middle" font-size="16.6"><tspan font-style="italic">T</tspan> (K)</text>
<text transform="translate(846.00 114.00) rotate(-90) scale(0.885 1)" text-anchor="middle" font-size="16.6"><tspan font-style="italic">b</tspan> (K µA<tspan font-size="11.5" dy="-6.5">−2</tspan><tspan dy="6.5">)</tspan></text>
<text transform="translate(828.50 13.60)" font-weight="bold" font-size="19.5">e</text>
<polyline points="904.5,32.0 913.4,79.2 922.9,78.2 931.8,108.0 941.9,121.6 950.8,144.1 960.0,162.1 968.8,172.6 978.3,174.5 987.8,187.1 996.4,184.3 1006.2,189.0 1015.0,190.0 1023.6,189.0 1033.1,197.3 1041.7,197.3 1051.2,195.4 1060.0,198.5 1070.2,197.3 1079.0,199.2 1088.5,197.9 1098.0,199.2 1106.9,196.3 1116.4,197.9 1126.5,197.9 1135.7,200.1 1143.9,197.9 1154.0,198.5 1162.9,200.4 1169.9,198.9 1181.0,197.9" fill="none" stroke="#8cba8c" stroke-width="2.2"/>
<g fill="#3f8a4a" stroke="#2f7a3c" stroke-width="0.6"><circle cx="904.5" cy="32.0" r="4.2"/><circle cx="913.4" cy="79.2" r="4.2"/><circle cx="922.9" cy="78.2" r="4.2"/><circle cx="931.8" cy="108.0" r="4.2"/><circle cx="941.9" cy="121.6" r="4.2"/><circle cx="950.8" cy="144.1" r="4.2"/><circle cx="960.0" cy="162.1" r="4.2"/><circle cx="968.8" cy="172.6" r="4.2"/><circle cx="978.3" cy="174.5" r="4.2"/><circle cx="987.8" cy="187.1" r="4.2"/><circle cx="996.4" cy="184.3" r="4.2"/><circle cx="1006.2" cy="189.0" r="4.2"/><circle cx="1015.0" cy="190.0" r="4.2"/><circle cx="1023.6" cy="189.0" r="4.2"/><circle cx="1033.1" cy="197.3" r="4.2"/><circle cx="1041.7" cy="197.3" r="4.2"/><circle cx="1051.2" cy="195.4" r="4.2"/><circle cx="1060.0" cy="198.5" r="4.2"/><circle cx="1070.2" cy="197.3" r="4.2"/><circle cx="1079.0" cy="199.2" r="4.2"/><circle cx="1088.5" cy="197.9" r="4.2"/><circle cx="1098.0" cy="199.2" r="4.2"/><circle cx="1106.9" cy="196.3" r="4.2"/><circle cx="1116.4" cy="197.9" r="4.2"/><circle cx="1126.5" cy="197.9" r="4.2"/><circle cx="1135.7" cy="200.1" r="4.2"/><circle cx="1143.9" cy="197.9" r="4.2"/><circle cx="1154.0" cy="198.5" r="4.2"/><circle cx="1162.9" cy="200.4" r="4.2"/><circle cx="1169.9" cy="198.9" r="4.2"/><circle cx="1181.0" cy="197.9" r="4.2"/></g>
<rect x="890.3" y="287.2" width="304.3" height="204.2" fill="none" stroke="#8a8a8a" stroke-width="1.3"/>
<line x1="890.30" y1="491.40" x2="899.30" y2="491.40" stroke="#6b6b6b" stroke-width="1.1"/>
<text transform="translate(883.50 496.70) scale(0.885 1)" text-anchor="end" font-size="16.6">0</text>
<line x1="890.30" y1="418.20" x2="899.30" y2="418.20" stroke="#6b6b6b" stroke-width="1.1"/>
<text transform="translate(883.50 423.50) scale(0.885 1)" text-anchor="end" font-size="16.6">50</text>
<line x1="890.30" y1="345.00" x2="899.30" y2="345.00" stroke="#6b6b6b" stroke-width="1.1"/>
<text transform="translate(883.50 350.30) scale(0.885 1)" text-anchor="end" font-size="16.6">100</text>
<line x1="889.70" y1="491.40" x2="889.70" y2="482.90" stroke="#6b6b6b" stroke-width="1.1"/>
<text transform="translate(888.70 510.40) scale(0.885 1)" text-anchor="middle" font-size="16.6">−2.6</text>
<line x1="964.10" y1="491.40" x2="964.10" y2="482.90" stroke="#6b6b6b" stroke-width="1.1"/>
<text transform="translate(963.10 510.40) scale(0.885 1)" text-anchor="middle" font-size="16.6">−2.5</text>
<line x1="1038.50" y1="491.40" x2="1038.50" y2="482.90" stroke="#6b6b6b" stroke-width="1.1"/>
<text transform="translate(1037.50 510.40) scale(0.885 1)" text-anchor="middle" font-size="16.6">−2.4</text>
<line x1="1112.90" y1="491.40" x2="1112.90" y2="482.90" stroke="#6b6b6b" stroke-width="1.1"/>
<text transform="translate(1111.90 510.40) scale(0.885 1)" text-anchor="middle" font-size="16.6">−2.3</text>
<line x1="1187.30" y1="491.40" x2="1187.30" y2="482.90" stroke="#6b6b6b" stroke-width="1.1"/>
<text transform="translate(1186.30 510.40) scale(0.885 1)" text-anchor="middle" font-size="16.6">−2.2</text>
<text transform="translate(1041.00 534.90) scale(0.885 1)" text-anchor="middle" font-style="italic" font-size="16" font-family='"Liberation Serif", serif'>ν</text>
<text transform="translate(846.00 385.00) rotate(-90) scale(0.885 1)" text-anchor="middle" font-size="16.6"><tspan font-style="italic">b</tspan> (K µA<tspan font-size="11.5" dy="-6.5">−2</tspan><tspan dy="6.5">)</tspan></text>
<text transform="translate(828.50 290.00)" font-weight="bold" font-size="19.5">f</text>
<g transform="translate(0 0.0)"><path d="M979 475.6V356" stroke="#72777d" stroke-width="1.6" fill="none"/><path d="M974.5 362 L979 352 L983.5 362 Z" fill="#72777d"/><path d="M901.7 472.4 L1049 463.4" stroke="#72777d" stroke-width="1.6" fill="none"/><path d="M1046 458.8 L1056 463 L1046.6 467.6 Z" fill="#72777d"/><text transform="translate(968.00 364.50) scale(0.95 1)" text-anchor="middle" fill="#6b7077" font-style="italic" font-size="18">E</text><path d="M992.6 419.5 L957 425.6" stroke="#f0a13a" stroke-width="1.6" fill="none"/><path d="M958.5 421 L950.5 426.8 L960 430 Z" fill="#f0a13a"/><text transform="translate(999.80 426.50) scale(0.95 1)" text-anchor="middle" fill="#eea444" font-style="italic" font-size="18">I</text><path d="M916.6 421V478 M1040.7 414V468" stroke="#72777d" stroke-width="0.9" stroke-dasharray="2.5 2" fill="none"/><text transform="translate(913.00 484.50) scale(0.92 1)" text-anchor="middle" fill="#6b7077" font-size="17">−<tspan font-style="italic">k</tspan><tspan font-size="12" dy="4">F</tspan></text><text transform="translate(1044.00 477.50) scale(0.92 1)" text-anchor="middle" fill="#6b7077" font-size="17"><tspan font-style="italic">k</tspan><tspan font-size="12" dy="4">F</tspan></text><defs><linearGradient id="pkf" x1="0" y1="0" x2="0" y2="1"><stop offset="0" stop-color="#dc5a6e"/><stop offset="1" stop-color="#fbe2dc" stop-opacity="0.15"/></linearGradient><linearGradient id="blf" x1="0" y1="1" x2="0" y2="0"><stop offset="0" stop-color="#2f6fc0"/><stop offset="1" stop-color="#cfe0f4" stop-opacity="0.2"/></linearGradient></defs><path d="M916.6 420.2 L900.7 447 Q916 462 932.4 457 Z" fill="url(#pkf)" opacity="0.8"/><path d="M916.6 420.2 L909 405 Q918 410 925 404 Z" fill="url(#blf)" opacity="0.7"/><ellipse cx="916.5" cy="392.6" rx="17" ry="7" transform="rotate(25 916.5 392.6)" fill="none" stroke="#111" stroke-width="1.3"/><path d="M901.2 383 L916.6 420.2 L932 401.5" fill="none" stroke="#111" stroke-width="1.3"/><path d="M900.7 443 L916.6 420.2 L932.4 458.5" fill="none" stroke="#111" stroke-width="1.3"/><path d="M900.7 443 Q902 456 920 458 Q931 460 932.4 458.5" fill="none" stroke="#111" stroke-width="1.3"/><path d="M900.7 443 Q905 436 918 440 Q930 446 932.4 458.5" fill="none" stroke="#111" stroke-width="1.1" stroke-dasharray="2.5 1.8"/><path d="M916.6 420.2 L907 451" stroke="#f0a13a" stroke-width="1.4"/><path d="M916.6 420.2 L928 459" stroke="#b04aa0" stroke-width="1.6"/><path d="M939.7 354.6 Q928 392 915.6 420.2 Q912 445 929.2 466" fill="none" stroke="#222" stroke-width="1.1"/><path d="M1025.8 376.5 L1040.7 413.2 L1056.9 393.2 Q1042 392 1025.8 376.5 Z" fill="url(#blf)"/><ellipse cx="1041.3" cy="384.8" rx="17" ry="7" transform="rotate(25 1041.3 384.8)" fill="none" stroke="#111" stroke-width="1.3"/><path d="M1025.8 376.5 L1040.7 413.2 L1056.9 393.2" fill="none" stroke="#111" stroke-width="1.3"/><path d="M1025.2 436 L1040.7 413.2 L1056.9 451.8" fill="none" stroke="#111" stroke-width="1.3"/><path d="M1025.2 436 Q1027 449 1044 451 Q1055 453 1056.9 451.8" fill="none" stroke="#111" stroke-width="1.3"/><path d="M1025.2 436 Q1030 429 1043 433 Q1054 439 1056.9 451.8" fill="none" stroke="#111" stroke-width="1.1" stroke-dasharray="2.5 1.8"/><path d="M1040.7 413.2 L1030 446" stroke="#f0a13a" stroke-width="1.4"/><path d="M1040.7 413.2 L1053 452" stroke="#b04aa0" stroke-width="1.6"/><path d="M1020.1 355.2 Q1032 385 1040.7 413.2 Q1035 430 1027.4 458.2" fill="none" stroke="#222" stroke-width="1.1"/></g>
<polyline points="1061.3,383.1 1077.1,374.9 1092.3,321.4 1108.2,336.6 1124.0,395.8 1139.8,372.7 1155.0,400.2 1170.5,389.4 1186.4,431.2" fill="none" stroke="#8cba8c" stroke-width="2.4"/>
<path d="M1061.3 378.1V388.1M1077.1 369.9V379.9M1092.3 300.4V342.4M1108.2 325.6V347.6M1124.0 390.8V400.8M1139.8 366.7V378.7M1155.0 395.2V405.2M1170.5 384.4V394.4M1186.4 422.2V440.2" stroke="#7aaf7c" stroke-width="2" fill="none"/>
<g fill="#3f8a4a" stroke="#2f7a3c" stroke-width="0.6"><circle cx="1061.3" cy="383.1" r="5.0"/><circle cx="1077.1" cy="374.9" r="5.0"/><circle cx="1092.3" cy="321.4" r="5.0"/><circle cx="1108.2" cy="336.6" r="5.0"/><circle cx="1124.0" cy="395.8" r="5.0"/><circle cx="1139.8" cy="372.7" r="5.0"/><circle cx="1155.0" cy="400.2" r="5.0"/><circle cx="1170.5" cy="389.4" r="5.0"/><circle cx="1186.4" cy="431.2" r="5.0"/></g>
<rect x="890.3" y="545.6" width="304.3" height="204.2" fill="none" stroke="#8a8a8a" stroke-width="1.3"/>
<line x1="890.30" y1="749.80" x2="899.30" y2="749.80" stroke="#6b6b6b" stroke-width="1.1"/>
<text transform="translate(883.50 755.10) scale(0.885 1)" text-anchor="end" font-size="16.6">0</text>
<line x1="890.30" y1="679.60" x2="899.30" y2="679.60" stroke="#6b6b6b" stroke-width="1.1"/>
<text transform="translate(883.50 684.90) scale(0.885 1)" text-anchor="end" font-size="16.6">1</text>
<line x1="890.30" y1="609.40" x2="899.30" y2="609.40" stroke="#6b6b6b" stroke-width="1.1"/>
<text transform="translate(883.50 614.70) scale(0.885 1)" text-anchor="end" font-size="16.6">2</text>
<line x1="889.70" y1="749.80" x2="889.70" y2="741.30" stroke="#6b6b6b" stroke-width="1.1"/>
<text transform="translate(888.70 768.60) scale(0.885 1)" text-anchor="middle" font-size="16.6">−2.6</text>
<line x1="964.10" y1="749.80" x2="964.10" y2="741.30" stroke="#6b6b6b" stroke-width="1.1"/>
<text transform="translate(963.10 768.60) scale(0.885 1)" text-anchor="middle" font-size="16.6">−2.5</text>
<line x1="1038.50" y1="749.80" x2="1038.50" y2="741.30" stroke="#6b6b6b" stroke-width="1.1"/>
<text transform="translate(1037.50 768.60) scale(0.885 1)" text-anchor="middle" font-size="16.6">−2.4</text>
<line x1="1112.90" y1="749.80" x2="1112.90" y2="741.30" stroke="#6b6b6b" stroke-width="1.1"/>
<text transform="translate(1111.90 768.60) scale(0.885 1)" text-anchor="middle" font-size="16.6">−2.3</text>
<line x1="1187.30" y1="749.80" x2="1187.30" y2="741.30" stroke="#6b6b6b" stroke-width="1.1"/>
<text transform="translate(1186.30 768.60) scale(0.885 1)" text-anchor="middle" font-size="16.6">−2.2</text>
<text transform="translate(1041.00 793.10) scale(0.885 1)" text-anchor="middle" font-style="italic" font-size="16" font-family='"Liberation Serif", serif'>ν</text>
<text transform="translate(860.50 648.00) rotate(-90) scale(0.885 1)" text-anchor="middle" font-size="16.6"><tspan font-style="italic">c</tspan> (K µA<tspan font-size="11.5" dy="-6.5">−1</tspan><tspan dy="6.5">)</tspan></text>
<text transform="translate(828.50 550.00)" font-weight="bold" font-size="19.5">g</text>
<g transform="translate(0 258.5)"><path d="M979 475.6V356" stroke="#72777d" stroke-width="1.6" fill="none"/><path d="M974.5 362 L979 352 L983.5 362 Z" fill="#72777d"/><path d="M901.7 472.4 L1049 463.4" stroke="#72777d" stroke-width="1.6" fill="none"/><path d="M1046 458.8 L1056 463 L1046.6 467.6 Z" fill="#72777d"/><text transform="translate(968.00 364.50) scale(0.95 1)" text-anchor="middle" fill="#6b7077" font-style="italic" font-size="18">E</text><path d="M992.6 419.5 L957 425.6" stroke="#f0a13a" stroke-width="1.6" fill="none"/><path d="M958.5 421 L950.5 426.8 L960 430 Z" fill="#f0a13a"/><text transform="translate(999.80 426.50) scale(0.95 1)" text-anchor="middle" fill="#eea444" font-style="italic" font-size="18">I</text><path d="M916.6 421V478 M1040.7 414V468" stroke="#72777d" stroke-width="0.9" stroke-dasharray="2.5 2" fill="none"/><text transform="translate(913.00 484.50) scale(0.92 1)" text-anchor="middle" fill="#6b7077" font-size="17">−<tspan font-style="italic">k</tspan><tspan font-size="12" dy="4">F</tspan></text><text transform="translate(1044.00 477.50) scale(0.92 1)" text-anchor="middle" fill="#6b7077" font-size="17"><tspan font-style="italic">k</tspan><tspan font-size="12" dy="4">F</tspan></text><defs><linearGradient id="pkg" x1="0" y1="0" x2="0" y2="1"><stop offset="0" stop-color="#dc5a6e"/><stop offset="1" stop-color="#fbe2dc" stop-opacity="0.15"/></linearGradient><linearGradient id="blg" x1="0" y1="1" x2="0" y2="0"><stop offset="0" stop-color="#2f6fc0"/><stop offset="1" stop-color="#cfe0f4" stop-opacity="0.2"/></linearGradient></defs><path d="M916.6 420.2 L906 434 Q915 438 924 433 Z" fill="#e8909a" opacity="0.8"/><ellipse cx="916.5" cy="392.6" rx="17" ry="7" transform="rotate(25 916.5 392.6)" fill="none" stroke="#111" stroke-width="1.3"/><path d="M901.2 383 L916.6 420.2 L932 401.5" fill="none" stroke="#111" stroke-width="1.3"/><path d="M900.7 443 L916.6 420.2 L932.4 458.5" fill="none" stroke="#111" stroke-width="1.3"/><path d="M900.7 443 Q902 456 920 458 Q931 460 932.4 458.5" fill="none" stroke="#111" stroke-width="1.3"/><path d="M900.7 443 Q905 436 918 440 Q930 446 932.4 458.5" fill="none" stroke="#111" stroke-width="1.1" stroke-dasharray="2.5 1.8"/><path d="M916.6 420.2 L907 451" stroke="#f0a13a" stroke-width="1.4"/><path d="M916.6 420.2 L928 459" stroke="#b04aa0" stroke-width="1.6"/><path d="M939.7 354.6 Q928 392 915.6 420.2 Q912 445 929.2 466" fill="none" stroke="#222" stroke-width="1.1"/><path d="M1033 395 L1040.7 413.2 L1050 396 Q1042 392 1033 395 Z" fill="#2f6fc0"/><path d="M1030 388 L1033 395 Q1042 392 1050 396 L1053 390 Q1042 386 1030 388 Z" fill="#9cc0e8"/><ellipse cx="1041.3" cy="384.8" rx="17" ry="7" transform="rotate(25 1041.3 384.8)" fill="none" stroke="#111" stroke-width="1.3"/><path d="M1025.8 376.5 L1040.7 413.2 L1056.9 393.2" fill="none" stroke="#111" stroke-width="1.3"/><path d="M1025.2 436 L1040.7 413.2 L1056.9 451.8" fill="none" stroke="#111" stroke-width="1.3"/><path d="M1025.2 436 Q1027 449 1044 451 Q1055 453 1056.9 451.8" fill="none" stroke="#111" stroke-width="1.3"/><path d="M1025.2 436 Q1030 429 1043 433 Q1054 439 1056.9 451.8" fill="none" stroke="#111" stroke-width="1.1" stroke-dasharray="2.5 1.8"/><path d="M1040.7 413.2 L1030 446" stroke="#f0a13a" stroke-width="1.4"/><path d="M1040.7 413.2 L1053 452" stroke="#b04aa0" stroke-width="1.6"/><path d="M1020.1 355.2 Q1032 385 1040.7 413.2 Q1035 430 1027.4 458.2" fill="none" stroke="#222" stroke-width="1.1"/></g>
<polyline points="1061.3,623.2 1077.1,594.0 1092.3,561.7 1108.2,632.7 1124.0,653.2 1139.8,644.7 1155.0,661.2 1170.5,672.2 1186.4,676.4" fill="none" stroke="#e9907c" stroke-width="2.4"/>
<path d="M1061.3 613.2V633.2M1077.1 584.0V604.0M1092.3 549.7V573.7M1108.2 625.7V639.7M1124.0 645.2V661.2M1139.8 638.7V650.7M1155.0 654.2V668.2M1170.5 668.2V676.2M1186.4 668.4V684.4" stroke="#e58a78" stroke-width="2" fill="none"/>
<g fill="#d2412f" stroke="#c03424" stroke-width="0.6"><circle cx="1061.3" cy="623.2" r="5.0"/><circle cx="1077.1" cy="594.0" r="5.0"/><circle cx="1092.3" cy="561.7" r="5.0"/><circle cx="1108.2" cy="632.7" r="5.0"/><circle cx="1124.0" cy="653.2" r="5.0"/><circle cx="1139.8" cy="644.7" r="5.0"/><circle cx="1155.0" cy="661.2" r="5.0"/><circle cx="1170.5" cy="672.2" r="5.0"/><circle cx="1186.4" cy="676.4" r="5.0"/></g>
<rect x="890.3" y="804.0" width="304.3" height="204.2" fill="none" stroke="#8a8a8a" stroke-width="1.3"/>
<line x1="890.30" y1="964.20" x2="899.30" y2="964.20" stroke="#6b6b6b" stroke-width="1.1"/>
<text transform="translate(883.50 969.50) scale(0.885 1)" text-anchor="end" font-size="16.6">0.1</text>
<line x1="890.30" y1="879.40" x2="899.30" y2="879.40" stroke="#6b6b6b" stroke-width="1.1"/>
<text transform="translate(883.50 884.70) scale(0.885 1)" text-anchor="end" font-size="16.6">1</text>
<line x1="890.30" y1="820.13" x2="899.30" y2="820.13" stroke="#6b6b6b" stroke-width="1.1"/>
<text transform="translate(883.50 825.43) scale(0.885 1)" text-anchor="end" font-size="16.6">5</text>
<line x1="890.30" y1="997.95" x2="895.30" y2="997.95" stroke="#6b6b6b" stroke-width="1"/>
<line x1="890.30" y1="989.73" x2="895.30" y2="989.73" stroke="#6b6b6b" stroke-width="1"/>
<line x1="890.30" y1="983.01" x2="895.30" y2="983.01" stroke="#6b6b6b" stroke-width="1"/>
<line x1="890.30" y1="977.34" x2="895.30" y2="977.34" stroke="#6b6b6b" stroke-width="1"/>
<line x1="890.30" y1="972.42" x2="895.30" y2="972.42" stroke="#6b6b6b" stroke-width="1"/>
<line x1="890.30" y1="968.08" x2="895.30" y2="968.08" stroke="#6b6b6b" stroke-width="1"/>
<line x1="890.30" y1="938.67" x2="895.30" y2="938.67" stroke="#6b6b6b" stroke-width="1"/>
<line x1="890.30" y1="923.74" x2="895.30" y2="923.74" stroke="#6b6b6b" stroke-width="1"/>
<line x1="890.30" y1="913.15" x2="895.30" y2="913.15" stroke="#6b6b6b" stroke-width="1"/>
<line x1="890.30" y1="904.93" x2="895.30" y2="904.93" stroke="#6b6b6b" stroke-width="1"/>
<line x1="890.30" y1="898.21" x2="895.30" y2="898.21" stroke="#6b6b6b" stroke-width="1"/>
<line x1="890.30" y1="892.54" x2="895.30" y2="892.54" stroke="#6b6b6b" stroke-width="1"/>
<line x1="890.30" y1="887.62" x2="895.30" y2="887.62" stroke="#6b6b6b" stroke-width="1"/>
<line x1="890.30" y1="883.28" x2="895.30" y2="883.28" stroke="#6b6b6b" stroke-width="1"/>
<line x1="890.30" y1="853.87" x2="895.30" y2="853.87" stroke="#6b6b6b" stroke-width="1"/>
<line x1="890.30" y1="838.94" x2="895.30" y2="838.94" stroke="#6b6b6b" stroke-width="1"/>
<line x1="890.30" y1="828.35" x2="895.30" y2="828.35" stroke="#6b6b6b" stroke-width="1"/>
<line x1="890.30" y1="813.41" x2="895.30" y2="813.41" stroke="#6b6b6b" stroke-width="1"/>
<line x1="890.30" y1="807.74" x2="895.30" y2="807.74" stroke="#6b6b6b" stroke-width="1"/>
<line x1="889.70" y1="1008.20" x2="889.70" y2="999.70" stroke="#6b6b6b" stroke-width="1.1"/>
<text transform="translate(888.70 1027.90) scale(0.885 1)" text-anchor="middle" font-size="16.6">−2.6</text>
<line x1="964.10" y1="1008.20" x2="964.10" y2="999.70" stroke="#6b6b6b" stroke-width="1.1"/>
<text transform="translate(963.10 1027.90) scale(0.885 1)" text-anchor="middle" font-size="16.6">−2.5</text>
<line x1="1038.50" y1="1008.20" x2="1038.50" y2="999.70" stroke="#6b6b6b" stroke-width="1.1"/>
<text transform="translate(1037.50 1027.90) scale(0.885 1)" text-anchor="middle" font-size="16.6">−2.4</text>
<line x1="1112.90" y1="1008.20" x2="1112.90" y2="999.70" stroke="#6b6b6b" stroke-width="1.1"/>
<text transform="translate(1111.90 1027.90) scale(0.885 1)" text-anchor="middle" font-size="16.6">−2.3</text>
<line x1="1187.30" y1="1008.20" x2="1187.30" y2="999.70" stroke="#6b6b6b" stroke-width="1.1"/>
<text transform="translate(1186.30 1027.90) scale(0.885 1)" text-anchor="middle" font-size="16.6">−2.2</text>
<text transform="translate(1041.00 1052.40) scale(0.885 1)" text-anchor="middle" font-style="italic" font-size="16" font-family='"Liberation Serif", serif'>ν</text>
<text transform="translate(848.00 907.00) rotate(-90) scale(0.885 1)" text-anchor="middle" font-size="16.6"><tspan font-style="italic">v</tspan> (10<tspan font-size="11.5" dy="-6.5">4</tspan><tspan dy="6.5"> m s</tspan><tspan font-size="11.5" dy="-6.5">−1</tspan><tspan dy="6.5">)</tspan></text>
<text transform="translate(826.50 809.00)" font-weight="bold" font-size="19.5">h</text>
<polyline points="890.3,886.3 893.3,886.1 896.3,885.8 899.3,885.5 902.3,885.2 905.3,884.9 908.3,884.6 911.3,884.2 914.3,883.9 917.3,883.5 920.3,883.1 923.3,882.7 926.3,882.2 929.3,881.8 932.3,881.2 935.3,880.7 938.3,880.1 941.3,879.5 944.3,878.9 947.3,878.3 950.3,877.6 953.3,877.0 956.3,876.4 959.3,875.8 962.3,875.2 965.3,874.7 968.3,874.1 971.3,873.6 974.3,873.1 977.3,872.5 980.3,872.0 983.3,871.5 986.3,871.0 989.3,870.4 992.3,869.9 995.3,869.4 998.3,868.8 1001.3,868.3 1004.3,867.7 1007.3,867.2 1010.3,866.7 1013.3,866.1 1016.3,865.6 1019.3,864.9 1022.3,864.3 1025.3,863.6 1028.3,862.7 1031.3,861.9 1034.3,860.9 1037.3,860.0 1040.3,859.0 1043.3,858.0 1046.3,857.1 1049.3,856.2 1052.3,855.3 1055.3,854.5 1058.3,853.6 1061.3,852.7 1064.3,851.9 1067.3,851.2 1070.3,850.5 1073.3,849.9 1076.3,849.4 1079.3,848.9 1082.3,848.4 1085.3,848.0 1088.3,847.6 1091.3,847.4 1094.3,847.3 1097.3,847.3 1100.3,847.2 1103.3,847.1 1106.3,847.1 1109.3,847.0 1112.3,847.0 1115.3,847.0 1118.3,847.0 1121.3,847.1 1124.3,847.3 1127.3,847.5 1130.3,847.7 1133.3,848.0 1136.3,848.3 1139.3,848.7 1142.3,849.3 1145.3,850.1 1148.3,851.0 1151.3,851.9 1154.3,852.7 1157.3,853.5 1160.3,854.3 1163.3,855.1 1166.3,855.9 1169.3,856.6 1172.3,857.4 1175.3,858.1 1178.3,858.7 1181.3,859.4 1184.3,860.0 1187.3,860.6 1190.3,861.2 1193.3,861.8" fill="none" stroke="#6e2a6e" stroke-width="2.6"/>
<polyline points="1061.3,829.3 1077.1,832.5 1092.3,818.2 1108.2,811.0 1124.0,829.3 1139.8,822.4 1155.0,830.9 1170.5,824.6 1186.4,846.7" fill="none" stroke="#f6c48a" stroke-width="2.4"/>
<path d="M1061.3 825.3V833.3M1077.1 828.5V836.5M1092.3 814.2V822.2M1108.2 808.0V814.0M1124.0 825.3V833.3M1139.8 819.4V825.4M1155.0 826.9V834.9M1170.5 821.6V827.6M1186.4 836.7V856.7" stroke="#f4bc80" stroke-width="2" fill="none"/>
<g fill="#f6b766" stroke="#eea04a" stroke-width="0.8"><circle cx="1061.3" cy="829.3" r="5.0"/><circle cx="1077.1" cy="832.5" r="5.0"/><circle cx="1092.3" cy="818.2" r="5.0"/><circle cx="1108.2" cy="811.0" r="5.0"/><circle cx="1124.0" cy="829.3" r="5.0"/><circle cx="1139.8" cy="822.4" r="5.0"/><circle cx="1155.0" cy="830.9" r="5.0"/><circle cx="1170.5" cy="824.6" r="5.0"/><circle cx="1186.4" cy="846.7" r="5.0"/></g>
<polyline points="1061.3,926.5 1077.1,941.7 1092.3,928.1 1108.2,888.9 1124.0,911.0 1139.8,902.8 1155.0,908.5 1170.5,887.9 1186.4,925.9" fill="none" stroke="#dba6cf" stroke-width="2.4"/>
<path d="M1186.4 908.5V960.7 M1061.3 911.5V941.5M1077.1 931.7V951.7M1092.3 916.1V940.1M1108.2 880.9V896.9M1124.0 896.0V926.0M1139.8 892.8V912.8M1155.0 893.5V923.5M1170.5 877.9V897.9" stroke="#d7a0cb" stroke-width="2" fill="none"/>
<g fill="#c864a8" stroke="#b9539a" stroke-width="0.8"><circle cx="1061.3" cy="926.5" r="5.0"/><circle cx="1077.1" cy="941.7" r="5.0"/><circle cx="1092.3" cy="928.1" r="5.0"/><circle cx="1108.2" cy="888.9" r="5.0"/><circle cx="1124.0" cy="911.0" r="5.0"/><circle cx="1139.8" cy="902.8" r="5.0"/><circle cx="1155.0" cy="908.5" r="5.0"/><circle cx="1170.5" cy="887.9" r="5.0"/><circle cx="1186.4" cy="925.9" r="5.0"/></g>
<circle cx="927.7" cy="925" r="5.0" fill="#f6b766" stroke="#eea04a" stroke-width="0.8"/>
<circle cx="927.7" cy="952.2" r="5.0" fill="#c864a8" stroke="#b9539a" stroke-width="0.8"/>
<line x1="907" y1="980.7" x2="946.7" y2="980.7" stroke="#6e2a6e" stroke-width="2.6"/>
<text transform="translate(954.50 932.00) scale(0.885 1)" font-size="16.6"><tspan font-style="italic">v</tspan><tspan font-size="12" dy="3.5">F</tspan></text>
<text transform="translate(954.50 959.00) scale(0.885 1)" font-size="16.6"><tspan font-style="italic">v</tspan><tspan font-size="12" dy="3.5" font-style="italic">Δ</tspan></text>
<text transform="translate(954.50 985.50) scale(0.885 1)" font-size="16.6"><tspan font-style="italic">v</tspan><tspan font-size="12" dy="3.5">F</tspan><tspan dy="-3.5"> (from </tspan><tspan font-style="italic">ρ</tspan><tspan font-size="12" dy="3.5">s0</tspan><tspan dy="-3.5">(</tspan><tspan font-style="italic" font-family='"Liberation Serif", serif'>ν</tspan>))</text></svg>
</body></html>
